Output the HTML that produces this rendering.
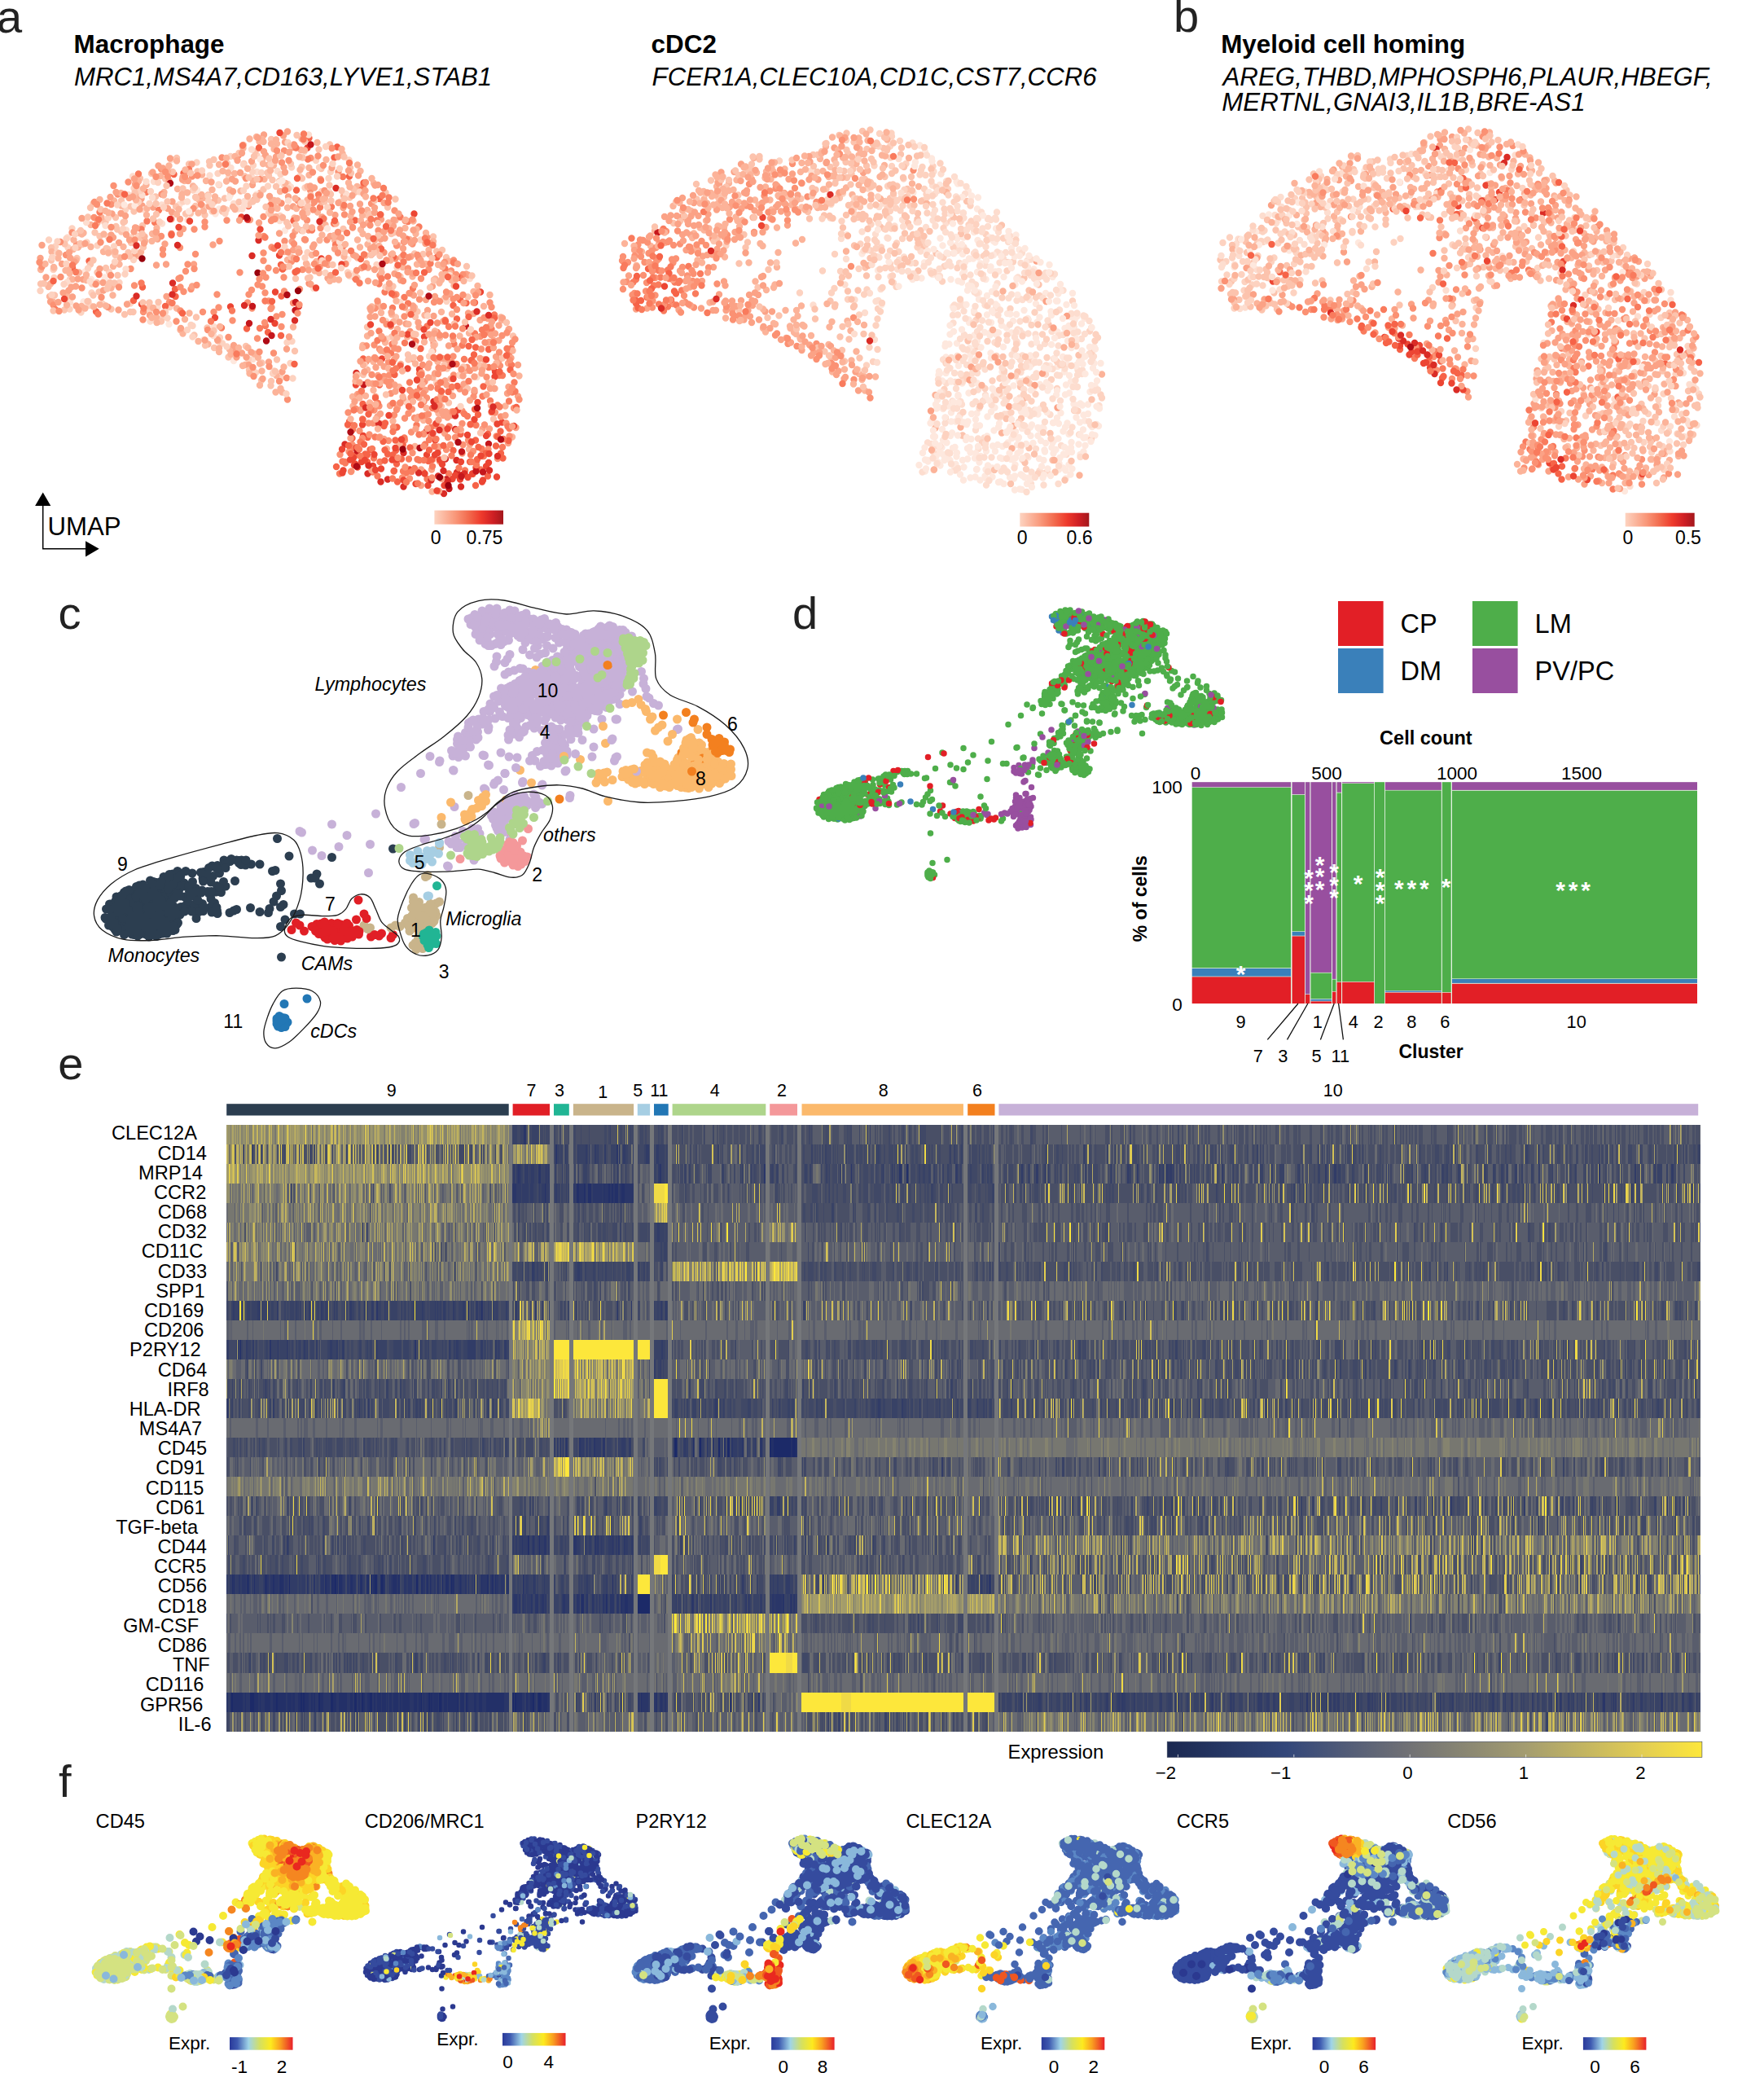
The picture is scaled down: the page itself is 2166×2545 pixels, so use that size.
<!DOCTYPE html><html><head><meta charset="utf-8"><title>Figure</title><style>html,body{margin:0;padding:0;background:#fff;width:2166px;height:2545px;overflow:hidden}svg{display:block}text{font-family:"Liberation Sans",Arial,Helvetica,sans-serif;fill:#000}.b{font-weight:bold}.i{font-style:italic}.pl{font-size:56px;fill:#222}</style></head><body><svg width="2166" height="2545" viewBox="0 0 2166 2545"><defs><linearGradient id="reds" x1="0" x2="1" y1="0" y2="0"><stop offset="0" stop-color="#fdd3c0"/><stop offset="0.3" stop-color="#f9987a"/><stop offset="0.5" stop-color="#f26a4d"/><stop offset="0.68" stop-color="#ee3a2c"/><stop offset="0.85" stop-color="#cf1f24"/><stop offset="1" stop-color="#a3171c"/></linearGradient></defs><text x="-4" y="39.7" class="pl" >a</text><text x="1441" y="38.5" class="pl" >b</text><text x="90.6" y="65.2" font-size="31.4" class="b" >Macrophage</text><text x="91" y="105.3" font-size="31.2" class="i" >MRC1,MS4A7,CD163,LYVE1,STAB1</text><text x="799.6" y="65" font-size="31.4" class="b" >cDC2</text><text x="800.6" y="105.1" font-size="31.2" class="i" >FCER1A,CLEC10A,CD1C,CST7,CCR6</text><text x="1499.2" y="65" font-size="31.4" class="b" >Myeloid cell homing</text><text x="1501.5" y="105" font-size="31.3" class="i" >AREG,THBD,MPHOSPH6,PLAUR,HBEGF,</text><text x="1500.2" y="135.8" font-size="31.3" class="i" >MERTNL,GNAI3,IL1B,BRE-AS1</text><path d="M52.7 620V673.8H106" fill="none" stroke="#000" stroke-width="1.5"/><path d="M52.7 604.5l-9.6 16.6h19.2zM121.7 673.8l-16.7 -9.6v19.2z" fill="#000"/><text x="58.5" y="657.2" font-size="31.2" >UMAP</text><rect x="533.4" y="626.6" width="84.6" height="17.1" fill="url(#reds)"/><text x="535.2" y="667.5" font-size="23" text-anchor="middle" >0</text><text x="595" y="667.5" font-size="23" text-anchor="middle" >0.75</text><rect x="1252.3" y="629.7" width="85.0" height="16.8" fill="url(#reds)"/><text x="1255.1" y="667.5" font-size="23" text-anchor="middle" >0</text><text x="1325.6" y="667.5" font-size="23" text-anchor="middle" >0.6</text><rect x="1995.7" y="629.7" width="85.0" height="16.8" fill="url(#reds)"/><text x="1998.8" y="667.5" font-size="23" text-anchor="middle" >0</text><text x="2072.9" y="667.5" font-size="23" text-anchor="middle" >0.5</text><g stroke-linecap="round" fill="none"><path d="M269 256.5h0m-4.5 6h0m85.5 20.5h0m77.5 35.5h0m-323 15h0m24 7h0m121.5 76.5h0m37 26h0" stroke="#fee8de" stroke-width="8.4" /><path d="M163 216.5h0m94.5-1h0m52 2.5h0m-120.5 5h0m94 16h0m-62.5 12h0m66.5-1h0m2 4.5h0m3.5 2h0m160 4h0m-222 9.5h0m-147.5 21.5h0m49.5-1h0m444.5 51.5h0m-383.5 35h0m-9 17.5h0m126 46.5h0m275 22h0m-31.5 15h0" stroke="#fdddcf" stroke-width="8.4" /><path d="M315.5 191h0m72.5 6h0m40.5-0.5h0m-187 3h0m69.5 3.5h0m57 13.5h0m-203.5 14.5h0m189-5h0m41.5 9h0m-241 22.5h0m71-10h0m115 3h0m-79.5 9h0m83.5 5.5h0m-255.5 15.5h0m39.5-8h0m-46.5 20.5h0m-15 48h0m19.5 2h0m-36.5 14h0m76.5 16h0m34-0.5h0m-74.5 7h0m98 3h0m14.5 9h0m36.5 7.5h0m239.5-4.5h0m-204 20h0m3 7h0m79.5-1h0m-47.5 20.5h0m9 16.5h0m29.5 8.5h0m1.5-2h0m191 6h0m-100.5 18h0m19.5 7.5h0m43.5-2h0" stroke="#fdd2c0" stroke-width="8.4" /><path d="M333 171h0m-19.5 15h0m78-2.5h0m-174.5 10.5h0m45.5 2h0m-30.5 5.5h0m67.5-0.5h0m71 4h0m24 2h0m-222.5 12h0m31 0.5h0m131.5 1.5h0m-65.5 6h0m7 16.5h0m153.5-1h0m6.5-6.5h0m37.5 0.5h0m-359 13.5h0m46 3.5h0m79.5-0.5h0m28-7h0m149.5 2h0m59 1.5h0m-334.5 17.5h0m22.5-7.5h0m63.5 3h0m6-0.5h0m39-2.5h0m178.5 5h0m-322 8h0m13 5.5h0m1.5 3.5h0m31-4.5h0m-58.5 8.5h0m6 4.5h0m361-4.5h0m48.5 5h0m-431 9.5h0m60-2h0m-66.5 19h0m414.5-5.5h0m10.5 0.5h0m23.5-5h0m5 9h0m-197.5 12h0m27-2h0m90.5 3.5h0m105-2.5h0m-428.5 11h0m236 2.5h0m111-1h0m-407 25.5h0m37-6.5h0m360 0h0m-298 17.5h0m11-5h0m374.5 1h0m-432.5 7.5h0m23.5 3.5h0m81 6.5h0m261.5-6h0m7.5 5.5h0m-271.5 22.5h0m242.5 2h0m51-4h0m62-3.5h0m-292 19h0m298.5 0h0m-337.5 2h0m17.5 11.5h0m59.5 3h0m209 11h0m-228 14.5h0m250 6.5h0m-29 25.5h0m64 15.5h0" stroke="#fcc3ad" stroke-width="8.4" /><path d="M315 168h0m24 3.5h0m31.5-1h0m-72 11.5h0m41.5-5.5h0m-17.5 18.5h0m98-6.5h0m-144 13.5h0m53 0.5h0m6.5 0.5h0m32.5 5.5h0m-120.5 6h0m40-1.5h0m36.5 7h0m118-10h0m-263 17h0m38.5 5h0m210-7.5h0m10.5 4.5h0m0.5 2.5h0m-268 8h0m30.5-3.5h0m21.5 6.5h0m22 3.5h0m5-3h0m5.5-3.5h0m64-2.5h0m24.5-2h0m78 5.5h0m-282 6h0m9 6h0m1 0h0m113-5h0m25.5 9.5h0m48-11h0m4 10h0m12.5-1h0m21 2h0m-249.5 10h0m237 0.5h0m28.5-7h0m55 4h0m6-6.5h0m-339.5 18h0m264 4h0m67.5 2h0m9-8.5h0m23 7h0m10.5-10h0m12 9.5h0m-397 7.5h0m91.5-2.5h0m253.5 2h0m-349.5 16.5h0m55.5-0.5h0m26.5-7h0m214.5-1h0m18.5 0h0m28-0.5h0m12.5 5.5h0m14 2h0m23-1h0m14.5-7h0m-431.5 23h0m97.5-3h0m4-4.5h0m176.5-0.5h0m73 6h0m26.5-1.5h0m43.5 2.5h0m34-9h0m-387.5 20h0m237-3.5h0m12.5-2.5h0m78 6h0m28 1h0m27.5-4h0m2 0.5h0m14 0.5h0m-488 6h0m30.5 1h0m16.5 2.5h0m-37.5 17.5h0m2.5-3.5h0m27-5.5h0m47.5 10.5h0m3-4.5h0m270.5-6h0m6 0.5h0m170.5 7.5h0m-525.5 13h0m21-4.5h0m56.5 3h0m443-4.5h0m20 4h0m-536.5 8.5h0m399 2h0m2 4h0m43 1h0m-317 12h0m8.5-4h0m321 1.5h0m-327.5 8h0m350-0.5h0m72-1.5h0m-394.5 12h0m3 4.5h0m226.5 3h0m37-8.5h0m88 5h0m-320.5 13.5h0m190 1.5h0m-133 10.5h0m-11.5 13.5h0m16-9h0m141.5 5h0m79 0h0m-86.5 10h0m90-1h0m32-0.5h0m13.5-2.5h0m-55 13.5h0m-73 15.5h0m-25.5 8h0m0.5 11.5h0m90 2.5h0m15 6.5h0m82-9h0m-158 17.5h0m20 1h0m37.5-1h0m21 8h0m88 12.5h0m-154 14.5h0m34.5-3h0m66.5 3.5h0m-144.5 27h0" stroke="#fcb399" stroke-width="8.4" /><path d="M324 165.5h0m26 9h0m9.5 6.5h0m-33.5 9.5h0m13 2h0m-103.5 9h0m-28 20.5h0m81.5 0.5h0m21 4.5h0m154 0h0m-290.5 17h0m73-4h0m65.5 5.5h0m42-4h0m78.5-1.5h0m-258 12.5h0m13.5 2h0m68.5-1h0m103.5 0h0m61.5 1.5h0m20.5-4.5h0m-304.5 12h0m73 6.5h0m0.5-8.5h0m10 8.5h0m174.5-2.5h0m72.5 3h0m-243 11.5h0m82-11h0m126 9.5h0m50-2h0m-289.5 16h0m177-10.5h0m97 10.5h0m22.5-7h0m-344 11.5h0m212.5-1.5h0m96.5 9h0m-405.5 11.5h0m115.5-3h0m195-7h0m74 6h0m46.5 0h0m-242.5 11.5h0m165 0.5h0m115.5 0h0m-139.5 6.5h0m105.5 4.5h0m88 0.5h0m2 1h0m-472.5 5.5h0m390 1h0m-414.5 15.5h0m427.5 1h0m29 3.5h0m-472 6.5h0m94 3h0m351 2h0m30-6.5h0m-353 18h0m270.5 2h0m70.5-8h0m50 3.5h0m6.5 0.5h0m-83 12.5h0m16 4h0m98-2h0m-390.5 3.5h0m233.5 6h0m169-4.5h0m0.5-0.5h0m-24.5 16h0m5.5-2h0m6.5 0h0m-324 11h0m198 8.5h0m45-7h0m-241 8h0m12 0h0m3 9.5h0m200.5-7.5h0m21 6h0m67.5-5h0m18 1.5h0m11.5 3h0m-277.5 10.5h0m117.5 4.5h0m-141.5 4h0m222 4.5h0m2-2h0m2 5h0m21-1h0m13-9h0m-143.5 21.5h0m22 3h0m34 2h0m43 4.5h0m18-7.5h0m-113.5 18h0m1-1.5h0m23.5 5.5h0m21-7.5h0m55 5h0m1.5 4.5h0m9.5 0h0m-33.5 23h0m22-8.5h0m50 2h0m8.5 0h0m-24 19h0m-45.5 18.5h0" stroke="#fba286" stroke-width="8.4" /><path d="M293 190.5h0m88.5 3.5h0m-183.5 13.5h0m38 9h0m-66.5 6.5h0m211.5 10.5h0m65.5-6h0m-302 11h0m254-4.5h0m-282.5 14h0m20.5 3h0m101 5h0m128-10h0m18.5 3.5h0m72 0.5h0m-132.5 16h0m120.5-7.5h0m40.5 0h0m-246 23h0m138.5-11h0m16.5 9.5h0m61-3.5h0m-366 9h0m109.5 4.5h0m126 0h0m55-7.5h0m145.5 9h0m-430.5 9h0m127 3.5h0m48.5-8h0m80 0h0m25.5-1.5h0m26.5 0h0m94.5 2.5h0m10.5 2.5h0m-425.5 13.5h0m286.5-3.5h0m104 0.5h0m14 7.5h0m28.5-1h0m-462.5 11h0m109 2.5h0m70-5.5h0m155.5-0.5h0m115 5.5h0m-279.5 11.5h0m6.5-8h0m111-1h0m32.5-1h0m64.5 10.5h0m30.5-3.5h0m50.5 4h0m9.5-11h0m27.5 1.5h0m14.5 4.5h0m-349 5h0m160 6h0m115.5-3h0m-260.5 10h0m32 6.5h0m-201 13h0m35 2h0m32 0.5h0m171.5-5.5h0m26-2h0m30 2.5h0m155-4.5h0m41.5-0.5h0m45 4.5h0m-425.5 11.5h0m73 0h0m60.5-4.5h0m37 7.5h0m114-7.5h0m-175 15h0m194.5 7h0m57-4h0m-33.5 10.5h0m4 5.5h0m82.5 0.5h0m10-5h0m-150 16.5h0m82.5-3.5h0m-196.5 12.5h0m130-5h0m-16.5 15.5h0m164.5 5h0m-136 11.5h0m79 0h0m48.5-9h0m-154 18h0m20-7.5h0m50 6.5h0m16 4h0m60-9.5h0m-156 20.5h0m38.5-0.5h0m25-2h0m4 4h0m55.5-7.5h0m18 4h0m-78 6.5h0m16 5h0m3.5-4.5h0m57.5-1.5h0m-55.5 21.5h0m9.5-6h0m19.5 3h0m12.5-1h0m40.5 2h0m23-5.5h0m-186 13.5h0m7.5 5h0m5.5 0h0m64.5-9.5h0m45 10h0m-126 9h0m63.5 1.5h0m-72.5 15.5h0m64.5-5.5h0m62-3.5h0m9.5 9h0m6.5-5.5h0m-80.5 6h0m58.5-0.5h0m14.5 10.5h0m-150 1.5h0m122.5 8.5h0m71-3.5h0m-180 16h0m66.5 2h0" stroke="#fb9173" stroke-width="8.4" /><path d="M378 195.5h0m43 21.5h0m23 16h0m-264.5 3h0m211.5 3h0m2 15.5h0m14-0.5h0m-284.5 6.5h0m369 6h0m-311 5h0m9.5 1.5h0m272.5-2.5h0m38.5 1.5h0m13.5 6.5h0m-15 15h0m-87.5 7h0m9.5 1.5h0m74 11h0m62.5 9h0m7 19h0m-99.5 7.5h0m7 10h0m79 2.5h0m-69.5 17h0m-414 2h0m258 20h0m198.5 0.5h0m22-7.5h0m4.5 8h0m-66.5 8h0m107.5-4h0m11.5-1h0m-106.5 17h0m60.5 1.5h0m10 1.5h0m-87.5 9.5h0m145 0.5h0m3-6.5h0m-76.5 21.5h0m28-7h0m48.5 6h0m-113 10.5h0m102 2.5h0m14.5 8.5h0m-115.5 6h0m76.5 11h0m9.5 5.5h0m9 5.5h0m14-5h0m-55 15.5h0m-58.5 14h0m66.5-1h0m6.5 1h0m41 4h0m-129 11.5h0m-64.5 12.5h0m185-1h0m-196.5 17.5h0m3.5 2h0m35-6h0m7.5 4.5h0m46-3h0m-55 15.5h0m37.5-1h0m76-1h0m19-1h0m-65.5 11.5h0" stroke="#f97b5d" stroke-width="8.4" /><path d="M379.5 169.5h0m34.5 11h0m-3.5 13h0m-197 20.5h0m12-1.5h0m203.5 4h0m-65 17h0m82.5-9h0m19.5 19.5h0m-161 9h0m131 17.5h0m32 35h0m15 10h0m-394 13h0m20.5-8h0m235.5 4.5h0m2 5.5h0m174 4h0m-455.5 10.5h0m109.5 7.5h0m40 2.5h0m0.5 9h0m130-0.5h0m211 11.5h0m8.5-7h0m-447 14.5h0m457.5 6.5h0m-14.5 2.5h0m-258 12h0m26 4.5h0m246.5 17h0m6.5 10.5h0m2-9h0m16 2.5h0m-154 11.5h0m132.5 2h0m48 11.5h0m-65 20h0m-116 22h0m15.5-7.5h0m122 14h0m-154 15h0m136.5 15.5h0m33.5 0h0m15.5-3.5h0m-163 7.5h0m24.5 20.5h0m18.5-11.5h0m9 3.5h0m53 3.5h0m-119.5 5.5h0m14 8.5h0m31.5-8.5h0m4.5 11h0m43-5h0m-10.5 15h0m65.5-4.5h0m-97 16.5h0m92.5-9.5h0m18.5 2.5h0" stroke="#f66348" stroke-width="8.4" /><path d="M377.5 181.5h0m131 81h0m-289 16.5h0m123.5 34.5h0m51.5 4h0m166.5 21.5h0m-223 19.5h0m252 0h0m-416 15h0m109 3h0m54.5 20.5h0m163 55.5h0m14.5 1h0m93 3h0m-171 16h0m149.5 21.5h0m-24.5 9.5h0m-117 18h0m137.5-6.5h0m28 5.5h0m6-2h0m-132 6.5h0m-38.5 10h0m88.5 5.5h0m62.5-5.5h0m-159 14.5h0m-4 12.5h0m90-3.5h0m10 0h0m6 6h0m3 5.5h0m-108 1h0m23 1h0m45 4.5h0m77 5h0m4.5-7.5h0m-29 14h0m36.5 3.5h0m-81.5 2.5h0m15 2h0" stroke="#ec4533" stroke-width="8.4" /><path d="M412.5 231h0m-203.5 38h0m108.5 26h0m44.5 98.5h0m170.5 99.5h0m-83.5 7.5h0m110 26.5h0m-135.5 18.5h0m72 10.5h0m51.5 7.5h0m13.5 1.5h0m-109 16.5h0m109.5-1.5h0m9.5 1.5h0m-94.5 7h0m91.5-5.5h0m-72 14.5h0m49.5 8.5h0m21-8.5h0" stroke="#da2c26" stroke-width="8.4" /><path d="M381.5 177.5h0m-71.5 198.5h0m52.5 5h0m209.5 19.5h0m-238.5 11.5h0m113 60.5h0m-8 81h0m128.5 1h0m17.5 12.5h0m0 11.5h0" stroke="#c5171c" stroke-width="8.4" /><path d="M515.5 550h0" stroke="#af0b15" stroke-width="8.4" /><path d="M315 238.5h0m-83 21h0m199 76.5h0m-319 7h0m17 1h0m-26.5 26.5h0m105 27.5h0" stroke="#fee8de" stroke-width="8.4" /><path d="M309 183.5h0m-99 12.5h0m163.5-9.5h0m-33 23.5h0m-25 1h0m-47 15.5h0m-111 12.5h0m247-3h0m20.5 2h0m-248 19.5h0m21.5-6h0m99 5h0m82.5-9.5h0m-274 26h0m23.5 4h0m69.5-2.5h0m144.5-3.5h0m-188.5 11.5h0m298.5 11h0m-36.5 3.5h0m-70 11h0m-192.5 22.5h0m230.5 23.5h0m-299 17.5h0" stroke="#fdddcf" stroke-width="8.4" /><path d="M283 192h0m16 10h0m33.5-0.5h0m25.5 4h0m34 0h0m-124.5 7.5h0m13.5 5h0m29-7h0m11 1h0m23.5 2h0m59 5h0m2.5-8h0m-103.5 17.5h0m47-0.5h0m25 2.5h0m67 5h0m-271.5 12.5h0m138-0.5h0m-175 20h0m197-6h0m-168.5 30h0m8.5-1.5h0m202-6.5h0m-304 19h0m15.5 1.5h0m23-6.5h0m311 7h0m99-10h0m-351.5 13.5h0m209.5 8.5h0m21 3.5h0m92 8.5h0m-422 2.5h0m88 5.5h0m273.5-2h0m9 2.5h0m-323 11.5h0m33.5-1.5h0m-34 12.5h0m-4 10.5h0m2 5h0m98 2h0m336.5-10h0m3.5 3h0m-449 13.5h0m106 7h0m24.5 14.5h0m6.5 8.5h0m238.5 2.5h0m52 21.5h0m-170.5 8.5h0m91 2h0m-111 7.5h0" stroke="#fdd2c0" stroke-width="8.4" /><path d="M374 173.5h0m31 4h0m-111.5 10.5h0m37 6.5h0m13.5-3.5h0m27.5 2.5h0m58.5 12.5h0m-218 5h0m30.5-0.5h0m58 6h0m70.5 2.5h0m60-6.5h0m-206.5 19h0m99 1h0m19.5-10h0m91 9.5h0m-283 8h0m19.5-6h0m20.5 7.5h0m49 0.5h0m75.5 3h0m66-5.5h0m41.5 4.5h0m-312 11h0m38-8.5h0m42.5 3.5h0m24.5 3.5h0m33-0.5h0m44.5-5h0m8 0h0m3.5 3.5h0m73 1.5h0m82-7h0m16 8.5h0m-224.5 9.5h0m81-0.5h0m121.5-0.5h0m-302.5 10h0m1.5-1h0m268.5 9h0m-272.5 3.5h0m24.5 8h0m307-5.5h0m-417.5 17h0m10.5-7h0m6 2.5h0m19-0.5h0m32 6h0m45.5-1.5h0m-37 5.5h0m18.5 1h0m266 0h0m43 4h0m69.5-5.5h0m-473 11h0m3.5 10h0m23.5-10.5h0m21 5.5h0m297.5 0.5h0m-45.5 17h0m15-0.5h0m-324 6.5h0m65-1h0m21.5 0.5h0m342 4h0m-415.5 11h0m47.5 0h0m-7 7.5h0m68 1.5h0m8 0h0m-118 10h0m13.5-1h0m74 5.5h0m10.5-3h0m322.5 6.5h0m26.5-7h0m-314.5 12h0m253 7h0m107-4h0m13-2h0m-316.5 7h0m-2.5 21.5h0m230 1h0m52-2h0m-172 8h0m139 4.5h0m-179.5 10h0m186.5-6.5h0m-202 15.5h0m268 22.5h0m-55 15.5h0m32 2h0m39 37h0m-44.5 30.5h0" stroke="#fcc3ad" stroke-width="8.4" /><path d="M322 171h0m-3.5 3h0m14.5 2.5h0m3.5 6.5h0m33 1h0m4.5 0.5h0m15.5-9.5h0m30 8h0m-202.5 14.5h0m150.5-5h0m-161.5 17.5h0m63-8h0m35 5h0m75.5-1h0m-126.5 16h0m126.5-7h0m77 4h0m-230 3h0m10.5 6.5h0m41-6h0m4 10.5h0m29-11h0m39.5 3h0m27 4h0m-229 8h0m75 1.5h0m24 0.5h0m16.5 2.5h0m31.5-7h0m38 11h0m29-2h0m15 2h0m-197 10.5h0m105.5-2h0m50-1h0m28 3h0m31-8h0m-151.5 13.5h0m95.5 4.5h0m60.5 10h0m43.5-5h0m34 2.5h0m34.5 8h0m-414.5 4.5h0m5.5 0h0m25 1.5h0m50 3h0m14 2h0m204-4h0m75-4h0m40 2.5h0m-420.5 19h0m0.5-11.5h0m21 8.5h0m255 2.5h0m75.5-2h0m18-8.5h0m72 1.5h0m-468.5 12.5h0m63.5 0h0m20.5 7.5h0m291.5 0h0m23-9h0m-396 20.5h0m27.5-8.5h0m53 5h0m206.5-5.5h0m97 4.5h0m62 1h0m38.5-4h0m-466.5 9.5h0m302.5 2.5h0m5.5 2.5h0m76.5-0.5h0m38 5h0m36-2.5h0m10-1.5h0m-446.5 8.5h0m427-0.5h0m1.5-1h0m-454.5 24h0m20 9.5h0m15 0.5h0m15-1h0m464 0.5h0m-406 2h0m29 0.5h0m264 7.5h0m61-3h0m13 2.5h0m60 4h0m-428.5 0.5h0m6 6h0m34.5-4h0m133 9.5h0m140 12h0m64.5-1h0m-297 6h0m205.5 2h0m14.5-6h0m45 10h0m7.5-10h0m-258 14.5h0m1.5 6h0m21-8h0m141.5 21h0m46-1h0m97 1.5h0m20.5-2.5h0m-270 15h0m233-6h0m65 6.5h0m-318.5 11.5h0m117.5-5h0m117-3h0m46 5.5h0m-261 11h0m8 0h0m143.5-6.5h0m-48.5 13.5h0m12.5 6h0m40.5-7.5h0m108.5 11h0m-172.5 16.5h0m135.5 13.5h0m-75.5 17.5h0" stroke="#fcb399" stroke-width="8.4" /><path d="M316.5 169h0m-19.5 19h0m118 4.5h0m-106 5.5h0m39.5 7.5h0m59 0.5h0m-183.5 14.5h0m61-0.5h0m10-8h0m-64 10h0m150 6.5h0m67.5 5.5h0m-313 8h0m311-4h0m-240.5 18h0m5.5-8.5h0m260 1.5h0m-371 19h0m48-6h0m114-3h0m149 5h0m48.5-3h0m23.5 9h0m6-7.5h0m-323.5 17h0m152-6h0m-0.5 15.5h0m45-5h0m43 6h0m10.5 0.5h0m79-1h0m-233.5 11h0m124 0h0m109.5 4.5h0m9.5-7h0m4.5-3h0m13.5 4h0m6-0.5h0m-1.5 13.5h0m-451 12h0m116 1.5h0m252 3.5h0m72.5-9.5h0m-114 22h0m98-7.5h0m6 1.5h0m-380 11.5h0m109.5 4.5h0m145.5-2.5h0m79.5-2h0m70 4.5h0m-404 5h0m77.5 7.5h0m303.5-1.5h0m44.5-2h0m34.5-1.5h0m-515.5 12h0m22 4.5h0m429.5-7.5h0m-377.5 12.5h0m310 0.5h0m25 2.5h0m52 4.5h0m-42 7.5h0m108.5-4.5h0m3.5 8.5h0m14.5-9h0m-14 20.5h0m-336 6h0m20 7h0m264 0.5h0m5.5-7.5h0m-259.5 16.5h0m170.5-3h0m4.5 1h0m89.5-3h0m44.5-1.5h0m3 11h0m-279 6.5h0m112.5-1h0m41.5-2h0m59.5-1.5h0m6 3h0m40-3h0m38-0.5h0m-166 11.5h0m10-1h0m62.5 8.5h0m-62 8.5h0m50.5 12h0m60 0h0m15 5.5h0m4.5-7.5h0m5 0h0m0.5 0h0m15.5 6h0m-187.5 10h0m43.5 5h0m12-3h0m23.5-7h0m62.5 3.5h0m59-5h0m-172.5 25h0m86 1h0m-3.5 19.5h0m19-5.5h0m68.5-1.5h0m-162 14h0m152.5 5h0m-167.5 33.5h0m60.5-1h0m13 0h0m9 26.5h0" stroke="#fba286" stroke-width="8.4" /><path d="M349 185h0m12-7.5h0m46.5 4.5h0m-135 11.5h0m118-2h0m-44.5 8h0m51 3.5h0m-95 16h0m17 1h0m96.5-9h0m-276 17h0m309.5-4h0m-250.5 14.5h0m193 6h0m-46 5h0m23.5 2h0m15.5 6h0m-50 12h0m3-0.5h0m85.5-5.5h0m-286.5 15.5h0m115-0.5h0m0-6h0m246-1.5h0m-138 18.5h0m105-6.5h0m-390.5 14h0m287 2.5h0m126 2h0m-287 4.5h0m40 6h0m83.5-1.5h0m189 2.5h0m-183 16h0m28.5-8h0m34.5 7h0m6.5-4.5h0m25.5 0.5h0m50-4h0m71.5 2h0m11-2.5h0m-262.5 15h0m194.5 3.5h0m71-1h0m-442.5 12h0m47.5 1.5h0m157 1h0m-96.5 6.5h0m80 3.5h0m3.5-5.5h0m177.5 5.5h0m74.5 3.5h0m-353 6h0m125.5 6.5h0m137.5-1.5h0m62-5h0m70.5 6h0m-531 5h0m190 1h0m70-4h0m7 9.5h0m26-4h0m195.5-4.5h0m-344.5 14.5h0m253.5-1.5h0m-215 12h0m282 3h0m85.5 0.5h0m-306.5 7h0m143.5 8h0m11-7.5h0m99 2.5h0m-251 13.5h0m238 5.5h0m-79.5 7h0m42 3.5h0m45.5 12.5h0m9-9.5h0m3.5 4h0m53.5 4h0m-278.5 5h0m123 4.5h0m5 0h0m32.5-2h0m-1 14.5h0m-158.5 9.5h0m138.5 4h0m48 3h0m-112 9h0m9.5-4.5h0m22.5 1.5h0m6-5h0m36 9h0m4.5-5h0m-45 16.5h0m7 1.5h0m29-7h0m12-0.5h0m17.5 4h0m68.5 4.5h0m20-10h0m6.5 8h0m-168 14h0m80.5-11h0m26.5 6h0m-115.5 9.5h0m32 3h0m52-5.5h0m80.5 0h0m16 0h0m-197 19h0m78 1.5h0m32-7.5h0m42.5 5.5h0m-87 32.5h0" stroke="#fb9173" stroke-width="8.4" /><path d="M372.5 171h0m-9 10.5h0m-131.5 26.5h0m-62 5.5h0m288.5 30h0m-327 6h0m63.5 8.5h0m137-6h0m90.5 0h0m54-3.5h0m-79 20h0m58 0.5h0m-282 12.5h0m236.5-7h0m-199.5 12.5h0m115 4.5h0m57.5-9h0m97 0.5h0m51.5 18h0m-128 16h0m125 6.5h0m18 6.5h0m10.5-7.5h0m-464 11.5h0m375.5 8h0m-295 5.5h0m333.5 6.5h0m-23 8.5h0m12.5 2.5h0m-285 7h0m114-2.5h0m175.5 3h0m-380.5 13h0m164.5-4h0m322 5h0m-10 15.5h0m-325 0.5h0m193.5 4h0m90.5 6h0m27-3h0m-119.5 8.5h0m18 4.5h0m29-3.5h0m-35.5 10.5h0m85.5 17.5h0m39.5 4h0m13 10h0m-110 8.5h0m38 0h0m34.5-1.5h0m-34 12h0m13.5-5h0m74 6.5h0m3.5-1h0m-168.5 14.5h0m18.5 0h0m54-4.5h0m-81 13h0m75.5-2.5h0m72.5 5h0m-170.5 21.5h0m96-2.5h0m22.5-1.5h0m72 0h0m-181 19h0m18-6h0m61.5 9h0m-81 6h0m150.5-0.5h0m-168 16h0m154.5-8.5h0m13.5 1.5h0m2.5 0h0m-177 21.5h0m66.5-3h0m16 1.5h0m31.5-7.5h0m20 9h0m34-10.5h0m-121.5 13.5h0m18.5 3h0" stroke="#f97b5d" stroke-width="8.4" /><path d="M318 181.5h0m47 37.5h0m-4.5 52h0m-150 17.5h0m232.5 29.5h0m13-5.5h0m80.5 3.5h0m-146 13.5h0m-28 4.5h0m-159.5 42h0m369.5-4h0m10.5-0.5h0m-36 23h0m60-4h0m-90.5 37.5h0m-155 19h0m120.5-2h0m9.5 4h0m-7 11h0m-18.5 12.5h0m84.5 8.5h0m43-6.5h0m-141 34h0m134.5 0.5h0m47-9h0m-207 21.5h0m18.5-6.5h0m26 8h0m16 1.5h0m-55 13.5h0m14.5 7.5h0m23.5-3.5h0m15-1.5h0m98.5 0h0m27-4.5h0m13.5 5h0m-196.5 6h0m20.5 10.5h0m6-5.5h0m31.5 1h0m41-0.5h0m60.5-3.5h0m27.5 7.5h0m-122 7h0m33 2.5h0m51 1h0m9-3h0m31.5-1.5h0m-204.5 10.5h0m71 5h0" stroke="#f66348" stroke-width="8.4" /><path d="M296.5 266.5h0m23 15h0m100 43h0m-31.5 29h0m-124 36.5h0m191 8.5h0m73.5-2.5h0m-28 14.5h0m20.5 3h0m-52 27h0m128 1h0m10.5 21h0m-113.5 16.5h0m110 26h0m-68.5 15h0m14 6.5h0m24.5 7.5h0m57-11h0m-138 16.5h0m-73 12h0m10 13h0m6 5h0m8-2.5h0m37.5-2.5h0m5.5-0.5h0m-66.5 16.5h0m1-3h0m39.5-0.5h0m60.5 4.5h0m-26 8h0m63.5-6h0m6 5h0" stroke="#ec4533" stroke-width="8.4" /><path d="M304 269.5h0m88.5 2.5h0m-83 42h0m57.5 62h0m70.5 82h0m96 41h0m-68.5 21h0m94-9.5h0m-35 18.5h0m15.5-1h0m-87 43.5h0m61.5 9h0m15.5 9h0m8.5-5h0" stroke="#da2c26" stroke-width="8.4" /><path d="M363 371h0m-57 26h0m294 148h0m-52 43.5h0" stroke="#c5171c" stroke-width="8.4" /><path d="M209 225h0m353.5 318h0" stroke="#af0b15" stroke-width="8.4" /><path d="M174.5 317.5h0m142 17.5h0" stroke="#99000d" stroke-width="8.4" /><path d="M319.5 195.5h0m27 26.5h0m-104.5 11.5h0m101-9.5h0m-61.5 18.5h0m-129 9h0m13 1h0m236.5 28h0" stroke="#fee8de" stroke-width="8.4" /><path d="M379 165.5h0m-95.5 40.5h0m-104 17h0m177.5 6.5h0m-182.5 10h0m12.5 3h0m43 5h0m70 4.5h0m0.5-5h0m53.5-0.5h0m17.5 2.5h0m-252 20h0m310 70h0m122.5-1h0m-469.5 8.5h0m28-1h0m381 25.5h0m-229 30h0m-0.5 11h0m268 20h0" stroke="#fdddcf" stroke-width="8.4" /><path d="M353.5 175h0m46.5 5h0m-61.5 17.5h0m-90.5 12h0m31-9h0m129.5 0.5h0m8.5 6h0m-3 9.5h0m-241.5 17.5h0m21.5-10h0m43 9.5h0m92-5h0m-144 6.5h0m70.5 5.5h0m43.5-6.5h0m-155 17.5h0m39.5-1.5h0m17.5 4.5h0m55-8h0m4.5 4.5h0m17.5 6.5h0m91.5-8h0m32.5 5h0m-125.5 7.5h0m-125.5 19h0m45-8.5h0m-104 15h0m-32 7h0m10.5 2h0m22 7.5h0m27-2.5h0m20.5 1h0m209.5 0.5h0m-285.5 13h0m6-6h0m307.5 0h0m-296 14h0m26.5 5.5h0m33-8h0m23-2.5h0m255 10h0m43.5-4h0m-328.5 9h0m265.5 1h0m-321 14h0m395 3.5h0m-410 9.5h0m139.5 21h0m322 4.5h0m-288.5 12.5h0m341.5 4.5h0m-299.5 21h0m80-6.5h0m151 5.5h0m-174.5 34h0m229.5 2h0m-205 4h0m-8 19h0m214 15.5h0" stroke="#fdd2c0" stroke-width="8.4" /><path d="M364.5 166h0m-65.5 12h0m57.5 1h0m-44.5 13h0m33.5-1h0m77 1.5h0m-165.5 6h0m0.5 4.5h0m99.5-2h0m-171 12h0m48-0.5h0m71.5 5.5h0m10 2h0m13-8h0m1.5 3.5h0m-125.5 12.5h0m34.5 2.5h0m100-1.5h0m15 2.5h0m50.5-4h0m15 6.5h0m-254 2.5h0m75.5 6.5h0m73-2.5h0m92-2h0m79.5 6h0m-362 12.5h0m82-9.5h0m105 0h0m16 6.5h0m72-6.5h0m8-1h0m-298.5 20h0m80 2h0m4-5.5h0m179.5 0.5h0m6-2.5h0m-25.5 12h0m2 4.5h0m9-1.5h0m2.5 4.5h0m10.5-2.5h0m88-4h0m-365 9h0m75.5 4h0m290 2h0m-332.5 16.5h0m28.5-10h0m-19 17.5h0m17.5 1.5h0m198.5 1h0m98-2.5h0m4-3h0m71 7h0m-416 2.5h0m15.5 9.5h0m225-2h0m-235.5 7.5h0m319 6.5h0m141-2.5h0m-529.5 10h0m83 2.5h0m2-4h0m393 6h0m5-8.5h0m-401.5 10h0m384.5 5h0m58.5 5h0m47.5 31.5h0m-359.5 10h0m245.5 4h0m2.5 0.5h0m119.5 2h0m-128.5 29h0m44 6.5h0m44 1.5h0m27.5-10h0m-279 16.5h0m100.5 4.5h0m7.5-0.5h0m123-9.5h0m-236.5 23h0m0.5-5.5h0m272 1h0m-131 15.5h0" stroke="#fcc3ad" stroke-width="8.4" /><path d="M306.5 170.5h0m17 3.5h0m-45.5 20h0m10.5-2h0m112 4h0m-193 7.5h0m20 5h0m95.5-7.5h0m9 8.5h0m107-7h0m-242 13.5h0m76.5-6h0m6.5 2h0m-110 10.5h0m6 9h0m84.5 1.5h0m169-3.5h0m29.5-4.5h0m-336.5 20h0m44.5 0.5h0m34-6h0m29-3h0m74 4.5h0m92.5 3.5h0m2.5-1.5h0m50-1.5h0m-229.5 15.5h0m55-1h0m66.5-9.5h0m-211.5 12.5h0m3.5 2h0m47 3h0m37-1h0m33-4h0m97 8h0m58-6h0m25.5 4h0m-311 8.5h0m73 6.5h0m190.5-0.5h0m29.5-5h0m85.5-4.5h0m9.5 1.5h0m-320.5 15.5h0m223.5 2h0m41.5 1h0m71-4h0m-336.5 10h0m237.5 4h0m61-3h0m-412.5 14h0m60.5-0.5h0m8.5-1.5h0m241.5 4h0m99-1.5h0m-426.5 12.5h0m424-4.5h0m63.5 8h0m-457.5 8h0m20.5 2h0m322 0h0m119-0.5h0m8.5 4h0m-150.5 4h0m72.5 8.5h0m62-6h0m2.5-4h0m12.5 0.5h0m3 6.5h0m12-5.5h0m-487.5 29.5h0m40.5-0.5h0m334 2.5h0m30-7h0m-382 9h0m128 6h0m235.5-0.5h0m-198 17h0m213-6h0m18.5 3h0m-242 12h0m274.5-3.5h0m-290.5 12.5h0m241 1.5h0m36.5-0.5h0m9.5-4h0m-261.5 16h0m0-4.5h0m24-0.5h0m152 0h0m31 10.5h0m153.5-7h0m-331.5 18.5h0m21-2.5h0m191 0h0m84.5 3h0m-288 9h0m15-3h0m27-5h0m128.5 2h0m17 3h0m-27.5 15h0m50.5-4h0m1.5 5.5h0m-174 5h0m104.5 9h0m12.5 10.5h0m45.5-3.5h0m127.5 10.5h0m-173 11h0m2.5 12h0m66.5 77h0" stroke="#fcb399" stroke-width="8.4" /><path d="M353 161.5h0m-5 5h0m-139 28h0m82.5 2.5h0m32.5-11h0m14 11h0m17-10h0m-160.5 16.5h0m5.5 3h0m228 3h0m-263 10h0m22.5-8h0m37 6h0m125.5-6h0m43.5 8.5h0m46.5-4.5h0m-274 10.5h0m93.5-2.5h0m126.5 7h0m74.5-3h0m-318 8.5h0m16 7h0m4.5-1.5h0m123-6.5h0m33.5 4.5h0m11.5 1.5h0m70-4h0m-229.5 20h0m161.5 1h0m82.5-9h0m14.5 4h0m30 2h0m-306 10h0m210.5 3h0m7-6.5h0m1.5 5h0m59.5-6.5h0m35 3.5h0m-300 16.5h0m126.5-9.5h0m136 2h0m16 3.5h0m-309.5 12.5h0m2.5 3h0m16-3.5h0m9.5-3.5h0m27 0.5h0m29.5 2h0m122-0.5h0m76 5.5h0m52.5-7.5h0m1 8h0m18.5-10h0m16.5 0h0m-456 18.5h0m53-2h0m54.5-4.5h0m18 4h0m25.5 1h0m181.5 4h0m27 2h0m48-2.5h0m38-6.5h0m-412 13.5h0m1 6.5h0m275 0.5h0m5.5-7h0m70.5 4.5h0m67.5 0.5h0m-413 6.5h0m112.5 3h0m248 4h0m92.5-4.5h0m17.5 0h0m-505.5 16.5h0m66-10.5h0m283.5 8h0m54-7h0m-372.5 21.5h0m5.5-1h0m2.5-9h0m356.5 2.5h0m26 3h0m31 2h0m51-7.5h0m-475.5 14h0m4.5 8h0m458.5 0h0m-50.5 13h0m72.5-5.5h0m-473 8.5h0m358-2h0m6 10h0m47-8.5h0m6 16h0m76-3h0m14.5 2h0m-249 18.5h0m113.5-0.5h0m25-3h0m33 0.5h0m7-1h0m74.5 0h0m-356.5 8h0m333-3.5h0m21 7.5h0m-297 11h0m43.5-4h0m100.5 12.5h0m7.5-2h0m7 6h0m169 3h0m-188.5 8.5h0m70 1h0m8-6h0m43 10h0m14.5-9.5h0m8.5 6.5h0m0.5-4h0m-155 8h0m4.5 7h0m11 1h0m5 0.5h0m27 1.5h0m41.5-9h0m-40.5 17h0m56 5.5h0m83-11h0m-82 15.5h0m5 15h0m-35.5 9h0m1.5-2.5h0m25 3.5h0m82-5.5h0m-110 16.5h0m14.5-0.5h0m104-2.5h0m-198.5 14.5h0m36-1.5h0m71.5 14h0m4.5 37.5h0m-25.5 8h0" stroke="#fba286" stroke-width="8.4" /><path d="M340 185h0m21.5-6.5h0m-7 18.5h0m-163 20h0m11.5-6h0m3 5.5h0m21 0.5h0m15.5-1.5h0m141.5-4h0m-226.5 12h0m10 4.5h0m-48.5 23h0m128 0h0m139-3h0m-270.5 19h0m391 2.5h0m-228 1h0m54.5 0.5h0m100 8h0m-18 6h0m-291.5 12.5h0m42-3h0m168 9h0m40.5-9.5h0m-221 21h0m47-2.5h0m153.5-3h0m34.5 1.5h0m27-0.5h0m86.5 5.5h0m38-3.5h0m-491 9.5h0m190 8h0m85-10h0m24 7.5h0m127-8h0m-400 20.5h0m61.5-2h0m187-2.5h0m3.5 5h0m22 0h0m89.5-8.5h0m-337.5 21.5h0m45.5-1h0m75.5 0h0m20-2.5h0m75-0.5h0m2-7h0m-194 22.5h0m201-5.5h0m23.5-2h0m19-2.5h0m134.5 5h0m45.5-1.5h0m20.5 3.5h0m15.5 0.5h0m-315.5 15h0m99-3.5h0m96-4.5h0m76.5 0.5h0m41.5 1.5h0m-389.5 11.5h0m8 1.5h0m21.5-3h0m275 7h0m-321 4h0m149.5 3.5h0m20.5 5h0m129-3h0m120-8h0m-54.5 21.5h0m7 0h0m21-8h0m48.5 8.5h0m-336 2h0m315 6.5h0m33.5 0h0m3.5-4h0m-148 11h0m4.5 1h0m102 0h0m22 4h0m-152.5 7h0m1 1h0m54.5-0.5h0m18.5 0h0m20.5 5h0m51.5 5h0m19.5-8h0m-315.5 9h0m20-1h0m126 10h0m81.5-1h0m0.5-7.5h0m6 0.5h0m22 1.5h0m-255 8.5h0m31.5 6h0m118.5 3h0m16.5 2.5h0m25 5.5h0m17 4h0m9-7.5h0m42 6h0m55-0.5h0m3-5h0m8.5 14.5h0m-183.5 9.5h0m30 9.5h0m3-6.5h0m-52 19.5h0m48 2h0m37 8h0m-54.5 4.5h0m84.5 0h0m-30 11h0m28 4h0m51.5-0.5h0m-111 10.5h0m9 11.5h0m5.5 14h0m27.5-1h0" stroke="#fb9173" stroke-width="8.4" /><path d="M373 164.5h0m-75 14h0m-21 23h0m152-1.5h0m-35 21.5h0m-44 12h0m121-2.5h0m-89.5 10.5h0m88-1.5h0m8 2.5h0m-356.5 27h0m-4 7.5h0m17.5 17h0m291.5-8h0m96 6.5h0m-185.5 12.5h0m8.5 5h0m19 8h0m67-10h0m16 4.5h0m-358 13h0m358 2h0m48.5-6h0m-374 15.5h0m354.5 2.5h0m35-4.5h0m-74 8h0m4.5 4.5h0m52.5 29h0m-317.5 2h0m82.5 16h0m300 6h0m-240 2.5h0m275.5 8h0m11.5 9.5h0m-315.5 14h0m332-6.5h0m-90 11h0m37.5 2h0m12.5 5h0m-100 9h0m3.5-2.5h0m31.5 7.5h0m-52 3h0m-21.5 17h0m93.5-3h0m-20.5 20h0m29.5-7h0m-112 13.5h0m122.5 2h0m56.5-6h0m-95.5 11h0m56 0.5h0m-139 11.5h0m47.5 7.5h0m32 3.5h0m12.5 6.5h0m8.5-1h0m82.5 0h0m-179 10.5h0m18 1.5h0m76.5-3h0m-91 12h0m59.5 3.5h0m13 1.5h0m5.5 0h0m34-5.5h0m24.5 7.5h0m-73.5 12h0m3.5-4h0m54.5-0.5h0m-64.5 17.5h0m14 1.5h0" stroke="#f97b5d" stroke-width="8.4" /><path d="M153 238.5h0m314 25h0m-56 7.5h0m63 7h0m-15.5 15h0m66 4.5h0m-36 28h0m-123.5 7h0m47 2h0m138 5.5h0m-69 20.5h0m-317 8.5h0m170 1h0m-110 14.5h0m280.5 1.5h0m-159.5 26h0m234.5 5h0m42.5 19.5h0m-82 2h0m9.5 0h0m64 18h0m-101.5 29h0m30-5h0m-40 18.5h0m-29 20.5h0m104.5 1.5h0m-147 36h0m42-4.5h0m72-5.5h0m52 9.5h0m12.5-9h0m-158 11h0m21.5 7h0m111.5 30.5h0" stroke="#f66348" stroke-width="8.4" /><path d="M343.5 163h0m-110.5 108.5h0m108 30h0m219 50h0m-481 15.5h0m400.5 31.5h0m41 6h0m-8.5 62h0m44.5-1.5h0m-79 45h0m54 22h0m47.5 10.5h0m-93.5 7.5h0m52 6h0m63 1h0m-152.5 8h0m11.5-7h0m106.5 9h0m24.5-7.5h0m9.5 8.5h0m-161 5.5h0m29 2h0m129-3h0m-22.5 13.5h0m18.5 3.5h0m17-4h0m-73.5 17h0m9-6.5h0" stroke="#ec4533" stroke-width="8.4" /><path d="M167.5 301.5h0m50.5-0.5h0m-6 46.5h0m-44.5 16h0m44-2h0m88.5 13.5h0m285.5 7.5h0m14.5 4.5h0m-267.5 5h0m273 107.5h0m5.5 60.5h0m-66.5 18h0m56.5-0.5h0m-133.5 14h0m82.5-1h0" stroke="#da2c26" stroke-width="8.4" /><path d="M593 579.5h0m-26.5 5.5h0m-15 15h0" stroke="#c5171c" stroke-width="8.4" /><path d="M303 267h0m166.5 57h0m-117 38h0m174 1.5h0m-199.5 55h0m179 4h0m49.5 24.5h0m30.5 54h0m-155.5 29.5h0m184.5 9h0m-177 33h0" stroke="#af0b15" stroke-width="8.4" /><path d="M366 357h0m128.5 194.5h0m45.5 34.5h0m10.5 10h0" stroke="#99000d" stroke-width="8.4" /></g><g stroke-linecap="round" fill="none"><path d="M1129.5 178.5h0m-5.5 20.5h0m52 26.5h0m13 9h0m11 22h0m23 24h0m-183.5 7.5h0m115 4.5h0m21 0.5h0m7.5-1.5h0m13-6.5h0m51.5 3.5h0m-27.5 7.5h0m-138 12h0m57 0h0m25.5 3.5h0m17.5 0.5h0m46-1h0m34 17h0m11.5-8h0m-128.5 17h0m6.5-2h0m30.5 1h0m2-3.5h0m16 1.5h0m32.5 6h0m38.5-1h0m-94.5 6h0m4.5 1.5h0m29.5-3.5h0m36 6.5h0m-34.5 13.5h0m105-3h0m-147 16.5h0m9.5-6h0m92.5 2.5h0m-52 11h0m17 1h0m11 1h0m42.5-3.5h0m24 6.5h0m8-0.5h0m-133 4h0m27.5 3.5h0m56.5-0.5h0m45.5 6.5h0m12.5-11h0m-145.5 23h0m23-6h0m6.5 3.5h0m7.5-1h0m0.5-2.5h0m18.5 0.5h0m-76.5 14h0m84-1.5h0m-58 14.5h0m25-2h0m88.5 4.5h0m-143.5 0.5h0m15.5 10.5h0m15.5-6.5h0m7-3h0m17.5 0h0m81.5 10.5h0m11.5-2.5h0m12 0.5h0m3-4h0m26.5 2h0m-198.5 10h0m77.5 0.5h0m82.5 4.5h0m29-9h0m-175 15.5h0m14.5 3h0m46.5-6h0m57 5h0m30-1h0m-138.5 16.5h0m42-8h0m120 4h0m6-7h0m-195.5 22.5h0m108.5 0.5h0m61-1h0m2.5 1.5h0m5.5-2h0m9.5 1h0m-186 5h0m2.5-1.5h0m5.5 2h0m11.5-4h0m105 10.5h0m28-1.5h0m28 2.5h0m5.5-1.5h0m-162.5 9.5h0m13.5 3.5h0m11-6h0m69 6.5h0m59-3h0m6-2h0m-175 10.5h0m43-4h0m3-0.5h0m33 8.5h0m3.5-4h0m7.5 3h0m29-3.5h0m4.5-2h0m49.5 3h0m11-3.5h0m-195 12h0m21-1h0m14 0h0m5 5h0m6.5-1h0m50-1h0m6.5 8h0m1-7.5h0m15.5-3.5h0m3 9h0m9.5-3h0m14.5 2.5h0m41-6.5h0m11-2.5h0m-211.5 21.5h0m19.5 0.5h0m1.5-5h0m2.5-2h0m1.5 8.5h0m33.5-2.5h0m19.5-1.5h0m8-6.5h0m12 0.5h0m18.5 8.5h0m33.5-2h0m43.5 3.5h0m6-11h0m-196.5 17.5h0m3 0.5h0m0.5 1.5h0m12 1h0m12-4.5h0m3 2h0m21.5-1.5h0m9-1h0m7-2.5h0m24 2h0m2.5 1h0m15-0.5h0m1.5-0.5h0m34.5 3h0m20-3h0m-165.5 16.5h0m17.5-8h0m1 1h0m17.5 4h0m1.5-5.5h0m25.5 6.5h0m16 1.5h0m3.5-3.5h0m16.5 3h0m61 2.5h0m4-3.5h0m0.5-3.5h0m12-2.5h0m4 5h0m-119 10h0m12-1h0m1.5 3h0m7.5-2h0m26.5 2h0m18.5-1h0m45 1h0m6-5h0" stroke="#fee8de" stroke-width="8.4" /><path d="M1120.5 175.5h0m-125 34.5h0m151 0.5h0m-1.5 17h0m40 10.5h0m-27.5 10.5h0m25 13h0m0.5 0h0m18 7h0m4-8h0m8.5 7.5h0m10.5-7.5h0m-116 9.5h0m53.5 4h0m34 7h0m-162.5 12h0m25.5-8.5h0m31 7.5h0m150.5-2.5h0m-62.5 16h0m66.5-9h0m-73 14.5h0m53.5-1.5h0m7.5 8h0m3-7.5h0m-196 8h0m126.5 3.5h0m44.5 4.5h0m17.5-3.5h0m34-2.5h0m-168 19.5h0m8.5-9h0m49.5 9h0m2.5-0.5h0m37.5-1.5h0m15.5 0h0m58.5 0.5h0m2-2h0m13 3h0m3.5-4h0m-187 12h0m96.5-1h0m4.5 3.5h0m26.5-1.5h0m-143 7h0m157 11h0m28.5-7h0m-268.5 15.5h0m51-6.5h0m26 2h0m3-1h0m131 5.5h0m13.5 3.5h0m25.5-9h0m4-2h0m3 1h0m-85.5 19h0m13.5-5h0m13 2h0m80-6h0m24.5 2.5h0m14.5 4.5h0m-145 11.5h0m33 5.5h0m49-7.5h0m10-2h0m-78.5 18.5h0m62 3h0m3.5-9.5h0m3 1.5h0m3 3.5h0m16 1h0m20-3.5h0m-217.5 10h0m147.5 3.5h0m26.5-1.5h0m51.5 5.5h0m22-6h0m-146 18.5h0m0.5 0.5h0m5.5-11h0m14 5h0m47 4h0m3-5.5h0m10 6.5h0m87.5 1h0m-185 4h0m16 0.5h0m10.5-3.5h0m2.5 9.5h0m80-1h0m9-2h0m18-4.5h0m16-1h0m2.5 0h0m-140.5 18.5h0m37.5-4.5h0m23.5 4.5h0m20.5-1h0m19 1.5h0m7.5 0h0m18 2h0m25.5-6h0m5 4.5h0m-166.5 11.5h0m11-1.5h0m9-0.5h0m11.5 3h0m68.5-6h0m-42 20.5h0m15.5-5h0m2.5-4h0m106.5 2.5h0m-175 13h0m66.5-1.5h0m16-2.5h0m65.5 1.5h0m32 8h0m-170.5 11.5h0m54.5-1h0m4.5-0.5h0m25-4.5h0m7.5 0h0m19 5.5h0m-62 3.5h0m37.5-2h0m51.5 14h0m8.5 9h0m-186 10h0m69.5-6h0m-62.5 17.5h0m1.5-7h0m7-0.5h0m47 3.5h0m52-2.5h0m18.5 2.5h0m31-4h0m6.5 11h0m-133 17h0m53 3.5h0m3-4h0m44 3.5h0m6.5 3h0m-68.5 9h0m51.5 4h0" stroke="#fdddcf" stroke-width="8.4" /><path d="M1080 164h0m15 3.5h0m10 5.5h0m-12 6.5h0m30 0.5h0m-29.5 13.5h0m1.5 10.5h0m17.5-3h0m20 4h0m4 10h0m-71 16.5h0m24.5-3h0m64.5 1h0m5 1.5h0m4.5 1h0m-134.5 6.5h0m5.5-1h0m72 5h0m7.5-1.5h0m2-6h0m21 3.5h0m-52.5 9h0m4.5 7.5h0m10-7.5h0m9 5h0m9 0h0m15.5-6.5h0m58.5 6.5h0m-98.5 6.5h0m12.5-0.5h0m33 3h0m22 1h0m-91 13h0m89 4.5h0m9-8.5h0m12 0.5h0m13-0.5h0m-84.5 21.5h0m23.5-4.5h0m67.5-5h0m11.5 4h0m-154 12h0m20-2h0m-7.5 10h0m69 5.5h0m20.5 3h0m-64 13.5h0m29.5-6.5h0m35.5 4h0m78-5h0m6.5-0.5h0m-148 17h0m50.5-4.5h0m90-1.5h0m-136 19.5h0m176 11h0m-64 12.5h0m104.5-6h0m-239 9.5h0m162.5 0h0m-163 12.5h0m189 7.5h0m-30 12.5h0m43.5-1h0m58-4h0m-138 19h0m47 3h0m93.5 3.5h0m-268.5 12h0m135 3h0m43-9h0m15 3h0m20.5-2h0m12.5 5h0m-65 11.5h0m23.5-4.5h0m-97 27h0m50-1h0m57 15.5h0m86.5-4h0m-111.5 18h0m82-2h0m16.5 34.5h0m-193.5 38h0m128 4.5h0m11.5-2h0" stroke="#fdd2c0" stroke-width="8.4" /><path d="M1086 168.5h0m-37.5 6h0m16 8.5h0m7.5-6h0m3 2h0m10 3h0m30.5-4h0m-183 17.5h0m66-5.5h0m43-1.5h0m12 6.5h0m16.5 0h0m36-5.5h0m-183 12h0m76 2.5h0m20.5 1h0m19-6h0m9 8.5h0m0.5-8h0m-44.5 11.5h0m23 9h0m13.5-2h0m18.5 4h0m3.5-2h0m57-3h0m-121.5 14h0m17 1h0m11-7h0m71 1.5h0m17.5 5.5h0m-231.5 11.5h0m83-2.5h0m127.5 2.5h0m2.5 1.5h0m-91 7.5h0m37.5-0.5h0m5.5-2h0m75 2h0m8.5-5h0m56 0h0m-175 17.5h0m27-0.5h0m14 3h0m60-0.5h0m14-4.5h0m42.5-1h0m1.5 6h0m-344 7h0m208 5.5h0m32.5-8.5h0m23.5 7h0m24-4h0m-201.5 14h0m207.5 0h0m9.5-5h0m49.5 4h0m8 3.5h0m-55 12h0m16.5 8.5h0m-242 12.5h0m155 5h0m45.5-2.5h0m19.5 6.5h0m130 9h0m-232 32.5h0m-118 7h0m380 17.5h0m-217 13h0m-28 5h0m-8.5 13.5h0m3 13.5h0m18.5-4h0m160.5 11h0m15.5 23h0m21.5 1.5h0m87.5 15.5h0m-105 23.5h0m18.5-0.5h0m-72 21h0m81.5 15.5h0m52 16h0m-94.5 11h0m20 17h0" stroke="#fcc3ad" stroke-width="8.4" /><path d="M1065.5 172.5h0m24-1h0m-34 11.5h0m-130 11h0m81.5 1h0m17.5 1h0m10.5-2.5h0m19.5-3h0m6.5-1.5h0m55 5h0m-127 14h0m3.5-8.5h0m33 9.5h0m26-8h0m34.5 2h0m-207.5 11.5h0m26 6.5h0m45-10.5h0m75.5 5.5h0m9.5 2h0m46-1h0m-200.5 12h0m104-4.5h0m70.5 2.5h0m5 6h0m20-1.5h0m48.5-2.5h0m-268 7.5h0m4.5 8h0m182-5.5h0m23 5.5h0m0-5h0m92.5-3.5h0m-327.5 13h0m52.5 6h0m20-7h0m24.5 3.5h0m46.5 5.5h0m26-2h0m4-0.5h0m130-4.5h0m-289.5 9h0m76 8h0m-81 3.5h0m16 9h0m7.5-8.5h0m3.5 9.5h0m35-9.5h0m6-0.5h0m-107.5 13h0m48 3h0m12.5-4h0m10 10h0m32.5-9.5h0m-140 16h0m32 3h0m17.5-4h0m117 1h0m3 3h0m40.5-3.5h0m8-4.5h0m-95 21.5h0m-108.5 10.5h0m75-6.5h0m5.5 3h0m65.5 23h0m13.5 10.5h0m-69.5 15.5h0m112.5 4h0m-6 5.5h0m-87 9.5h0m17 3.5h0m42 3h0m2 1h0m18 2.5h0m4.5-8h0m47 2.5h0m19-1h0m-103.5 9h0m3 4.5h0m30.5-4.5h0m7 7h0m5.5 6.5h0m34.5 6.5h0m289 3.5h0m-286 12.5h0m25 3.5h0m-23.5 14h0m33 2.5h0m5.5 3h0m-2 4h0m3.5 13.5h0m86.5 5.5h0m109.5 3.5h0m-109.5 37h0m31-1h0m50.5 7h0m-83 45h0m178.5 7h0" stroke="#fcb399" stroke-width="8.4" /><path d="M1024.5 181.5h0m-31 10.5h0m1 6.5h0m-109.5 22.5h0m16.5-10h0m21.5 9h0m19.5-5h0m15.5-1.5h0m38.5 2.5h0m8 4.5h0m55.5-8.5h0m-178.5 12h0m1.5 2h0m69.5 0.5h0m-35.5 7.5h0m-21 20h0m40-5h0m17 5h0m9.5-5h0m31 6.5h0m-177.5 10.5h0m20.5 1.5h0m16.5-7h0m16.5 2.5h0m57-4.5h0m-81.5 12h0m7 6.5h0m-53.5 12.5h0m49.5-1h0m54.5-3.5h0m-0.5 9h0m-45 13h0m11.5 6h0m12-7h0m-99.5 23h0m26-9.5h0m47.5 5.5h0m21.5 3h0m396.5-7.5h0m-437.5 12h0m27 12.5h0m27 0.5h0m1.5 5h0m-7.5 11h0m8 8h0m8 4.5h0m0-4.5h0m4.5 6.5h0m6.5-7h0m13.5 0h0m0.5 6h0m3-5h0m-146 9.5h0m80-1h0m18 2.5h0m12.5 0h0m48 1.5h0m-26 10h0m24 8.5h0m8 2h0m13.5 14h0m61 8h0m-35.5 5h0m41.5 9h0m151-0.5h0m-150 21.5h0m2.5-4.5h0m163-5h0m-133.5 13.5h0m-5 15.5h0m13 2h0m76 23h0m96-5.5h0m59.5 1.5h0" stroke="#fba286" stroke-width="8.4" /><path d="M973 201h0m-20.5 30.5h0m4 9.5h0m35 0.5h0m-75 11h0m-81.5 14.5h0m61 2.5h0m-78 14.5h0m58 9.5h0m17-5h0m33-3.5h0m-142.5 15.5h0m11.5-3h0m10.5 6.5h0m4-5.5h0m12.5-3h0m13 4h0m-38.5 11.5h0m4-3h0m5 9h0m3.5 0.5h0m-45 2.5h0m7 2h0m55.5 0.5h0m11.5 5.5h0m32 0.5h0m-18.5 7.5h0m-1 9h0m-49.5 32.5h0m25-4.5h0m26 4.5h0m40-1h0m10 11.5h0m76.5 37h0m24-3h0m0 19h0m18.5 5h0m5 3h0m-4.5 3.5h0m27 13.5h0" stroke="#fb9173" stroke-width="8.4" /><path d="M864 260h0m-49.5 21h0m31 46h0m-37 5h0m2.5 8.5h0m9-9h0m-39 11.5h0m47.5 3.5h0m4.5 0.5h0m-13 29.5h0m10.5-2h0" stroke="#f97b5d" stroke-width="8.4" /><path d="M810 315h0m-14 15h0" stroke="#f66348" stroke-width="8.4" /><path d="M936.5 267h0" stroke="#ec4533" stroke-width="8.4" /><path d="M807.5 285.5h0" stroke="#c5171c" stroke-width="8.4" /><path d="M1136 186.5h0m18 40.5h0m20.5-4h0m7 19h0m11.5-1.5h0m8 2h0m-34 20h0m3 12h0m4 16.5h0m41 0.5h0m-40.5 9.5h0m26-6h0m21.5 2.5h0m-59.5 13h0m27.5 7.5h0m0-0.5h0m5 0h0m6-2h0m28.5-1h0m16.5 0.5h0m5.5-8.5h0m-116.5 16h0m99 0.5h0m5.5-0.5h0m2.5 6.5h0m46.5-4h0m-210.5 7h0m144 1.5h0m4.5-0.5h0m22 8.5h0m21-11h0m23 9.5h0m-189 11.5h0m17-8.5h0m47 0h0m20.5 13.5h0m14 3h0m18.5-1h0m63.5 1.5h0m-201.5 14h0m140-0.5h0m2 2h0m39.5-7.5h0m33 1.5h0m1.5 0h0m20.5 5.5h0m-123 6.5h0m16 5h0m6-5h0m58.5 8h0m-46.5 10h0m14-5.5h0m68.5 6h0m7-7h0m-148.5 14h0m25.5 4.5h0m19.5-3h0m20-6h0m13 5h0m49.5 0h0m9-4.5h0m2 1h0m6 2h0m-140.5 15.5h0m25-3h0m72-3.5h0m39 3.5h0m10 1h0m17 6.5h0m-147.5 1.5h0m74.5 9h0m80-8h0m-74.5 14.5h0m18.5 6h0m32 0.5h0m7-8.5h0m15.5 5h0m-182 12h0m127-7.5h0m18.5 6h0m-150 11h0m11 1h0m69-2h0m14.5 1.5h0m5-0.5h0m20.5 4.5h0m70-4.5h0m-157.5 15h0m31-3.5h0m9.5 7h0m27.5-7.5h0m12-2.5h0m20-1h0m7.5 10h0m-146 6h0m19.5 2.5h0m6-7h0m77 5h0m75.5 6h0m-129.5 10h0m17.5-2h0m4.5-5h0m38.5 7.5h0m12.5-4.5h0m5-2h0m8 4.5h0m-135 14.5h0m17.5-3h0m9-5h0m1 1.5h0m2.5 4h0m8-0.5h0m38.5 2.5h0m66.5-1h0m4.5-6h0m12.5 6.5h0m36 1.5h0m-177.5 10.5h0m51.5-3h0m5.5-4h0m39 0h0m43 0h0m4.5 8.5h0m28.5 0.5h0m-183 7h0m4.5 3h0m49.5-8h0m25.5 8h0m22.5 1.5h0m14.5-10h0m20 5.5h0m30 5h0m2-11.5h0m4 3.5h0m9 4.5h0m-204 7.5h0m18-2h0m99.5 6.5h0m29.5-1.5h0m11 4h0m12.5 1h0m6-3h0m4 0.5h0m14.5-0.5h0m-181 5.5h0m10 5h0m82-1h0m21-2.5h0m13.5 1.5h0m31-5h0m-178.5 13h0m55 2.5h0m16 2.5h0m11 0.5h0m14-3.5h0m22-2.5h0m59 4h0m3 3h0m-129.5 5h0m12.5 4h0m12 3h0m36.5-3.5h0m6-1.5h0m7.5-2h0m4.5 3.5h0m7.5 2.5h0m15-2h0m1.5-3.5h0m-30 17.5h0m2.5 0.5h0m6.5-7h0m6 4h0" stroke="#fee8de" stroke-width="8.4" /><path d="M1155.5 213.5h0m16.5 3.5h0m-10 5.5h0m17.5 2.5h0m7 4h0m-38.5 9h0m26 3.5h0m-153.5 9.5h0m59 3h0m5-4.5h0m63.5 8.5h0m27.5 1h0m8 8.5h0m15.5 0.5h0m14 1h0m10 0.5h0m-114 8.5h0m16.5-5.5h0m81 8h0m6.5-2.5h0m-138 9.5h0m15.5 5h0m115-8h0m19 8.5h0m-41 10.5h0m20.5-4.5h0m6.5 4h0m2-8.5h0m25.5 2.5h0m-173 10h0m11.5 8h0m3 1h0m51-7.5h0m44.5-0.5h0m21 3h0m1.5-1.5h0m57.5 1h0m-151 8.5h0m14.5 4h0m49 3.5h0m10.5-3.5h0m75.5 0h0m12.5-4.5h0m-144.5 17.5h0m21-3.5h0m107.5 8h0m8-5.5h0m10-1.5h0m2 8.5h0m25-5.5h0m-257.5 13h0m170-7.5h0m-11 16.5h0m3 2h0m42.5 1h0m21 1h0m17.5 3.5h0m25-9.5h0m-133.5 18h0m4 2h0m5.5-2h0m16 1.5h0m19-5.5h0m-154.5 13.5h0m114 2.5h0m156.5 2h0m-85 19h0m15 2h0m37.5 2.5h0m5.5-1h0m13-2h0m5-1.5h0m16.5-5h0m-161 13.5h0m18 4.5h0m39.5-2.5h0m30 4.5h0m16.5-0.5h0m45-6h0m-145 12.5h0m154.5 6h0m-169.5 4.5h0m14.5 4h0m58.5 6.5h0m12-7.5h0m8 4h0m10-1h0m13.5 3.5h0m55-4.5h0m2-4h0m-148 18.5h0m6.5-0.5h0m30.5-6.5h0m53.5 8h0m8.5-6.5h0m8.5 8h0m6.5-8.5h0m15.5 8h0m6-6h0m-60 8.5h0m3 0h0m-115 18.5h0m53 3.5h0m107.5-10h0m5 0h0m19 4h0m-162 14h0m1.5 3.5h0m36.5 0.5h0m15-2h0m2-4.5h0m67.5 1.5h0m-141.5 27.5h0m16-2.5h0m160.5 0.5h0m2 4h0m-141 6.5h0m63.5 2h0m-118 15h0m57.5-6.5h0m-37 17h0m-18.5 7h0m110 2h0m5.5-4.5h0m-128.5 19.5h0m40.5-2h0m72.5-3h0m36 21h0" stroke="#fdddcf" stroke-width="8.4" /><path d="M1039 172h0m40 7.5h0m56 1.5h0m-178 16.5h0m97-2h0m19.5 8h0m57.5 5.5h0m14.5-5h0m9-3.5h0m-45 19h0m20-5h0m-19 18.5h0m24.5-1h0m8.5-9.5h0m6 7.5h0m-133.5 15h0m1 1h0m32-2.5h0m126.5 0.5h0m-127 12h0m88.5-3h0m8.5-2h0m26-3h0m-152 19.5h0m30.5 0h0m37-6h0m33.5-2.5h0m38 10h0m-72.5 12h0m8.5-0.5h0m85.5 0.5h0m9.5-5h0m-3.5 6.5h0m46 10h0m-340.5 9h0m209.5-3h0m25.5 5h0m6-8.5h0m4.5 5h0m33.5 3.5h0m41-8.5h0m36-0.5h0m-222.5 17.5h0m68-4h0m10.5 1h0m95 4.5h0m9.5 0.5h0m-121 15h0m6-5h0m8.5-2h0m74 7h0m-143.5 4h0m48.5-2.5h0m63 5h0m40.5 4.5h0m78.5-5h0m27.5 0.5h0m-206.5 17.5h0m73.5-7.5h0m-175 14h0m42.5-5.5h0m40 1.5h0m166 10h0m30-0.5h0m11.5 0h0m-231 2.5h0m42 4.5h0m-28 14.5h0m26-4h0m-5.5 17h0m123-6.5h0m119.5 4.5h0m-62.5 15h0m90-2h0m-133 8.5h0m12.5 3.5h0m23 0h0m37-6h0m36.5 8.5h0m-98 12h0m-62 9h0m36-3h0m56.5 6.5h0m48-1.5h0m3-0.5h0m10.5 1.5h0m-262 5h0m127.5 7h0m6-1h0m0.5 5h0m40-0.5h0m25.5 6h0m11 0h0m27-4.5h0m-126.5 18h0m63-0.5h0m44 0.5h0m26.5-7h0m53.5 7.5h0m-102.5 12.5h0m6-1.5h0m64 8.5h0m-158 9h0m63.5-2h0m26.5 7h0m-89.5 15h0m-1 3h0m45.5 7.5h0m4 1h0m44 2h0" stroke="#fdd2c0" stroke-width="8.4" /><path d="M1059 161h0m29 8h0m1.5 13.5h0m7.5-7h0m10 6h0m-174.5 10.5h0m71.5-2h0m126.5 0.5h0m-212 18.5h0m3-1h0m105-7h0m57.5 5.5h0m15.5 3h0m10.5-4.5h0m33.5 2.5h0m-236.5 7.5h0m129.5-5h0m9 3.5h0m41 3.5h0m-231.5 9h0m146.5 7h0m67.5-9h0m0.5 5.5h0m3-2h0m-217 17h0m31-7h0m2.5 4.5h0m82.5 2.5h0m12-0.5h0m13.5-3.5h0m34 2.5h0m21 1h0m60-1.5h0m-96.5 7.5h0m40.5 4h0m31-7h0m6.5 4h0m17-5h0m-270.5 19h0m154 3.5h0m24.5-3.5h0m36-1h0m4.5 5h0m17 0h0m1-3.5h0m10-6h0m1.5 5h0m38 4.5h0m-322.5 9.5h0m31-7h0m246 7h0m149-2h0m-349 16h0m236 0h0m9.5 0.5h0m8-3h0m-219 14h0m149.5-3h0m3.5 16h0m50.5-2h0m-56 10.5h0m43 2h0m-162.5 3.5h0m98.5 7.5h0m76 1h0m-187.5 13.5h0m164.5-7h0m180.5 3.5h0m-234.5 8h0m12.5-1h0m210 0h0m-238.5 20h0m23 0.5h0m1-1.5h0m-92.5 12h0m44-8h0m201 8h0m-160 10.5h0m233 0.5h0m-214 11.5h0m128 8.5h0m-170.5 18h0m306.5-0.5h0m-65.5 2h0m-9.5 18.5h0m-189.5 18.5h0m229.5 57h0m-19.5 25.5h0m-11.5 10.5h0m34-3h0m3 14.5h0m12 10h0" stroke="#fcc3ad" stroke-width="8.4" /><path d="M1014 180h0m15 4h0m26.5-9.5h0m-67.5 17h0m58 1h0m41-1h0m-139.5 14.5h0m16 1.5h0m28.5-7.5h0m18.5 10h0m55-0.5h0m-153 4.5h0m16.5-2h0m10.5 6.5h0m7 1.5h0m54-2h0m17-1h0m3.5-1h0m-126 9h0m45 4.5h0m99 1h0m26-4.5h0m55-0.5h0m-247 11.5h0m17 0.5h0m37 8h0m18.5 0h0m10-5.5h0m72 3.5h0m53.5 0.5h0m-254.5 9h0m33-3.5h0m8.5 0h0m1.5 6h0m11.5-5h0m66.5 7h0m24.5-6h0m41 3h0m-117.5 7.5h0m8 4.5h0m-13 8.5h0m63.5 4.5h0m-138 6h0m34 6.5h0m-71.5 10h0m9.5 7h0m66.5-2h0m101 3h0m-36 12.5h0m34.5 5.5h0m106.5-5h0m5.5 3h0m-114.5 23.5h0m80.5-2h0m199.5 10h0m53.5 12.5h0m-348 9.5h0m27.5 1.5h0m23 19.5h0m31 1h0m42.5-2.5h0m-86 9h0m21 4h0m48.5-6h0m-62 9h0m2 10.5h0m50 19h0m2.5 9h0m161-0.5h0m155 6.5h0m-305 12h0m159 21h0m37.5 30.5h0m-100.5 29.5h0m98.5-2h0" stroke="#fcb399" stroke-width="8.4" /><path d="M910 201.5h0m17.5 7.5h0m-42 2.5h0m83 8.5h0m-130.5 23h0m13-3h0m34.5 6h0m28.5-9.5h0m49 0.5h0m8 0.5h0m8.5 2h0m19-2.5h0m32-0.5h0m-178.5 12.5h0m28 8.5h0m19-9.5h0m11.5 8h0m3.5-6.5h0m50.5 1.5h0m-141 13.5h0m25 1h0m9-0.5h0m75-4h0m13.5 7h0m13-8.5h0m8 2.5h0m-145.5 9h0m61.5 7h0m57.5 1h0m26.5-2.5h0m-60 14h0m19-4h0m10.5-1.5h0m-147.5 10h0m-10 12h0m95.5 5.5h0m14-5h0m-106.5 20h0m-10 11h0m97-4h0m66 5.5h0m2-1h0m-111 4.5h0m16 1.5h0m13 2h0m102 1h0m-37 14h0m7-2.5h0m4 2.5h0m-83 13h0m27.5-4.5h0m409-0.5h0m-490 8.5h0m39 2h0m65.5 0h0m14.5 9h0m2.5-6h0m2.5-2.5h0m2.5 7.5h0m27-6h0m362 5.5h0m-387 8h0m9-3.5h0m53.5 20h0m-20 2.5h0m23 4.5h0m57.5 28.5h0m179.5-3.5h0m-175 12h0m229.5 2h0m-89.5 8h0m80 6.5h0" stroke="#fba286" stroke-width="8.4" /><path d="M1031 189h0m90.5 20h0m-170 5.5h0m23.5 7h0m75-2.5h0m-130 7h0m56 5h0m8.5-6h0m-46 15.5h0m7-6h0m25.5 4h0m-67.5 14h0m18 1.5h0m13.5 1h0m30.5 2h0m10.5 0.5h0m26.5-9.5h0m-59 12.5h0m5 9h0m-34 3h0m-67 31h0m8-3h0m6-4.5h0m5.5 5h0m-87.5 13h0m7.5 1h0m61.5-6.5h0m32 3.5h0m-89 10h0m33.5-3.5h0m-24 15h0m11.5-1h0m31.5 6h0m5.5-6.5h0m-80 14h0m24.5 1h0m62-1.5h0m-79.5 16.5h0m28 0.5h0m37 8.5h0m77 3h0m-11 13.5h0m140.5 2.5h0m-80.5 32h0m65 15h0" stroke="#fb9173" stroke-width="8.4" /><path d="M939 236.5h0m-163.5 56h0m-8.5 33h0m60.5 15.5h0m32.5-5h0m-82.5 10.5h0m25.5 4h0m5.5-1h0m13-7.5h0m13 3h0m2.5 11.5h0" stroke="#f97b5d" stroke-width="8.4" /><path d="M782 339h0m39.5-3.5h0m-27 29.5h0m5.5-10.5h0m-19.5 14h0m0.5 4h0m35 2h0m8-6.5h0m-40.5 10h0" stroke="#f66348" stroke-width="8.4" /><path d="M935 277h0m-119 74.5h0" stroke="#ec4533" stroke-width="8.4" /><path d="M1019.5 239h0" stroke="#da2c26" stroke-width="8.4" /><path d="M1144 194.5h0m0.5 3.5h0m-21.5 6h0m-1.5 32.5h0m19-0.5h0m51.5 10.5h0m15 18h0m-129 17.5h0m159.5 8.5h0m1-6.5h0m-81 17.5h0m9.5-3.5h0m14 2h0m59-4.5h0m2 9.5h0m16.5 0h0m-200 6.5h0m88-5.5h0m6 6.5h0m19-2h0m48.5 2.5h0m32 1h0m11.5 0h0m9 3.5h0m-181 4h0m90.5 3.5h0m3-3h0m19 1.5h0m7-4h0m5.5 8h0m43.5-5.5h0m17.5 0h0m-146 19.5h0m21-0.5h0m63.5-9h0m72 2.5h0m-99 16h0m4 1h0m29.5 0.5h0m26-9.5h0m6.5 3h0m18 3h0m29 0.5h0m-105 7.5h0m21 1.5h0m31.5 4h0m50-1.5h0m3-3.5h0m-116 17h0m15.5-6.5h0m86 2.5h0m21.5 4h0m-138.5 5h0m69.5 6.5h0m17-4.5h0m33.5 6h0m-124.5 12.5h0m23.5-3.5h0m72-5h0m43 0h0m23 6.5h0m-161.5 13h0m14.5-6h0m45 4h0m114.5-6.5h0m-180 23h0m0.5-3h0m71 4h0m41-5.5h0m18 2.5h0m4-8h0m26.5 1h0m22 9.5h0m-139 1h0m43.5 10.5h0m67.5-10h0m13 3.5h0m4 7h0m-37.5 2.5h0m34.5 7h0m-177 13.5h0m1.5-2h0m110.5-8h0m17.5 1h0m6 1.5h0m44.5 6h0m13.5-2h0m-146 13.5h0m34-0.5h0m10.5 3.5h0m42-2h0m22.5 1h0m31 0.5h0m-185.5 9h0m70 1h0m41.5-4h0m20.5 0.5h0m11.5 0h0m10 5h0m5-2h0m-136 12h0m33.5-7.5h0m3.5 4.5h0m34-0.5h0m-83.5 7.5h0m3.5 8h0m25 1.5h0m61-2.5h0m4.5-2h0m43-4.5h0m45 0h0m3.5 2.5h0m-207.5 18h0m2-4h0m16-3h0m23 6h0m29-7h0m29.5 3.5h0m7.5 5.5h0m43.5-1.5h0m7 1h0m21.5-7.5h0m-175.5 16h0m52.5-6h0m37 8h0m5-6.5h0m14.5 2h0m19.5-1h0m7 1h0m24 3.5h0m43.5-6.5h0m-201 13h0m0 8h0m28-9.5h0m11 2.5h0m64 0h0m33 7h0m15.5-5.5h0m16 4.5h0m-145.5 7h0m2.5-1h0m2.5 7h0m13-5.5h0m2.5-1.5h0m7.5 7.5h0m3-8.5h0m21 6h0m3-8h0m14.5 10.5h0m52-7h0m5 2.5h0m10.5-3h0m8 0.5h0m-140.5 11h0m7.5 4.5h0m20.5 2.5h0m53-5h0m44.5 2.5h0m0.5 4h0m-163.5 6.5h0m30 4h0m46-8h0m66 1h0m7.5 3h0m-103.5 14h0m43 2.5h0m2.5-0.5h0m27-7.5h0m34.5 0h0m-57.5 10h0m13.5 7.5h0" stroke="#fee8de" stroke-width="8.4" /><path d="M1103.5 195h0m34.5-4.5h0m-31.5 46.5h0m45-3h0m24 19h0m16.5-5.5h0m-99.5 21h0m53.5-5.5h0m76 4.5h0m-143.5 6.5h0m20 3.5h0m29.5-5h0m9 6.5h0m8.5-8.5h0m3 7h0m0-0.5h0m42 1.5h0m26-8.5h0m-55.5 15h0m6.5 3h0m1.5 3.5h0m18-9h0m31.5 9.5h0m7.5-7h0m-86.5 13h0m63 1.5h0m44.5-0.5h0m-186.5 9h0m29.5 6.5h0m20 1h0m33 1h0m11.5-2h0m62.5-0.5h0m25.5-4h0m-172 15h0m64 2h0m5.5-5h0m13.5 8h0m9-4.5h0m40.5 1h0m-95.5 6.5h0m7.5 0h0m10.5 8h0m150-0.5h0m1-3.5h0m8.5 6h0m-217 17h0m222 2.5h0m7-6.5h0m-90 13h0m18.5 18h0m2.5-6.5h0m94.5 4h0m8 3h0m-145 3.5h0m9.5 5.5h0m11-3h0m8 2h0m15-1.5h0m11 4.5h0m43.5 3h0m3-8h0m51 0.5h0m-288.5 16h0m151-3h0m132 3h0m-141.5 4h0m7 9h0m-10 6.5h0m84.5 6h0m5-9h0m20.5 7h0m-220.5 11.5h0m86 1h0m79.5-1.5h0m17.5 5.5h0m44.5-3.5h0m-141.5 8h0m3.5-2.5h0m13 7h0m-27.5 7h0m43.5 0.5h0m37-2h0m88 2.5h0m-169.5 19h0m23-9h0m27 1.5h0m56-0.5h0m23-2.5h0m43-0.5h0m25 3.5h0m-187 15.5h0m33.5 2h0m3.5-3h0m8.5 0h0m86-3.5h0m-133.5 11h0m12 1h0m4 0h0m27.5-0.5h0m44-2h0m4.5 1.5h0m18.5 7.5h0m50-5h0m-169 17.5h0m106 1.5h0m26.5-4h0m-38.5 15.5h0m13.5-11h0m56.5 8.5h0m-104.5 13h0m25.5 2h0m-69 10.5h0m43.5-7h0m-59.5 19.5h0m17.5 0.5h0m34.5-7.5h0m6-0.5h0m9 0h0m18.5 1.5h0m90.5-2h0m-113.5 18h0m24 0.5h0m29.5 0h0m33.5-7.5h0m-29 14h0m28.5 8h0m-88.5 1.5h0m49.5 8.5h0" stroke="#fdddcf" stroke-width="8.4" /><path d="M1094.5 163.5h0m-63.5 45.5h0m13 1h0m63.5-6.5h0m50.5 4.5h0m-13.5 6.5h0m-258.5 17.5h0m192 9.5h0m19-2h0m4.5 6.5h0m37-4h0m6.5-1.5h0m19.5-1h0m-109 9h0m13 4.5h0m31.5 2.5h0m59.5 1h0m7-0.5h0m-157 12.5h0m38.5-7h0m103.5 7h0m16.5-10h0m-134.5 13h0m54 10h0m4-5.5h0m26 2.5h0m81-3h0m28.5 4h0m-194 7.5h0m32 7h0m61-7h0m-52 7.5h0m1.5 10.5h0m6.5-1.5h0m-9 10h0m114-5.5h0m24 3h0m-156.5 19h0m129-2.5h0m75-2h0m-248.5 7h0m68.5 7.5h0m126-4h0m17.5 1.5h0m-201 22h0m40 2h0m162.5-1h0m-44.5 7h0m91.5 16h0m26.5-0.5h0m-37.5 9.5h0m-56.5 20h0m23 4.5h0m118.5 1.5h0m3.5-4h0m-280.5 12h0m10 2.5h0m-13.5 19.5h0m143.5-3.5h0m-6 5.5h0m45.5 11h0m-94.5 9h0m66-3h0m-23 13.5h0m61.5 3h0m-100 2.5h0m65.5 4.5h0m39.5-3h0m19 9h0m-98.5 9h0m100.5-3.5h0m-54 7.5h0m52 21h0m9.5 7.5h0m-30.5 37.5h0" stroke="#fdd2c0" stroke-width="8.4" /><path d="M1068.5 159.5h0m-38 6.5h0m9-2.5h0m-30.5 22.5h0m4.5-9.5h0m1-0.5h0m25 8h0m37-8.5h0m0.5 1h0m12 8h0m-164.5 8h0m48 4h0m153.5-5h0m-223 18h0m142-9h0m11 7.5h0m8-4.5h0m8.5-4.5h0m-199.5 22.5h0m12.5-1h0m9.5 0.5h0m136-3h0m27.5 2.5h0m36.5-7.5h0m14 5h0m55.5 4h0m-273 7.5h0m153-3h0m48.5 0.5h0m8.5 1.5h0m55.5 5h0m5-8h0m-295.5 12.5h0m40 1.5h0m117 6h0m2.5 0h0m71-8h0m23-3.5h0m-290 14h0m154.5 6.5h0m17-2.5h0m19-2.5h0m55 2h0m-149.5 15.5h0m66-7h0m30.5 8h0m26 1h0m11-6h0m3 2h0m17.5 1h0m31-1.5h0m67 4h0m-112.5 12.5h0m33-0.5h0m12.5 6h0m30.5-2.5h0m-265 12h0m41.5 1.5h0m131 4h0m50.5 0h0m28-3h0m-65 7.5h0m20.5 1.5h0m15.5 3.5h0m12.5 7h0m-157.5 4.5h0m120-3.5h0m41 2.5h0m-80.5 19h0m4.5-7h0m25.5 5h0m-131.5 38h0m87-7h0m26-2h0m-103 22.5h0m58.5 1.5h0m33.5 9.5h0m161-2.5h0m-217.5 5.5h0m53.5 9.5h0m284.5 4.5h0m-312 9h0m8.5 4.5h0m219 6.5h0m3 8h0m-172.5 8.5h0m115 14.5h0m50 10h0m12.5 7.5h0m-36 12h0m141 23h0m-132 17h0m120.5 22h0" stroke="#fcc3ad" stroke-width="8.4" /><path d="M1022 168.5h0m10-1.5h0m22.5 2.5h0m9-5h0m25-2h0m-18 22.5h0m-62 3.5h0m19 1.5h0m10.5 3h0m21.5-4h0m2 8.5h0m21.5-7h0m-169.5 15h0m2-1h0m35.5-5h0m33.5 0.5h0m-104 17.5h0m7-0.5h0m34-2.5h0m19.5-4h0m42 0.5h0m100.5 3.5h0m-225.5 19.5h0m30-2h0m12.5 1h0m110.5-0.5h0m7-6h0m48-3.5h0m30.5 8.5h0m-232.5 3.5h0m10 6h0m4.5-1.5h0m16.5-5.5h0m67 4h0m16.5 7.5h0m56.5-10.5h0m21.5 9.5h0m-211.5 12.5h0m2-9.5h0m17.5 3h0m11.5 1h0m14-1h0m2.5 5h0m96 2h0m63-6.5h0m9.5-3.5h0m-223 11h0m43.5 19h0m7.5 2h0m19-1.5h0m-31 11.5h0m164 0h0m-233 12.5h0m244 1h0m-13 5.5h0m-93 14h0m4 30.5h0m293.5-2h0m24.5 7.5h0m-359 16.5h0m106.5-2h0m-36 15h0m-70 5h0m68.5 6h0m7.5 0h0m67.5-4h0m166 10h0m91 4h0m6 14h0m-292 7.5h0m27.5 1h0m-38 15.5h0m3-1h0m148.5-4h0m-113 11.5h0m23 9h0m130.5 10.5h0m54.5-5.5h0m-114 45h0m148.5 52.5h0" stroke="#fcb399" stroke-width="8.4" /><path d="M1037.5 169h0m11 0h0m-36 17h0m21-6.5h0m18.5 1.5h0m-74 13h0m-35 12.5h0m4.5-7h0m67 0.5h0m0.5-1h0m-96.5 18.5h0m21.5-2h0m2 4.5h0m31-6.5h0m20.5 7h0m-84 1.5h0m15 1h0m9 7h0m21-1.5h0m-86 8h0m12.5-2h0m35.5 3h0m4.5 8h0m19.5 0h0m15 5.5h0m20.5-2h0m14 5h0m-159 11h0m118.5-5h0m96-0.5h0m-213 15.5h0m12.5 0h0m13 1h0m8.5 3h0m2-9h0m-71.5 21h0m41-3h0m5-2.5h0m11.5 4h0m16-3.5h0m9.5-3.5h0m5.5 5.5h0m3.5 2.5h0m1-5.5h0m19 6.5h0m-70 4h0m44 4h0m9.5-3h0m-114 21h0m64-10.5h0m20.5 7.5h0m21.5-2.5h0m31-1.5h0m-118.5 11.5h0m20.5 19h0m19.5-6h0m438.5 0h0m-510 11.5h0m9.5 3.5h0m69.5-8h0m2.5 10.5h0m1.5-3.5h0m88.5 1.5h0m-94.5 4h0m-4.5 17.5h0m51.5-0.5h0m-14 9.5h0m418 21.5h0m-322.5 18h0m23 3h0m14.5 1.5h0m-12.5 11.5h0m3-3.5h0m7-0.5h0m196 3h0m19.5 3h0m-154 23.5h0m174-0.5h0m-205 3.5h0m1.5-2h0" stroke="#fba286" stroke-width="8.4" /><path d="M1034 172h0m-76 36.5h0m5.5 4h0m52.5 2h0m-58.5 17h0m-55 9h0m58 3.5h0m161.5 0.5h0m-290.5 1.5h0m7.5 9h0m26.5-4.5h0m42 10.5h0m72.5-0.5h0m-13 10h0m-161 22h0m6.5-8.5h0m19.5-0.5h0m75.5-0.5h0m-121.5 11.5h0m3.5 0.5h0m24.5 2h0m6 0h0m7 4h0m19 2h0m47.5-9h0m-128.5 21h0m20.5-7h0m44.5 9.5h0m27-6.5h0m22.5 6h0m-80 11h0m5-4.5h0m240.5 3.5h0m-255 11h0m14.5 3h0m47.5 10.5h0m28.5-3h0m-115.5 6.5h0m14 5h0m14-2.5h0m2.5 7h0m44.5-1.5h0m-38.5 6.5h0m14 4.5h0m7.5-6h0m22.5 5.5h0m-9.5 10h0m63.5 1.5h0m0.5 7.5h0m52 19h0m2-2h0m13 6h0m30.5 11.5h0m8.5 9.5h0m22-4h0m40.5 56h0" stroke="#fb9173" stroke-width="8.4" /><path d="M1069 173h0m28 19h0m-88 54h0m105-0.5h0m-312.5 69h0m-36 14.5h0m39-2.5h0m19 1h0m-22 13.5h0m60 9.5h0m-79 10h0m15-3h0m2.5 5.5h0m54-2.5h0m-76.5 8h0m20 4h0m11.5 1h0m9-5h0m-30 11.5h0m27 1.5h0m53.5 2.5h0m47-1.5h0m119 88.5h0" stroke="#f97b5d" stroke-width="8.4" /><path d="M811.5 301.5h0m-13.5 43h0m30 13h0m2 3h0m-43 8.5h0" stroke="#f66348" stroke-width="8.4" /><path d="M873 308h0m6.5 59h0m-67.5 11.5h0m256 40h0" stroke="#da2c26" stroke-width="8.4" /></g><g stroke-linecap="round" fill="none"><path d="M1569.5 270.5h0m-54 57.5h0m479.5 275h0" stroke="#fee8de" stroke-width="8.4" /><path d="M1860.5 190.5h0m-82 18.5h0m-175.5 26.5h0m-3 14h0m138.5 4.5h0m-188 11h0m15-1h0m236.5 6h0m-281.5 23.5h0m91-5h0m-93.5 11h0m78-4.5h0m5.5 5h0m-80 14h0m18.5 2h0m75-5h0m-72 20h0m468 57.5h0m-61 22h0m-54.5 10.5h0m87 69h0m89 26.5h0m-20.5 7h0m-49.5 73.5h0" stroke="#fdddcf" stroke-width="8.4" /><path d="M1749 175h0m41 7h0m21-7.5h0m-104 21h0m21-4.5h0m15-3.5h0m-45 19h0m-78 13h0m2-3.5h0m34-2.5h0m36.5-1h0m73 4.5h0m-139.5 11.5h0m3.5 4.5h0m89.5-9h0m85 4.5h0m65.5 2.5h0m-279.5 12.5h0m71.5 1h0m18.5 0h0m51.5-5h0m81 1h0m-179 6.5h0m54 6h0m-104.5 5h0m84 2h0m106.5 3h0m160 4h0m-328.5 12.5h0m37 2.5h0m184-7h0m-279 8h0m3.5 1.5h0m2-1.5h0m25 1.5h0m83 1h0m-116.5 12h0m7-0.5h0m232.5 3.5h0m209.5 3.5h0m-480 12.5h0m31.5-2.5h0m20 2.5h0m238.5-0.5h0m129-7.5h0m32 5h0m22.5-0.5h0m-460.5 8h0m35 0.5h0m28 2.5h0m385-2.5h0m-124.5 10.5h0m-321 14h0m9 3.5h0m52-3.5h0m7-2h0m413.5 4.5h0m-481 15.5h0m417.5-2h0m26.5 3h0m29.5-7.5h0m16 1.5h0m-206 19h0m-297 0.5h0m507.5 71h0m34.5 10h0m-91.5 13h0m25.5 4.5h0m94.5 6.5h0m-50 14.5h0m0.5-7h0m15.5-2h0m-159.5 12h0m24.5 4h0m46.5 4h0m17.5-11h0m12 4.5h0m31 5.5h0m41 0.5h0m-118 2h0m54.5 10h0m9 5h0m38.5 4.5h0m10.5 2.5h0m-164.5 2.5h0m123.5 8h0m48.5 3h0m-25.5 2h0" stroke="#fdd2c0" stroke-width="8.4" /><path d="M1756.5 167.5h0m83 4.5h0m-127 21h0m10-2.5h0m19 3.5h0m39-2.5h0m-95 7h0m44.5 10.5h0m3.5-6h0m-59.5 14.5h0m33.5-5h0m77 5.5h0m8.5 3h0m25-7.5h0m-58 10.5h0m67.5 2h0m27 7h0m69 0.5h0m-324.5 10h0m9.5-3.5h0m8.5 2.5h0m58 2h0m21.5-7.5h0m55 8h0m29.5-7h0m146.5 1.5h0m-237.5 10.5h0m34.5 3h0m3.5 1.5h0m124-3h0m-281 15h0m33-4.5h0m89.5-3.5h0m53 5h0m38 3h0m9 1.5h0m29.5-4.5h0m128 5.5h0m-402 11h0m30.5-6h0m14.5 4.5h0m46-8.5h0m61.5 5.5h0m163.5 6.5h0m82.5-5h0m-381 5.5h0m16 5h0m6.5 1h0m21.5 4h0m-97.5 8.5h0m10.5-7h0m68 12h0m26-7.5h0m243.5 4h0m6.5-1h0m13.5 3.5h0m100.5-7h0m-450.5 12h0m420.5 3h0m-453 6h0m35.5 8h0m5-4.5h0m41 3.5h0m24.5 1.5h0m6-0.5h0m194.5-3h0m16.5 4h0m88.5 0h0m58.5-6h0m-416.5 18h0m4-5.5h0m286-2.5h0m160.5 0.5h0m7.5 1.5h0m-498 11.5h0m22.5 8h0m26-11h0m21 9h0m33.5-4h0m8.5-3h0m384 3h0m-490.5 12h0m17.5 2.5h0m120-1h0m7-2.5h0m-107 17h0m79-7h0m85 6h0m-150.5 5h0m394.5 0h0m87.5 4.5h0m-262.5 10h0m220.5 0.5h0m-27.5 18.5h0m-21 8.5h0m96-3h0m-153 19.5h0m156.5-3h0m18.5 1.5h0m-178 4.5h0m105.5 1h0m5.5 2h0m22-1h0m31 10.5h0m17 2.5h0m-136 28h0m70-9.5h0m-115.5 23h0m6-5h0m110.5 3.5h0m65.5 2h0m-153.5 9h0m40.5 0.5h0m29.5-5h0m60.5 1h0m-179 11h0m16-3h0m81.5 2.5h0m9 3h0m7 4.5h0m35.5-3.5h0m-136.5 8h0m25 7.5h0m99-3.5h0m63.5 3.5h0m-90.5 12h0m24-5.5h0m62-2h0m-149.5 10h0m40.5-1h0m18.5 8.5h0m4-8h0m18.5 2.5h0m19.5-1.5h0m18 8.5h0m-63 12.5h0m54 2.5h0m-1 21h0" stroke="#fcc3ad" stroke-width="8.4" /><path d="M1803.5 172h0m19-4h0m6.5-5.5h0m-85.5 22.5h0m5-6h0m65-0.5h0m14 0h0m-68.5 16.5h0m29.5-0.5h0m70 3.5h0m-174.5 11.5h0m42.5-10.5h0m18.5 10h0m55.5 13h0m43.5-3.5h0m20-5h0m35 7.5h0m-309.5 4h0m28 0h0m50.5 4h0m64 1h0m4 2h0m112.5-1h0m14-3h0m21.5 1h0m2 4h0m-278.5 3h0m5.5 2.5h0m8-2h0m16 3h0m69 4h0m121.5-1h0m2.5 1.5h0m42-6.5h0m-223.5 11h0m154.5 3.5h0m21 2h0m16 3.5h0m-270.5 8.5h0m68.5-0.5h0m116 1h0m67.5-6h0m84 5.5h0m36-2.5h0m15 3h0m-342 15h0m198-0.5h0m109 0.5h0m2.5-6.5h0m-296.5 12.5h0m14-5.5h0m2 8.5h0m27.5-6.5h0m103 3h0m171-0.5h0m14 5.5h0m-445.5 14h0m113.5-10.5h0m170 9.5h0m13-1h0m57-10h0m25 6.5h0m9.5-3.5h0m10.5 7.5h0m3.5-5.5h0m57-3h0m-199 21h0m54-10h0m5.5 3h0m5.5 8h0m35-11h0m25.5 3.5h0m46.5-0.5h0m-257.5 11.5h0m148-0.5h0m13-0.5h0m9.5 1.5h0m79 3.5h0m66.5 4h0m-227.5 8h0m109.5-3.5h0m70.5 2.5h0m70.5 2.5h0m-442 5h0m99.5 8h0m150.5-1h0m93-6h0m-262.5 16h0m150.5-7h0m106.5 1.5h0m111.5 4h0m-274 13.5h0m23.5 1.5h0m130.5-5h0m105-0.5h0m-368.5 13.5h0m21-4h0m144 3h0m120.5 5h0m18.5-3.5h0m17 1h0m-262.5 7.5h0m86.5 6.5h0m14.5 0.5h0m114.5-3.5h0m5.5 2.5h0m112 4.5h0m30-9h0m-166.5 13h0m19.5 7h0m109.5-2h0m-232 6.5h0m6-1.5h0m152 0h0m80.5 9.5h0m21.5-10.5h0m16.5 2.5h0m-160 20h0m63.5-1.5h0m-184 11.5h0m113 0.5h0m15.5 1.5h0m72 0h0m15.5 8h0m4 1h0m-102.5 11h0m70-2.5h0m10.5-2.5h0m2 5h0m27-4.5h0m18 6.5h0m-79 13.5h0m8-9h0m1.5 9.5h0m-70 11.5h0m10-5h0m43-2h0m13.5 0h0m26-3h0m-24 20h0m3.5-1.5h0m31-3h0m10.5-1h0m-140.5 17h0m18.5-6.5h0m12.5 4.5h0m62.5 13.5h0m38.5-6h0m0 10h0m6-10.5h0m9 7.5h0m51.5 1.5h0m0-9.5h0m-193 12h0m38 4h0m39 6h0m26-9h0m-63 13.5h0m51.5 6h0m43.5-2h0m-47 8.5h0m79.5 3h0m-70 8.5h0m-13 19.5h0m23-10h0m5.5 10h0" stroke="#fcb399" stroke-width="8.4" /><path d="M1783 168h0m-35 7.5h0m20 3h0m-130.5 30h0m116.5-4.5h0m88-1.5h0m25 1.5h0m11 2.5h0m-234 14.5h0m15 1h0m156-6h0m28.5 1h0m10-1h0m43 5.5h0m-102.5 10.5h0m9.5-9h0m32.5 4.5h0m62.5 3.5h0m12-6.5h0m-152.5 20h0m63.5 1.5h0m-260.5 6h0m54.5-2.5h0m22.5 2h0m85 5h0m14-9.5h0m73 3.5h0m47 0.5h0m23-1h0m-86 12h0m33 5.5h0m0.5-9.5h0m33.5 10h0m43-8h0m8.5 7.5h0m-112.5 12.5h0m13-7h0m128 6.5h0m-316.5 4.5h0m185 2.5h0m56.5 1h0m10-4.5h0m34 9h0m36 2h0m3.5-3.5h0m-115.5 10h0m28-3h0m73-3.5h0m10 8h0m-401.5 14.5h0m106.5-7h0m188-1.5h0m15.5 6h0m11.5-6.5h0m7.5 4.5h0m52 4.5h0m18-3.5h0m58 4.5h0m-470 11.5h0m123.5-7.5h0m161 8h0m14-1h0m89-2h0m20.5-4h0m-354.5 8.5h0m182.5 1h0m2 7.5h0m170.5-4.5h0m2.5 1.5h0m0.5 4.5h0m41 0.5h0m-72 2.5h0m16.5 6.5h0m-388.5 11h0m35.5 0.5h0m43-1.5h0m335-3.5h0m13.5-0.5h0m-360 14h0m18 0h0m109 3h0m21-5h0m182.5-2h0m10.5 8h0m12 0h0m47.5-2.5h0m-332.5 9.5h0m38.5-1.5h0m84 3h0m123.5 7h0m40-4h0m71.5-4h0m17.5 6h0m8-4.5h0m10 4h0m-432.5 4h0m50 4.5h0m51-5.5h0m39.5 2.5h0m156 17.5h0m113-7.5h0m22.5 6h0m-314.5 13h0m157.5-1.5h0m84 16.5h0m-187 6h0m135.5 1h0m27 1h0m8-1.5h0m62 2h0m23.5-5.5h0m-175 15h0m34 4h0m105.5-7h0m-140.5 13h0m15 1.5h0m15 1h0m141 6.5h0m-127.5 6h0m5.5-2.5h0m8.5-1.5h0m56.5 2h0m31 6h0m25.5-10h0m-254 13.5h0m80.5 8h0m68.5 0.5h0m17-6.5h0m23.5-2h0m68.5 7h0m-87.5 3.5h0m-93 13.5h0m30.5 4.5h0m0.5-4.5h0m-15.5 20.5h0m19.5 2h0m39.5-6.5h0m-12 9h0m1.5 7h0m84.5-4h0m-128 16h0m8.5-0.5h0m-15.5 9h0m86-2.5h0m10 2h0m3 3.5h0m2.5-8h0m39.5 9h0m-146 2.5h0m12.5 8h0m109.5-1.5h0m23.5-6h0m-108.5 14.5h0m12 3h0m15-4h0m47 3h0m15-2h0m9.5-2.5h0m18.5 3.5h0m17-4h0m-71 17.5h0" stroke="#fba286" stroke-width="8.4" /><path d="M1820.5 167.5h0m21 13h0m16-1.5h0m-102 36h0m33.5 11h0m-24 9.5h0m161.5 10h0m-190.5 5.5h0m3 0.5h0m75 1.5h0m-155 13h0m214-5.5h0m13 7h0m-36.5 5.5h0m-82 19h0m50 14.5h0m66.5 3.5h0m25.5-3h0m16.5 29.5h0m78.5 4.5h0m20-6.5h0m-222 24.5h0m131.5 0.5h0m2.5-1h0m-354 15.5h0m4 2.5h0m75-7.5h0m88.5 3h0m294 1h0m-473.5 9.5h0m39.5-2.5h0m15.5 9.5h0m88.5-2.5h0m204-6h0m57 3.5h0m-317.5 10.5h0m95.5 5.5h0m162.5 3h0m19 2.5h0m49.5-2.5h0m42 2.5h0m56.5 7.5h0m-148 11h0m-23 13h0m54.5-0.5h0m18.5 0h0m87.5-3.5h0m-155 8.5h0m-153 12.5h0m294-1h0m-264.5 9.5h0m134.5 7.5h0m127-4.5h0m-253.5 14.5h0m153 4.5h0m15.5-5h0m-60.5 20.5h0m3 12.5h0m-14 41.5h0m47-1.5h0m-8.5 8h0m6-0.5h0m19.5 0.5h0m53.5 3h0m-144.5 10.5h0m144.5 20h0" stroke="#fb9173" stroke-width="8.4" /><path d="M1851 234h0m16.5 11h0m-15.5 32.5h0m109.5 1h0m-202 32.5h0m96.5 24h0m141-1h0m-20.5 26.5h0m-362.5 5.5h0m12.5 9.5h0m7 4h0m65.5 0.5h0m366 6.5h0m-398.5 5h0m238.5 4h0m-230.5 11h0m398-1h0m-116.5 14h0m51.5 0h0m-245 12h0m155-4h0m-180.5 12.5h0m18.5 5h0m195 4.5h0m-154 4h0m136-1.5h0m49 77h0m-108 13.5h0m62-5h0m-57 14h0m28.5-3.5h0m-21 18.5h0m2 3h0m18.5 5h0m41 3.5h0m8-2h0m25 7.5h0" stroke="#f97b5d" stroke-width="8.4" /><path d="M1796.5 219h0m-86 37.5h0m100 11.5h0m-239 66h0m100 68h0m0.5-2h0m14.5-3h0m15.5 24h0m17 8h0m21.5 6.5h0m28.5 8h0m275.5 3h0m41.5-1.5h0m-313.5 17h0m22.5-1h0m191.5 26.5h0m-69 101h0" stroke="#f66348" stroke-width="8.4" /><path d="M1824.5 227.5h0m16.5 8.5h0m-50.5 17h0m129 68h0m4.5 70.5h0m-224 22.5h0m43 10h0m-9.5 8h0m14.5 14h0m3-1h0m45.5 33.5h0m106 90h0m5 8h0" stroke="#ec4533" stroke-width="8.4" /><path d="M1763.5 183h0m131.5 78.5h0m-261 122.5h0m127.5 75h0" stroke="#da2c26" stroke-width="8.4" /><path d="M1675.5 209.5h0m154 2.5h0m-111 11.5h0m-124.5 25h0m67 9h0m-103 6h0m25 1h0m9.5 10.5h0m-50.5 9.5h0m126 13.5h0m-133 9h0m48 0.5h0m409.5 26.5h0m57.5 208h0" stroke="#fee8de" stroke-width="8.4" /><path d="M1864 177.5h0m-204 15.5h0m73-4h0m-86 24h0m-74.5 29h0m191.5-4.5h0m-190.5 16.5h0m96 0h0m85.5-5.5h0m-125 12.5h0m-63 13h0m-28.5 8.5h0m48 3h0m50.5-1.5h0m-82.5 12h0m116.5 5h0m-171.5 13h0m345 0.5h0m-344.5 13.5h0m103.5 5.5h0m-32 22h0m-42.5 22h0m29.5-10.5h0m493 1.5h0m15.5 89.5h0m7.5 14h0m4.5 1h0m-3 5h0m6.5-0.5h0m-90.5 18.5h0m63.5 0.5h0m-21 22.5h0m21.5-7.5h0m17.5 9h0m-33.5 8h0m43.5-6.5h0" stroke="#fdddcf" stroke-width="8.4" /><path d="M1789 168.5h0m-23.5 19.5h0m4 4.5h0m18.5 1.5h0m-106 4.5h0m10.5 9h0m15-7.5h0m92.5 8.5h0m56-0.5h0m-214.5 6h0m109-0.5h0m-128 17.5h0m-21.5 6h0m19 8h0m28.5-9.5h0m138 7.5h0m29 0h0m57.5-2h0m-304 7h0m41.5 2.5h0m102 5.5h0m77.5-8.5h0m-215.5 16.5h0m56 4.5h0m47.5-9h0m269.5 8.5h0m-409 9.5h0m150 1h0m-178.5 13h0m62.5-4.5h0m43 4.5h0m4.5-4.5h0m-71.5 9h0m251 4h0m-285.5 13h0m77.5-3h0m406.5 3h0m-492.5 8h0m26 0h0m149 0.5h0m8 5.5h0m100.5 2h0m99 0h0m135-5h0m-516.5 13.5h0m9 4.5h0m70.5-7h0m227 4h0m103.5-4h0m-157.5 18h0m70.5-8h0m-302 11.5h0m61 3h0m406.5 4.5h0m-415 8.5h0m395 5.5h0m47.5-9h0m3 17h0m2.5 15.5h0m24.5-5h0m-240.5 31.5h0m75 31.5h0m120-2h0m42.5 10h0m-25.5 6.5h0m18.5 9.5h0m-33.5 24h0m33.5 16h0m-14.5 32h0m-31 5h0m50 9h0m-17 9h0m13-2h0" stroke="#fdd2c0" stroke-width="8.4" /><path d="M1772 168h0m11 5.5h0m41-3h0m-17.5 5.5h0m-139.5 15h0m-5 17h0m61.5-1h0m42 1h0m42.5-5.5h0m49.5 0.5h0m35 4h0m-279.5 6.5h0m6.5 6.5h0m66.5-6.5h0m49 3.5h0m4 2.5h0m13-3.5h0m7.5-1h0m9.5 2h0m52-1h0m57 5.5h0m-257.5 9.5h0m14.5 1h0m19.5-7h0m152.5 1.5h0m7 4h0m65.5-4h0m-161.5 16.5h0m32.5 1h0m53.5-5.5h0m-239.5 8.5h0m17-0.5h0m5 1.5h0m16 0.5h0m1.5 6h0m23 0h0m39-4h0m33-0.5h0m96.5-3.5h0m76 5.5h0m-229.5 8h0m29 6h0m12 2.5h0m18.5 1h0m55.5-2.5h0m123.5-5h0m12.5 6h0m24.5-7.5h0m30.5 6.5h0m-392 3h0m43 11.5h0m26-7.5h0m44.5 2h0m226.5-3h0m-363 15.5h0m90.5 1h0m219 2.5h0m59.5-5h0m20.5 2.5h0m11-7h0m-404 14h0m13 4.5h0m34.5 5h0m5-3.5h0m7 3.5h0m197.5-4h0m4.5-3.5h0m-182 13h0m81-2.5h0m199 4.5h0m16.5-3.5h0m57 0h0m-371.5 8.5h0m5.5 3h0m204 3.5h0m178-4.5h0m28.5-1h0m-452.5 11h0m1.5 10.5h0m23 0h0m382-9h0m68.5 3.5h0m-497 8h0m44 0.5h0m109.5 4.5h0m205.5-4h0m67.5 2.5h0m-448 14h0m53.5-1.5h0m231 1h0m202 1h0m-476 6.5h0m14 8.5h0m25-4.5h0m249.5-3h0m173-1h0m-433.5 12.5h0m497.5 18.5h0m-146 10.5h0m110.5 16h0m8-10h0m-93.5 19h0m113.5 2.5h0m27.5-0.5h0m8-5.5h0m-263.5 13h0m81-3.5h0m49 5.5h0m122.5 0h0m-166.5 7.5h0m3.5-2.5h0m64-0.5h0m19 5h0m92.5-4.5h0m-189.5 18.5h0m53 2.5h0m51.5 11h0m41-4.5h0m40.5 1.5h0m-9.5 16.5h0m20.5 0.5h0m3.5-9.5h0m-182 13h0m50.5-1h0m64 5.5h0m34-3h0m-131 14.5h0m65.5-4h0m58.5 19.5h0m14 1h0m-183 11h0m62.5-1.5h0m44-5h0m15.5-3.5h0m3 9h0m24-0.5h0m32 2h0m-61 4.5h0m39.5-3h0m-99 13h0m82 19.5h0m10 0.5h0m4-3.5h0" stroke="#fcc3ad" stroke-width="8.4" /><path d="M1765 165h0m-6 15.5h0m15 2.5h0m76-6h0m-191 14.5h0m148 6.5h0m21-5.5h0m10 1.5h0m34.5-4.5h0m6 4h0m-230.5 11h0m5 3.5h0m108-8h0m120 9.5h0m8-10h0m-259.5 20.5h0m23.5-3.5h0m92.5 15h0m3.5-0.5h0m82-0.5h0m63-0.5h0m2.5-5.5h0m12.5-2.5h0m-310.5 12h0m52.5 2.5h0m46.5-0.5h0m28.5 4.5h0m39.5 1.5h0m81-0.5h0m9.5-6h0m23.5 4h0m29 1h0m-287 13.5h0m155-3h0m5.5-2h0m110-1.5h0m42.5 8h0m-356.5 14h0m14-5.5h0m109.5-3h0m81-0.5h0m157-1h0m-297 17.5h0m190.5 2.5h0m29.5-8h0m-322 20h0m64.5-6.5h0m23 8h0m20-6h0m212.5-1h0m8.5 3h0m26.5-5h0m8 6.5h0m49.5 0.5h0m7.5-7h0m-427 17h0m277.5-4.5h0m5.5 6h0m19-5h0m-238 16h0m27 1h0m297-7.5h0m8 9.5h0m-121.5 1.5h0m28.5 11.5h0m57.5-3.5h0m-324.5 5.5h0m175 0h0m68-0.5h0m144 1.5h0m62 1.5h0m4-0.5h0m-432 11h0m264.5-2.5h0m103 17.5h0m43.5-1.5h0m5 6h0m8.5 1h0m-348 10.5h0m92.5 0h0m53.5-7.5h0m91.5 7.5h0m6 0h0m40.5-6h0m39-2.5h0m-348 13h0m363 2.5h0m-283 17h0m90-9h0m139.5 4.5h0m27-2h0m-25 11h0m17.5 6.5h0m16-5.5h0m69 12.5h0m-297.5 12h0m27.5 1h0m191 4h0m-205.5 8h0m126 2.5h0m29.5-3.5h0m93-3.5h0m30 10h0m6.5-1h0m21.5-2h0m-162.5 15h0m52-3h0m20.5-1h0m44.5 3.5h0m55-1h0m-180 9.5h0m14.5-4h0m40.5-0.5h0m16.5 9h0m27.5-10.5h0m-47.5 20h0m-22 18h0m14.5 4.5h0m37 0h0m6 2.5h0m38.5-7.5h0m4 6.5h0m33.5 1h0m-91.5 15h0m66-3.5h0m21.5-3h0m12.5 5h0m2-0.5h0m-116.5 10.5h0m10.5-7.5h0m89.5 3.5h0m-137.5 11.5h0m147 3h0m-138 9h0m20.5 3h0m60.5-1.5h0m29.5 2h0m-183.5 16.5h0m10.5-6h0m108-3h0m79.5-1h0m-194 18.5h0m3.5-1h0m74.5-2h0m2.5-5h0m19.5 3h0m34 5h0m20-4h0m-23 11h0" stroke="#fcb399" stroke-width="8.4" /><path d="M1768.5 171h0m30.5 11h0m-132 12.5h0m137.5-0.5h0m13-4.5h0m47.5 0h0m14 7.5h0m-221.5 3.5h0m125-2h0m-105.5 15.5h0m-53.5 27h0m17.5-2.5h0m32 1h0m0.5-4h0m21.5 7.5h0m19-4.5h0m19-2.5h0m29 6.5h0m83 2.5h0m3.5-0.5h0m34-7.5h0m16.5 1.5h0m-64.5 16h0m68 3h0m-55 8h0m14-4.5h0m55.5-0.5h0m-301 16h0m199.5 1h0m67.5-1h0m47 3.5h0m-105 11.5h0m122 2h0m26-10.5h0m-392.5 19h0m293.5-5h0m35 3h0m47.5-3.5h0m-111 20.5h0m41.5-5.5h0m19-2h0m10.5 1.5h0m8 6h0m11-2.5h0m-363 12.5h0m224.5 0.5h0m103-7h0m12.5 1.5h0m59.5-1h0m-377.5 14h0m271.5 5.5h0m15-7.5h0m53.5 0h0m16-2h0m20.5 0.5h0m39 8h0m9.5 2.5h0m-348 7.5h0m261-1h0m-433 5.5h0m176 1h0m311.5 11h0m37.5-4.5h0m-509.5 6h0m37.5 0h0m81 5.5h0m10 1h0m1-6h0m14 6h0m125.5-7h0m122.5 6.5h0m9.5 0h0m115.5-5h0m1.5 0h0m-383 13h0m41 5h0m98.5-1h0m246-6h0m-393 13.5h0m5.5-1.5h0m57 10.5h0m224.5-6.5h0m35 3h0m10-1h0m-262 5.5h0m66.5 2h0m139.5 5h0m19 1.5h0m44.5-5h0m-82 15h0m13.5-6.5h0m21 2.5h0m36.5-0.5h0m11.5 4.5h0m51.5 2h0m-112 5h0m8 2h0m21 2h0m55.5 2h0m-110.5 10.5h0m25.5 2h0m14.5 2.5h0m58.5-0.5h0m24.5-1.5h0m4.5 0.5h0m5-8.5h0m8 7.5h0m-248.5 6h0m14 8h0m165.5-6.5h0m14 6h0m33-3h0m48.5 0.5h0m-94.5 11h0m19 0.5h0m3.5-3h0m28.5 2h0m62-2h0m-196 18.5h0m23-9h0m44.5 0h0m39 1.5h0m-59.5 14.5h0m9-0.5h0m46.5-1h0m87-1h0m-190.5 11h0m2.5-1.5h0m26.5 9.5h0m86 1h0m12.5-9h0m41.5 2.5h0m-135.5 14.5h0m14.5-3.5h0m5 7.5h0m21.5-11.5h0m-48.5 23.5h0m-30 1.5h0m66-0.5h0m0.5 3h0m30-0.5h0m-84.5 20h0m52-8.5h0m86.5 2.5h0m30 6h0m-181 4.5h0m4-2.5h0m53 7.5h0m37.5 18.5h0m-29 9.5h0" stroke="#fba286" stroke-width="8.4" /><path d="M1870.5 185.5h0m-76.5 2.5h0m-3.5 19h0m-59.5 8h0m157.5 11h0m-264 10.5h0m166.5 7h0m58-3.5h0m7.5 3.5h0m9 2.5h0m35.5 9h0m-259.5 34.5h0m267 0.5h0m30 8h0m-45.5 17h0m23.5 9h0m60 4h0m18-7h0m-108.5 17.5h0m59 3.5h0m55-5h0m-308.5 10h0m273.5 17.5h0m66.5-9.5h0m-389.5 31.5h0m93-8h0m169.5 7.5h0m26.5-3h0m61-3h0m4.5 10h0m-2.5 1.5h0m-305.5 17h0m116.5 2h0m145.5-3h0m102.5 0.5h0m-359.5 8h0m108.5 9.5h0m145-7.5h0m37 2h0m17 1.5h0m-262.5 4.5h0m22 12h0m176-3.5h0m95.5-2h0m-252 9h0m219.5-1.5h0m45-1.5h0m2.5 0h0m-260.5 14h0m-3.5 12.5h0m10 0h0m132 0.5h0m76 26h0m52 3.5h0m-119 11.5h0m-49 13h0m10-1h0m7.5-2h0m67.5-3.5h0m-87 11.5h0m77.5-1h0m-68 16h0m52 3.5h0m-74.5 5.5h0m10.5 5.5h0m55-7h0m106 10h0m-156.5 11h0m16-4h0m8-4.5h0m24.5 16h0m54.5 6h0m61 0h0" stroke="#fb9173" stroke-width="8.4" /><path d="M1875 235h0m-47 15h0m73.5 11.5h0m34 6h0m-167.5 3h0m94 61h0m15 0h0m54.5 24h0m-374 11.5h0m38 10.5h0m184.5-11h0m231 10.5h0m-397.5 3h0m12.5 0h0m27 0h0m67 18h0m-8 11h0m18.5 2h0m227-1.5h0m-256 5h0m237.5 11h0m78.5-4.5h0m-36 6.5h0m-49.5 14.5h0m144-3h0m-304.5 13.5h0m163 4.5h0m0 12.5h0m-23.5 14.5h0m-8.5 21.5h0m59 13.5h0m-58 11.5h0m-6.5 12h0m-8.5 8h0m34 12h0m11.5 12.5h0m46.5 25.5h0" stroke="#f97b5d" stroke-width="8.4" /><path d="M1786 200h0m79.5 8h0m-96 26h0m30.5-3.5h0m114-6.5h0m-125 39h0m128.5 27.5h0m0.5 12h0m80.5 64.5h0m-294 32.5h0m8-1.5h0m-26 12.5h0m19 9h0m71.5-4h0m210.5 25.5h0m-198 17h0m124 123.5h0m4.5-9h0" stroke="#f66348" stroke-width="8.4" /><path d="M1836 245h0m-16.5 1.5h0m-93 12.5h0m94 21h0m119.5 3.5h0m-377 62h0m378.5 22.5h0m-232 39h0m251 0.5h0m-241.5 17h0m9.5-2h0m2 13h0m36.5 0.5h0m-11 15.5h0m193 137.5h0m67.5-7h0" stroke="#ec4533" stroke-width="8.4" /><path d="M1850.5 193h0m-3.5 7h0m71.5 131.5h0m13.5 43.5h0m-214.5 40.5h0m5.5 3h0m340 11h0m-146.5 134.5h0" stroke="#da2c26" stroke-width="8.4" /><path d="M1805 184h0m-174.5 69h0m-106.5 41h0m22 6.5h0m80 0h0m-87 25h0m23.5 31h0m454 94h0" stroke="#fee8de" stroke-width="8.4" /><path d="M1749 199h0m-129 11.5h0m19 9.5h0m35.5 8.5h0m-76 30.5h0m213 5.5h0m-188 14h0m-14.5 13h0m184-8h0m-182 11.5h0m-91 12h0m460.5 7h0m-479 10.5h0m14.5 0.5h0m25.5-6.5h0m-5.5 21.5h0m26 0h0m116-10h0m97.5 26.5h0m276 2.5h0m-529 20h0m464.5 14.5h0m-32 84.5h0m-69.5 12h0m182.5 46h0m-17.5 18h0" stroke="#fdddcf" stroke-width="8.4" /><path d="M1800 171.5h0m-13.5 8.5h0m23-2h0m2-2.5h0m58 4.5h0m-97 12h0m-122.5 11.5h0m67.5 6.5h0m42.5-2h0m120-5h0m-216.5 8h0m34.5 0.5h0m5 7.5h0m90 0.5h0m86-6h0m-286.5 19.5h0m23.5-10h0m71 2.5h0m234 2.5h0m-355 17h0m28.5-9.5h0m95.5 3.5h0m53.5 6h0m17-0.5h0m-161.5 5h0m25.5 0h0m118 4h0m7.5-4.5h0m-162.5 10.5h0m58.5 10h0m14.5-3.5h0m92.5-2h0m68.5-5.5h0m-204 18.5h0m57.5 1h0m196.5 0h0m42.5-7h0m-329.5 20h0m76-7h0m59 9h0m104.5-2h0m65 0.5h0m25.5-5.5h0m57.5 3.5h0m-470.5 8.5h0m55-3.5h0m13 4h0m20.5 1h0m60 3.5h0m61.5-5.5h0m-189 10.5h0m285 4.5h0m147-0.5h0m38.5 12.5h0m-468.5 12.5h0m11-4.5h0m3.5 7.5h0m8-8.5h0m226 1h0m242 5.5h0m-515 7.5h0m9.5 3.5h0m33.5-0.5h0m7.5 2h0m281-4.5h0m99.5 11.5h0m-399 14h0m4-3h0m14 4.5h0m489.5 17h0m33 35h0m-17 23.5h0m-23 27.5h0m19.5-2h0m-68.5 22h0m20.5 11h0m1-4.5h0m-83.5 17.5h0m62.5-0.5h0m33.5-2.5h0m-103.5 6.5h0m56 6h0m29.5-6h0" stroke="#fdd2c0" stroke-width="8.4" /><path d="M1803 158.5h0m-13 15h0m24.5-10.5h0m15 3.5h0m2 8h0m-140 22h0m47-7.5h0m11 9h0m26.5-10.5h0m13 2h0m7 7h0m-118.5 9h0m49.5-7h0m44 10.5h0m49.5-7h0m13.5 6.5h0m10.5-4.5h0m-237 16.5h0m67-6h0m2 4.5h0m51.5 0.5h0m33-0.5h0m13.5-2h0m115.5-4.5h0m16.5 3.5h0m-291 17.5h0m71.5-3h0m92-5h0m-193.5 13.5h0m70 5.5h0m44.5-4.5h0m5.5-2.5h0m0-1h0m48.5 1.5h0m156 5h0m-337.5 14.5h0m7-1.5h0m35 0.5h0m27-9.5h0m14.5 6h0m14.5-5h0m29.5 8h0m10.5-8h0m144.5 10h0m27.5-1h0m-303 12.5h0m22 0.5h0m79-3h0m34-7.5h0m14 8h0m54.5 0.5h0m4.5-2h0m9.5-2h0m17.5 1h0m103.5 1.5h0m-331.5 9.5h0m62.5-4.5h0m120.5 7h0m90.5-7h0m23 4.5h0m44-5.5h0m30.5 9h0m-426 10.5h0m268 3h0m131-9h0m44 4.5h0m-401 6h0m41.5 10.5h0m37.5-8.5h0m322-2h0m4 1h0m-419 22h0m43.5-5.5h0m11 4h0m5-5h0m4-4.5h0m150.5 1h0m19.5 3h0m2-3.5h0m4.5-1h0m170 3h0m-453 17.5h0m125.5-4h0m185.5 0.5h0m25.5-1h0m21.5-1h0m22.5 3.5h0m5 1h0m43.5-7h0m5.5 8h0m-405.5 13h0m343-1.5h0m122.5-2h0m-442 8h0m14 4h0m3.5 2.5h0m315.5-8.5h0m13.5 3.5h0m8 4h0m54.5 0.5h0m58.5-2h0m-523 11h0m16.5 4.5h0m2-7h0m223.5 2h0m199.5-1h0m29 3.5h0m56-5.5h0m-524.5 16h0m49.5 2h0m93-5.5h0m124.5 8h0m161.5-2.5h0m13-1h0m-51.5 5.5h0m47 2.5h0m92 6.5h0m12.5 0.5h0m-156 11h0m32-6.5h0m64-0.5h0m25 6h0m40.5-1h0m12 5h0m-68.5 8h0m34 0.5h0m-124 15.5h0m66.5-7.5h0m68-1h0m0 5h0m5.5 2h0m-6 2h0m-141.5 15h0m151 2h0m-171 14.5h0m76.5-2h0m76.5 0h0m-70 10h0m40 5.5h0m9.5-0.5h0m-138 13.5h0m8.5-3.5h0m114.5 2.5h0m-57.5 7.5h0m136 10h0m-52 11.5h0m-36.5 17h0m20-4h0m49 11.5h0m-176 10h0m115.5 10h0m45-8h0m-73.5 14.5h0m14-1.5h0m39 2.5h0m7-3h0m-27 19.5h0m31-7h0m11 1h0m-9 14h0m-55.5 11h0" stroke="#fcc3ad" stroke-width="8.4" /><path d="M1766.5 166h0m7.5-3.5h0m24 1h0m-51 21.5h0m76.5-1.5h0m31.5-9h0m-126 23h0m66.5-9.5h0m26 2.5h0m-177 10h0m11.5 6.5h0m26-2h0m37-6h0m54-1h0m9 8.5h0m47.5-3.5h0m-193.5 7h0m45 9h0m57-9h0m42 2.5h0m14.5-1.5h0m-180 17h0m37 5h0m37.5-5.5h0m3 3h0m60.5-5h0m21 4h0m118 3h0m-178.5 12h0m70.5-2h0m20.5 1h0m37.5-2h0m74.5-0.5h0m5.5 5h0m14-4.5h0m-290.5 13.5h0m37 1.5h0m15-8.5h0m9.5 2.5h0m76.5 4.5h0m60-3.5h0m29.5-2.5h0m37.5 9h0m16-6.5h0m-323 17.5h0m81-10h0m96-0.5h0m62.5 10.5h0m3-5.5h0m113-4h0m-397 13.5h0m282 4h0m49.5 2h0m11.5-5.5h0m20.5 4h0m-288.5 15.5h0m131-7h0m78-0.5h0m10 1.5h0m5.5 5h0m105.5-0.5h0m-426.5 11.5h0m331.5-4h0m83-4h0m-347 12h0m206.5 8h0m2.5-8h0m8 6.5h0m53 2h0m112-6h0m-431.5 17h0m404-5h0m26 0.5h0m8-3h0m-479.5 19h0m153 1h0m158.5-0.5h0m50-4h0m9 5.5h0m80-1h0m-390 14.5h0m85-9h0m156 7.5h0m-101.5 6.5h0m82.5-4h0m-281 22.5h0m25.5-4.5h0m29-1.5h0m3.5-1h0m77 3h0m164.5-2h0m-162 16.5h0m398.5 4.5h0m21 9h0m-280 8h0m125.5 4h0m37.5-6h0m18.5 0.5h0m7-1h0m13.5 2h0m9.5 5.5h0m8-4.5h0m43.5-3h0m22 3h0m-170 26.5h0m46 1.5h0m34-2h0m89.5-8h0m-91 21h0m13-2.5h0m72.5-3h0m-178 14h0m10.5 0h0m21.5 0.5h0m16-5h0m91.5 7.5h0m6.5-8.5h0m5.5 8.5h0m-145 7.5h0m176.5 11h0m-52 10h0m-65 23h0m29 9.5h0m36.5-3h0m33-0.5h0m-180 10h0m93.5-1.5h0m15.5-1h0m-19.5 20h0m2-2.5h0m22.5 1.5h0m30.5-6.5h0m9 0h0m-57 12h0m63.5 7h0m-170 7h0m140-1.5h0m16.5 2h0" stroke="#fcb399" stroke-width="8.4" /><path d="M1793.5 160h0m-20 11h0m50.5 10.5h0m-62 7.5h0m56.5 16.5h0m-161 13.5h0m52 1.5h0m161.5-6.5h0m-241.5 10h0m50.5 9.5h0m30.5-3.5h0m89-5h0m31.5 0.5h0m14 6.5h0m44-3.5h0m-57.5 10h0m0-2h0m65-1.5h0m-245.5 16.5h0m68 2h0m28.5 0h0m7.5-3.5h0m79-3.5h0m76 5.5h0m16.5-5.5h0m-325.5 31.5h0m228 1.5h0m4-3h0m81.5 3.5h0m-139 8.5h0m33 5h0m43-2h0m130.5-4h0m0 6h0m-77 9h0m71.5 1.5h0m9.5 1.5h0m-182.5 1h0m127 3.5h0m2.5 2.5h0m26-4h0m18 0.5h0m30 7.5h0m-209.5 8h0m199 2.5h0m15.5-6h0m-159.5 17.5h0m7.5 1.5h0m123 0.5h0m-415.5 5.5h0m28.5 3.5h0m69 2.5h0m101.5-5.5h0m71.5 4h0m119 0.5h0m32.5-6.5h0m-477.5 23h0m34.5 10h0m4-4h0m59.5-4h0m15.5-1h0m150-2h0m41.5 6.5h0m96.5-6.5h0m152.5 23.5h0m-310 4h0m182 7h0m2.5-8.5h0m8 2h0m22 7h0m38.5-4h0m44.5 3.5h0m-110 6h0m46.5 1.5h0m54.5-0.5h0m-121.5 9.5h0m43.5 7.5h0m59-3h0m30.5-7h0m22 9.5h0m-309.5 4.5h0m142 7.5h0m69.5-7.5h0m19.5 6.5h0m-209.5 3h0m161.5 0h0m8.5 5h0m15.5 5h0m20-3.5h0m34-6h0m3.5 10h0m6.5-2.5h0m-48.5 3.5h0m31.5 2h0m-131 14.5h0m38.5-1h0m23 1h0m9-3h0m43 8.5h0m-210.5 2h0m94.5 7h0m2.5 4.5h0m2.5-8.5h0m17 8.5h0m34 0.5h0m16.5-8h0m0.5 4.5h0m42-7.5h0m17 3.5h0m26.5 3h0m-152 11.5h0m8.5-1.5h0m34 6h0m132.5-2h0m-177 4h0m92 0h0m-70.5 17.5h0m-32.5 26h0m101 2h0m-116 10h0m14.5-8h0m50.5 8.5h0m21-9h0m111.5 7h0m-191 12h0m78-5h0m13 1.5h0m69.5 2h0m33-4.5h0m-114.5 14h0m6-1.5h0m5 5.5h0m7.5 1h0m23-3.5h0m19-3.5h0m-68 15h0m30 6.5h0m4-6.5h0m13-1.5h0m13 0h0" stroke="#fba286" stroke-width="8.4" /><path d="M1823 161.5h0m-3.5 19.5h0m12 10h0m-33 11.5h0m56 22h0m-163.5 15.5h0m78.5-3.5h0m150 0.5h0m-100.5 11.5h0m75 7h0m12-8.5h0m51.5 21.5h0m-153.5 6h0m18 6h0m80-10h0m31 4h0m31.5 1h0m-27.5 23h0m-40 11h0m69.5 7h0m-187 9.5h0m61 0.5h0m2-1.5h0m26.5 1h0m0.5-4.5h0m75 3.5h0m63.5-6h0m-336.5 19h0m127-0.5h0m32 0h0m49-1.5h0m112.5 4.5h0m10-5.5h0m-498 10h0m121 4.5h0m356-1h0m-193 7h0m210 0h0m13 6.5h0m-373 13h0m283-2h0m98.5-4h0m-416.5 14h0m45 5.5h0m29 0.5h0m105.5 0h0m164-3.5h0m36-0.5h0m-302.5 17h0m89-2h0m7-3h0m242 3.5h0m3-8h0m-237.5 16.5h0m249.5-2.5h0m-316 7.5h0m178 10h0m37-2h0m-36 15.5h0m29-11h0m-144.5 20.5h0m153.5-8.5h0m-124.5 23h0m104.5-3.5h0m62 2.5h0m27.5 1.5h0m-107 7.5h0m15-1.5h0m55.5-4.5h0m27.5 3h0m-95.5 16.5h0m16.5 12.5h0m13.5-0.5h0m12-3h0m48.5 2.5h0m-56.5 27h0m-0.5 5.5h0m2-5h0m44.5 10.5h0m-91 14h0m16.5 2.5h0m21.5 5.5h0m-28 7.5h0m-17 14h0m0.5-0.5h0m68 1.5h0m68 3h0m-73.5 3.5h0m19 7h0m37.5 2.5h0" stroke="#fb9173" stroke-width="8.4" /><path d="M1840.5 188.5h0m-225.5 28h0m171 33.5h0m94 19.5h0m-54.5 7.5h0m-14.5 37h0m-16 8h0m123.5 17h0m87-1h0m-48 39h0m-321 10h0m46-5.5h0m228 4h0m20-5h0m94.5 1h0m-381 10.5h0m319.5 1h0m37.5 5h0m-235 14.5h0m224-1h0m39.5 2.5h0m20.5-9h0m-295.5 19h0m291-6.5h0m-87.5 18.5h0m-201.5 19.5h0m231 18.5h0m-20.5 20h0m-89.5 9.5h0m44 32.5h0m-34.5 19.5h0m4-7h0m96.5 4.5h0m-56 8.5h0m29 29.5h0" stroke="#f97b5d" stroke-width="8.4" /><path d="M1779.5 199.5h0m-35.5 68h0m176.5 14h0m-359 18.5h0m-25.5 13.5h0m42.5 24h0m406 2h0m-212.5 9h0m265 7.5h0m16.5 18h0m-340.5 50h0m218.5-4.5h0m-176.5 18.5h0m250.5 6h0m-220.5 11.5h0m-14 8.5h0m153 17.5h0m-12.5 12h0m-10 40.5h0m6.5 35h0m61.5 7.5h0" stroke="#f66348" stroke-width="8.4" /><path d="M1826 320.5h0m-85.5 111h0m28.5 38.5h0m13.5 0.5h0m102.5 49h0m26 54.5h0m21 10.5h0" stroke="#ec4533" stroke-width="8.4" /><path d="M1720 411.5h0m17 9.5h0m10 9.5h0m5.5 5h0m8 12.5h0m28 30.5h0" stroke="#da2c26" stroke-width="8.4" /><path d="M1732 426h0" stroke="#af0b15" stroke-width="8.4" /></g><text x="71.5" y="772" class="pl" >c</text><g stroke-linecap="round" fill="none"><path d="M340.5 1029.5h0m142 12.5h0m-207.5 14h0m15.5 0h0m6 0h0m-78.5 13.5h0m28.5 1.5h0m14-8h0m6.5-0.5h0m15.5-5h0m11 2h0m15 1.5h0m29.5 7.5h0m-153.5 12.5h0m8 2.5h0m19.5-10.5h0m1 7h0m6.5 3.5h0m2-4h0m4.5 4.5h0m10-12h0m25.5 3.5h0m27 6h0m56 3.5h0m37.5-7h0m7-5h0m3.5 12h0m-231 8.5h0m0.5 0.5h0m0.5 3h0m0.5 2h0m5-8h0m3-4h0m4 6.5h0m2 0h0m1.5 1.5h0m4.5 0h0m7.5-7.5h0m4.5 6.5h0m0-5.5h0m2 8h0m4-2.5h0m3-5h0m2 4.5h0m1.5 5.5h0m12-5.5h0m28.5-0.5h0m8.5 4h0m8.5-2h0m1.5-7.5h0m-132 22.5h0m7.5-3h0m1-6h0m6-1.5h0m0.5 11h0m5.5-4.5h0m1.5 5.5h0m16.5-6.5h0m1 6.5h0m3-4h0m7-3.5h0m5-3h0m4.5 9h0m4-1.5h0m2.5-6.5h0m4 4h0m4.5-1.5h0m0.5-5.5h0m17.5 2h0m9 10h0m23.5-7.5h0m4.5 5h0m84.5 2h0m-212 6.5h0m3-4h0m9 10.5h0m2-10h0m4.5 6.5h0m7-7h0m1 7h0m3.5-1h0m0.5-4h0m3.5 11.5h0m10-6.5h0m4 4h0m4 2h0m2.5-12h0m1.5 8.5h0m6-4h0m5 7h0m3.5 1h0m1.5-12h0m2.5 2h0m3 8.5h0m8.5-11.5h0m11.5 1.5h0m9-1h0m6-0.5h0m1 5h0m9-5h0m71 7h0m1.5-5h0m30.5 6.5h0m7 0h0m-231 9.5h0m1 6.5h0m2.5 3h0m4-12h0m5 3.5h0m1 4h0m0-1h0m3.5 1.5h0m2 3.5h0m2.5-4.5h0m15.5-7.5h0m1 3.5h0m8 2h0m0 6h0m1-3h0m7 1h0m5.5-4h0m12 1.5h0m5-8h0m2.5 2.5h0m0.5 5h0m127.5 2.5h0m5.5-8.5h0m-209 12h0m14.5 0h0m6.5 1.5h0m9 2.5h0m7-1h0m2 3h0m1.5-3h0m9 0.5h0m4.5 0.5h0m13-2.5h0m137.5 32.5h0" stroke="#2c3e50" stroke-width="11" /><path d="M626 749h0m-47 9.5h0m13-8.5h0m1.5 9h0m3.5-5h0m15 8h0m5.5 0.5h0m2-10h0m2 8.5h0m10.5-11h0m10.5 9.5h0m3.5-6.5h0m9 7h0m-77 6.5h0m7.5 9h0m1-5.5h0m4-4.5h0m10 1h0m2 4h0m5.5-4.5h0m23.5 10.5h0m4.5-13.5h0m3.5 10.5h0m4.5-1.5h0m12.5-5.5h0m1 5h0m4 4h0m6.5-10.5h0m2 6h0m1.5-3h0m1.5 6h0m9.5-9.5h0m2 11.5h0m0.5-6.5h0m5.5 3h0m40.5 2.5h0m7.5-0.5h0m8 1h0m4.5 0h0m9.5-2h0m7.5 3h0m-180 0.5h0m6 3.5h0m2 10h0m6-12h0m6 12h0m11-3h0m5.5-1.5h0m1-7h0m22.5 1.5h0m18.5 4h0m19-3h0m1 7.5h0m25-1.5h0m11-8h0m2 10h0m5-8.5h0m6.5 0h0m2.5 4h0m7 1h0m5.5-5.5h0m5 4h0m1.5-2.5h0m0.5 4.5h0m3-7.5h0m4 12h0m10.5-10h0m-133.5 16.5h0m21.5 5.5h0m6-1.5h0m27-6h0m7.5 6h0m0-8h0m5 8h0m1.5-8.5h0m4 3.5h0m0.5 4.5h0m8-5.5h0m4.5-1.5h0m2.5 3h0m4-5.5h0m13 5.5h0m3-5.5h0m5.5 10.5h0m4.5-3.5h0m5 6h0m0.5-4.5h0m-99.5 18h0m12.5-7.5h0m6-0.5h0m5.5 0h0m4 5.5h0m2.5-4h0m8.5 0h0m3 0.5h0m0.5-3.5h0m3 10h0m3.5-5.5h0m1.5-4h0m5-0.5h0m5-0.5h0m5-2.5h0m7.5 2h0m5 2h0m6.5 4.5h0m3-5.5h0m1.5 9.5h0m3 0h0m0.5-12.5h0m1.5 5h0m2-2.5h0m4 6.5h0m-115.5 15.5h0m4 1.5h0m5-4h0m0.5-3.5h0m3.5 3.5h0m3 3.5h0m8.5 2h0m2.5-7.5h0m5.5-5h0m2 7h0m4.5-2.5h0m3-2h0m4-3.5h0m3 10.5h0m17-4h0m2.5-2.5h0m0.5 8.5h0m4.5-1.5h0m3-6.5h0m1 1.5h0m0-5.5h0m8 4.5h0m6.5 5.5h0m15-2.5h0m5.5 3.5h0m3 0h0m1.5 1.5h0m0.5-10.5h0m-144 24h0m2-3h0m2-1h0m4.5-2.5h0m3.5-1h0m8-3.5h0m6.5 2.5h0m1 3h0m1 1h0m1.5-5h0m6.5 4h0m5-7.5h0m3.5 4h0m1 6h0m5 0h0m3-9.5h0m4.5 11h0m1-7.5h0m4 1h0m4 3h0m0.5-7.5h0m6.5 5h0m2 6h0m1-8h0m1 4h0m6.5 4.5h0m6-5.5h0m8-4.5h0m2.5 5h0m2.5 7h0m1-11h0m1-2h0m1.5 6.5h0m6.5 0.5h0m3.5 3.5h0m0 0h0m0-6.5h0m3.5-4.5h0m2.5 1h0m0.5 7h0m1.5 3h0m2-6.5h0m5-4.5h0m33.5 6h0m-178 21.5h0m3.5-7.5h0m11.5-5.5h0m1.5 11.5h0m2-9.5h0m1.5 10.5h0m1.5-6h0m2.5-7.5h0m1 7.5h0m5.5 4.5h0m3-8h0m0.5 3h0m4.5 3.5h0m11.5-9.5h0m3 2h0m7-2.5h0m0.5 0.5h0m2 9h0m3 2.5h0m8 1h0m5-11h0m3 0h0m0.5-2.5h0m1 8.5h0m0.5 4.5h0m15-8.5h0m2.5 0h0m0 3h0m0.5 4h0m3 2h0m10.5-12h0m5.5-0.5h0m5.5 12h0m0-10h0m0.5-2.5h0m1 3h0m6.5 0.5h0m11 5.5h0m19.5-7.5h0m-174.5 15h0m18.5 2.5h0m2.5-3.5h0m8 12h0m0.5-10.5h0m7.5 10h0m0.5-4h0m0.5-8.5h0m10 10.5h0m6.5 2h0m3.5-8.5h0m2-3h0m5 3.5h0m6-5h0m15.5 1h0m4.5 6h0m3.5 6h0m12-1.5h0m5-6h0m5.5 3.5h0m9-4h0m3 6h0m1.5-5h0m9-2h0m19.5-1h0m-185.5 23h0m2.5-1.5h0m9.5-3h0m4.5 6h0m16-7h0m9-2.5h0m13 0h0m6 3.5h0m3.5-1.5h0m11.5-4.5h0m1.5 3.5h0m16 4.5h0m2-8.5h0m17.5-1h0m7.5 4.5h0m0.5-0.5h0m7 0.5h0m2 7h0m3.5-1h0m2.5-4h0m45 1h0m-184.5 16.5h0m4-1h0m11 0h0m41 3.5h0m5-1h0m2-8h0m11.5-1h0m5.5-2h0m4 0h0m0.5 4h0m9.5 2.5h0m11.5-4.5h0m24.5 1.5h0m4.5 2h0m2-4.5h0m-146.5 22h0m21-9h0m2 4h0m87.5-2h0m9 6h0m5-3.5h0m3-5.5h0m26 5.5h0m-159 19.5h0m7.5-8.5h0m7-1.5h0m83 9.5h0m16.5-5h0m1.5 3h0m10.5 1.5h0m2 3h0m2.5-10h0m9.5 7h0m31 2h0m2-12h0m27 13h0m1.5-1h0m-94 11.5h0m6.5-2h0m2-3h0m5 4.5h0m-160.5 9.5h0m40.5-3.5h0m63 3.5h0m74-2.5h0m-99.5 21h0m12-5h0m1-2h0m34.5-1.5h0m-22 26.5h0m12.5-9.5h0m3 2.5h0m4.5 0.5h0m3.5-2h0m14.5 1.5h0m-196.5 20h0m145-2h0m18.5-4h0m0 4h0m8 2h0m3-10h0m21.5 2.5h0m2-3h0m-56 13h0m7.5 3.5h0m2.5 8.5h0m3-6.5h0m-57 19.5h0m20.5-9.5h0m0.5 7h0m5 3.5h0m1-10h0m2.5 6h0m36.5-7h0m-74.5 16.5h0m27.5-3h0m-195 14h0m198.5 10h0m-31.5 10h0m-98 7.5h0" stroke="#c7b1d8" stroke-width="11" /><path d="M784 858.5h0m-15 5.5h0m18 1h0m44.5 18h0m-27 14h0m52.5-1.5h0m-8.5 10h0m2 4.5h0m8 2h0m-64 12h0m5.5 1.5h0m33 4.5h0m21.5-8.5h0m2.5 6.5h0m0.5-5h0m6.5 4.5h0m2-4h0m6-1h0m2.5 8.5h0m-162 1.5h0m87.5 10.5h0m0.5-4.5h0m4 3h0m5-1h0m6.5-2.5h0m23-3.5h0m8 2.5h0m14-4.5h0m2 9.5h0m3-4.5h0m3.5 2h0m8 1.5h0m1.5-8h0m2.5 2h0m3 9h0m7.5-3h0m-253.5 4.5h0m102 7h0m0 4h0m5-8.5h0m18.5 5.5h0m3.5 0h0m9.5-0.5h0m3.5 5h0m0.5-11h0m2.5 7.5h0m11 1h0m1-10.5h0m1.5 8.5h0m9.5 5.5h0m14.5-12.5h0m1 10h0m4.5-9h0m12.5 0h0m1.5 5.5h0m3.5-7.5h0m0.5 4h0m6-4.5h0m1.5 9.5h0m1 3h0m5-10.5h0m0.5 10.5h0m8.5-6.5h0m2-5h0m12.5 2h0m5-1h0m4-1h0m2 2.5h0m3.5 1h0m-116 12.5h0m11.5 0.5h0m7.5-2h0m32.5 4h0m5 2h0m2.5-2h0m3 2.5h0m3.5 0.5h0m1.5-3.5h0m5-1.5h0m22-0.5h0m9.5-0.5h0m-305 35h0m-36.5 7h0m29 2h0m4.5-2.5h0m3.5-0.5h0" stroke="#fbb96c" stroke-width="11" /><path d="M842.5 874.5h0m10 8.5h0m25 26.5h0m5 5h0m0.5-8h0m0 3.5h0m6.5 1h0m-52.5 13h0m39-5h0m7.5 0.5h0m3 2h0m-199.5 59.5h0" stroke="#f3801f" stroke-width="11" /><path d="M618.5 1020.5h0m30-3h0m-29.5 25.5h0m15.5-4.5h0m-20.5 12h0m12.5-1h0m4-2h0m1.5 3h0m3 3h0m3-1.5h0m9.5 0h0m-28 7h0m8-1h0m6.5 1.5h0m2 4h0m4-2.5h0m4.5-3.5h0" stroke="#f4989a" stroke-width="11" /><path d="M539.5 1040.5h0m-14.5 34h0m-16.5 36h0m19 2h0m-23.5 15h0m2.5 12h0m10.5-7.5h0m7-0.5h0m-8 14.5h0m-9 14.5h0" stroke="#c9b48b" stroke-width="11" /><path d="M440 1105h0m7 17h0m-79 14h0m15 1.5h0m6-3h0m6.5 5h0m2.5-3h0m17 1.5h0m13.5-1.5h0m-28 10h0m4.5-2h0m6 10h0m27-13h0m0.5 0h0m30 4.5h0m14 1.5h0" stroke="#e11f26" stroke-width="11" /><path d="M503.5 1056.5h0m9.5-11.5h0m11.5-0.5h0m7 0h0m7 3.5h0m-12 52h0" stroke="#a6cee3" stroke-width="11" /><path d="M349 1232.5h0m-2 17h0m-7 4h0m3 1.5h0m2.5 6.5h0m2-3h0m5.5-3.5h0" stroke="#2277b5" stroke-width="11" /><path d="M588 761h0m13.5-10.5h0m0 9h0m3.5-4h0m0.5-5.5h0m3 13h0m8-9h0m7.5-2.5h0m7.5 8h0m3-1.5h0m6-2.5h0m10.5 4.5h0m-68.5 3.5h0m0.5 5.5h0m16.5 7h0m4.5-11.5h0m5.5 6.5h0m9 4h0m7-3.5h0m0.5-6.5h0m3.5 0h0m3.5 2h0m9.5-3.5h0m8 2h0m3.5 8h0m41.5-0.5h0m2.5 2.5h0m39.5-6.5h0m7.5 1.5h0m2.5 1.5h0m-163.5 6.5h0m4.5 3h0m0.5 4.5h0m4-8.5h0m5.5 10h0m44-8h0m5 4.5h0m6.5 2h0m0.5-9h0m8 4.5h0m1 3.5h0m4-3h0m25.5 6h0m3-3.5h0m2-3h0m4 9h0m4-4h0m9 1h0m1.5-7.5h0m2.5-2h0m0 10h0m10-1h0m3.5-4.5h0m2 5.5h0m9.5-2.5h0m5-3h0m12.5-2.5h0m1 3.5h0m2-1h0m2-1h0m-167 11h0m4 0h0m47 11.5h0m10-11.5h0m34.5 11.5h0m6-10.5h0m9.5 8.5h0m4-0.5h0m4-2.5h0m6 3h0m8-2.5h0m4 3h0m3 0.5h0m2.5-2.5h0m3.5-8h0m4 8.5h0m1 1h0m1.5-5.5h0m8.5-2h0m-153.5 23.5h0m2.5-5.5h0m10.5 1h0m52-0.5h0m6 3h0m1-1h0m3-5h0m2.5-4h0m3.5 11.5h0m3-8h0m0.5 7.5h0m0.5 1h0m5.5-3h0m3.5-1h0m8.5-6h0m2.5 6h0m5-8h0m2.5 11.5h0m4-11.5h0m2 5h0m7.5-2h0m5.5 5h0m5 0h0m5-4.5h0m1.5 7.5h0m3.5-3.5h0m5-8.5h0m6 13.5h0m-133 4.5h0m10.5-2h0m7 4h0m3 1h0m5 3.5h0m12.5-3.5h0m2-1.5h0m2.5 0h0m0.5 5h0m1-10h0m2 0.5h0m2.5 11h0m8.5-9.5h0m6-1h0m1 6h0m2 5h0m1-4.5h0m1.5-6.5h0m1.5 3.5h0m3 6.5h0m3.5-0.5h0m0-0.5h0m3.5 2h0m3.5-11h0m8.5 1h0m1.5 7.5h0m4 3.5h0m5.5-10h0m9.5-1.5h0m1.5 10.5h0m7-6.5h0m1 3.5h0m0.5-7h0m3 5h0m4-6.5h0m2.5 2h0m24 2.5h0m-165 20.5h0m10-1h0m7.5 1h0m1-11h0m8.5 2.5h0m0-2.5h0m3 11.5h0m0.5 1h0m2.5-6h0m2 3h0m11.5-3.5h0m1-6.5h0m5 4.5h0m3.5 0h0m2-3h0m2.5 11h0m0.5-5h0m1.5-7.5h0m12 4h0m9 7.5h0m9-5.5h0m2.5-4h0m1 11h0m3-8h0m2 6h0m6.5-5.5h0m11-5h0m1 7.5h0m13 3.5h0m2.5-8.5h0m3 0.5h0m0.5 5.5h0m3 2h0m26.5-11.5h0m-170 17.5h0m3.5 3h0m0.5-2h0m3 1h0m8 2h0m2-6.5h0m2.5 12h0m11.5-8h0m3.5-0.5h0m6.5 8h0m8-4.5h0m11 4.5h0m2.5-6.5h0m0.5-1h0m6 7h0m2-3h0m0.5-3.5h0m1 5h0m7 0.5h0m0.5-10.5h0m2 13h0m1.5-4.5h0m2 0.5h0m3-5.5h0m3 8.5h0m4.5-1.5h0m8.5-4h0m1.5 3.5h0m3-6.5h0m1.5 4.5h0m8.5 0h0m2.5 4h0m3-2.5h0m1 1h0m0.5-9.5h0m3.5 8.5h0m2.5 1.5h0m1.5-7.5h0m3.5 2h0m3.5-0.5h0m36 4.5h0m-203 16.5h0m7.5 0h0m24.5-8h0m9.5 0h0m10.5 1h0m3-1.5h0m0.5 0h0m10 2.5h0m3.5 6.5h0m1.5-8.5h0m5-2.5h0m1.5 12h0m4.5-6h0m0 6h0m4-4.5h0m0 0.5h0m1-4h0m1-4.5h0m10 10.5h0m2.5 0.5h0m0.5-7h0m1.5-2h0m2.5 8.5h0m3-8.5h0m2 3.5h0m1.5 5h0m1.5-12h0m1 5h0m2.5-4.5h0m0.5 11.5h0m1.5-5h0m4.5-6h0m8.5 7.5h0m2.5-1.5h0m7 5h0m0.5-0.5h0m1-3.5h0m4-3h0m5 2.5h0m63.5-2.5h0m-227.5 18h0m12-2.5h0m31 0h0m3-4.5h0m3.5 11.5h0m3-1.5h0m1.5-8.5h0m12.5-1h0m23 4h0m12-3.5h0m9 3.5h0m5 2h0m5-3.5h0m3.5 5.5h0m7 2h0m6-2.5h0m2.5-7.5h0m-134.5 14.5h0m14 0.5h0m29.5 4.5h0m9-0.5h0m5 1.5h0m30-4.5h0m6 6.5h0m2.5-5h0m11.5 6.5h0m4.5-7.5h0m1.5 5h0m3.5-2.5h0m1 3.5h0m6 0h0m19-5h0m103.5 0h0m-271 13h0m1-4h0m3.5 12.5h0m4-2h0m3.5-9.5h0m3.5-1.5h0m10 2h0m87 9.5h0m6.5-9.5h0m8.5 9h0m4.5 0.5h0m7.5-7.5h0m51-0.5h0m-224 21.5h0m30.5-3.5h0m4.5 4.5h0m3-8.5h0m27 6h0m42 3h0m31.5-9h0m10.5-2.5h0m2.5 12h0m1-11.5h0m8 4.5h0m4-2.5h0m-153 14.5h0m0.5-1.5h0m59.5 5h0m34 3.5h0m23.5-8.5h0m24.5 0.5h0m3.5 2.5h0m-128.5 8.5h0m55 12.5h0m8.5-8.5h0m163-2.5h0m-290.5 19.5h0m103.5 3h0m22.5 0h0m47-5.5h0m-10 11h0m10 12h0m34-7.5h0m0.5-3h0m-142 14h0m59.5 7.5h0m5.5 2.5h0m6.5-3h0m10-6.5h0m-130 19.5h0m96-5h0m15.5-2.5h0m8.5 4.5h0m-259 14.5h0m239.5-5.5h0m5.5 4.5h0m-161 15.5h0m106.5 4h0m4 0h0m7-3h0m6-4h0" stroke="#c7b1d8" stroke-width="11" /><path d="M627 1024.5h0m-3.5 12h0m-1 17.5h0m0.5-4h0m8 4h0m5-6.5h0m3-1.5h0m3.5 4.5h0m-12.5 11.5h0" stroke="#f4989a" stroke-width="11" /><path d="M657.5 822.5h0m136 51h0m5 9.5h0m2.5-3h0m-57.5 32.5h0m99.5-4h0m3-1.5h0m15.5 7.5h0m-22 4h0m0.5 5.5h0m4.5-6h0m2.5 4h0m4 1h0m21.5 3h0m-97.5 19h0m17-6h0m3-3h0m30 8h0m3-5.5h0m3.5-5.5h0m0 5h0m1 6h0m4.5-4.5h0m3 4.5h0m8.5-2.5h0m4-6.5h0m1.5-3.5h0m0.5 11.5h0m5.5-6h0m10.5-0.5h0m11 6.5h0m7.5-5.5h0m8.5 7h0m-163 11.5h0m0.5-6.5h0m6.5-0.5h0m23.5-2h0m3.5-1.5h0m3 11.5h0m7 0h0m7.5-8h0m2-3h0m3 2h0m11 7h0m0-9h0m5-1h0m3 8.5h0m6.5 2h0m0.5-9.5h0m4.5 7.5h0m45.5 2.5h0m8 1.5h0m0.5-11h0m0.5 7h0m11 3.5h0m3.5-1h0m7.5-3.5h0m-245.5 8.5h0m150 1.5h0m11.5 2h0m8 2h0m3-7h0m11.5 0h0m11 0h0m7.5 0.5h0m6 3.5h0m6-4h0m3 7h0m-277 12h0m3.5-3h0m25 6.5h0m125 1.5h0m-166.5 10h0m5.5-1.5h0m6-2.5h0" stroke="#fbb96c" stroke-width="11" /><path d="M284 1054.5h0m-34 16h0m4-1h0m16-2.5h0m6.5-6h0m19.5 0.5h0m5.5 0.5h0m17.5-1h0m-130.5 21.5h0m11.5-1h0m1-5h0m2 5.5h0m5-8.5h0m1.5 5h0m8.5-5.5h0m31 5.5h0m3.5-4.5h0m5.5 5h0m1 4h0m10.5-11h0m5 10.5h0m-100.5 12h0m5 4.5h0m3.5-9.5h0m0.5 7.5h0m4-8h0m1 1h0m4 5h0m0.5 2h0m8-8.5h0m2-3.5h0m5.5 0h0m1.5 3.5h0m3 3h0m5-5h0m8.5 1.5h0m14.5 2.5h0m14.5 4h0m4.5 0h0m12 1h0m5.5-7.5h0m68.5 5.5h0m-207.5 16h0m4-3.5h0m5.5 4.5h0m4.5-6h0m1-1h0m2.5-2h0m7.5 6h0m1.5-5h0m1.5 5h0m18.5 1h0m2 1h0m1-3.5h0m1-4.5h0m3.5 4h0m2.5-3h0m2.5-2h0m2.5 0h0m2 7.5h0m0 0.5h0m1-3.5h0m10 7.5h0m0.5 0h0m14.5-0.5h0m13.5-9.5h0m7.5 7h0m91-9.5h0m-210.5 26.5h0m8.5-2.5h0m2.5-2.5h0m2.5-5h0m4 4h0m2-1h0m1-3.5h0m3.5 0.5h0m0.5 7h0m0.5-1.5h0m6.5-4.5h0m1.5-1h0m4.5 1h0m8.5 3h0m0 0h0m6.5-4.5h0m3.5 5h0m6-3.5h0m0 8h0m3-6h0m3.5-1.5h0m5.5-0.5h0m6 4.5h0m12 1h0m8.5-6h0m14.5 2.5h0m7.5-5h0m30.5 6h0m8.5-4h0m17-2h0m-164 19.5h0m3-1.5h0m4-3.5h0m5.5 3h0m2.5-3h0m1.5 10.5h0m4-1.5h0m5.5 1h0m1 1.5h0m1.5-3h0m4 2h0m0.5-9.5h0m3.5 1h0m4.5-3.5h0m7 2h0m2 0.5h0m2 2.5h0m4-2.5h0m2 9.5h0m0.5-5.5h0m10-3.5h0m6.5 2.5h0m-67.5 8.5h0m4.5 3.5h0m6.5 2h0m2.5 0.5h0m14.5-0.5h0m6-2h0m27.5-2.5h0m2.5-1h0" stroke="#2c3e50" stroke-width="11" /><path d="M539.5 1034.5h0m-36 15h0m10.5 4.5h0m-1.5 3.5h0m2 3.5h0m3.5 0h0" stroke="#a6cee3" stroke-width="11" /><path d="M377 1226h0m-37 24.5h0m1.5 9.5h0m3-2h0m5-3.5h0m0.5 6h0" stroke="#2277b5" stroke-width="11" /><path d="M363.5 1133h0m43.5 5h0m0-4.5h0m11.5 1.5h0m7.5 5h0m11.5-11h0m-79.5 12.5h0m29.5 1.5h0m4-1.5h0m6 7h0m1.5 2.5h0m3 2h0m3.5-2.5h0m10.5-7.5h0m4.5 4.5h0m3.5 1.5h0m2.5-3.5h0m6 4.5h0m23 0h0m24.5 1.5h0" stroke="#e11f26" stroke-width="11" /><path d="M542 1012h0m-27.5 95.5h0m18.5 4h0m2.5-2.5h0m-25.5 16h0m4.5-6.5h0m4 0h0m4 4.5h0m2-4h0m10 0.5h0m1.5 4.5h0m-89 12h0m7.5 3h0m25.5 0h0m11-1.5h0m6.5-4.5h0m3-5.5h0m3.5 3.5h0m4-0.5h0m0.5 5.5h0m7 4h0m7-1.5h0m2-10.5h0m2 10h0m4-4.5h0m3.5-6.5h0m-20.5 25.5h0m2.5 6.5h0" stroke="#c9b48b" stroke-width="11" /><path d="M746.5 816.5h0m121.5 85h0m6 6h0m12 7.5h0m6 6.5h0m3.5 2h0m-41.5 12h0m8.5-4.5h0" stroke="#f3801f" stroke-width="11" /><path d="M575 976.5h0m-52.5 100h0m1.5-1h0m-16.5 26.5h0m0 5h0m4.5 4h0m16.5-1.5h0m11-2.5h0m-34 7.5h0m0.5 9.5h0m3-5.5h0m6.5-5h0m0 10h0m2 3h0m4-0.5h0m1.5-12h0m4.5 2.5h0m3.5 4.5h0m-79.5 19.5h0m34-4.5h0m16 0.5h0m31.5-5.5h0m-30 12h0m13 7h0m-6 7.5h0m1 8h0m8-1h0" stroke="#c9b48b" stroke-width="11" /><path d="M302 1056h0m53-5h0m52.5 1.5h0m-179.5 17h0m28.5-4h0m9.5 0.5h0m11-0.5h0m57.5 4h0m-148 15h0m11.5-2.5h0m19.5-4h0m4.5-3.5h0m14.5 8h0m13-0.5h0m137.5-4h0m-234.5 17.5h0m2-1.5h0m4-1.5h0m9-4h0m3 8h0m0.5 1h0m4.5 0.5h0m0-12h0m3 5h0m9 5h0m1-2h0m7.5-7h0m10.5 4.5h0m6-6h0m5 11h0m14-9h0m1 7h0m8 0h0m6.5 1.5h0m22.5-6.5h0m-123.5 18h0m4-7.5h0m4 9h0m13-8h0m2.5 11h0m6.5-12h0m2.5 4.5h0m5.5-4h0m6 12h0m3-7h0m0.5-6h0m4 9.5h0m0.5-4h0m1 7.5h0m3-1h0m6-0.5h0m1.5-3h0m5-5.5h0m7-2.5h0m9 6h0m4-6h0m8.5 5.5h0m93 1.5h0m-205.5 9h0m4.5 0.5h0m1.5 9h0m6-12.5h0m2.5 7h0m6.5-3.5h0m6 0.5h0m3.5 9.5h0m3.5-3h0m5.5-7h0m0 5h0m8.5 4.5h0m2.5-11.5h0m1.5 3h0m2-4h0m1.5 8.5h0m9 4.5h0m1-1.5h0m0-3.5h0m0-7.5h0m10.5 1.5h0m0 4.5h0m3-6h0m1 11.5h0m1.5-4h0m1.5-4.5h0m1.5 1h0m2 4h0m9.5-3h0m9 0h0m24.5 1h0m6-6h0m0.5 4h0m0.5 3.5h0m20-3.5h0m32 1.5h0m25.5-6h0m-214.5 14.5h0m3.5 4h0m0 4h0m2.5-1h0m4.5-2h0m4 7h0m6-12.5h0m8 9.5h0m1.5-4h0m1-2.5h0m0 9h0m2.5-2.5h0m3.5-7h0m0.5 6.5h0m5.5-5h0m0.5 4h0m4 2.5h0m0.5-9h0m7 5.5h0m2.5 4.5h0m0.5-8h0m5 4h0m4 2.5h0m0.5-8.5h0m1 8h0m2.5 2.5h0m2-7.5h0m1.5 3h0m8 4h0m0.5-2h0m28-9.5h0m-98 16.5h0m9.5 3.5h0m7-3.5h0m9.5 1h0m0 4h0m3-2h0m11 3h0m1-5h0m4 0h0m4 4.5h0m3.5-2.5h0m3-3.5h0m0.5 2.5h0m6 0h0" stroke="#2c3e50" stroke-width="11" /><path d="M601 747h0m9 0h0m-35 13h0m8-5.5h0m3.5 2.5h0m11 2h0m11-5h0m19.5 4.5h0m17.5 4h0m19-1.5h0m4-1.5h0m-76 12h0m3-7.5h0m17 2.5h0m4 1.5h0m4-1h0m8 3h0m8 5.5h0m1.5-6.5h0m6 7.5h0m1.5-10.5h0m13.5-1.5h0m4 2h0m12-0.5h0m5.5 3h0m0 4h0m21 3.5h0m27-0.5h0m6.5-4h0m2.5 0h0m11-4h0m3.5 9h0m0.5-7.5h0m0.5 1.5h0m9.5 3.5h0m2.5-1h0m-166.5 8.5h0m13-3h0m0 9.5h0m5-4h0m19.5-4h0m2.5 2h0m6.5 6.5h0m13-1.5h0m14.5-6h0m9.5 1.5h0m8.5-5h0m4.5 2h0m9.5 10.5h0m1.5-12h0m5 7h0m2.5-1h0m0 6h0m9.5-12.5h0m6 5h0m0.5 4h0m6.5-7h0m8 0h0m11.5-2.5h0m5.5 11h0m-146 3h0m11 12h0m30.5-7.5h0m15-3.5h0m7.5 3.5h0m14 4.5h0m18-2.5h0m0.5-5.5h0m9 3.5h0m6.5 6.5h0m1-1h0m5.5-9h0m2 6h0m2 1.5h0m2.5-8.5h0m1 11.5h0m14-9.5h0m1 5.5h0m5-6.5h0m1 7h0m4-4.5h0m-156 11h0m13 3h0m36-2h0m14.5 6h0m2 3.5h0m7.5 0h0m4-4h0m8.5-2h0m3 6h0m1.5-7.5h0m4 3h0m7.5 3.5h0m4.5-3h0m9.5-1h0m2 3.5h0m1 3.5h0m2-1.5h0m0.5-5h0m3 0h0m0.5-6h0m1.5 3h0m1 1h0m4 7.5h0m6-3h0m10.5-1.5h0m5.5 3h0m3-6h0m2 7.5h0m0.5-8h0m-148.5 18.5h0m4.5-3h0m14-4.5h0m6.5 10h0m10-4h0m7.5 4.5h0m1.5-6.5h0m4.5-4.5h0m3 12.5h0m9-13h0m15 12.5h0m1.5-5.5h0m5.5-0.5h0m13-6.5h0m1 6h0m2.5 5h0m12.5-0.5h0m2.5 1h0m0 1h0m2.5-7h0m7 1.5h0m2-1h0m3 7h0m1.5-1h0m2-4h0m6-5h0m0.5 10.5h0m4-3.5h0m-147 15.5h0m22.5-9.5h0m7 3.5h0m0.5-6h0m1.5 5.5h0m1 6.5h0m1.5 1h0m6.5-11h0m0.5 5.5h0m1-6h0m3.5 2h0m4 8.5h0m0-0.5h0m0.5-8.5h0m6 7.5h0m6.5-0.5h0m11 2.5h0m4-1h0m0-10h0m9.5 10h0m3.5-11.5h0m5 11.5h0m8.5-3h0m1 0.5h0m3-8h0m1.5 9.5h0m4 1.5h0m11-6.5h0m3.5-1h0m13 3.5h0m6.5-6.5h0m3 3h0m3-2h0m24 10h0m-186.5 9.5h0m3.5-1.5h0m9.5-5.5h0m1 9h0m0.5 2.5h0m15.5 1h0m4.5-5.5h0m0.5-7.5h0m3.5 7h0m4.5-4.5h0m6-2.5h0m8 9.5h0m4.5 3h0m4.5-0.5h0m1.5-2h0m4.5-4.5h0m2 3h0m2-0.5h0m6.5-6h0m7 5.5h0m9.5-3.5h0m3 3.5h0m6-7.5h0m5.5 5h0m0.5 2h0m0.5-5.5h0m2 1h0m5 8.5h0m5-10.5h0m2.5 5.5h0m2 4h0m7.5-5.5h0m2 8.5h0m1-6.5h0m2-3h0m4.5-1h0m39.5 5h0m-194 15.5h0m6.5-2h0m7 5.5h0m10.5-5.5h0m4-7h0m3.5 9h0m12.5-0.5h0m3.5-7.5h0m4-0.5h0m4 8.5h0m5-0.5h0m0.5-6h0m1 6.5h0m3 2.5h0m6.5-2h0m13-7h0m1.5 4h0m1.5 1.5h0m2.5-2.5h0m15.5-2.5h0m0.5 6h0m7.5 2.5h0m0-2h0m5.5-7.5h0m7.5 8h0m5-3h0m3.5-3h0m11.5-0.5h0m56-1.5h0m-208 21.5h0m5.5-1.5h0m59 5h0m0.5-8h0m19-3.5h0m3.5 4h0m6.5 3h0m12.5 2h0m10.5-5.5h0m0-5h0m3.5 5.5h0m6-2.5h0m18 4.5h0m0 0h0m18.5 0h0m-182.5 10h0m7 5.5h0m17.5-2.5h0m24.5 6.5h0m2-6.5h0m15 3.5h0m46-4.5h0m22.5-0.5h0m122 1h0m-263 13.5h0m8 0.5h0m1 7.5h0m47-9h0m13-3h0m32 7h0m21-1h0m60.5-2.5h0m-196.5 13h0m8 3.5h0m9 3h0m23-0.5h0m20.5-3.5h0m10 5h0m34.5-6.5h0m19 2.5h0m13.5 0h0m4-3h0m10.5 3.5h0m-106 14h0m50-5.5h0m17.5 0.5h0m8-3h0m78.5 2.5h0m-59.5 12h0m86.5 1h0m-140 14h0m24.5 2h0m-43 22.5h0m2-5h0m4.5 6h0m3.5-3.5h0m4 0.5h0m5.5-1h0m4 0h0m7 2h0m8.5 0.5h0m-49 14h0m2-4.5h0m0-4.5h0m7 4.5h0m6.5-2.5h0m5-1h0m9-4h0m5 1.5h0m-240 23.5h0m100.5-0.5h0m100.5 1.5h0m3.5-4h0m6.5 5.5h0m1.5-7.5h0m7-3.5h0m-259 17h0m58 5h0m142.5-5h0m0.5 4h0m5-1h0m10 1h0m27.5-4.5h0m7.5 1.5h0m-203 18h0m105-9h0m1.5-0.5h0m31.5 6h0m5-3.5h0m3 1.5h0m9.5-4h0m54.5 0.5h0m-231 20h0m187 5.5h0m-32.5 7h0" stroke="#c7b1d8" stroke-width="11" /><path d="M394 1134h0m4.5-2h0m2.5 7.5h0m13.5-6h0m7 6h0m4.5-6h0m24-6h0m-76.5 15.5h0m18 3.5h0m5-2h0m5.5-1.5h0m7 9h0m0.5-9.5h0m7 7h0m2 5.5h0m4.5-12.5h0m3.5 9.5h0m4.5-8.5h0m3.5 2.5h0m6 1h0m0.5-3.5h0m19 4h0m5.5 1.5h0" stroke="#e11f26" stroke-width="11" /><path d="M536.5 1087.5h0m-17 62h0m1-3h0m0.5 8h0m2.5-9.5h0m2 6.5h0m1-4.5h0m0.5-5h0m2 10h0m6-7.5h0m1 4.5h0m-11 11h0m1.5-3h0m0 6.5h0m2.5-4h0m5-4h0m1.5 3h0" stroke="#21b594" stroke-width="11" /><path d="M776 862.5h0m16.5 8h0m-52 21h0m68 1.5h0m4.5-3h0m12.5 11.5h0m-5.5 8.5h0m22 2h0m9.5 1h0m-159 15.5h0m109.5 1h0m36.5-2h0m5.5-2h0m5 3.5h0m2-10.5h0m10 1h0m8 8h0m9 0h0m-99.5 16.5h0m17.5-2.5h0m8-6.5h0m6.5 0h0m6.5 6h0m23-2.5h0m12 1.5h0m5.5-7.5h0m0.5 8.5h0m10-9h0m9.5 6h0m20 0h0m-145.5 19.5h0m16-7h0m3.5-2h0m27 1h0m7 5h0m4-5h0m3.5-1h0m16 2.5h0m5 6.5h0m1-10.5h0m3.5 4h0m6 7h0m8.5-7.5h0m3 3.5h0m5.5-6.5h0m0 3.5h0m4.5-3h0m4 11h0m3-7h0m4.5-2h0m2.5 3.5h0m-148 7.5h0m10.5-1h0m34 0.5h0m7 0h0m6-0.5h0m21 6.5h0m2-5h0m5 3.5h0m6-1.5h0m5-2.5h0m14.5 2h0m6 3.5h0m7.5-2.5h0m2 4h0m-305 17h0m34-2.5h0m9 1h0m-26 16.5h0m1.5 7.5h0" stroke="#fbb96c" stroke-width="11" /><path d="M626 1040h0m0-6.5h0m4 1h0m11.5-2.5h0m-76.5 22.5h0m49.5-9.5h0m0.5 9h0m16.5-10h0" stroke="#f4989a" stroke-width="11" /><path d="M343 1247.5h0m0 4h0m3 1h0m4-2.5h0m-10 7h0" stroke="#2277b5" stroke-width="11" /><path d="M539.5 1035.5h0m-23 16h0m6.5 3h0m6.5-6.5h0m-22.5 11.5h0m23.5-1.5h0m-5.5 42h0" stroke="#a6cee3" stroke-width="11" /><path d="M746 816.5h0m68.5 61.5h0m36.5 9h0m17 6h0m7 21.5h0m4.5-2.5h0m10 3.5h0m-11 7h0m2.5 2h0m15.5-4.5h0m-47 27h0" stroke="#f3801f" stroke-width="11" /><path d="M765 788h0m0.5-4h0m6.5-1h0m1 3.5h0m3 1.5h0m3.5-1.5h0m3.5 1h0m3-1h0m4.5 2h0m-60 11h0m15.5 2h0m22-6h0m2.5 7h0m1.5-4.5h0m0-5.5h0m1.5 12h0m2-6.5h0m2-5h0m4 1.5h0m2.5 9h0m0-11.5h0m2 3.5h0m3.5 6h0m3.5-9h0m-122 21h0m12-1h0m29-3.5h0m60-1.5h0m1.5 5.5h0m2.5 5h0m2.5-4h0m1.5-7h0m4.5 7h0m4.5-3.5h0m-55 21.5h0m5-3.5h0m35.5-7h0m0 5.5h0m3.5 5.5h0m1-6h0m-9 14.5h0m0.5-3.5h0m2-4.5h0m1 7h0m2-5.5h0m-26.5 35h0m-28.5 22h0m-27.5 41.5h0m17 8h0m16 8.5h0m-53.5 34h0m-38 11h0m3 2h0m6-1.5h0m0 5h0m-13.5 10.5h0m4-9h0m0 10.5h0m2-8h0m1 3.5h0m3.5-4.5h0m2 8h0m13-7.5h0m-85 23.5h0m4.5-2.5h0m7.5 0h0m20.5 4h0m11 0h0m11.5-12.5h0m2 4.5h0m2.5 3.5h0m8-7.5h0m-148 25h0m83.5-11.5h0m2 12h0m2.5-9.5h0m3 5.5h0m5.5-5.5h0m0.5 6h0m1-3h0m3-5h0m1 3.5h0m1.5 5h0m0.5 3.5h0m3-2h0m5-1.5h0m2.5-6.5h0m3.5 9.5h0m1-5.5h0m2 3.5h0m1.5-3h0m1.5-4h0m-60.5 17h0m20.5-2.5h0m2 2.5h0m0.5-5h0m3.5 1h0m0.5 4.5h0m3-3.5h0m2-3h0m0 7.5h0m7-3h0m8-3.5h0m4.5-2h0" stroke="#aed58b" stroke-width="11" /></g><path d="M556.4 776.7C555.4 769.1 556.8 757.7 562.0 751.2C567.2 744.7 578.1 739.9 587.6 737.6C597.0 735.2 606.9 735.4 618.7 737.0C630.5 738.6 645.7 744.1 658.4 746.9C671.2 749.8 683.5 753.5 695.3 754.0C707.1 754.5 717.5 749.3 729.3 749.8C741.1 750.2 755.3 752.8 766.1 756.8C777.0 760.9 788.1 766.3 794.5 773.9C800.8 781.4 802.5 792.3 804.4 802.2C806.3 812.1 802.7 824.9 805.8 833.4C808.9 841.9 814.3 847.6 822.8 853.2C831.3 858.9 845.5 861.3 856.8 867.4C868.2 873.5 881.4 881.6 890.8 890.1C900.3 898.6 909.0 909.4 913.5 918.4C918.0 927.4 919.7 935.9 917.8 943.9C915.9 952.0 910.0 960.9 902.2 966.6C894.4 972.3 883.3 975.1 871.0 977.9C858.7 980.8 842.7 982.4 828.5 983.6C814.3 984.8 800.1 986.0 786.0 985.0C771.8 984.1 755.3 980.8 743.4 977.9C731.6 975.1 724.6 970.4 715.1 968.0C705.7 965.7 696.2 964.1 686.8 963.8C677.3 963.4 667.9 964.6 658.4 966.0C649.0 967.4 637.6 969.3 630.1 972.3C622.5 975.2 618.3 979.6 613.1 983.6C607.9 987.6 603.6 992.6 598.9 996.4C594.2 1000.1 591.3 1002.7 584.7 1006.3C578.1 1009.8 568.2 1014.5 559.2 1017.6C550.2 1020.7 540.3 1023.3 530.9 1024.7C521.4 1026.1 510.5 1027.8 502.5 1026.1C494.5 1024.5 487.6 1020.5 482.7 1014.8C477.7 1009.1 474.2 999.7 472.8 992.1C471.3 984.6 471.6 977.0 474.2 969.4C476.8 961.9 481.3 954.3 488.3 946.8C495.4 939.2 507.2 931.2 516.7 924.1C526.1 917.0 535.6 911.8 545.0 904.2C554.5 896.7 566.3 886.8 573.4 878.7C580.5 870.7 584.5 863.6 587.6 856.1C590.6 848.5 592.3 840.5 591.8 833.4C591.3 826.3 588.7 819.7 584.7 813.5C580.7 807.4 572.4 802.7 567.7 796.5C563.0 790.4 557.3 784.2 556.4 776.7z" fill="none" stroke="#1a1a1a" stroke-width="1.3"/><path d="M489.8 1057.3C489.8 1053.8 492.4 1049.3 496.8 1046.0C501.3 1042.7 508.7 1040.3 516.7 1037.5C524.7 1034.6 535.6 1032.3 545.0 1029.0C554.5 1025.7 565.3 1021.9 573.4 1017.6C581.4 1013.4 587.6 1008.2 593.2 1003.4C598.9 998.7 602.2 993.5 607.4 989.3C612.6 985.0 617.8 980.8 624.4 977.9C631.0 975.1 639.5 972.5 647.1 972.3C654.6 972.0 664.6 973.7 669.8 976.5C674.9 979.4 677.3 984.3 678.3 989.3C679.2 994.2 677.8 1000.6 675.4 1006.3C673.1 1012.0 667.4 1017.6 664.1 1023.3C660.8 1029.0 657.9 1034.2 655.6 1040.3C653.2 1046.4 652.3 1054.5 649.9 1060.1C647.5 1065.8 645.2 1071.5 641.4 1074.3C637.6 1077.1 632.9 1077.6 627.2 1077.1C621.6 1076.7 614.0 1073.1 607.4 1071.5C600.8 1069.8 594.2 1067.7 587.6 1067.2C580.9 1066.7 574.8 1068.2 567.7 1068.6C560.6 1069.1 553.5 1069.8 545.0 1070.1C536.5 1070.3 524.7 1070.5 516.7 1070.1C508.7 1069.6 501.3 1069.3 496.8 1067.2C492.4 1065.1 489.8 1060.8 489.8 1057.3z" fill="none" stroke="#1a1a1a" stroke-width="1.3"/><path d="M115.6 1124.7C114.6 1118.6 116.3 1111.5 119.8 1104.9C123.4 1098.3 129.3 1091.2 136.8 1085.0C144.4 1078.9 152.4 1073.5 165.2 1068.0C177.9 1062.6 195.9 1057.6 213.4 1052.4C230.9 1047.2 253.1 1041.3 270.1 1036.8C287.1 1032.4 303.6 1027.9 315.4 1025.5C327.2 1023.1 333.4 1021.7 340.9 1022.7C348.5 1023.6 356.0 1026.9 360.8 1031.2C365.5 1035.4 367.4 1041.1 369.3 1048.2C371.2 1055.3 372.3 1064.2 372.1 1073.7C371.9 1083.1 370.7 1095.0 367.9 1104.9C365.0 1114.8 360.1 1125.9 355.1 1133.2C350.1 1140.5 345.2 1145.7 338.1 1148.8C331.0 1151.9 323.9 1151.6 312.6 1151.6C301.2 1151.6 284.2 1149.0 270.1 1148.8C255.9 1148.6 241.7 1149.3 227.6 1150.2C213.4 1151.2 197.8 1154.0 185.0 1154.5C172.3 1155.0 160.9 1155.2 151.0 1153.1C141.1 1150.9 131.4 1146.4 125.5 1141.7C119.6 1137.0 116.5 1130.9 115.6 1124.7z" fill="none" stroke="#1a1a1a" stroke-width="1.3"/><path d="M349.4 1141.7C349.9 1137.9 352.7 1130.6 356.5 1127.6C360.3 1124.5 365.3 1123.8 372.1 1123.3C379.0 1122.8 390.5 1124.7 397.6 1124.7C404.7 1124.7 410.1 1124.7 414.6 1123.3C419.1 1121.9 421.7 1119.5 424.5 1116.2C427.4 1112.9 428.6 1106.5 431.6 1103.5C434.7 1100.4 439.2 1098.0 443.0 1097.8C446.7 1097.6 451.2 1099.0 454.3 1102.0C457.4 1105.1 459.0 1111.3 461.4 1116.2C463.8 1121.2 465.4 1127.6 468.5 1131.8C471.6 1136.1 476.3 1138.7 479.8 1141.7C483.4 1144.8 488.3 1147.4 489.7 1150.2C491.2 1153.1 490.4 1156.6 488.3 1158.7C486.2 1160.9 482.7 1162.0 477.0 1163.0C471.3 1163.9 462.8 1164.3 454.3 1164.4C445.8 1164.5 435.4 1164.3 426.0 1163.8C416.5 1163.4 407.1 1162.9 397.6 1161.6C388.2 1160.2 376.6 1157.8 369.3 1155.9C362.0 1154.0 357.0 1152.6 353.7 1150.2C350.4 1147.9 349.0 1145.5 349.4 1141.7z" fill="none" stroke="#1a1a1a" stroke-width="1.3"/><path d="M515.2 1073.7C519.0 1071.7 523.5 1071.9 528.0 1073.1C532.5 1074.3 538.9 1077.4 542.2 1080.8C545.5 1084.2 547.4 1088.1 547.8 1093.5C548.3 1099.0 546.2 1107.2 545.0 1113.4C543.8 1119.5 541.2 1124.2 540.8 1130.4C540.3 1136.5 542.6 1144.3 542.2 1150.2C541.7 1156.1 540.8 1162.0 537.9 1165.8C535.1 1169.6 529.7 1172.0 525.2 1172.9C520.7 1173.8 515.5 1173.4 511.0 1171.5C506.5 1169.6 501.5 1166.1 498.2 1161.6C494.9 1157.1 492.8 1150.2 491.2 1144.6C489.5 1138.9 487.6 1134.2 488.3 1127.6C489.0 1120.9 492.6 1112.0 495.4 1104.9C498.2 1097.8 502.0 1090.2 505.3 1085.0C508.6 1079.8 511.5 1075.7 515.2 1073.7z" fill="none" stroke="#1a1a1a" stroke-width="1.3"/><path d="M346.6 1216.8C351.3 1213.6 357.5 1213.2 363.6 1213.2C369.7 1213.2 378.5 1214.1 383.4 1216.8C388.4 1219.6 392.4 1225.1 393.4 1229.6C394.3 1234.1 392.7 1238.1 389.1 1243.8C385.6 1249.4 377.8 1257.7 372.1 1263.6C366.4 1269.5 360.8 1275.3 355.1 1279.2C349.4 1283.1 342.8 1286.6 338.1 1286.8C333.4 1287.1 329.1 1284.0 326.8 1280.6C324.4 1277.2 323.7 1271.6 323.9 1266.4C324.2 1261.2 326.3 1255.1 328.2 1249.4C330.1 1243.8 332.2 1237.9 335.3 1232.4C338.3 1227.0 341.9 1220.0 346.6 1216.8z" fill="none" stroke="#1a1a1a" stroke-width="1.3"/><text x="659.8" y="855.5" font-size="23" >10</text><text x="662.7" y="907" font-size="23" >4</text><text x="893" y="897" font-size="23" >6</text><text x="854" y="964.3" font-size="23" >8</text><text x="653.3" y="1082.2" font-size="23" >2</text><text x="508.8" y="1067.2" font-size="23" >5</text><text x="143.9" y="1069.4" font-size="23" >9</text><text x="399" y="1117.6" font-size="23" >7</text><text x="503.9" y="1150.2" font-size="23" >1</text><text x="538.8" y="1200.7" font-size="23" >3</text><text x="274.3" y="1262.2" font-size="23" >11</text><text x="386.5" y="848" font-size="23.3" class="i" >Lymphocytes</text><text x="667" y="1033.2" font-size="23.3" class="i" >others</text><text x="132.6" y="1181.4" font-size="23.3" class="i" >Monocytes</text><text x="369.8" y="1190.5" font-size="23.3" class="i" >CAMs</text><text x="547.2" y="1136.2" font-size="23.3" class="i" >Microglia</text><text x="381.2" y="1274.4" font-size="23.3" class="i" >cDCs</text><text x="972.9" y="771.8" class="pl" >d</text><g stroke-linecap="round" fill="none"><path d="M1300 758h0m13 3h0m0-2h0m8.5-1h0m7-7h0m8.5 10h0m11 0h0m55.5 1.5h0m-91 14.5h0m19.5-14h0m0.5 8.5h0m6-1.5h0m6-5.5h0m6.5 7h0m2-7h0m1.5 2h0m11.5-1.5h0m13.5 8.5h0m7.5-4h0m4 2.5h0m0 2.5h0m1.5-7.5h0m8.5 3h0m1 4h0m1-9h0m2.5 2h0m0.5 1h0m2.5 0.5h0m1 3h0m5-5.5h0m0 11h0m0-2h0m1.5-7h0m3.5 6h0m2 1h0m4.5 0h0m-116.5 3h0m8-1h0m35 6.5h0m17.5 6.5h0m5.5 0h0m2 0.5h0m1-2.5h0m0.5-4h0m3 7h0m5.5-11h0m2 8h0m4.5-10h0m2 6.5h0m7.5 4.5h0m1.5-5h0m3.5-2h0m1.5 4h0m1-4h0m0.5-2.5h0m1 3h0m0 5.5h0m2-2.5h0m2 3.5h0m2.5-11h0m1 7.5h0m2.5-7h0m4-1h0m1.5 2.5h0m2 9.5h0m-91 9.5h0m4.5 0.5h0m4.5 3h0m6 1h0m0-5h0m1.5 3h0m1-6h0m9 3.5h0m1.5-5.5h0m0 10.5h0m3-9h0m0.5 5h0m2-4h0m7.5 7h0m0-11h0m3 7h0m1.5-1h0m3-1.5h0m0 8h0m0-2.5h0m3-3h0m0-4.5h0m4 2.5h0m1.5 1.5h0m1.5 2.5h0m1.5 3.5h0m2.5-1.5h0m0-4h0m1.5-7h0m1.5 1.5h0m2 5h0m6.5 3h0m0 1h0m0.5-5.5h0m1.5 5.5h0m5-11.5h0m3 12.5h0m0-11.5h0m8 12h0m-117 13h0m9-5h0m0.5 3.5h0m2 1h0m3-8.5h0m2 9.5h0m1 0h0m0.5-12h0m1.5 6h0m1 2h0m2.5-5.5h0m0 7.5h0m0.5 2h0m0.5-10h0m0.5 4h0m1 3.5h0m1.5 1h0m0.5-4h0m1-6h0m1 3h0m0 4h0m0.5-7.5h0m3.5 8h0m4.5-7h0m4 4h0m2 0h0m1.5 8h0m8.5-4h0m2.5-8h0m2 7h0m1-7.5h0m0.5 5h0m5 4.5h0m2 2h0m3.5-5h0m1-3h0m0 8h0m0.5-10h0m3 1h0m2.5-1h0m5.5 1.5h0m1 6h0m0.5-7.5h0m3.5 8h0m1.5 2h0m1-2h0m1-8.5h0m2.5 4.5h0m1.5 5h0m5.5-9.5h0m-111.5 23h0m17.5-4.5h0m0-4.5h0m7 7h0m5 0h0m5-5.5h0m1 2h0m0.5 0h0m0.5 5h0m0.5-10h0m0 12.5h0m8-2h0m1-0.5h0m2-8.5h0m1.5 10.5h0m1-3.5h0m1.5-8.5h0m3.5 8.5h0m0.5-2h0m1.5 7h0m5.5-3.5h0m3.5 1h0m4.5-4h0m5.5-5.5h0m0 5.5h0m3-6.5h0m6.5-0.5h0m1 0.5h0m2 9.5h0m0.5-3.5h0m1.5 3.5h0m0.5-0.5h0m0-4.5h0m0.5 2.5h0m1-7.5h0m1.5 5.5h0m6.5-5.5h0m2 0.5h0m5.5 4h0m21 6h0m5.5-6.5h0m-147 18.5h0m4.5 4h0m11.5-4h0m17 2.5h0m2.5-11h0m3 8.5h0m10.5-1.5h0m3 0h0m6.5 4h0m19.5-11h0m4.5 0.5h0m1 13h0m0.5-9.5h0m2.5 0h0m6-0.5h0m13.5-1h0m11 0h0m29-2h0m-145 15h0m3.5 0.5h0m67.5 3h0m42 0h0m48-5h0m15 3h0m6.5 4h0m2 1.5h0m4.5-8.5h0m3.5 4h0m6 2h0m2 3h0m0 4h0m-225 9h0m0.5-1h0m20.5-4h0m28-2.5h0m6.5 3.5h0m18.5-1h0m11 7h0m0-10.5h0m3.5 6h0m4.5-3h0m72.5-2h0m4 9.5h0m20-3.5h0m1-2h0m2.5 6h0m2-10h0m0 13h0m7.5-13.5h0m1.5 5.5h0m2.5-5.5h0m1.5 9h0m1.5-3.5h0m1-2.5h0m1.5 6h0m4-7h0m3.5 9.5h0m12.5-2h0m-220.5 5h0m0 0h0m41 2.5h0m48-1.5h0m0.5-1h0m24 10h0m23-5h0m0.5-5h0m5 9.5h0m2.5 1h0m4-8.5h0m3-0.5h0m0.5 9.5h0m2.5-11.5h0m1 5.5h0m3.5-5h0m5 5h0m2-3h0m6 5h0m8.5-6h0m2 2.5h0m10.5 6h0m2-8.5h0m0.5 6.5h0m5.5 1.5h0m0-5.5h0m1.5-3.5h0m4.5 5h0m1-2h0m2.5-1.5h0m3-0.5h0m0.5 6.5h0m2-0.5h0m1.5-5h0m-259 11.5h0m39.5 11.5h0m42-10h0m3 10.5h0m49.5-4h0m72-8.5h0m-155.5 25.5h0m5.5-2h0m0.5-6h0m3.5-1h0m13 9h0m4 2h0m4-7h0m5-3h0m2-0.5h0m3-1h0m5 7.5h0m-78 18h0m25-2.5h0m16-1.5h0m1 2h0m18.5-9h0m3.5 5h0m5-0.5h0m2-6.5h0m12 4.5h0m-190.5 21.5h0m87.5-6h0m47-5h0m6.5 2h0m5 5.5h0m0.5-5h0m8 7h0m10-7.5h0m3.5-2.5h0m0 11h0m8-10.5h0m-271 25.5h0m2.5-0.5h0m4 0h0m2.5 1h0m21-3h0m1.5-2.5h0m13-3h0m4-2.5h0m5-1h0m4 0h0m3.5 0h0m21 9h0m2-0.5h0m74.5 1.5h0m73-11h0m11 0h0m33.5 3.5h0m-311 22h0m10.5 1.5h0m0.5-6h0m4 4h0m1-1.5h0m0 2.5h0m4-9h0m2 6h0m0.5 2.5h0m1-4.5h0m6.5-3.5h0m0.5 8h0m10.5 1.5h0m9.5-5.5h0m0.5 4.5h0m5 0h0m5-1.5h0m4.5 1h0m2.5-7h0m4 7.5h0m52-1h0m-134.5 10.5h0m2.5-1.5h0m5.5 4h0m3.5-7.5h0m5-2h0m1 2.5h0m1 8h0m2.5 1h0m2.5-3.5h0m3-4.5h0m0.5-3.5h0m1 10h0m0 1h0m7.5-12h0m3 2h0m0 5.5h0m2-4.5h0m1.5 10h0m3-12h0m0.5 10h0m1-10h0m0 10h0m2-1h0m6 0.5h0m5 2h0m3.5-3.5h0m9.5 4.5h0m9-6.5h0m55 1.5h0m-141.5 11.5h0m2 2h0m5 6h0m3-7.5h0m8.5 5h0m0-1h0m1.5 2.5h0m1.5-1.5h0m4.5 2.5h0m4.5-2h0m0.5-6h0m3.5 7.5h0m0.5-10h0m1-1.5h0m5.5-2h0m1.5 12h0m0.5-5.5h0m3.5 1.5h0m2.5-7.5h0m4 12.5h0m5.5-10.5h0m3.5-2.5h0m26 1.5h0m95.5 7.5h0m66.5-0.5h0m-243.5 5.5h0m1.5 2h0m13.5 2h0m3-1.5h0m0.5 2.5h0m9.5-2.5h0m7.5 1.5h0m2.5-0.5h0m5.5-2.5h0m119-0.5h0m7 0.5h0m24.5 3h0m0.5-2h0m-63.5 66h0m0 5h0" stroke="#4eae4a" stroke-width="7.5" /><path d="M1303.5 770.5h0m5.5-6.5h0m27 4h0m22 36.5h0m-2.5 52h0m-250 106.5h0m-75.5 42h0" stroke="#3a80ba" stroke-width="7.5" /><path d="M1297 769h0m57 9h0m-14.5 26.5h0m18.5-5.5h0m12.5 4h0m14.5-9h0m-43.5 15.5h0m14.5-2.5h0m5.5 10h0m5.5 1.5h0m-75.5 20.5h0m2 69.5h0m-154 21h0m149.5 0.5h0m-186.5 15.5h0m-79 40h0m17.5-10h0m24.5 0h0m89 20.5h0m3-7h0m19.5 6.5h0m-4.5 9h0" stroke="#e21f26" stroke-width="7.5" /><path d="M1301.5 760.5h0m4-7h0m-9 9.5h0m57 28.5h0m3 1.5h0m49.5 58.5h0m65.5 27.5h0m-180.5 17h0m175.5-6h0m-196.5 28.5h0m-25 28.5h0m9.5 3h0m4.5 8.5h0m-89.5 2h0m87.5-0.5h0m1-1h0m-171.5 18h0m162 4.5h0m6 5.5h0m3-3h0m2.5-9.5h0m4 7.5h0m1.5-1.5h0m-206.5 13.5h0m117.5 4h0m35 2.5h0m1.5-1h0m20.5-1.5h0m3.5 1h0m6-6.5h0m1 5.5h0m4.5-0.5h0m4 3h0m0.5-11h0m4.5 0h0m1 3h0m4 4h0m2.5-9h0m1 2.5h0m-18.5 23.5h0m4-5h0m1.5-4h0m7 0.5h0m5.5 7.5h0m-10.5 3.5h0" stroke="#984f9f" stroke-width="7.5" /><path d="M1315 758.5h0m3-5h0m62 21.5h0m3-5h0m13.5-5h0m-52 32.5h0m8 2h0m42 4h0m-74 11.5h0m20.5-6.5h0m35 3h0m2 0h0m21 0h0m0.5-2h0m3 4.5h0m-29.5 10h0m-66 20h0m58-7.5h0m90.5 49.5h0m21.5-6.5h0m-380 67h0m-42.5 21h0m26-4.5h0m11 3.5h0m-85.5 15h0m36.5 2h0m-4 15h0m11.5-7.5h0m128.5 9h0m23.5-6.5h0m-1.5 11h0m-57.5 68h0" stroke="#e21f26" stroke-width="7.5" /><path d="M1296 759.5h0m0.5-6h0m9.5 3h0m2 5h0m0.5-10.5h0m16 9.5h0m4.5 1.5h0m11.5-4.5h0m11 3h0m9.5-0.5h0m-58 8.5h0m3.5 2.5h0m8.5-1.5h0m8.5 4.5h0m2.5-10.5h0m9 6h0m3.5 3h0m4.5-4.5h0m19.5-4.5h0m3.5 5h0m3 1.5h0m26.5 0.5h0m5.5 3h0m1.5-6.5h0m7.5 7h0m1.5-8h0m0.5 3.5h0m0.5 2.5h0m3-1h0m15.5 4.5h0m-106.5 9.5h0m10-3.5h0m9.5-1h0m1.5 6.5h0m13 2.5h0m2.5 1.5h0m1.5-1.5h0m1.5 1.5h0m4-8h0m4 5.5h0m3 2h0m3-2.5h0m1.5-6.5h0m0-3.5h0m2.5 6h0m2-2h0m2 6h0m6.5-1.5h0m1.5 2h0m0.5-11h0m0 9h0m1-4.5h0m3.5 3h0m1.5 4h0m1.5-11h0m0.5 3h0m2 2.5h0m7.5-5.5h0m2.5 5h0m0.5 6.5h0m4-2h0m-98.5 13h0m28 0h0m2 2h0m1.5-7h0m1 9h0m2.5-6h0m0.5 5.5h0m2.5-11.5h0m8.5 2h0m1 10.5h0m1-9h0m5 3.5h0m2 4.5h0m1.5-2h0m4.5-6h0m3 7h0m6 0.5h0m0.5 1h0m1-2.5h0m2 1.5h0m3-11.5h0m3 0h0m0.5 4.5h0m1.5-3h0m1.5 10h0m4-9h0m8.5-0.5h0m4 6h0m0.5 5h0m0.5-10.5h0m-104 22.5h0m11-6h0m2.5-3.5h0m0 5.5h0m5-7.5h0m1 12h0m2.5-11.5h0m2.5 6.5h0m1 3.5h0m1-7.5h0m5.5 2.5h0m0.5 4h0m3-4.5h0m5.5-3.5h0m2.5 11.5h0m0.5-9.5h0m3.5 5.5h0m0-2.5h0m2-3h0m0 7.5h0m7-7.5h0m4.5 6.5h0m1-4h0m2.5-3.5h0m5.5-3h0m1 12.5h0m2-4.5h0m0.5-1.5h0m0-5.5h0m0.5 9.5h0m2-2h0m0.5 0h0m9.5-4h0m1 2h0m5 7.5h0m2-12.5h0m2.5 5h0m3-6h0m1 1.5h0m14.5 5h0m-110 11h0m24.5 0.5h0m0.5-2.5h0m5 2h0m2-2h0m1.5-2h0m0.5 8h0m1.5 5h0m5-10.5h0m1.5 6h0m0 3.5h0m3.5-4.5h0m0.5-1.5h0m7 4.5h0m0.5-5.5h0m0.5-2h0m1.5 7.5h0m3-1h0m3.5-5h0m1 9h0m7-6h0m4.5-5.5h0m5-1h0m0.5 4.5h0m0.5-3h0m29.5 6.5h0m32.5 2.5h0m-173.5 15.5h0m3.5-9.5h0m4 9.5h0m3.5-6.5h0m1.5-2.5h0m14.5-3.5h0m14 11h0m0.5-9.5h0m1 11.5h0m7.5-12h0m4.5 0h0m11.5 7h0m12-7.5h0m1.5 9h0m1 3.5h0m1-12.5h0m2.5 4.5h0m1 5.5h0m1-3h0m8 0.5h0m5.5 2h0m66.5 0.5h0m0.5-0.5h0m12.5-5h0m-192.5 22h0m7.5-3h0m0 3h0m1.5-8h0m6 5h0m30-9h0m8.5 1.5h0m22.5 0.5h0m5.5 8.5h0m0.5-4.5h0m5-5.5h0m1 5h0m2 2.5h0m14-4h0m18.5 2.5h0m49.5-2h0m12.5 5.5h0m3.5-0.5h0m1-7h0m19.5 8h0m2-4.5h0m8 6h0m3-1h0m-219 3.5h0m27 9h0m23-6h0m10 2.5h0m11 0.5h0m2.5 0.5h0m8-3.5h0m5-3.5h0m0.5 2.5h0m9-2h0m2.5 10h0m28.5-4.5h0m32 1h0m0.5 3.5h0m4-4h0m4 4h0m7-1.5h0m7-2.5h0m5.5 1.5h0m1.5-5h0m3 4h0m0.5 5h0m1.5-9.5h0m1 8h0m7.5-3h0m4.5 1h0m1-10h0m2 13.5h0m5-3.5h0m1.5 2h0m-98 7.5h0m38 5h0m2-3.5h0m0.5 5h0m2.5-2.5h0m1.5-6h0m2.5 7.5h0m2-3.5h0m6 2.5h0m1-8h0m3 11h0m3.5-3h0m1.5-8h0m3-1h0m8.5 12h0m2.5-0.5h0m6-3h0m2.5 2h0m0.5-3h0m3.5-2.5h0m2 5.5h0m8-8h0m-199.5 21h0m4.5-9h0m1 0.5h0m21.5 11h0m2.5-2h0m4.5-2.5h0m4 2h0m34.5-3.5h0m92.5-6.5h0m4.5 0h0m6 1h0m-185.5 25h0m26.5-5.5h0m5 3h0m9-5.5h0m1 6h0m1-5h0m1-3.5h0m3 2.5h0m2.5-4h0m-143.5 23.5h0m53-9h0m39.5 8.5h0m3.5 0h0m3.5-5h0m1.5 5h0m13.5 2.5h0m5.5-5.5h0m1.5 5.5h0m3-5h0m4.5-3h0m0 9.5h0m5.5-12h0m-146.5 26h0m5.5-8.5h0m43 1.5h0m44.5-5.5h0m9 4.5h0m6.5 1h0m1 2h0m2.5 3.5h0m3 0.5h0m1-12h0m1 2h0m3.5 4.5h0m13.5 1.5h0m10-6.5h0m0 8.5h0m5 2.5h0m6 0h0m-259.5 12h0m4 2.5h0m11-1.5h0m0-3.5h0m17-3h0m152-2.5h0m33.5-1.5h0m21-1h0m5-0.5h0m5 5.5h0m0.5-5h0m6 4h0m3-2h0m-313 23h0m0.5 0.5h0m0 2h0m8.5-7h0m4.5 5.5h0m2.5-6.5h0m3.5 6.5h0m2-0.5h0m1-4.5h0m0.5 6h0m2.5-12.5h0m1.5 3h0m0.5 5h0m8.5-1.5h0m15 2.5h0m11.5-7.5h0m7.5 6.5h0m1 4h0m2-8.5h0m1.5 3.5h0m68.5-6.5h0m-160 25h0m0.5 0h0m4.5-10h0m3 6h0m1 3.5h0m2.5 0.5h0m0.5-5h0m1-2h0m0.5 3.5h0m0.5 3.5h0m5.5-6h0m0 7.5h0m0.5-1h0m4.5-8h0m1.5-4.5h0m0 1.5h0m1 4.5h0m5 0.5h0m4 6h0m0.5-7.5h0m2-2h0m1.5 10h0m0.5 0h0m4-7.5h0m1.5 5.5h0m1-2.5h0m3 0.5h0m1.5 4h0m4-12h0m4 8h0m2-4h0m8 5h0m0-5.5h0m4 3h0m1.5 3h0m5-0.5h0m4.5 0.5h0m48-9h0m-131 20h0m4.5-7.5h0m1 0.5h0m0.5 7.5h0m2 0h0m2.5-6.5h0m1 6.5h0m0.5 5h0m11-3h0m7-5h0m2.5-1h0m3.5 2.5h0m1-2h0m2.5 6.5h0m1.5 1.5h0m0.5 0h0m4.5-2.5h0m2-3h0m1 4h0m0.5-6h0m2-3.5h0m42-1h0m55.5 10h0m25.5-2h0m5 3h0m2.5-2h0m1.5 3h0m3.5-3.5h0m1 1.5h0m-178.5 7.5h0m2-4.5h0m4 4h0m0-3h0m10.5 1h0m1.5 2h0m1-2h0m1 4h0m5-3.5h0m2.5 0h0m2-0.5h0m103.5-1.5h0m29 7h0m4.5-6.5h0m1 7.5h0m8.5-3.5h0m9-4.5h0m29 3.5h0m-86.5 54.5h0m-5 17.5h0m1-5h0m6.5 2h0" stroke="#4eae4a" stroke-width="7.5" /><path d="M1356 761h0m-51 16h0m42.5-10h0m41.5 23h0m-40 8.5h0m19.5 31.5h0m-45 68h0m-6.5 9h0m-30 17h0m-36 15.5h0m-80.5 18h0m81.5-8h0m-172.5 34h0m169 3.5h0m3.5-7.5h0m0.5 4h0m8-0.5h0m-185.5 9.5h0m133.5 5.5h0m32.5-2h0m4.5-1h0m0-2.5h0m1-2.5h0m1.5 4.5h0m6-2.5h0m3 7.5h0m1.5-12.5h0m6 5h0m-11.5 20.5h0m2.5-6h0m0.5-2h0m2-1h0m2 7.5h0m0-9.5h0m1.5 6.5h0m0 5h0m-1.5 2.5h0" stroke="#984f9f" stroke-width="7.5" /><path d="M1299 755.5h0m0 8h0m1 10.5h0m68.5 18.5h0m33 12h0m-41 39h0" stroke="#3a80ba" stroke-width="7.5" /><path d="M1314 749h0m-9.5 11h0m3.5-11h0m2 11h0m0.5-5.5h0m2.5-1h0m17 2.5h0m5 1h0m5 3.5h0m4 1h0m5-3.5h0m3-1h0m7.5 6h0m-61.5 4h0m2 1h0m2.5-3.5h0m4 10h0m8.5 1h0m13-7.5h0m14.5-2h0m2.5 9h0m3-4h0m1 2.5h0m1.5-0.5h0m4-2h0m6 1h0m3 3.5h0m6-10h0m0.5 7.5h0m5 3.5h0m1-7.5h0m5 7.5h0m1-2h0m5-6h0m4-1h0m0.5 3h0m0 4h0m2-3h0m4 1.5h0m9.5-8.5h0m5 5.5h0m2 1.5h0m0.5 1h0m4.5-0.5h0m9 2h0m-114 17h0m33-13h0m2 7h0m24-6.5h0m7 10h0m1.5-8h0m1.5 8h0m4.5-2h0m0.5-2.5h0m1 6h0m0.5-5.5h0m0.5-5.5h0m2 3.5h0m0.5 8h0m2 0h0m1-2h0m2-1h0m0.5-10h0m1.5 5.5h0m5.5-5.5h0m3 1h0m0.5 5.5h0m1 7h0m0.5-4.5h0m8-2h0m1-3h0m2 0h0m3 6h0m8.5-9.5h0m-112 13.5h0m13.5 13h0m3-0.5h0m7.5-2.5h0m1.5-1h0m4 3.5h0m8-11h0m4.5 7.5h0m0 4h0m5-7h0m2 6h0m1-11h0m1.5 9.5h0m1-3.5h0m2 4h0m2.5-1h0m5.5-2h0m1.5 2.5h0m6-6.5h0m5.5 3h0m3-4.5h0m1.5 5.5h0m6.5-3h0m2 7.5h0m0-4.5h0m1-2h0m0 6.5h0m3 1h0m1-10h0m1-3h0m1 11.5h0m0.5-6.5h0m3 7h0m4-4h0m5.5-1.5h0m-111.5 13h0m4.5 0h0m2.5-1h0m4.5 7h0m3-4h0m14.5-5h0m7.5 4.5h0m7-1.5h0m0 0.5h0m0.5-5.5h0m3 0.5h0m1.5 7.5h0m1.5-3.5h0m4-3.5h0m4.5 8.5h0m4.5 0h0m1-2.5h0m3.5-4h0m3.5 1h0m1.5 3h0m2.5 5h0m4.5-3.5h0m1 3.5h0m1.5-11.5h0m8 8.5h0m2-9h0m2 10h0m0.5-6.5h0m5.5-1h0m4.5 5h0m9-6h0m-123.5 20h0m1 2h0m7-8.5h0m9 3h0m1-2h0m2 8h0m3-5.5h0m0.5-3.5h0m1.5 9h0m1-9.5h0m0 1.5h0m1.5-2h0m3.5 12h0m5-4.5h0m2.5-2h0m1 1.5h0m1 0.5h0m3-2.5h0m4-3h0m4 5.5h0m3-4h0m1 2.5h0m5-7h0m1.5 4.5h0m2 5.5h0m1-9.5h0m6.5 2.5h0m1 8.5h0m1-10.5h0m2 1h0m0 1h0m3 10.5h0m35.5-10h0m7 1.5h0m18 8.5h0m-157.5 13.5h0m18.5-10h0m19.5 3h0m2.5-1h0m14 4.5h0m11.5-0.5h0m4 4.5h0m1.5-12h0m3.5 8.5h0m14.5-0.5h0m1.5-4h0m17.5-3h0m12 0h0m27 0h0m3.5 9h0m5.5-4.5h0m25.5-4.5h0m-188.5 19h0m8-5h0m2 3h0m5-1h0m1.5-1.5h0m24.5 1.5h0m2-4h0m3-0.5h0m22 12.5h0m2-5.5h0m5 4h0m2-8h0m4 9h0m4.5-12h0m5 4h0m91 3h0m5.5-1h0m1 5h0m6.5 0.5h0m14-8h0m0 8h0m4-2.5h0m-216 8h0m25 0h0m3 7.5h0m22 2h0m15.5-5.5h0m1.5-7.5h0m14.5 8h0m4.5-7h0m3 6h0m1.5-4h0m67.5 10.5h0m6.5-2h0m4-1.5h0m6 4h0m4.5 0h0m13-6h0m11 3h0m2-11h0m1.5 5.5h0m2-2h0m2-2h0m-157 13.5h0m2 10h0m7 0h0m8.5 1h0m44.5-4.5h0m0.5-4h0m4.5 0h0m0.5 6.5h0m2-7.5h0m12 3.5h0m0.5-4h0m1.5 2h0m3 4.5h0m2-8h0m2 7.5h0m0.5-8h0m1 9h0m2-2.5h0m14 0.5h0m1.5-6.5h0m6 0.5h0m0.5 12.5h0m2-12h0m0.5 4.5h0m1.5 6.5h0m3.5-8h0m9 7.5h0m1-3h0m4-8.5h0m10 2h0m15.5-1.5h0m5 4.5h0m-195 20h0m23-5h0m13.5 5.5h0m1.5-6.5h0m1.5 3h0m2.5 3.5h0m2.5 1.5h0m4.5-2h0m9.5-2h0m96.5-9h0m-243 21h0m71 0.5h0m33.5-3.5h0m0.5 3.5h0m2.5 2h0m1.5 2.5h0m0-6h0m2.5 0.5h0m0.5 2h0m15.5-6.5h0m-188 18.5h0m26-5.5h0m74 11.5h0m33.5 0h0m0.5-4h0m2.5 4h0m5-8h0m3 8.5h0m22.5-9.5h0m1 5.5h0m2 0h0m-73.5 17h0m24-0.5h0m0.5-9h0m3-2.5h0m12.5 0h0m9.5 4h0m5 4h0m0.5-4h0m7-1h0m7 8.5h0m0-9h0m2 2.5h0m0 6h0m5.5-7h0m1 5.5h0m2-1h0m1.5-9h0m-263 26h0m9-1h0m38-6h0m7 0h0m205.5 1.5h0m-313.5 20.5h0m10-3h0m4 2.5h0m0.5-0.5h0m8-3h0m0.5 4h0m3-8h0m5 3.5h0m4 2h0m1-4h0m1-4.5h0m2 8h0m0-7h0m3-1.5h0m12.5 3h0m15 8h0m-76 14h0m0-2.5h0m4.5-8.5h0m0 7h0m0.5-6.5h0m1 10.5h0m0-7.5h0m0.5-1h0m5.5 9h0m1.5-6.5h0m2.5-4h0m1.5 7h0m9.5-5.5h0m0-2h0m1.5 6h0m0.5-2.5h0m1-2.5h0m1 6.5h0m2-4h0m0 3h0m0-7h0m2 9.5h0m1.5-1.5h0m2 0h0m0.5-4.5h0m4-0.5h0m3.5-1h0m13.5-1.5h0m36 10h0m26.5-0.5h0m8.5-1h0m-137 14.5h0m2.5-7h0m0-1h0m7 0h0m2 3.5h0m2 5h0m3-5h0m1.5 1h0m0-2.5h0m2 7h0m7-11h0m0 0h0m1 6h0m2.5-6.5h0m2 9h0m1 0.5h0m4.5 2h0m1-2h0m1.5-1.5h0m0-7h0m6 8.5h0m1-5h0m2-3h0m0.5 2h0m2 0h0m3 5h0m27-8.5h0m38.5 0h0m6.5 0.5h0m43 12h0m7.5-1h0m26-10h0m2 3.5h0m-194 9h0m3 2h0m15 1.5h0m4-1.5h0m122-1h0m15 0.5h0m0.5 3h0m1.5 1.5h0m11-5h0m2.5 2.5h0m12-3.5h0m26.5 6.5h0m-87 15h0m20.5 32.5h0m-17.5 15.5h0m-6.5 2h0m5 3h0" stroke="#4eae4a" stroke-width="7.5" /><path d="M1318 762.5h0m17-3h0m-11 5h0m7 5.5h0m37 5h0m16.5-6.5h0m12.5-2h0m9-3.5h0m2.5 10h0m-26.5 10.5h0m25 4.5h0m-65.5 11.5h0m31.5-8h0m14 23.5h0m0.5-3.5h0m-59 10h0m29-0.5h0m23.5 4.5h0m-82.5 16h0m4.5-6.5h0m70 3h0m0 4.5h0m49.5 38h0m7.5 4.5h0m-95 17.5h0m-21 18.5h0m-15 14.5h0m16 1h0m-248.5 18.5h0m21.5 4h0m-26 2.5h0m80 3.5h0m-95 13h0m24 9h0m20.5-0.5h0m-59 8.5h0m23.5-6.5h0m122 16h0m3-1.5h0m7.5 3.5h0m6.5-2.5h0m3-1.5h0m16 4.5h0m-68.5 70.5h0" stroke="#e21f26" stroke-width="7.5" /><path d="M1381 773h0m15-3h0m0.5 13h0m20-3h0m-14.5 13.5h0m31.5 76h0m41-2h0m15.5 1.5h0m-158.5 46.5h0m4.5-4.5h0m-91 31.5h0m13.5-3.5h0m3.5 2.5h0m6-5h0m-20.5 12.5h0m3-1.5h0m1.5-2h0m5.5 0h0m9 21h0m-20 17.5h0m1-4.5h0m11.5-5h0m1.5 11h0m-251 3h0m220 11h0m27-8h0m7.5 3h0m-207.5 7.5h0m196.5 4.5h0m3.5 3h0m9-6.5h0m0.5 3h0m-16 11h0" stroke="#984f9f" stroke-width="7.5" /><path d="M1291.5 757h0m24 4h0m12.5-4h0m-8.5 9.5h0m46.5 22.5h0m20 25.5h0m4 51h0m35 11.5h0m-365 78h0m58 29h0m27.5 9.5h0" stroke="#3a80ba" stroke-width="7.5" /><path d="M1319 759h0m85 12.5h0m8.5-5h0m-105.5 11.5h0m72 0.5h0m36 1h0m-57.5 16h0m1.5 7h0m29.5-1h0m1-3.5h0m-66.5 19h0m4.5-2.5h0m107.5 5h0m-122.5 15.5h0m178 21h0m-82 10h0m90.5-4.5h0m-63 17h0m26 9.5h0m4-9.5h0m2 6.5h0m18-8.5h0m-165.5 25.5h0m-2.5 13h0m25.5-2h0m-184.5 12h0m176-7.5h0m-53 19h0m28.5-5h0m-232 41h0m-8.5 12h0m97 14.5h0m7-2.5h0m21 11.5h0m22-3h0m3.5 1h0m2-2h0m42.5 6.5h0" stroke="#e21f26" stroke-width="7.5" /><path d="M1294 756h0m8-5.5h0m1.5 6h0m5 0.5h0m2.5-6h0m9 1.5h0m3-0.5h0m3 4h0m0.5 4.5h0m4.5-1.5h0m3-4.5h0m3.5-1.5h0m5.5 4h0m3 3h0m8 2h0m-54 9h0m7-3.5h0m11 5.5h0m2 1.5h0m4-5h0m9-3.5h0m3-1h0m0.5 11h0m6-2.5h0m17-8h0m2.5 2h0m1 3.5h0m8-4h0m0 4h0m2.5-3h0m0 9h0m2.5-3h0m8.5 1h0m3.5 1h0m7-1h0m0-10h0m1.5-2h0m5 1h0m4 6.5h0m6.5 5h0m9-5h0m3 4h0m-110 12h0m8.5 2h0m18-3h0m18.5-5.5h0m1.5 9.5h0m2-3h0m4 2.5h0m2.5-3.5h0m0.5 4h0m0.5-9.5h0m5 3.5h0m0-5h0m3 5.5h0m4.5 6.5h0m1-4h0m2-6.5h0m5 4h0m1-3h0m2 1.5h0m3 7h0m1.5-4.5h0m4-1.5h0m4-3h0m5.5 9h0m13.5-10h0m1.5 5.5h0m4-1h0m-118.5 10.5h0m11.5 4.5h0m4.5-1.5h0m4.5-1.5h0m2 0h0m2.5 6.5h0m3.5-0.5h0m2.5 1h0m1.5 2h0m2-7h0m4-3.5h0m3.5-3.5h0m1 0h0m4.5 4h0m2-1.5h0m0 2.5h0m3-2h0m0.5 2.5h0m4.5 3.5h0m2-6.5h0m0 6.5h0m8-7.5h0m0.5 2h0m2.5 1h0m7.5-3h0m2 1h0m2.5 9h0m5.5-0.5h0m3 3h0m1.5-2h0m0.5-11.5h0m1 9h0m1-9h0m0 9.5h0m2.5-0.5h0m2-5h0m1.5-2.5h0m14-1h0m-115.5 26h0m8.5-4.5h0m5 0h0m0.5-3.5h0m8.5 8h0m5.5-5.5h0m5.5-2h0m2-4h0m3-0.5h0m2 2.5h0m0.5 9.5h0m1.5-7.5h0m0.5 3h0m3.5 3h0m2-11h0m1.5 10.5h0m7-3h0m0.5 5.5h0m1-0.5h0m3-6.5h0m2 7.5h0m1 0h0m6-11h0m1.5-2.5h0m2 11h0m7-8h0m3 8.5h0m2-4h0m1.5-1.5h0m1.5-4.5h0m1 9h0m6-1.5h0m1.5-5.5h0m11-0.5h0m13.5 9.5h0m-124.5 5.5h0m2.5 3h0m4.5 3.5h0m4.5-10.5h0m2.5 7h0m2 5.5h0m1-11h0m2 3h0m9 1.5h0m3.5-3h0m3.5 8h0m2.5-5.5h0m1.5-2h0m0.5-3.5h0m0.5 5.5h0m4.5 5.5h0m3 0h0m3.5-9.5h0m0.5 2h0m4.5 0h0m0.5-2.5h0m0.5 5h0m3.5-4h0m4.5 0h0m2 6.5h0m1-3h0m2 4.5h0m2 0h0m3.5-1.5h0m4-0.5h0m1 1h0m1-2h0m0-1h0m9-1h0m0-3.5h0m2 5.5h0m0-7.5h0m2.5 8.5h0m13-3.5h0m9.5-4h0m16 5h0m-149 12.5h0m6-1.5h0m23.5-1h0m3.5 10h0m3.5-12h0m1 3h0m5 9.5h0m1.5-3.5h0m8.5-2.5h0m6-2.5h0m1-2h0m13.5 0h0m3.5 1h0m4 8.5h0m5 2.5h0m0.5-11.5h0m0.5-1h0m2 0h0m16.5 7h0m44 1h0m15-6.5h0m16.5 8h0m7.5-1.5h0m-199 9.5h0m0.5-2.5h0m0.5 9.5h0m4.5-3h0m0.5 2.5h0m77-2.5h0m2 4h0m2.5 1h0m21-3.5h0m74-5.5h0m2.5 9h0m3-6h0m2 5.5h0m13.5-4.5h0m9-2h0m-234 11h0m22-2.5h0m0.5 3h0m19.5-1.5h0m45.5 8.5h0m5.5-9.5h0m3.5 9.5h0m1-10h0m0.5 3.5h0m3.5 4.5h0m18-3h0m29-2h0m22.5 6.5h0m2.5 1.5h0m2.5-10.5h0m1.5 2.5h0m19 5.5h0m3.5-9h0m1 2.5h0m1 7h0m2.5-8.5h0m3 10h0m2.5-0.5h0m5.5-5h0m1.5 6h0m1.5-11.5h0m2 5h0m0-2.5h0m6.5 3.5h0m4 7h0m-238.5 3.5h0m58 8.5h0m3.5-3h0m5.5-5.5h0m14 6.5h0m15.5 2.5h0m39.5-9h0m9 4.5h0m7.5 0.5h0m12.5-5.5h0m6-1h0m1.5 0h0m0.5 8.5h0m3-9h0m4 6h0m12.5 5.5h0m13-4.5h0m4.5-2.5h0m4 6.5h0m2-10.5h0m1 9.5h0m0-5h0m1 2h0m2-2h0m3.5-4.5h0m3.5 5.5h0m4-2.5h0m16-5h0m-197.5 22h0m2-2h0m16.5 4.5h0m9-2h0m1 3h0m3.5-1h0m1-3h0m66.5 4h0m49-11h0m31 0h0m-212.5 23.5h0m21.5-0.5h0m10.5-8.5h0m7.5 8h0m2.5-3h0m2.5 5h0m3-9.5h0m3 11h0m3.5-6.5h0m22-5.5h0m-97 14h0m39.5 10.5h0m6-2h0m6 0h0m12.5-7h0m4.5 5h0m2-4h0m12.5 1.5h0m-165 17.5h0m7.5 4h0m38.5-9h0m54.5 7.5h0m23-0.5h0m1.5 2h0m1-11h0m3.5 9h0m6-8.5h0m3 4h0m5 2h0m2.5-1h0m7 1h0m8 0.5h0m0 4h0m7 0h0m-247.5 8h0m3.5 2h0m1-2h0m6 1.5h0m11-3.5h0m5 1.5h0m160.5 0.5h0m1 0.5h0m44.5-3h0m5.5-0.5h0m4.5-3h0m-308.5 25h0m5.5-2.5h0m10 0.5h0m4-4.5h0m4 4h0m2-4h0m3 1.5h0m2.5 5.5h0m4-5h0m4.5-1h0m0 6h0m4-6h0m0.5 2.5h0m14.5-6h0m93 4h0m-169.5 20h0m5.5-2h0m1.5-4.5h0m3 1h0m10 3.5h0m6-9.5h0m7.5 12.5h0m0.5-13h0m1 10.5h0m8-3.5h0m1.5-5h0m1 5h0m0 0h0m5.5 0h0m0.5 5.5h0m2 0h0m18-9h0m10-3.5h0m51.5 6h0m67.5-1h0m-201.5 14h0m4.5 5.5h0m1.5 1.5h0m1-3h0m2 0.5h0m1 4h0m2.5-13h0m1.5 5h0m0 5.5h0m0-0.5h0m2.5-10h0m3.5 8.5h0m0 4h0m1.5-12.5h0m1.5 2.5h0m1.5 4h0m0.5 4.5h0m1 1.5h0m0.5-8.5h0m0-3h0m1 10.5h0m1-4h0m1-2h0m1 7h0m1.5-8.5h0m1 3h0m3-6h0m1.5 11h0m0.5-5h0m2-3.5h0m0.5 2.5h0m0-4.5h0m2.5 1.5h0m1 6h0m1.5-2.5h0m1.5 2.5h0m9.5 1h0m18-10.5h0m65 12h0m11-10h0m-131 14h0m7.5 0.5h0m11 0h0m2.5 3h0m8.5-2.5h0m6.5-2.5h0m112 1h0m11.5 4.5h0m2 1h0m6.5 2h0m3-8h0m6 5h0m-55.5 63.5h0m-4.5 4.5h0m0-4h0m3 5h0m0.5 2.5h0m2.5-5h0" stroke="#4eae4a" stroke-width="7.5" /><path d="M1324.5 750h0m12.5 9h0m-28 10h0m22-2h0m89.5 29.5h0m-80.5 10h0m9.5 5h0m28.5 6.5h0m-42 9.5h0m151 25.5h0m-207 52h0m51-1.5h0m-68 35.5h0m5-5.5h0m0-0.5h0m30 6h0m-193.5 47.5h0m143-10.5h0m3 6h0m1.5 4.5h0m9.5-5.5h0m7-1.5h0m-250.5 10.5h0m177 10.5h0m52-0.5h0m2-9h0m9.5 4h0m1.5 4h0m3-11h0m-18.5 14.5h0m5 9h0m9.5 1.5h0m0.5-5h0" stroke="#984f9f" stroke-width="7.5" /><path d="M1293.5 761.5h0m27 0h0m-7 2.5h0m96.5 30h0m-97.5 92h0m-141.5 111h0" stroke="#3a80ba" stroke-width="7.5" /></g><text x="72" y="2206" class="pl" >f</text><defs><linearGradient id="jet" x1="0" x2="1" y1="0" y2="0"><stop offset="0" stop-color="#2a3a9a"/><stop offset="0.12" stop-color="#3d59b0"/><stop offset="0.3" stop-color="#9fd4e8"/><stop offset="0.48" stop-color="#d5e060"/><stop offset="0.65" stop-color="#fdea1e"/><stop offset="0.8" stop-color="#f9a020"/><stop offset="1" stop-color="#e8202a"/></linearGradient></defs><g stroke-linecap="round" fill="none"><path d="M335 2262h0m1 10h0m2-11h0m0.5 3.5h0m0.5 7h0m0.5-1.5h0m0-1.5h0m4.5 2h0m1-2.5h0m16.5 0.5h0m14.5 6.5h0m10.5-7h0m1 2.5h0m4.5 2h0m0.5-2h0m-48 8h0m3.5 3h0m4 4.5h0m5-1.5h0m3 3h0m2.5-0.5h0m0.5 0.5h0m5.5-10.5h0m9 3h0m0.5 4h0m1.5-3.5h0m1 3h0m0.5 4.5h0m2.5-1.5h0m1.5-9.5h0m0 4h0m1.5 5h0m1-8.5h0m0 2.5h0m2.5 0h0m0.5 4h0m2.5 4h0m-54.5 1.5h0m3 1.5h0m1.5 7h0m3.5-2h0m1-4h0m0.5-1h0m0.5 11h0m1.5-4.5h0m0.5 1.5h0m0.5-4.5h0m3 0.5h0m3-3h0m0 3h0m3-4.5h0m0.5 9h0m3.5-8.5h0m2 8.5h0m1.5 3h0m2.5-5h0m2.5 4h0m1-6.5h0m0-1.5h0m2.5 6h0m2 1.5h0m0-7h0m2.5 8h0m0-5h0m0.5-2h0m0.5 4.5h0m0-3h0m0.5-5h0m1 2.5h0m0-2.5h0m-33.5 14.5h0m1.5 5h0m4-2h0m6.5-1h0m0.5-4h0m5 0h0m12-0.5h0m-67.5 64h0m-23 42h0m-70 14h0" stroke="#fab224" stroke-width="10" /><path d="M317 2259h0m-7.5 4h0m4 8h0m1-9h0m1 12.5h0m4.5-4.5h0m74.5 3h0m-76 3.5h0m58 3.5h0m18.5 2h0m1-2.5h0m1.5 7h0m1.5-11.5h0m1 11.5h0m0.5-8h0m1.5 6.5h0m-57 5h0m33 4h0m16 2.5h0m0.5-2h0m1-5h0m0 2.5h0m0.5 3h0m6.5 2.5h0m-90.5 19h0m11-7h0m7.5 0h0m2.5 5h0m2.5-10.5h0m1.5 8.5h0m39.5-1h0m27-1h0m25.5 5.5h0m-125.5 13h0m6-8.5h0m5 2.5h0m2.5-4.5h0m16.5 0h0m5.5 4h0m3.5-3.5h0m3.5-0.5h0m6 2h0m3 5h0m2.5 1.5h0m1.5 2.5h0m0.5-1.5h0m5.5-6h0m0.5-5h0m1.5 2.5h0m0-2.5h0m1 6.5h0m4-4h0m4 11h0m9.5-3.5h0m35-6h0m4 7.5h0m0.5-1.5h0m4 2h0m7-5h0m2.5 2.5h0m0.5 3h0m3.5-3.5h0m0 1.5h0m1 2h0m-154 6h0m12 0h0m2.5-1.5h0m0.5 2h0m1.5-3.5h0m1.5-1.5h0m19 2.5h0m2.5 11h0m16-6.5h0m5.5 2h0m0-7h0m3-1.5h0m1 2.5h0m0.5-2.5h0m0.5 7h0m1-2.5h0m1-4h0m2.5 2h0m1.5 1h0m7.5 2.5h0m22.5 6h0m1.5-0.5h0m4.5-0.5h0m5.5-2.5h0m4 0h0m1.5 1h0m2 3.5h0m0-3.5h0m0.5-2.5h0m3 4.5h0m0-2h0m1.5 2.5h0m2-1h0m2.5-5h0m3.5 1h0m3-5.5h0m0 6.5h0m1 1.5h0m2.5-4h0m0 1.5h0m1-3h0m0.5 5.5h0m1-1.5h0m2.5 4.5h0m1-9h0m1.5-2h0m2.5 6.5h0m0 5.5h0m1.5-6.5h0m2.5 5h0m1-4h0m0.5 3.5h0m1 1h0m1-10.5h0m-124.5 17h0m20-1h0m5.5 1.5h0m0.5-0.5h0m9 7.5h0m24-9h0m9-2.5h0m3.5 1.5h0m3.5 0.5h0m5 2h0m2-4h0m2.5 4h0m3.5 1.5h0m1-2.5h0m0.5 1.5h0m1.5 0.5h0m6-0.5h0m2.5-2h0m4 3.5h0m0-1.5h0m4-4.5h0m1.5 6h0m5-4h0m1-3h0m0.5 4.5h0m2.5-3.5h0m8-0.5h0m-188.5 20h0m56-4h0m-96 13h0m52.5 9.5h0m-119.5 16.5h0m19-6.5h0m59.5-6.5h0m-109 24.5h0m4.5-5h0m4.5 5h0m1.5-3h0m4-6h0m1 2h0m6.5 2.5h0m1.5-4h0m3.5 0.5h0m5.5-1h0m3.5-1h0m-39.5 22.5h0m9-7h0m1.5 6.5h0m1-1h0m4 2.5h0m1-0.5h0m15-7.5h0m0 3h0m1-5.5h0m13.5 5.5h0m3.5-4h0m5 1h0m38.5 4h0m-68 8.5h0m3-1.5h0m62 47h0" stroke="#f6e934" stroke-width="10" /><path d="M221.5 2376h0m-61.5 20h0m9.5 0.5h0m17.5-6h0m5 0h0m15.5 5.5h0m-86.5 17.5h0m5-4.5h0m2.5-2h0m0 5h0m1.5-6h0m1.5 9h0m0-8h0m0.5 1h0m5-1.5h0m3.5 0.5h0m0 1h0m0.5 1.5h0m2-7.5h0m0.5 12.5h0m2.5-10h0m3 10h0m0-3h0m0-8.5h0m1 9h0m1.5 2h0m2 0.5h0m0.5-4h0m2.5-8h0m3 7h0m1.5 2.5h0m0.5-8h0m0.5 3h0m1.5-5h0m2 5h0m0 3.5h0m8-8.5h0m2 11h0m0.5-6h0m0.5-3h0m2.5 3.5h0m27.5 5h0m5.5 1.5h0m-92 2.5h0m1 3h0m1.5 7.5h0m0 0h0m5.5-8.5h0m1 8.5h0m0.5-0.5h0m1 1.5h0m4.5-9.5h0m1.5 4.5h0m0.5-5h0m2.5-2.5h0m2 10h0m0-7h0m0.5 0.5h0m5.5 6h0m0.5-3h0m1-1.5h0m5-4h0m0.5 10.5h0m0.5-2.5h0m2.5-9.5h0m75 11.5h0m8.5 1.5h0m13.5-9h0m-122 10.5h0m3.5 0h0m4.5 1.5h0m90-1.5h0m2.5 0.5h0m1.5-0.5h0m29-0.5h0m-39 34.5h0m-16 13.5h0m3-3.5h0m1 5h0m0-4.5h0" stroke="#d4e281" stroke-width="10" /><path d="M322.5 2259h0m5 1.5h0m3-1h0m3.5-0.5h0m6 1h0m-22.5 10.5h0m2-7.5h0m4.5 3h0m1.5-2h0m0.5 2h0m3 0h0m2.5 2h0m1-5.5h0m0.5 3h0m1 5h0m3 2.5h0m1.5-10h0m4 0h0m1.5 0h0m36 6.5h0m3-2h0m3-0.5h0m2.5 7.5h0m2-5h0m1-0.5h0m-68 19h0m0.5-11.5h0m1 6.5h0m4 3h0m51.5-4.5h0m2.5-0.5h0m1.5 0h0m4 2h0m1 2h0m0 4h0m2.5-4.5h0m4.5-9h0m-67.5 17h0m2-1.5h0m5 9.5h0m1-11.5h0m2.5 6.5h0m0.5-1h0m2 2h0m1-5h0m0 8.5h0m1.5 0.5h0m3-7h0m3.5 5.5h0m5 0.5h0m11-6.5h0m1 9.5h0m0-3h0m1 3h0m7-6.5h0m5.5 2h0m1.5 4.5h0m0.5-1.5h0m1.5-7h0m1-3h0m2.5-1h0m2 3.5h0m2 1h0m-68.5 21h0m5-10.5h0m5 5.5h0m2.5-6.5h0m1 2h0m0 1h0m0.5-3h0m2 0h0m0.5-0.5h0m1 4.5h0m0.5-3h0m2.5 7.5h0m1.5 2.5h0m1-9h0m0 1.5h0m0.5 4.5h0m0.5-3.5h0m2.5-4.5h0m0 11.5h0m0.5-3h0m0.5-6.5h0m1.5 4h0m2.5-2.5h0m1 0.5h0m1-1.5h0m0 3h0m3 0.5h0m1-4h0m2-0.5h0m2-1h0m2.5 11h0m0.5-3h0m1-7h0m0 6h0m0.5 3.5h0m0.5-10h0m0 2h0m2 7h0m2.5-3h0m0-6h0m0.5 0.5h0m1.5-1.5h0m0.5 5.5h0m2-4.5h0m1 11h0m0-11.5h0m3.5-1h0m2 2h0m34 10.5h0m-112 7h0m23.5-1.5h0m29 2.5h0m3.5-3.5h0m1 3h0m0.5-5.5h0m-18 22.5h0m9.5-1.5h0m52.5 3.5h0m19.5-4h0m4-1.5h0m7.5-4h0m1 11h0m-122.5 12h0m25.5-0.5h0m33-6h0m38.5-3h0m16 1.5h0m-131.5 12h0m9.5 7.5h0m1-2.5h0m-157.5 61h0m87-0.5h0" stroke="#fcd426" stroke-width="10" /><path d="M339 2356.5h0m-69 28h0m-106.5 12.5h0m5.5 3h0m22.5-7h0m14.5 3h0m-78 17h0m14.5-8.5h0m0.5 0.5h0m2 7h0m2-10.5h0m0.5 8h0m0.5-5h0m5.5 10h0m9.5-0.5h0m47.5-11h0m-87.5 13.5h0m4 8h0m4.5-8h0m1 3h0m1-3.5h0m0 6.5h0m1 6h0m5.5 0h0m5.5-11h0m1.5 4.5h0m0 6h0m4.5-12.5h0m0.5 9h0m1-2h0m13-7h0m17 2.5h0m50.5 5h0m4.5 4.5h0m18-6.5h0m-14 12h0" stroke="#b4d8ca" stroke-width="10" /><path d="M355.5 2273h0m20.5-1h0m0 3h0m-24.5 11h0m6-10.5h0m1.5 9h0m12.5-4.5h0m5 5.5h0m2-2.5h0m0-7.5h0m2.5 6h0m-26 14h0m7-4h0m-71 94h0m3-4h0m-7 8.5h0m1 19.5h0" stroke="#ef5720" stroke-width="10" /><path d="M313 2267h0m18.5 4.5h0m28-0.5h0m4.5-0.5h0m15 1.5h0m0 0h0m1 2h0m5.5-2h0m5.5 1h0m-41 16h0m8.5-1h0m1.5 0h0m4-1.5h0m1.5-1h0m5-1h0m0-1.5h0m1-8h0m0.5 13h0m0.5-4h0m1-5.5h0m0 4.5h0m1.5-1.5h0m0.5 7h0m1.5-6h0m2.5 2h0m5 0h0m0.5 3h0m-49 9.5h0m4 5.5h0m4-11h0m8.5 7.5h0m1.5 0h0m6-4.5h0m3.5-5.5h0m1 9h0m0 1.5h0m1.5 3h0m0-8h0m1-1.5h0m3 4.5h0m1.5-4h0m1 3.5h0m4.5 0.5h0m0-4h0m0.5 7.5h0m0.5-7.5h0m1-2.5h0m3.5 5.5h0m2.5 5.5h0m-64 10h0m31.5-7h0m2.5-0.5h0m5-1.5h0m-65.5 35h0m6.5-5.5h0m52.5 8h0m-66.5 38.5h0m-6.5 13h0m4-3.5h0" stroke="#f58620" stroke-width="10" /><path d="M328 2365.5h0m4 2.5h0m9-6.5h0m-30 18h0m3.5 1h0m7-2h0m15.5-5h0m-1 20h0m2.5-5.5h0m-54.5 31.5h0m0 9.5h0" stroke="#354b9e" stroke-width="10" /><path d="M337.5 2362.5h0m0.5 5h0m9-7.5h0m-35.5 13.5h0m2.5 12h0m1.5-4h0m0-5h0m1 3h0m4.5 3.5h0m5.5-4.5h0m0.5-3h0m6 5.5h0m-46 18h0m30-12h0m12 4.5h0m6.5-2h0m2 3h0m-86.5 35h0m5.5-1h0m17-1h0m-37 5.5h0m44 4.5h0m1-1.5h0m7 0h0m4.5-3.5h0" stroke="#5b87c5" stroke-width="10" /><path d="M345.5 2357.5h0m18-1h0m-68 15h0m27-3h0m5 1h0m3-9.5h0m0.5 5h0m5 3h0m-25 13h0m0-0.5h0m1 2h0m1 4h0m1.5-12.5h0m8 6.5h0m0 4.5h0m4-4.5h0m5-7.5h0m0 6.5h0m0.5-2.5h0m1.5 10h0m-46 12h0m25-9.5h0m14-1.5h0m8.5 4h0m5.5-3h0m-60 23.5h0m2 1.5h0m-39 12.5h0m34-5h0m6.5 5h0m3-11h0m5 2h0m-6 12h0m2.5 7h0m3.5-3.5h0" stroke="#4566b0" stroke-width="10" /><path d="M370 2275h0m-15.5 3.5h0m2.5 4.5h0m7-5.5h0m4 2h0m6 1.5h0" stroke="#e9281f" stroke-width="10" /><path d="M317 2381h0m14.5-7.5h0m-84 54.5h0m2.5-6h0m-8.5 8.5h0m18.5-1h0" stroke="#8ab8db" stroke-width="10" /><path d="M331 2358h0m-93.5 13.5h0m8 6h0m38.5 37.5h0" stroke="#2b3990" stroke-width="10" /><path d="M313 2261h0m8-2h0m-9.5 3.5h0m1 2h0m2.5 6h0m2-2.5h0m0.5-5.5h0m2 10h0m1-6.5h0m2-5h0m11.5 2h0m61 11.5h0m3 0h0m2.5 0h0m-49.5 11.5h0m5-0.5h0m12.5-1h0m14.5 3h0m8.5-12.5h0m1.5 3.5h0m1.5-1.5h0m5 5h0m2.5-1h0m-72 18.5h0m61 0h0m6-5h0m4-3.5h0m-83 26h0m2.5-0.5h0m1-8.5h0m4.5 4h0m1.5 2.5h0m3-11h0m1 5h0m1-2.5h0m1 6.5h0m2 1.5h0m0.5 2h0m6-4.5h0m0.5 2h0m13 2h0m13-0.5h0m2.5 2h0m13.5-7h0m16.5-1.5h0m9.5 0.5h0m14.5 3.5h0m-121.5 14.5h0m3 0h0m2.5-1.5h0m0.5-7.5h0m0.5 5h0m0.5 2h0m0.5-8h0m2.5 10h0m1-1.5h0m6-5.5h0m10.5 4.5h0m0 2.5h0m1-2.5h0m2.5-1h0m0.5-3h0m2 1.5h0m7.5-1.5h0m6 8h0m2 1.5h0m3-8.5h0m2.5 0h0m8 0h0m1.5-0.5h0m1-3h0m1.5 9h0m12 2h0m26.5-7h0m2-1.5h0m7 3.5h0m9 2.5h0m1-0.5h0m0.5 1.5h0m0.5-9.5h0m4.5 11.5h0m7-2h0m1 1h0m4-0.5h0m-142.5 6h0m2-2.5h0m3.5 4h0m12.5 5h0m10.5-4.5h0m20-1.5h0m2 2.5h0m1.5-0.5h0m1.5-1.5h0m4-2.5h0m0 3h0m27 2.5h0m1.5-2h0m4 9h0m2-1h0m4-0.5h0m2 1h0m1-1.5h0m3-0.5h0m0.5-1.5h0m2.5-5h0m0 7h0m6-3.5h0m5 0.5h0m1.5-0.5h0m0.5 2.5h0m2-2h0m0-6.5h0m1 10h0m0.5-10h0m0 8.5h0m0-2h0m1.5 3h0m0-8.5h0m0.5 10h0m2-1h0m1-3h0m1 1.5h0m1.5-4.5h0m0 6h0m1.5-12h0m0 12h0m0.5-6.5h0m0.5-2h0m1-1.5h0m0 6h0m1.5 1h0m2.5 3h0m1-8.5h0m1.5-1h0m1-2.5h0m1.5 1h0m2 0h0m0 8.5h0m2 3.5h0m-130 8h0m0.5 0.5h0m11 5.5h0m49-11h0m2.5-1.5h0m16.5 2h0m0.5 2h0m1.5-3h0m0 2.5h0m4.5-2.5h0m2 2.5h0m1.5-2.5h0m3.5-0.5h0m2.5 1h0m2.5 0h0m7.5 3.5h0m1.5-0.5h0m2-1.5h0m4 2h0m4.5-3.5h0m1 4.5h0m3-5.5h0m3 3.5h0m1.5-2h0m-217 37h0m-56.5 13.5h0m3.5-5h0m2.5 1h0m18-2h0m35 5h0m-106 12.5h0m2 4h0m10-5.5h0m1 3h0m9.5-4.5h0m4.5-0.5h0m57.5 3h0m-87 13.5h0m1-4.5h0m1.5 5.5h0m1.5-0.5h0m1.5-7.5h0m0 6h0m1.5-2.5h0m1.5-3h0m2.5 1.5h0m8.5-1h0m1-2h0m2.5 0.5h0m1 9h0m1.5-9h0m0.5 1.5h0m23-1.5h0m15.5 1.5h0m8.5-1.5h0m40.5 10.5h0m9.5 1.5h0m0.5 3h0m-35 42h0m2 5h0m1-1.5h0" stroke="#f6e934" stroke-width="10" /><path d="M324.5 2257.5h0m-13.5 8.5h0m3.5 1.5h0m2-2h0m12 4h0m0 5.5h0m2.5-0.5h0m1.5-7h0m2-1.5h0m2 1h0m1 2h0m4.5-3.5h0m41.5 4.5h0m6-1h0m-65 16.5h0m6-1h0m8-5h0m14.5 8h0m6.5-3h0m18.5 1h0m5-8.5h0m3 2h0m2.5 7h0m0-3.5h0m3-0.5h0m-62.5 20h0m3.5-3.5h0m2 1h0m2 1.5h0m6 1.5h0m2.5-7.5h0m2 6h0m1.5-1h0m14-3.5h0m0.5 0.5h0m9 1.5h0m1.5 1h0m0.5-6.5h0m2 9.5h0m0.5-5.5h0m3.5 5h0m0-1.5h0m4-2h0m1 1h0m2 2.5h0m0-2h0m1-2h0m1.5-2h0m1.5-6h0m1 6.5h0m1.5-1h0m-70.5 8.5h0m4-0.5h0m2 5.5h0m0.5-3h0m1 1.5h0m2-4.5h0m1.5 5h0m0-1.5h0m1-3h0m5 5.5h0m1 4.5h0m1.5-6.5h0m0.5 8h0m3-6.5h0m0.5 2h0m3.5 6.5h0m0.5-4h0m1.5-6h0m0-2h0m1 7.5h0m0.5-6.5h0m0.5 7.5h0m0.5-2.5h0m1.5-8h0m3 6h0m0.5 3h0m1.5 0h0m3 3h0m0.5-8.5h0m0 8h0m1-2.5h0m1.5-0.5h0m1-4.5h0m0 5h0m0.5-2.5h0m0.5-0.5h0m2.5-1.5h0m0 3.5h0m1 2.5h0m1.5-3h0m1.5-1h0m0-0.5h0m1.5 0.5h0m1.5 2h0m0.5-1.5h0m1.5-1.5h0m1-2.5h0m1.5 4h0m1-3.5h0m1-1.5h0m3-2h0m0.5 13h0m15.5-12h0m-69 14h0m9.5 1h0m10 4.5h0m8-3h0m0.5 2.5h0m13-2h0m-58 14h0m11 9.5h0m6.5-8.5h0m67 8h0m27.5-11.5h0m-112.5 24.5h0m91.5-10h0m13 5h0m1-7h0m-132.5 46.5h0m-44 33.5h0m-12.5 6.5h0" stroke="#fcd426" stroke-width="10" /><path d="M301.5 2343h0m66.5-2h0m-195 59.5h0m8-8h0m0 2h0m2.5-3.5h0m4.5 1h0m1.5-1.5h0m10 2h0m15-4.5h0m-92.5 27h0m4-1h0m1-2.5h0m0.5-0.5h0m4-4.5h0m1.5 6h0m2 2h0m3-8h0m3.5-5.5h0m1 11h0m0-4.5h0m1.5-3.5h0m1-2h0m0 11.5h0m2-0.5h0m0.5 1.5h0m1-1.5h0m2.5-7.5h0m0.5-2.5h0m0.5 1.5h0m4.5 2h0m9-1h0m3.5-4h0m3.5 6.5h0m1-1h0m6.5-5h0m-62.5 19h0m3-4.5h0m0 4h0m3.5 6h0m0.5-4.5h0m0.5-4h0m0.5 1.5h0m0-2h0m1-2.5h0m0.5 12.5h0m4-10.5h0m0 4h0m0 5.5h0m1.5-1h0m3 3h0m1.5-7h0m0-3.5h0m1 7.5h0m3-1.5h0m0.5 0h0m1 4.5h0m0.5-6h0m1-2h0m2 3h0m0.5 0.5h0m2 2h0m1.5-1.5h0m1.5 3h0m1.5-9h0m0.5 9h0m1-10.5h0m1.5 6.5h0m3.5-6h0m3-1.5h0m14 1h0m0.5 1.5h0m26.5-0.5h0m7 7.5h0m19-1h0m12.5 0h0m3.5 2h0m-114 3h0m79 12h0m24.5-9.5h0m10.5 0h0m6-2.5h0m11 1h0m-54.5 45h0m0.5-1.5h0m1 0.5h0" stroke="#d4e281" stroke-width="10" /><path d="M336 2270h0m4-4h0m0-1.5h0m15 4h0m7 5.5h0m0.5-4.5h0m8 2.5h0m7 1h0m5 1h0m0.5 0.5h0m1.5-8h0m0 6.5h0m1.5-2.5h0m1.5 3.5h0m1-1.5h0m1.5-1h0m-50.5 4h0m12 1.5h0m2 12h0m13.5-5h0m0.5-3h0m2.5 0h0m5.5 8h0m7-4.5h0m6 3.5h0m0.5-8.5h0m-49 14h0m1.5 2.5h0m0.5-1h0m0-1.5h0m0.5 4.5h0m2-2.5h0m0 2.5h0m4.5-4.5h0m1 2.5h0m1.5 4.5h0m0 0.5h0m5-3h0m3 3.5h0m4-0.5h0m0.5-1.5h0m6-10.5h0m1 6.5h0m2.5 0h0m1.5-5h0m0.5 10h0m0-9h0m2.5-1.5h0m6 5h0m0.5-0.5h0m2-2h0m0-3h0m1 5.5h0m0.5-3h0m2.5 1h0m0 2h0m2-5.5h0m-38.5 13.5h0m2 1.5h0m2.5 8.5h0m0.5-7.5h0m5 2.5h0m6.5-1.5h0m2-2.5h0m11 1h0" stroke="#fab224" stroke-width="10" /><path d="M322 2367h0m3.5 3h0m1 2h0m2 0.5h0m5-1.5h0m1-5h0m0.5 1h0m1-5.5h0m-42 22h0m10-2.5h0m6.5 5h0m8.5-2.5h0m14.5-6.5h0m-6.5 12.5h0m9.5-0.5h0m-56 21.5h0m-43.5 13.5h0m43.5-1.5h0m-37.5 7h0m41 5.5h0" stroke="#5b87c5" stroke-width="10" /><path d="M343.5 2269h0m1-3h0m1.5-1h0m1.5 7.5h0m0.5 1.5h0m0-10.5h0m9 4h0m14.5 3.5h0m12.5-2.5h0m-35 19.5h0m5-3h0m4 1h0m5.5-2h0m1-7.5h0m3.5 5h0m2-0.5h0m6.5-2h0m1.5-2h0m3.5 3.5h0m0.5 6h0m8-11h0m3 9h0m-62.5 15.5h0m1.5 1h0m11-0.5h0m3-8.5h0m0-1.5h0m5.5 0.5h0m3 5.5h0m3.5 0h0m2 1.5h0m1.5-4h0m4-0.5h0m16 6h0m0.5-6.5h0m0.5-3.5h0m21 10.5h0m-66 15.5h0m24-11.5h0m26 12h0m-49.5 7h0m-36 20h0m40-5h0" stroke="#f58620" stroke-width="10" /><path d="M335 2371.5h0m-186.5 28h0m7-3.5h0m34-3h0m37 7h0m-103.5 12h0m2 0.5h0m1.5-3h0m7.5-4h0m4.5 2h0m0 3.5h0m3.5 2.5h0m5 0h0m1-12h0m1.5 0h0m2 9.5h0m26.5-6h0m-60 11.5h0m4.5 7h0m6.5-0.5h0m2.5 4.5h0m0.5-2h0m1.5-8.5h0m4 9.5h0m3.5-6.5h0m3 8.5h0m3-11.5h0m6.5 8h0m3.5-5.5h0m47.5-3.5h0m32.5 9.5h0m8.5-1.5h0m6.5 4h0m-124.5 2h0m11.5-0.5h0m100 3.5h0m10-4h0m-37 37.5h0" stroke="#b4d8ca" stroke-width="10" /><path d="M325 2368.5h0m3.5 7h0m6.5 7.5h0m2.5 3h0m-6 1.5h0m2 5.5h0m-57.5 30.5h0m4 2.5h0m1-8.5h0m4.5 19.5h0" stroke="#354b9e" stroke-width="10" /><path d="M355 2267h0m11 4h0m0 3.5h0m2-0.5h0m5-2.5h0m-27.5 12h0m8.5 4h0m6.5-12.5h0m4.5 6h0m3.5 7.5h0m0-2h0m1-10h0m0.5 9.5h0m4.5-1h0m4.5-5h0m1.5-3.5h0m-26.5 15h0m2-2.5h0m5 0h0m0.5 3h0m1.5 1.5h0m10.5-4h0m-90.5 96.5h0m11-5h0m-9 11.5h0m9-5.5h0" stroke="#ef5720" stroke-width="10" /><path d="M335.5 2357.5h0m-11.5 14.5h0m7-8.5h0m-22.5 19h0m9 2h0m-7.5 3.5h0m-173 26.5h0m157.5-2h0m-155.5 8h0m129.5 5.5h0" stroke="#8ab8db" stroke-width="10" /><path d="M309.5 2356h0m28 1.5h0m1 1.5h0m2-0.5h0m-11.5 2h0m0.5 7h0m0.5-3.5h0m0 2.5h0m3-6h0m0 9h0m2.5-5.5h0m1-4.5h0m2.5 7h0m-39.5 14h0m5.5 3.5h0m1.5-9h0m1.5 4h0m1 0h0m4-2h0m2 6h0m5.5 2.5h0m3.5-3.5h0m1.5-7h0m5 7h0m1.5-7h0m-51 39h0m2.5-1.5h0m6 1h0m3-0.5h0m-38 12h0m3 1h0m13.5-1h0m10-0.5h0m3.5-1.5h0m3 5.5h0m1-3h0m2-1.5h0m1-1.5h0m0.5-1.5h0m-6.5 9.5h0m4.5 1.5h0" stroke="#4566b0" stroke-width="10" /><path d="M350.5 2268h0m10 12.5h0m0.5 1.5h0m1-3.5h0m3.5 7h0m1.5 0h0m2.5-6.5h0" stroke="#e9281f" stroke-width="10" /><path d="M241 2383.5h0m16.5-1.5h0m29-2.5h0m47.5 8.5h0m-47.5 45h0" stroke="#2b3990" stroke-width="10" /><path d="M319 2260.5h0m12.5-2h0m-13.5 13.5h0m3.5-1h0m2.5-6.5h0m0.5 3.5h0m0.5 3.5h0m2.5-5h0m0 7h0m0.5-9.5h0m1.5-0.5h0m6.5 1h0m11.5 1.5h0m2.5-3h0m29.5 4h0m16.5 5h0m-76 5h0m2 0h0m3.5-1.5h0m52.5 1.5h0m2 9.5h0m7 1.5h0m0.5-6.5h0m2.5-4.5h0m0.5 10h0m0.5 1.5h0m0.5-8h0m-60.5 22h0m0.5-3.5h0m2 3h0m0.5-12h0m2.5 5.5h0m1.5-0.5h0m0 6h0m2-4h0m0.5 0h0m0.5 2.5h0m0.5 0.5h0m0 2h0m2-6h0m0.5-2h0m0 8.5h0m1-9.5h0m0 6h0m1.5-1.5h0m4-6h0m0 3.5h0m2.5 2h0m5.5 4.5h0m0.5-1.5h0m8.5-0.5h0m4 1h0m8.5-2.5h0m3 5h0m3-11h0m0.5 10h0m1.5-6h0m0.5-1.5h0m3.5-1h0m10.5 1h0m-85 21h0m3-5h0m10 5h0m2-8.5h0m3 1.5h0m2 2h0m1-5h0m1 5h0m1.5-3.5h0m0.5 1.5h0m2.5 2h0m2-1h0m1 1h0m1-5.5h0m0.5 7h0m1-3h0m0.5-1.5h0m4.5 3h0m0.5-4.5h0m1 8h0m2-3.5h0m0.5 6h0m2-11.5h0m0.5 4h0m0.5 5.5h0m0.5-2h0m1-0.5h0m2-2.5h0m1-1.5h0m0 2.5h0m0.5-2h0m2-2.5h0m5.5-2.5h0m4.5 8h0m1.5-5.5h0m0.5 10h0m1-7.5h0m1.5-3.5h0m0.5 3.5h0m4.5-4h0m1.5-1.5h0m0.5 5h0m6-0.5h0m9-2.5h0m-51.5 15h0m27.5-0.5h0m39 2h0m-102.5 13.5h0m43.5 8.5h0m14-7.5h0m48-1h0m25.5 4.5h0m-133.5 19.5h0m109-13h0m-115.5 23.5h0m10.5-10h0m-103 68h0m34.5 0h0" stroke="#fcd426" stroke-width="10" /><path d="M323 2365h0m3 1h0m6.5-3h0m2-4h0m0 3.5h0m2 7h0m2.5-5.5h0m5.5 4h0m0.5-5.5h0m1-1h0m2.5-0.5h0m-46 19.5h0m0.5-2.5h0m4-1h0m2-0.5h0m5 1.5h0m10.5-4.5h0m2 12h0m2-10.5h0m0 10h0m3-1.5h0m10-9.5h0m-53.5 24.5h0m10.5-5h0m13.5-5.5h0m-23 26.5h0m-10 8.5h0m0-2h0m1-1.5h0m5-2h0m2 8.5h0m0.5-3h0m1.5 4.5h0m0-11h0m1.5 2h0m2.5 1h0m-10 12.5h0m1-1h0m4 4h0m1-5.5h0m3.5 5h0" stroke="#4566b0" stroke-width="10" /><path d="M320.5 2257.5h0m3.5 3h0m5-0.5h0m-15 10h0m1-6.5h0m0.5 9h0m3-7.5h0m1.5 10h0m1-12h0m0.5 4.5h0m0.5-2.5h0m69.5 8.5h0m-64.5 3h0m56.5 11h0m10.5-6h0m0.5-2h0m0 4h0m0.5 2.5h0m1.5 2h0m0.5-10.5h0m1 6h0m0.5-5.5h0m1-1h0m3-1.5h0m1 1.5h0m-76.5 22.5h0m1.5 1.5h0m6-3.5h0m46-5h0m13 5.5h0m1.5-0.5h0m1.5 4h0m1-9.5h0m-82.5 24h0m3-4h0m6.5-8.5h0m1 3h0m6.5 7h0m4-7h0m25.5 8.5h0m17-6.5h0m14.5-0.5h0m6.5-2.5h0m4.5 6.5h0m2 4h0m1-1h0m0.5-7.5h0m5 6.5h0m-108.5 11h0m2 5.5h0m1.5-1h0m2.5-2h0m0.5 3h0m2-7.5h0m0.5 2h0m1.5-5h0m5.5 1.5h0m13 0.5h0m3.5 3.5h0m3.5-5.5h0m8.5 2h0m3 4h0m3.5 2.5h0m3.5-4h0m2 5.5h0m3.5-3.5h0m0-9h0m22 9h0m26-7.5h0m3 8.5h0m16-6h0m1 7h0m4-8h0m6 9h0m3 0.5h0m-151 8.5h0m26 1.5h0m15 1.5h0m2 1.5h0m6.5-7.5h0m2.5-2.5h0m3-0.5h0m0.5 5.5h0m2 0.5h0m7-5h0m2 4h0m0.5 5.5h0m1-10h0m4.5 1.5h0m8.5 10h0m3.5 0h0m3 0h0m1.5-0.5h0m4.5-8h0m8.5 6.5h0m2.5 1h0m1 0h0m4.5-10h0m0.5 5h0m1.5 6h0m0.5-2.5h0m0-7.5h0m2 4h0m4 6h0m5.5-1h0m3-7.5h0m0.5 7.5h0m2-12.5h0m2 0h0m2 5h0m1 6.5h0m0-11h0m0 1.5h0m3 0h0m2 8.5h0m2.5-4.5h0m0.5 6h0m0.5-4h0m1-4.5h0m1 2h0m0.5-5h0m0.5 9.5h0m0.5-3.5h0m1 4.5h0m1.5 0.5h0m5-10.5h0m0.5 10.5h0m-174.5 9.5h0m49.5-2.5h0m2-1.5h0m3 5h0m9.5-3.5h0m0.5-0.5h0m42.5-1.5h0m5 0.5h0m6.5-1.5h0m4 3h0m0-3.5h0m5.5 3h0m7.5-0.5h0m6.5 3.5h0m0.5-1.5h0m1-1.5h0m1.5 0.5h0m0-4h0m2 2.5h0m4 4h0m0.5-4h0m2 4h0m1.5-2h0m0-3.5h0m0.5 1.5h0m0-3h0m0.5 4h0m3 1.5h0m0-5.5h0m2.5 4h0m0-3.5h0m3.5 2.5h0m6.5-0.5h0m-164 23.5h0m30-7.5h0m72-4h0m-232 38.5h0m28.5-7.5h0m4-1h0m44.5 10.5h0m-87.5 11h0m2-1h0m1.5 1.5h0m1-1h0m1-2.5h0m0.5 3.5h0m1-1.5h0m4-1h0m7.5-5h0m3.5 5.5h0m5.5-3h0m-50.5 15h0m2.5 3h0m6-1h0m0-2.5h0m8.5-4.5h0m3 5.5h0m0.5-0.5h0m2.5 7h0m0.5 0h0m3-6.5h0m1-1h0m0.5-2.5h0m4.5-2.5h0m1.5 3h0m24.5-3.5h0m44 9.5h0m0-6h0m37.5 12h0" stroke="#f6e934" stroke-width="10" /><path d="M331.5 2265.5h0m9.5 8h0m8.5-1h0m0-7h0m1.5 1h0m1 3h0m4.5 0.5h0m20.5-0.5h0m1.5-1h0m4 3h0m3-1.5h0m5 3h0m-59 9h0m18.5-1h0m18-3.5h0m0.5 9.5h0m15-8h0m2 7.5h0m1-2.5h0m3-6h0m2-1.5h0m0.5 1.5h0m0 8.5h0m-54.5 13h0m7-1.5h0m4 1.5h0m0-5h0m3.5-3.5h0m3 2.5h0m1 6.5h0m4.5-5h0m0 6.5h0m0.5-1h0m1.5-6.5h0m0.5-2h0m7.5-0.5h0m1-1h0m3.5 10.5h0m4-10h0m4 4h0m2.5 1.5h0m2.5-5h0m1.5 7h0m-43 9.5h0m12-0.5h0m1 8h0m7-9h0m3 4.5h0m-62 55.5h0m-19.5 19h0" stroke="#fab224" stroke-width="10" /><path d="M308 2369h0m-99.5 10h0m-51.5 21.5h0m0.5-2h0m14-2h0m3 2h0m3.5-3.5h0m152-5.5h0m-197.5 21h0m3-6.5h0m6.5-1.5h0m3 6.5h0m3.5 4h0m8.5-3.5h0m9.5 2h0m5-4.5h0m59.5-4h0m20.5 8.5h0m-123 17.5h0m8-4.5h0m2 4h0m1.5-12h0m2.5 9.5h0m2-0.5h0m0-6.5h0m0.5 3h0m1-2h0m3.5 3h0m6-4.5h0m18-3.5h0m44 4h0m13 8h0m1-3h0m9 0h0m5 5h0m-99.5 0.5h0m124 0h0m-60 47.5h0" stroke="#b4d8ca" stroke-width="10" /><path d="M295.5 2368h0m18.5-5h0m-161 34.5h0m2.5 2.5h0m0-2.5h0m12.5-0.5h0m9-4h0m1 4.5h0m59.5-8.5h0m-117.5 24.5h0m9-3.5h0m0 4.5h0m3-5.5h0m2-4.5h0m1 3.5h0m1.5-1h0m1 1.5h0m0 1h0m0.5 3h0m1-3.5h0m1.5-4h0m1 8h0m1.5-6.5h0m0 3.5h0m1.5-3h0m2.5 2.5h0m1.5-3h0m2.5 2.5h0m1 4h0m1.5-10h0m0 2.5h0m2 2.5h0m4.5 6.5h0m8-7h0m1 6h0m4.5-2.5h0m7.5-7h0m5-2.5h0m24.5 5h0m-91 16.5h0m2 2.5h0m2-10.5h0m0 13.5h0m1-10.5h0m2.5 7h0m0-8.5h0m0.5 0h0m1 9h0m1.5-3.5h0m1 4h0m0-3.5h0m2-5h0m1 7.5h0m1-4.5h0m0 6.5h0m2.5-4h0m2-5h0m0 4.5h0m1.5 4h0m0-5.5h0m1.5-0.5h0m1.5-3.5h0m2 11.5h0m0.5-3h0m2 1h0m0.5-2.5h0m0.5-7h0m3 3.5h0m0-4h0m1.5 3.5h0m0 1h0m1 1h0m5.5-5.5h0m2.5 1h0m4 0h0m20-1h0m12.5 1.5h0m11-3h0m18.5 13h0m3.5 0.5h0m2.5-0.5h0m1.5 0.5h0m-102 2h0m15.5-1.5h0m118.5 2.5h0m-59.5 46.5h0m1.5 1h0m0.5-4h0m3 1h0" stroke="#d4e281" stroke-width="10" /><path d="M351.5 2272.5h0m6 0h0m12 1h0m-24 1.5h0m7.5 14h0m3-1.5h0m5.5-2.5h0m4-7.5h0m0-1h0m4.5 12h0m2.5-10h0m2 6.5h0m0.5-1h0m0.5 3h0m0-6h0m1 6.5h0m2.5-3h0m-20 6.5h0m-76.5 100h0" stroke="#ef5720" stroke-width="10" /><path d="M334.5 2356h0m28.5 1.5h0m-36 6.5h0m6 1.5h0m3.5-0.5h0m2-4h0m5-1.5h0m-34.5 27h0m0.5-9.5h0m0 7.5h0m2 1.5h0m0.5-9.5h0m12 8h0m1-1h0m6.5-2.5h0m-26.5 9h0m7.5 0.5h0m1.5-2h0m16-0.5h0m2.5 3.5h0m-41 23h0m1.5-10.5h0m-66 21.5h0m6-0.5h0m45.5 3h0m1-12.5h0m5.5 5.5h0m1.5-0.5h0m1.5-3h0m4.5 11h0m-10.5 9h0m6.5-6h0m1.5 3.5h0" stroke="#5b87c5" stroke-width="10" /><path d="M302 2362.5h0m25-0.5h0m2 7.5h0m22.5-10h0m-51 22.5h0m25.5 0h0m10 4.5h0m-184 13.5h0m148.5-12h0m33 1.5h0m6 1.5h0m-209.5 34.5h0m39-10.5h0m53.5 13h0m-83 1.5h0m98.5 2h0m10-0.5h0" stroke="#8ab8db" stroke-width="10" /><path d="M341 2272h0m2.5 2h0m3.5-4h0m2 3.5h0m3.5-7.5h0m3.5-1h0m3.5 3.5h0m3 4h0m11-1.5h0m2.5-1h0m3.5-1.5h0m10 3h0m-47.5 10.5h0m4.5-5h0m8 10h0m0.5 1.5h0m6-1.5h0m1 1.5h0m0-3h0m5.5-2h0m6.5-7.5h0m5 5.5h0m-30.5 14.5h0m4-3h0m0.5 1.5h0m3.5 2h0m0 6h0m2-13h0m5.5 6.5h0m4.5-2h0m1 7h0m1-9.5h0m1.5 7h0m0-4.5h0m0 9h0m1.5-1h0m1-3h0m0-1.5h0m1.5-3h0m0.5 0.5h0m-16.5 9.5h0m2 11.5h0m4-11.5h0m3-1h0m-84.5 41h0m-3.5 26.5h0m9 16h0m-33.5 10h0m22.5-6.5h0m0-3h0m4.5 5h0" stroke="#f58620" stroke-width="10" /><path d="M361.5 2272h0m14.5 1h0m-20.5 11.5h0m13-9.5h0m2 10.5h0m5-8h0m-11 14h0m-81 98h0" stroke="#e9281f" stroke-width="10" /><path d="M307.5 2378h0m6-1h0m20.5 8.5h0m4-5.5h0m-60 45h0m3.5-5h0m2-3h0" stroke="#354b9e" stroke-width="10" /><path d="M338.5 2371h0m-35 12.5h0m14-0.5h0m-18.5 11h0m-12 25h0m1 2.5h0" stroke="#2b3990" stroke-width="10" /></g><text x="117.6" y="2244" font-size="23.6" >CD45</text><text x="207.1" y="2515.9" font-size="22.5" >Expr.</text><rect x="282.0" y="2501.1" width="77.5" height="15.6" fill="url(#jet)"/><text x="294.0" y="2544.6" font-size="22.5" text-anchor="middle" >-1</text><text x="346.0" y="2544.6" font-size="22.5" text-anchor="middle" >2</text><g stroke-linecap="round" fill="none"><path d="M655.5 2260.5h0m0.5-3h0m4.5 2.5h0m-18 6h0m3 4h0m0.5-2.5h0m3.5 4.5h0m3.5-1h0m17.5-6.5h0m22.5 7.5h0m1 0.5h0m5.5 1.5h0m14.5-2.5h0m1.5-3h0m1.5 1.5h0m0.5 0.5h0m10 1.5h0m-70.5 3.5h0m36 6.5h0m2.5 4.5h0m6.5-1h0m9.5 1h0m3-9.5h0m2.5 9.5h0m3-0.5h0m2-6h0m0 4h0m0 3h0m1 1.5h0m0-13.5h0m1.5 13h0m1.5-8.5h0m5.5-2.5h0m-71 25h0m9-7h0m4.5-1.5h0m1 7h0m2.5-8.5h0m2.5 7.5h0m0-3.5h0m6 0.5h0m0.5-3h0m1 6h0m6-8h0m17-0.5h0m2.5 5.5h0m0 1.5h0m1-8.5h0m0.5 5.5h0m1 3.5h0m1-4.5h0m7 2.5h0m5.5-2h0m6 5.5h0m-78 6.5h0m1.5-3h0m10.5 7h0m0 5h0m8.5-0.5h0m1-7h0m7 5.5h0m1-4.5h0m3.5 4h0m0-5.5h0m0.5-2h0m0.5 3.5h0m2.5-1h0m6-1h0m2 8h0m10.5 1h0m4-12.5h0m12 4h0m9-2.5h0m1.5 10h0m3.5-6h0m19 7h0m-120 4.5h0m11 1h0m10.5 3h0m4-6.5h0m2 4h0m28.5 1.5h0m2.5 0h0m2 3.5h0m12.5 2h0m50.5 0.5h0m11 0h0m-141.5 4.5h0m43.5-1h0m4.5 7h0m4-3.5h0m7.5-1.5h0m4.5-0.5h0m41 1.5h0m1 5h0m13 2.5h0m8.5-6.5h0m3 0h0m4 2h0m0.5-6h0m1.5 3.5h0m1 4.5h0m1.5 1h0m0.5-3.5h0m-168 13.5h0m45 1h0m4-2.5h0m8 7.5h0m32.5-0.5h0m0-1h0m33.5-10.5h0m1 2.5h0m25-3.5h0m6 1.5h0m3 6h0m9-6h0m-159.5 24.5h0m14-3h0m7-5.5h0m6 7h0m2.5-4.5h0m12 3.5h0m10.5 2.5h0m4-8.5h0m3.5-1h0m3.5 6.5h0m1.5-6.5h0m-73 23h0m26.5-4h0m3.5-2.5h0m1 3h0m3-4h0m1 1h0m3 1.5h0m1 6.5h0m0-12.5h0m1.5 3.5h0m0.5 8.5h0m3.5-2.5h0m1.5 0.5h0m2 2h0m0.5-2.5h0m1-2.5h0m1.5 4h0m1.5-9.5h0m0.5 7h0m2.5 3h0m3-11.5h0m-176 22.5h0m44-3.5h0m38-3.5h0m41.5-1.5h0m4.5 5h0m1.5 0h0m25-4.5h0m4 0.5h0m16 1h0m4-1.5h0m1 4h0m3.5-4h0m-208.5 18h0m2 2h0m3 6.5h0m1.5-3h0m0.5-5h0m2 4.5h0m2 0h0m3-7h0m1 9.5h0m0.5-4.5h0m0.5-2h0m1.5 7.5h0m0.5-13h0m3.5 1.5h0m0.5 10h0m21.5-11h0m-56 19h0m10.5-1.5h0m0.5-1.5h0m0.5 11h0m2.5-1.5h0m0.5-9.5h0m2 7h0m9-2.5h0m3-1.5h0m0 7.5h0m2.5-2.5h0m4-9.5h0m1 2h0m0 7.5h0m20-11h0m13.5 1.5h0m-46 14.5h0m9-2h0m58.5 48h0m0.5 1h0m1.5-1h0m1 0.5h0" stroke="#354b9e" stroke-width="6.5" /><path d="M657.5 2266h0m65.5 3h0m-12 12.5h0m1 11h0m-43.5 20h0m4 1h0m31-2.5h0m-64.5 20h0m94.5 18h0m-67.5 10h0m-31.5 21.5h0m7.5 5.5h0m21-2.5h0m6 9h0m2-1.5h0m-192.5 31h0m69 5.5h0m26-3h0m-31 50.5h0" stroke="#f6e934" stroke-width="6.5" /><path d="M659 2260.5h0m3.5-1h0m-18 5h0m0.5 6.5h0m3.5-3h0m0.5-5.5h0m4 5h0m1-6.5h0m2 7h0m1 3.5h0m2-5h0m0 7h0m1 1.5h0m5.5-4.5h0m3.5-1.5h0m1.5-6h0m0.5 7h0m0-1.5h0m2.5-3h0m2-2.5h0m4 11h0m1.5-8.5h0m5.5 1.5h0m0 1.5h0m1-3.5h0m1.5 7.5h0m2-4h0m3 1h0m3.5 1.5h0m6 0h0m5-1.5h0m3 0h0m3.5 0.5h0m1-3.5h0m3.5 7.5h0m1.5-5h0m0.5 2.5h0m1.5 2h0m3-0.5h0m0.5 1.5h0m3 0h0m-74 2h0m0.5 9h0m6-1h0m15-9.5h0m5.5 11h0m2 1.5h0m1.5-0.5h0m0.5 1.5h0m2-5.5h0m4.5 2h0m0.5 3.5h0m0-10h0m3.5 7h0m0-9h0m2.5 5h0m0.5-2h0m0 9h0m0-13.5h0m1 1.5h0m0.5 12h0m4-7.5h0m1.5 8h0m0.5-0.5h0m1-1h0m0-2h0m0-3h0m0.5-2.5h0m0.5-3h0m0.5 6h0m0-7.5h0m2 6h0m1-1h0m2 0.5h0m1 3.5h0m1.5-5.5h0m3 3.5h0m0.5-3h0m2-3h0m0.5 8h0m2.5-1h0m1.5-4h0m6 5.5h0m0-4h0m1.5-4h0m-74.5 24h0m0-8.5h0m1 7h0m1 0.5h0m1-1h0m0.5-0.5h0m4 2.5h0m3-5.5h0m0.5 7h0m0.5-5.5h0m0.5 2.5h0m0.5 0.5h0m0.5-3.5h0m2.5-5h0m0 9h0m0-5h0m0.5-2.5h0m0 2h0m0.5 4h0m1.5 2h0m3.5-6h0m1 5.5h0m1.5-1.5h0m0-2h0m2-1.5h0m1.5 7h0m4-7.5h0m0.5 6.5h0m0.5-7.5h0m1.5 3h0m1.5 1h0m1-4.5h0m3.5 9h0m2-7h0m0.5 5h0m0-7h0m0.5 5h0m0-4.5h0m2-0.5h0m1.5 7h0m1-5.5h0m2-5h0m1.5 10.5h0m3-9h0m3.5-0.5h0m1 9h0m0.5-8.5h0m0.5 3h0m1 1.5h0m1.5-6h0m0 9.5h0m4-2h0m-71.5 6.5h0m1.5-0.5h0m1 8.5h0m3.5-6h0m1.5 9.5h0m1-2h0m1.5 1h0m0.5-2h0m4-5.5h0m0-3h0m0.5 1.5h0m1 5h0m2-2.5h0m1.5 7h0m3.5-4.5h0m0.5-4.5h0m3 11h0m1-4h0m1.5-8h0m1.5 1h0m0.5 4.5h0m1.5 5h0m0-12.5h0m1 5h0m3-3.5h0m2 10h0m0-2h0m1.5-7h0m1.5 9h0m1-10h0m0.5 2h0m2.5-3h0m0.5 5.5h0m0 2.5h0m0-6h0m1 1h0m1 1h0m1-3.5h0m0 10h0m2-3.5h0m0-7h0m0.5 7.5h0m0-6h0m2-1h0m0.5 5.5h0m1 2h0m0.5-8h0m1 1.5h0m0 1h0m0.5 10h0m0-11.5h0m1 4h0m1.5-3.5h0m0.5 3.5h0m1.5-3.5h0m3.5 11h0m-82.5 14.5h0m11-12h0m21 4.5h0m1.5-0.5h0m3-3.5h0m3.5-0.5h0m4.5 10h0m1.5-8h0m9 3.5h0m0 6h0m1.5-9.5h0m1.5 0h0m22 6h0m24.5-6h0m18 7h0m7.5-7h0m4 7h0m-150.5 8h0m5 2.5h0m7 5h0m16-8h0m2.5 5h0m15 1.5h0m0.5-5.5h0m8-0.5h0m1.5 2.5h0m3 2.5h0m1-8h0m4.5 8h0m1.5-9h0m1 3.5h0m2-3h0m0.5 1.5h0m1.5-1h0m0.5 5h0m8.5 0h0m14.5 6.5h0m11 0h0m1.5-1.5h0m2.5 1h0m2 1h0m1-1.5h0m3-0.5h0m0.5-1.5h0m1.5 1h0m2-3.5h0m2.5 2.5h0m1.5 3.5h0m1-5h0m7.5-3.5h0m3 6h0m2-11h0m1 8.5h0m0.5 1.5h0m1-9.5h0m0.5 9h0m2.5 0.5h0m1-1.5h0m1.5 2h0m1-2h0m1-2.5h0m0.5-2h0m0 8h0m3-11.5h0m0.5 13.5h0m2.5-13.5h0m4 9.5h0m0 3h0m2.5-1.5h0m-68 5h0m13.5 0.5h0m14.5-1h0m3.5 4h0m1-3.5h0m2.5-1h0m5 1.5h0m1.5 4h0m4.5-3h0m1 3h0m1.5-4h0m0-3h0m1 4h0m2.5-4h0m2.5 4h0m0-1.5h0m-175 18.5h0m-33.5 19h0m-75.5 13h0m4 2h0m0.5-2.5h0m21-4.5h0m11.5-1h0m19 4h0m7.5-8h0m13.5 12h0m3.5-12h0m-109 24h0m0.5-2h0m4 1h0m1-4h0m0.5 3h0m2.5 5h0m0-8.5h0m0.5 0.5h0m1 3.5h0m4-3.5h0m0.5 2.5h0m1.5-2h0m1.5-0.5h0m2 5h0m0-4.5h0m1.5 7h0m0.5-7.5h0m0 4.5h0m2-7.5h0m0.5 5.5h0m0.5-8h0m3 5h0m1 2.5h0m0 5h0m0-3h0m0.5-6.5h0m4.5-2h0m1 7h0m6.5-7.5h0m4 5.5h0m4-0.5h0m0.5 1h0m3 5h0m1.5-9h0m2 3.5h0m1-5.5h0m28 7.5h0m-88.5 13.5h0m0 2h0m1-8.5h0m0.5 3h0m1-1h0m0.5 8.5h0m1.5-0.5h0m1-8.5h0m0 5.5h0m1.5-7.5h0m0-1h0m0.5 6h0m0 3.5h0m1.5 1h0m1 1h0m1-2h0m4 4h0m0.5-12h0m1 9h0m0.5-1h0m0.5-6.5h0m1.5 3.5h0m1.5-6h0m1 11h0m5-3h0m0.5-8h0m0.5 8.5h0m0.5 4h0m2-7.5h0m0 2.5h0m2-7.5h0m0.5 9h0m0-5.5h0m0-3.5h0m1.5 12h0m2.5-4h0m1-4h0m0.5-4.5h0m9.5 2.5h0m16.5 0.5h0m11-2.5h0m9.5 2.5h0m0.5-2h0m6-1h0m-83 15h0m12-0.5h0m72.5 37h0m12.5-3h0m-16 12h0m4 0.5h0" stroke="#2b3990" stroke-width="6.5" /><path d="M716.5 2287.5h0m5.5 6h0m5.5-1.5h0m-78.5 23.5h0m85.5 24.5h0m35-5.5h0m2 0.5h0m-185.5 90h0m3 1h0m20.5-1h0m6.5-2h0m7.5-2h0m-159.5 8.5h0m151.5-0.5h0m0.5 6h0" stroke="#8ab8db" stroke-width="6.5" /><path d="M721.5 2271.5h0m-16.5 24h0m-82.5 90h0m3.5-4h0m-14 10.5h0m7.5 6.5h0m1 16h0m0.5-1h0m-11 14.5h0m0.5-5h0m1-7.5h0m0 10.5h0m3.5-9h0m3 3.5h0m0.5-1.5h0m1 4h0m1 4.5h0m3.5-10h0m-10.5 20h0m6-2.5h0m0.5-1h0m0.5-4.5h0" stroke="#5b87c5" stroke-width="6.5" /><path d="M558.5 2425.5h0" stroke="#ef5720" stroke-width="6.5" /><path d="M632 2360h0m7.5 9h0m2-1.5h0m-91.5 56h0m19.5 8h0" stroke="#f58620" stroke-width="6.5" /><path d="M583 2411.5h0m-21 15.5h0m6 1.5h0m0.5-3h0m13.5 2h0m4-8.5h0m1.5 2h0m8 8h0" stroke="#fcd426" stroke-width="6.5" /><path d="M651.5 2277h0m120.5 60.5h0m-115 32.5h0m-17 12.5h0m20-7h0m3-2.5h0m-153 22h0m150.5-3.5h0m3-4h0m2 2h0m-93.5 34.5h0m11.5 4h0m32-1.5h0" stroke="#b4d8ca" stroke-width="6.5" /><path d="M672.5 2307h0m-210 116.5h0m107.5 4h0m9 0.5h0m-13 1.5h0" stroke="#d4e281" stroke-width="6.5" /><path d="M570.5 2433h0m3.5 0h0" stroke="#fab224" stroke-width="6.5" /><path d="M726.5 2282h0m-110.5 106.5h0m4.5 21h0m5.5 3h0m-26 13.5h0m5-0.5h0m12.5 4h0m0.5 3.5h0" stroke="#4566b0" stroke-width="6.5" /><path d="M575 2426.5h0" stroke="#e9281f" stroke-width="6.5" /><path d="M644.5 2261h0m6-0.5h0m4-1.5h0m8.5-0.5h0m-16 14h0m4.5-2.5h0m0.5-4h0m1.5-1h0m6-1h0m3.5 4h0m0-2.5h0m4.5 6.5h0m0-2h0m1 3h0m2-1.5h0m2 2h0m1.5-10.5h0m1.5 11h0m2-9h0m2-1.5h0m2.5 4.5h0m6.5 2h0m2.5 1h0m5-0.5h0m5 3h0m6.5-3.5h0m0 3h0m0.5 2h0m1-2h0m1.5-1h0m4.5 2.5h0m2-2.5h0m2-1.5h0m3-1h0m-72 7h0m13 5.5h0m11 0h0m5.5-0.5h0m2 7.5h0m0.5-8h0m1-4h0m0 9h0m0.5 0h0m1 3h0m1 0h0m0-1.5h0m1.5-3h0m4 0h0m0.5 3h0m0.5-12.5h0m0.5 12h0m2 0.5h0m0.5-3.5h0m2 1.5h0m2-4.5h0m2.5 5h0m1.5-6h0m0.5-5h0m0 13h0m0.5-9.5h0m0 5.5h0m1.5-8h0m1 8h0m0-2.5h0m1.5-1.5h0m1.5 4h0m0 1.5h0m1-5.5h0m1.5 3.5h0m2 1h0m1 3h0m0-8.5h0m1.5-2h0m0.5 4h0m1.5 7h0m0.5-6.5h0m2-3.5h0m0.5 11h0m4.5-12h0m1 9h0m1.5-8.5h0m0.5 9h0m0.5-3h0m1.5-8.5h0m0.5 11.5h0m-69 16h0m2.5-0.5h0m1-2.5h0m1.5 1h0m1-5h0m0-6.5h0m0.5 10.5h0m1 1.5h0m1.5-4h0m1.5-6h0m0.5 5h0m1-4.5h0m0 6.5h0m2 0h0m1.5-2h0m1-2.5h0m1 6.5h0m0 2h0m0.5-8.5h0m1 2.5h0m1.5-1.5h0m1.5 0h0m1 4.5h0m2 1h0m1-5h0m1 1.5h0m3 4h0m1.5-4h0m3.5 6h0m1-9.5h0m1 9.5h0m0.5-3h0m3.5-9h0m0.5 6.5h0m1 5h0m0-12.5h0m0 10h0m0.5-4.5h0m0.5-2h0m0 6h0m0-1.5h0m0.5-7h0m1 5.5h0m1-2.5h0m1 0.5h0m1.5-3h0m0.5 7h0m0.5 4h0m2.5-8h0m2 8h0m1-10h0m1-2.5h0m0 12.5h0m1-7h0m0.5 1h0m0-6h0m3.5 3.5h0m0.5 1h0m1 3.5h0m0.5-1.5h0m2-1.5h0m0.5 6.5h0m4.5-10.5h0m-88.5 25.5h0m10.5-7h0m9-1h0m0.5-1.5h0m0.5-1h0m1 2h0m1.5 0.5h0m0.5 7.5h0m2-10h0m2 3h0m1.5-0.5h0m4.5 0h0m1.5 3.5h0m0.5-7h0m0 3.5h0m1.5-2.5h0m1 1.5h0m1.5-0.5h0m1 5.5h0m2-6.5h0m5 9.5h0m0.5-10.5h0m1 1h0m2.5 2h0m2 4h0m0-1.5h0m1.5 1h0m0-7.5h0m1 2h0m0 3.5h0m1 1.5h0m1-6h0m5 4.5h0m0-4h0m0 3.5h0m1.5 0.5h0m6 0.5h0m0.5-5h0m0.5 1.5h0m6-3.5h0m14 9h0m0-8h0m21 8.5h0m-111 14.5h0m0.5-7h0m16.5 7h0m2-5h0m11.5-1.5h0m7 5.5h0m3-2.5h0m4.5 1h0m0.5 3.5h0m8-11h0m0 4h0m1-3h0m7.5 12.5h0m36-11.5h0m3.5 8.5h0m5-6.5h0m4.5 6h0m1.5-0.5h0m5.5 2h0m4-4.5h0m3 5.5h0m-154.5 15h0m17-9h0m0.5 7.5h0m2.5-7h0m1.5-3.5h0m14.5 8h0m22-2.5h0m8-5h0m2.5 4h0m0.5-5.5h0m1 2.5h0m13.5 7h0m7 3.5h0m0-8.5h0m6.5 8.5h0m16-2h0m7-9h0m1.5 11h0m1-4.5h0m3 2.5h0m0.5 2h0m3.5-3.5h0m1.5 2.5h0m2-1h0m1-2.5h0m1.5-2.5h0m2.5 2.5h0m0-6.5h0m1.5 0h0m3.5 2.5h0m2 2.5h0m0.5-6h0m0 9.5h0m1-6.5h0m0.5 8h0m1.5-12h0m0 12h0m0.5-6.5h0m1.5-3.5h0m4 10h0m1.5-10.5h0m2.5 9.5h0m1-10h0m2.5 0h0m1.5 12h0m-124.5 5h0m5 3.5h0m10-3.5h0m6 6h0m4.5-5h0m28.5-1h0m13.5-3h0m1.5 0h0m11.5 0.5h0m1.5-0.5h0m1 3h0m1.5 1h0m9 0h0m3 0.5h0m3.5 0h0m1.5-0.5h0m2 0.5h0m2-1h0m4 0.5h0m2.5-5h0m1.5 6.5h0m0-3.5h0m2-0.5h0m-201.5 23.5h0m3.5 12h0m45.5-4h0m-138 20h0m11.5-3.5h0m12.5-1.5h0m1.5-1h0m2.5 1h0m5 0h0m2-3.5h0m8 2h0m38 4.5h0m64.5-10.5h0m-172.5 26.5h0m0.5 1.5h0m1-2.5h0m3.5-3h0m1.5 3.5h0m1.5 1.5h0m4.5-10h0m4 8h0m1-7h0m1.5-0.5h0m2 8.5h0m0.5-7h0m0 3.5h0m2-8h0m0 10h0m0.5-1.5h0m1-2.5h0m0.5 5.5h0m0-0.5h0m0.5-1.5h0m1-7h0m0 2h0m0 6.5h0m0.5 1.5h0m0-3h0m0-8.5h0m16.5 2.5h0m0.5 5h0m0.5 1h0m2-5h0m9.5-1.5h0m3-1h0m29.5-1h0m-92.5 18.5h0m0-5h0m3 6.5h0m1.5 4h0m1 1.5h0m0-4.5h0m1-2h0m1-2.5h0m1.5 2.5h0m2 5h0m0-4h0m1 2.5h0m1 0.5h0m0-9h0m0.5 9.5h0m0-10h0m1.5 3h0m0.5-3.5h0m0 1h0m0.5 5.5h0m1 3.5h0m2.5-8h0m0.5 4h0m0.5 6.5h0m2-11.5h0m2.5 11.5h0m1 0h0m0.5-3h0m0-6.5h0m1-1.5h0m1 2.5h0m0 5.5h0m0.5-8.5h0m0 0h0m0.5 8h0m0.5-3h0m1 4.5h0m0.5-9.5h0m1.5 1h0m0.5 9.5h0m2-5h0m0.5-6h0m12 4.5h0m8-3h0m2.5-2.5h0m23 2.5h0m-60.5 11.5h0m5.5 1h0m3-1.5h0m62 45.5h0m3 4h0m1.5-2.5h0" stroke="#2b3990" stroke-width="6.5" /><path d="M662.5 2303.5h0m-21.5 52.5h0m-19.5 31h0m4.5-6h0m-11 8.5h0m4 0.5h0m5.5 14h0m-164.5 14.5h0m162.5 0h0m0.5 4h0m-5.5 8h0m6 2.5h0" stroke="#4566b0" stroke-width="6.5" /><path d="M652.5 2257.5h0m-11 5.5h0m6.5 2.5h0m3.5 7h0m0 2.5h0m4-10.5h0m8.5 3h0m1.5-4.5h0m13.5 3h0m1.5 7.5h0m0.5-1h0m0.5-9.5h0m3 3h0m4 1.5h0m13 7.5h0m0.5-3h0m2.5-0.5h0m19 1h0m-53.5 7h0m8-2.5h0m16 10h0m6-0.5h0m2-2h0m3-6h0m3 0.5h0m3 1.5h0m1.5-4h0m0.5 5h0m0.5 5h0m3-5.5h0m2.5-1h0m4.5 6.5h0m7.5-4.5h0m3-6.5h0m-66.5 21.5h0m7 3h0m1-6h0m0.5 4h0m3.5-6h0m0-1h0m4.5 0h0m1.5 0.5h0m12 3h0m1-1.5h0m0.5 6.5h0m3-8h0m2 10h0m4 1h0m0.5-5h0m4-0.5h0m1.5-5.5h0m1 9.5h0m6.5-2.5h0m3-9h0m0.5 6h0m9-1h0m-81 13.5h0m12.5 2.5h0m6.5-7h0m4.5 9h0m6 0h0m1.5-7.5h0m3.5-0.5h0m1.5 2h0m1 4h0m2.5 1.5h0m1-8h0m6.5 11h0m0-2.5h0m32.5-4h0m12 5.5h0m-109 13h0m6-4h0m1 7.5h0m3.5-7.5h0m19-4.5h0m25.5 11h0m6-7.5h0m2-2.5h0m5.5 0h0m36 2.5h0m9 2h0m10 2h0m1-8h0m14 9.5h0m-113.5 17h0m2-8.5h0m25.5 0h0m5.5-3h0m16.5 11.5h0m10-8.5h0m11 7.5h0m11.5-5h0m12.5 5h0m0.5-3.5h0m2 4.5h0m9-0.5h0m6.5 0h0m7-12h0m-131 25h0m8-9h0m13 11h0m10-8h0m33.5-2h0m21 1.5h0m21-4.5h0m2.5 6.5h0m4.5-6h0m13 1.5h0m-163 23h0m30.5-3.5h0m5.5-5.5h0m2-2.5h0m4.5 5.5h0m0.5 7h0m1-3.5h0m2-4.5h0m1 1.5h0m4 2.5h0m0.5-5h0m0.5-2.5h0m1.5 5.5h0m0.5-3.5h0m1-1h0m2 6h0m1 3.5h0m0.5-7h0m0 2.5h0m7.5-6.5h0m-126.5 15h0m80 7h0m8.5-3h0m0.5-2h0m0.5 7.5h0m1-4h0m1 2h0m1-5.5h0m0.5 9.5h0m1.5-3.5h0m0.5-1.5h0m0.5-5h0m2 8h0m3.5-6h0m5 2h0m0.5 5h0m4.5-6h0m0 1.5h0m2-4h0m0.5 8.5h0m2 1h0m1.5-0.5h0m1-6h0m-185.5 17.5h0m0.5 3.5h0m137-9.5h0m8 2h0m32-5.5h0m2 3.5h0m3-2h0m0.5 4h0m5-4.5h0m-214.5 25h0m11.5-7.5h0m10 3.5h0m2-5.5h0m1 1h0m8.5-1.5h0m0.5 10.5h0m1.5-10.5h0m1.5 5.5h0m6.5-8h0m37.5 11h0m-86.5 12h0m4-6.5h0m11 9h0m4-9h0m1.5 10.5h0m0.5 0h0m11-8h0m10-4.5h0m23 1h0m32.5 2h0m63 5.5h0m-69.5 49h0" stroke="#354b9e" stroke-width="6.5" /><path d="M639 2366.5h0m6.5-3.5h0m-67.5 62h0m-2 5.5h0m1 1.5h0m13-1h0" stroke="#f58620" stroke-width="6.5" /><path d="M651 2263h0m50.5 34.5h0m-8 18.5h0m79 12.5h0m-106.5 27.5h0m1 1.5h0m5 1h0m-14.5 7.5h0m3 3.5h0m7.5 0h0m7-10h0m8.5 0h0m-48.5 24h0m2 0.5h0m6.5-7.5h0m15-1h0m-28 18.5h0m-176.5 29.5h0m15-0.5h0m96 0h0m18 6.5h0" stroke="#f6e934" stroke-width="6.5" /><path d="M723 2273h0m-45 17.5h0m4.5 25h0m-22 29h0m-145 45h0m3 1h0m-46 17.5h0m22.5 6h0m117-3.5h0m2 3.5h0m10-1h0m-141.5 3h0m125.5 7.5h0m3.5-4h0m1 3h0m0.5-2.5h0m7.5 5.5h0m4-6h0m-7.5 17.5h0m3.5-0.5h0m4-6h0" stroke="#5b87c5" stroke-width="6.5" /><path d="M686 2285h0m17.5 18h0m-220 97h0m-27 12.5h0m1.5 11h0m44-8h0m75 8.5h0" stroke="#d4e281" stroke-width="6.5" /><path d="M715.5 2286.5h0m14.5-8.5h0m-58.5 15.5h0m-19.5 17h0m-12 25h0m48.5 3.5h0m68.5-4.5h0m-16 14h0m-83 23.5h0m1-2.5h0m2.5-5.5h0m5 7.5h0m-28 3.5h0m2.5 1.5h0m-178.5 44.5h0m148 0h0m-37.5 9.5h0" stroke="#b4d8ca" stroke-width="6.5" /><path d="M713 2288h0m-49.5 13h0m48 1h0m-84.5 69.5h0m-87 7.5h0m37-1.5h0m37.5 8.5h0m-147.5 22h0m145.5 6h0m-140 10h0m92.5 1h0m11 2.5h0m12-1h0m28.5-5.5h0m-139 8.5h0" stroke="#8ab8db" stroke-width="6.5" /><path d="M582 2422h0m-14 9h0" stroke="#e9281f" stroke-width="6.5" /><path d="M552 2425h0m11-1h0m3 2h0m-1.5 4h0m2 2h0m33.5-0.5h0" stroke="#fab224" stroke-width="6.5" /><path d="M582.5 2427.5h0m-20.5 2h0m18.5-0.5h0" stroke="#fcd426" stroke-width="6.5" /><path d="M565.5 2431.5h0" stroke="#ef5720" stroke-width="6.5" /><path d="M648.5 2259h0m17.5 0h0m-23 3.5h0m4 1h0m0 11h0m2-4h0m1-5.5h0m2.5-2h0m3 3h0m5.5 0h0m0.5-2.5h0m1.5 8h0m1-9h0m0.5 3h0m1.5 0.5h0m1.5-1.5h0m1 2.5h0m1-6h0m2 5h0m0-1.5h0m1 7.5h0m3-1.5h0m1-4.5h0m2 4h0m0.5 2.5h0m8.5 0.5h0m5.5-4.5h0m0.5 5.5h0m4 0.5h0m7.5-3.5h0m2.5 4h0m2.5-6.5h0m1.5 0h0m0 5.5h0m2.5 0h0m6-1.5h0m0 2h0m2-1.5h0m2.5-2.5h0m7.5 4h0m-78.5 2.5h0m5-0.5h0m2 9.5h0m11-10.5h0m4.5 3h0m1.5 5h0m3 4.5h0m7-2.5h0m0.5 2h0m0.5-3h0m0.5-9h0m0.5 10.5h0m0.5 2h0m1-3.5h0m2.5 1h0m2-8h0m0.5-1h0m1 4.5h0m0-3.5h0m2 6h0m0.5-6h0m0.5 9.5h0m1.5-6h0m4.5 4h0m1 2h0m0-9.5h0m0 3.5h0m3.5 3.5h0m0.5 0h0m4 3h0m3-1.5h0m0-2h0m3 1h0m0.5-8h0m0-1.5h0m1.5 6.5h0m0.5-1.5h0m1-2h0m0 6h0m1-3h0m2.5 6.5h0m4-9.5h0m-73.5 21h0m4-8.5h0m3-1h0m4.5-0.5h0m3.5 5.5h0m0.5 7.5h0m0-4.5h0m1.5-2h0m0 6.5h0m1-12.5h0m1.5 7.5h0m2-3h0m1.5 3h0m0.5-6h0m0 7.5h0m1 0h0m0-8h0m1 2h0m4 3.5h0m0 1.5h0m0.5-6h0m1.5-2.5h0m0.5 12h0m0-10.5h0m0.5 10.5h0m0.5-3.5h0m0-3.5h0m0.5 5h0m1-10.5h0m2.5 10.5h0m0-8.5h0m0.5 5h0m0 3.5h0m0-8h0m1.5 8h0m1.5 3h0m1-8.5h0m1.5-5h0m0.5 2.5h0m4.5 9.5h0m0.5-9.5h0m0.5 3h0m0 5h0m0.5-2.5h0m1 4h0m0.5 0h0m0-7.5h0m0.5 0.5h0m3 1h0m0 4.5h0m0.5-6.5h0m0.5 3.5h0m1 6h0m0.5-7.5h0m0.5-0.5h0m0.5 5h0m0.5-3h0m1-4h0m1.5 5.5h0m0.5-6h0m2 1h0m0 2h0m4.5-0.5h0m0.5-5h0m2 2.5h0m-82.5 24h0m3-4h0m6 3.5h0m4-1h0m1.5-5.5h0m1 0.5h0m4.5-6h0m0.5 10.5h0m0-10h0m1 0h0m3.5 0h0m2 7.5h0m0.5-6.5h0m0 2h0m2 3.5h0m1.5-1h0m1.5-2h0m0 3h0m2-1.5h0m1-5h0m1 7h0m0-5h0m1.5 4h0m2 1h0m0-6.5h0m0.5 3h0m0.5 6.5h0m1.5-4.5h0m1 7h0m1.5-4.5h0m0.5-2h0m1-6h0m1.5 8h0m1 3h0m0.5-8.5h0m0.5 3h0m0.5-5h0m0.5 3.5h0m11 3.5h0m1.5 0h0m0-3h0m2.5 0h0m1-2.5h0m3 4h0m1-4.5h0m2-1h0m0.5-1.5h0m1.5 5h0m3.5 0h0m6.5-2.5h0m3.5 5h0m2.5 5.5h0m1.5-8.5h0m12.5 8.5h0m-116 13h0m0-4h0m3 2h0m0.5 2.5h0m0.5-6.5h0m2-5h0m0.5 7h0m0.5-8h0m2 6h0m0 2h0m2 0.5h0m5.5-5.5h0m11 1.5h0m1 3h0m2-1h0m1-3h0m1 5h0m4-5.5h0m8 2h0m4 8h0m1-10h0m2 8.5h0m2-1.5h0m0.5-5.5h0m6-4h0m1.5-0.5h0m0.5 1h0m0 3.5h0m10-0.5h0m5-1.5h0m4.5 7.5h0m39 1.5h0m4.5 0.5h0m2-7.5h0m-136.5 17h0m6.5-6h0m3.5-1h0m13.5 3.5h0m31.5 3h0m1.5-3.5h0m4.5 4h0m5-3h0m0.5 8h0m26-5.5h0m6 7h0m6-1.5h0m3.5 0.5h0m2-5.5h0m9.5 4.5h0m4 0.5h0m2.5-4h0m0 2.5h0m3-11h0m2 12h0m1.5-10h0m1 10.5h0m0.5-1h0m0-9.5h0m1.5 5.5h0m1.5-1h0m2.5-2.5h0m7.5-1h0m2.5 9.5h0m3.5-10h0m-129.5 19h0m12 6h0m8.5-9.5h0m4.5 0.5h0m15 8.5h0m20.5-10.5h0m2.5-1.5h0m5 2h0m10.5 1.5h0m1-1.5h0m0.5 2h0m1.5-0.5h0m0-2.5h0m11.5-0.5h0m5 1h0m1.5 1.5h0m1.5 0.5h0m0-4h0m6 6.5h0m6-1h0m1-3h0m6-2.5h0m0.5 4.5h0m1-3.5h0m3 3.5h0m3-2.5h0m3.5-1.5h0m-65.5 13.5h0m-113.5 25h0m17-5.5h0m-130 21.5h0m11-3.5h0m1 3h0m0.5-3.5h0m1 2h0m2.5 2h0m5-3h0m2.5-7h0m0.5 2h0m8.5 0.5h0m0-2.5h0m2.5 0h0m34.5 9.5h0m-101 14h0m2-2.5h0m4.5-2.5h0m0 3.5h0m1.5 0h0m2-4h0m1.5 6h0m0.5-11h0m1.5 5.5h0m2.5 0.5h0m3.5-1.5h0m1-3.5h0m2 5h0m0.5 3.5h0m1-11.5h0m0.5 10.5h0m2-3h0m1.5-6h0m0 2.5h0m0 9h0m2-11h0m0 4.5h0m1-1.5h0m3-4h0m2.5 4.5h0m3.5 0h0m10.5 0h0m10-5.5h0m25 5h0m1 7.5h0m-92 2.5h0m1 4h0m0.5 5h0m1.5-9h0m3 1h0m1 7.5h0m0 2.5h0m0-11h0m1 0h0m1.5 0h0m1 11.5h0m0.5-5.5h0m1.5 3h0m1-8h0m1.5 3h0m0-2h0m0.5 10h0m1-5.5h0m0.5-1.5h0m1.5 4h0m0.5-5h0m0.5 2h0m0.5-6h0m0 12h0m1.5-13.5h0m0 10.5h0m0-1.5h0m0-5.5h0m0.5 0.5h0m0.5 7h0m1.5-10.5h0m0 5h0m0.5 1.5h0m0.5 2.5h0m4-0.5h0m2-3h0m3 4h0m0-5h0m0.5 7h0m0-10h0m0.5 5h0m0.5 2.5h0m4-7h0m1.5-1h0m2.5 1h0m5.5-2.5h0m0.5 2h0m7 0h0m34 8.5h0m2-3.5h0m-81 7.5h0m4.5 0h0m75 12h0m-2.5 32.5h0m2.5 5h0m1.5-5h0" stroke="#2b3990" stroke-width="6.5" /><path d="M652.5 2259h0m19.5 1h0m-27.5 7h0m1.5-5h0m1 8.5h0m10-6.5h0m3 5.5h0m2.5 5h0m4.5-12.5h0m8 7h0m1.5-1h0m6.5-1.5h0m0 6h0m0.5-3h0m24 2.5h0m3 0h0m0.5-5h0m3.5 0.5h0m2 5.5h0m1-6h0m-62.5 21h0m1.5-5h0m35 5h0m0.5-7.5h0m6.5 5h0m1.5-8.5h0m0 7.5h0m1.5-5.5h0m1 4h0m2.5 0h0m1 2h0m4-8h0m9 0.5h0m1 10.5h0m0.5-5h0m7.5-7.5h0m-62 22h0m5.5-3h0m2 7.5h0m12-7h0m2.5-6h0m2.5 11h0m1.5-9.5h0m1 1.5h0m1 2h0m0.5-2h0m0.5 9h0m6.5 0h0m0-3.5h0m2.5 1h0m9 1h0m1.5 3.5h0m4-1h0m15.5-4.5h0m-84.5 19.5h0m2.5-0.5h0m0.5-4.5h0m8-7h0m1.5 2.5h0m2-4.5h0m2 3.5h0m1.5 0h0m6.5 7h0m6-1.5h0m11.5-9h0m11 4h0m0 10h0m1.5-3.5h0m6.5-3.5h0m-70 15.5h0m46 0h0m1-4h0m7.5 1.5h0m0.5 3.5h0m56-5h0m18.5 5h0m6.5 1.5h0m0.5 2h0m-141.5 4h0m23-0.5h0m10 9.5h0m14.5-4.5h0m8.5-4.5h0m1.5 9h0m26.5-7h0m3.5 7.5h0m1.5-0.5h0m13.5-8.5h0m1 8.5h0m16-8h0m0 3.5h0m8-5.5h0m5 7.5h0m3.5-1h0m5.5 3.5h0m3-3.5h0m-133.5 19.5h0m4-3h0m18.5 1.5h0m2-1h0m68-9.5h0m3.5 5h0m1-2.5h0m4 2.5h0m6.5-3h0m-95.5 13h0m1.5 10.5h0m1-5h0m2-2.5h0m0-1.5h0m1.5 6h0m0-4h0m2 1.5h0m0.5-3h0m0.5 4h0m0.5-8.5h0m0 5.5h0m2-4h0m10 0h0m-91 21h0m50.5-3h0m6.5-1h0m0-4h0m0 6.5h0m2-1h0m0.5 1.5h0m5.5 4h0m2-3h0m1 1.5h0m1-5h0m2-3.5h0m2 7h0m3-1h0m0 6h0m8-13h0m-184 24.5h0m14-2h0m3 2h0m20.5-6h0m11 3.5h0m51 1h0m48.5-7h0m6.5-2h0m0.5 2.5h0m0-1h0m5-2.5h0m9 1h0m0.5 1.5h0m6.5 3.5h0m3.5-4h0m-217 24.5h0m6-4.5h0m1.5-1.5h0m1.5 4.5h0m5-2.5h0m0-4h0m1.5-1.5h0m2 4.5h0m4-7.5h0m0 12h0m1.5-11h0m0 8h0m10.5 4.5h0m6-5h0m1.5 2.5h0m8 1.5h0m4.5-2.5h0m0-4h0m57.5-4h0m-107.5 12h0m6.5 7h0m2.5 3.5h0m8.5-5.5h0m0.5 1h0m2.5-4h0m1.5 5h0m1-3.5h0m3.5 6h0m4-3.5h0m12.5-5.5h0m10.5 3h0m43.5 0.5h0m-86 11.5h0m155.5 1.5h0m-80.5 40.5h0m0 3.5h0" stroke="#354b9e" stroke-width="6.5" /><path d="M643.5 2363.5h0m-42 66h0" stroke="#f58620" stroke-width="6.5" /><path d="M683.5 2301h0m11.5-7.5h0m0-4.5h0m-2.5 20h0m7 3h0m0.5 3.5h0m19.5 0.5h0m26 35.5h0m-126 34h0m6.5-2h0m-131 13.5h0m115.5-6.5h0m3.5 0.5h0m5 8h0m-133 11.5h0m126 2h0m6.5 13.5h0m0.5 2.5h0m3-4.5h0m2 4.5h0m-10.5 5.5h0m2.5-3h0" stroke="#5b87c5" stroke-width="6.5" /><path d="M699 2284h0m-6 31h0m5.5-6.5h0m-56.5 19h0m132 2h0m-155.5 69.5h0m-145 3.5h0m1 2.5h0m140.5 7.5h0m4.5-3h0m3.5 5h0m-154 12h0m108 2.5h0m25.5-4h0m6.5-3.5h0m6.5-2h0m1.5-2h0m2.5 4h0m0-4h0m1.5-1h0m-6.5 15.5h0m9.5 2.5h0" stroke="#8ab8db" stroke-width="6.5" /><path d="M718 2268h0m-32 10.5h0m37.5-0.5h0m-70 89h0m-12.5 19.5h0m1.5-5.5h0m14-7.5h0m7 1.5h0m5-1.5h0m-36.5 14.5h0m-157.5 32.5h0m86 7.5h0m55-13h0m-24 14.5h0" stroke="#f6e934" stroke-width="6.5" /><path d="M701.5 2281h0m-25.5 38h0m98 7h0m-97 31.5h0m80.5-9.5h0m-97 12.5h0m1.5 6h0m0-6.5h0m15 2.5h0m-13.5 14.5h0m3.5 6h0m-193 21.5h0m92.5 23.5h0m6 0h0m21.5 2.5h0" stroke="#b4d8ca" stroke-width="6.5" /><path d="M612.5 2417.5h0m6.5-2h0m-7 20h0m8-4h0m1.5 3.5h0" stroke="#4566b0" stroke-width="6.5" /><path d="M554.5 2428h0m14.5-4h0m3.5 1.5h0" stroke="#fab224" stroke-width="6.5" /><path d="M580 2431h0" stroke="#ef5720" stroke-width="6.5" /><path d="M685.5 2303h0m91 36.5h0m-223.5 36.5h0" stroke="#d4e281" stroke-width="6.5" /><path d="M487 2418.5h0m74 6h0m3.5 4h0m12.5-2h0" stroke="#fcd426" stroke-width="6.5" /><path d="M564 2426.5h0m10.5 3h0" stroke="#e9281f" stroke-width="6.5" /></g><text x="447.8" y="2244" font-size="23.6" >CD206/MRC1</text><text x="536.3" y="2510.7" font-size="22.5" >Expr.</text><rect x="617.0" y="2495.9" width="77.5" height="15.6" fill="url(#jet)"/><text x="623.6" y="2539.4" font-size="22.5" text-anchor="middle" >0</text><text x="673.8" y="2539.4" font-size="22.5" text-anchor="middle" >4</text><g stroke-linecap="round" fill="none"><path d="M994 2259.5h0m8.5 10.5h0m22.5 4h0m8.5-2h0m-25.5 6.5h0m26.5 1.5h0m-25 10.5h0m27 11.5h0m11-7.5h0m-4 21.5h0m4.5-6h0m-19 8h0m78 25.5h0m-214.5 81h0m-93.5 5h0" stroke="#b4d8ca" stroke-width="10" /><path d="M992 2260h0m11.5 0h0m-23 8h0m8.5-2h0m4-2.5h0m7 9.5h0m12.5-0.5h0m6-4h0m7.5 4h0m1.5-2h0m5.5 4.5h0m6-5h0m12.5 4.5h0m4.5-4h0m7.5 4h0m-62 5h0m4 2.5h0m12 5.5h0m2 0h0m0.5-3h0m5-6h0m2-1h0m9 6.5h0m1-8h0m4 1h0m1 7.5h0m9.5 1.5h0m3-11h0m4 11h0m2.5-2.5h0m1-5.5h0m-69.5 24h0m6.5-1.5h0m6-0.5h0m0-5h0m0.5-1.5h0m2-2h0m1-1.5h0m4 3.5h0m3.5 3.5h0m1-5.5h0m2 8.5h0m2.5-10.5h0m4 4.5h0m4.5-1h0m3-4h0m1 6.5h0m1.5 3h0m9-3.5h0m0 4.5h0m0 0h0m1-3h0m1 4.5h0m5-9h0m1 4h0m5.5-1.5h0m7.5 3h0m0-3h0m-81 17.5h0m9.5-8.5h0m4.5 10.5h0m1-10h0m23.5 11.5h0m1.5-11.5h0m0.5 0h0m2 11h0m8-7.5h0m3-2.5h0m9.5-1.5h0m23.5 4h0m21.5 8.5h0m-119 11.5h0m10-6h0m0-1.5h0m10.5 4.5h0m11.5-5.5h0m9 7h0m6 1h0m1.5-2.5h0m49.5-2.5h0m-124 22.5h0m36-4.5h0m25.5-7h0m5 0h0m53.5 9.5h0m9.5-1.5h0m26 0h0m0.5-3.5h0m1.5-3.5h0m0 8h0m0-3.5h0m1 4h0m2.5 0.5h0m-23 6h0m3.5-1h0m0.5 4.5h0m4.5-6h0m10 0h0m4.5 1h0m-184.5 18.5h0m-112.5 33.5h0m5.5 1.5h0m2-5h0m7.5 1h0m8-0.5h0m6.5 1h0m5.5-6.5h0m54-2h0m19.5 8h0m-135.5 16.5h0m4.5-4.5h0m0.5 0.5h0m1 2h0m0.5-4h0m4.5 5h0m2-7h0m0.5 9h0m1.5-3h0m1-5h0m1 6h0m2-5.5h0m1 2.5h0m0-8.5h0m1.5 6.5h0m0-2.5h0m1.5 2h0m2-3h0m0.5 4h0m4.5-5h0m2 11.5h0m0-9h0m2 2.5h0m4-5.5h0m0 1.5h0m2.5 0h0m1.5 10h0m2-7h0m1 4.5h0m2.5-5h0m3 0.5h0m5-3h0m2 3.5h0m33 6.5h0m-92.5 11h0m1.5-5.5h0m0 3.5h0m0.5 2.5h0m3 1h0m6-2h0m1-8h0m3.5 12h0m0-12h0m0.5 2h0m4 4h0m1.5 1.5h0m0 2.5h0m0.5-11.5h0m0 9h0m1.5 2h0m0 2.5h0m0-6h0m1-2h0m2.5-0.5h0m1 8h0m2-11h0m0 6h0m2 4.5h0m14.5-6.5h0m3-6h0m18 1.5h0m-54 13h0m2 1h0m4.5-1h0m10.5-0.5h0" stroke="#4566b0" stroke-width="10" /><path d="M984 2259h0m3.5 1.5h0m27 6h0m25 5.5h0m0 3h0m2.5-3h0m1-2.5h0m2.5 4.5h0m1.5-5.5h0m3.5 2h0m1 2h0m2-3h0m1.5 4h0m3 1h0m-71.5 13.5h0m1-2.5h0m4.5 0.5h0m20 2h0m1 1h0m3-1.5h0m0 1.5h0m1.5-2h0m2.5-4h0m3.5 5h0m1-3h0m1 2h0m4.5-1.5h0m1-4h0m0.5 5.5h0m2 1.5h0m3-10h0m1 6.5h0m1-7.5h0m0.5 11.5h0m2.5-3.5h0m0-2.5h0m1 1.5h0m2-3h0m1 5h0m1.5 0h0m1 1h0m2.5 0.5h0m2-8.5h0m0-1.5h0m0.5-2.5h0m1.5 13h0m0.5-4h0m2-3h0m2.5 6.5h0m5.5-7h0m-73 20h0m2-10h0m1.5 10h0m1.5-11h0m2 7h0m2 2.5h0m2-2.5h0m0 5.5h0m0-8h0m1 5h0m1-3.5h0m2 0h0m0.5 4.5h0m1-5.5h0m3 5h0m0.5-5.5h0m1 3h0m0.5-2.5h0m1 4h0m0 1.5h0m0.5 0.5h0m0.5-10h0m3.5 8.5h0m0.5-1.5h0m2.5 3.5h0m0.5 0h0m1.5 0h0m0.5-9.5h0m2-3h0m0.5 10.5h0m2-5h0m1-1.5h0m1.5 1h0m1.5 3.5h0m5-7h0m0.5 10h0m0-9h0m1 5.5h0m0.5 0.5h0m0-4h0m1 7.5h0m1.5-10h0m1 11h0m2-10.5h0m0.5 11.5h0m1.5-4.5h0m2.5 3.5h0m1.5-6h0m4-1.5h0m0.5-5h0m0.5 6h0m10.5 4.5h0m-85.5 17h0m2-6.5h0m0 6h0m6-4.5h0m3-6h0m1 1.5h0m0.5 2h0m1.5-2.5h0m1.5 3.5h0m0.5-4h0m1.5 2h0m4.5 0.5h0m0.5 4.5h0m1-5h0m5-0.5h0m0.5 4h0m0.5-7h0m2.5 2.5h0m0.5 5.5h0m0.5-2h0m1.5 1.5h0m1.5-2h0m0.5 0.5h0m1 4.5h0m0-11h0m1 3.5h0m1.5 8.5h0m0.5-11h0m1 6.5h0m0-7.5h0m1.5 1.5h0m3 2h0m0.5-1.5h0m0.5-2h0m2 7h0m0.5-4.5h0m0.5 8h0m0-9h0m1-2.5h0m0 2h0m1.5 1h0m1 4.5h0m0.5-7h0m2.5 7h0m0.5-5.5h0m1.5-1.5h0m0.5 5.5h0m1 2h0m4.5-1.5h0m0-5h0m3 0.5h0m2.5-2.5h0m1.5 5h0m3.5 0h0m10 2.5h0m0.5-6.5h0m2 12h0m-98.5 13.5h0m0.5-6.5h0m6.5-3h0m22 5.5h0m0.5-3.5h0m7.5-3h0m8 1.5h0m1.5-0.5h0m0.5 3.5h0m1 5h0m2.5-7h0m1.5 6.5h0m1.5 2h0m3-9.5h0m1.5 3h0m0.5-6.5h0m1 2.5h0m0.5 1.5h0m8.5 0h0m9.5 6h0m35.5-6h0m11 7.5h0m8-1h0m2.5 2h0m3-1.5h0m-143.5 15h0m6.5-7.5h0m20.5 9h0m6-3h0m0.5-5.5h0m1.5 7h0m8-5h0m6.5-3.5h0m0 4h0m2 2h0m2-2h0m2.5-6.5h0m1 1.5h0m1.5-1h0m7.5 8.5h0m1-3.5h0m9.5 7h0m8.5-6.5h0m4.5 5.5h0m7 0h0m0.5 0h0m4 0.5h0m0.5-4h0m1-1.5h0m0.5 2.5h0m2-1h0m1.5-1.5h0m5 1h0m4 3h0m3-5h0m1.5 6h0m2-3.5h0m3-7h0m1 8h0m1.5-0.5h0m0.5-8h0m3 4.5h0m5-2.5h0m1 2h0m0.5-5h0m0.5 8h0m0.5-4.5h0m1.5 9h0m1-12.5h0m1 1h0m4.5-0.5h0m-129.5 21h0m9.5 0h0m7.5 4.5h0m2.5-8.5h0m5 0.5h0m5.5 1h0m14.5 7h0m14-8h0m1-2h0m3.5 1.5h0m16 1h0m14-0.5h0m1 1.5h0m1-3.5h0m3 3h0m2-5h0m3.5 6.5h0m2.5 0h0m2.5-3h0m9.5 3h0m0-3.5h0m-134.5 14h0m23 6h0m0 1.5h0m4-2.5h0m2-2.5h0m0.5 3h0m1-5h0m0.5-2.5h0m0 5h0m1.5-3h0m0 4.5h0m0.5-3h0m0.5-2.5h0m0.5-2h0m0 10h0m1-7h0m0.5 5h0m1-6.5h0m0 10h0m0.5-7h0m0 2.5h0m5 1.5h0m7.5-8.5h0m-131.5 15.5h0m1 1h0m51.5 8.5h0m26.5-4h0m1.5 1.5h0m7.5-3h0m0.5 0h0m0.5-2h0m3.5 0h0m0.5 9.5h0m1-1h0m0-7.5h0m6.5 7.5h0m3-1h0m1.5-1h0m1.5 2h0m2-10h0m2.5-2.5h0m0 6.5h0m1-2.5h0m1 4h0m0.5 4.5h0m3-12h0m-185 26.5h0m29-7.5h0m11-2h0m23-2.5h0m90.5 2h0m9-1.5h0m3-1.5h0m11.5 4.5h0m1.5-3.5h0m3 5h0m2.5 0.5h0m-193.5 20h0m1-3.5h0m3.5-0.5h0m1-8h0m1 11.5h0m0-1.5h0m0-8.5h0m19.5 4.5h0m4 0.5h0m1-6h0m-29 17h0m2.5 5h0m6.5-5.5h0m0 7.5h0m1 1h0m1-2.5h0m0-6h0m7-2.5h0m4-0.5h0m10.5 1.5h0m22.5 1h0m11-3h0m2 7h0m-66.5 7.5h0m66.5 37h0m-2.5 9.5h0m1.5 1.5h0m1.5 1h0" stroke="#354b9e" stroke-width="10" /><path d="M988 2257.5h0m-11 12.5h0m2.5-4.5h0m3-2.5h0m4.5 3h0m7.5 5.5h0m1-9h0m3.5 2h0m9.5 3.5h0m2 4.5h0m21 1.5h0m-49.5 2.5h0m8 0h0m-207 137h0m8.5-0.5h0m5.5-3.5h0m3 5h0m-18.5 2h0m1 6.5h0m1-6.5h0m0.5 4h0m4 3h0m1.5-7.5h0m0.5 5h0m0 3.5h0m1.5 1h0m0.5 3.5h0m1-3.5h0m0.5-3.5h0m3-5h0m0.5 8h0m135 6.5h0" stroke="#5b87c5" stroke-width="10" /><path d="M987.5 2264.5h0m0 3.5h0m26.5 18h0m39.5-2h0m9.5-2h0m0 4.5h0m-60.5 9h0m17-6.5h0m2.5 2h0m4.5 2.5h0m4.5 9h0m16-7.5h0m6.5-2h0m-69 15h0m10.5 5.5h0m18-7.5h0m9.5 3h0m4-3.5h0m2.5-1h0m9.5 5h0m-31 11h0m91.5 0h0m-28.5 22.5h0m16-4.5h0m-84 18h0m69.5-9.5h0m7-0.5h0m-84.5 17h0m-90 20h0m68.5 1h0m2-11h0m16.5 1.5h0m3 6h0m-171 15h0m-12 10.5h0m27 6.5h0m-47.5 6.5h0m0.5-1.5h0m11.5 10.5h0m3-8h0m3 8h0m1-11.5h0m90.5 7h0m1 3.5h0m5-1h0m15 4.5h0m5.5-2h0" stroke="#8ab8db" stroke-width="10" /><path d="M972.5 2356h0m-21 42.5h0m4.5 5.5h0m-15 17.5h0m3 1h0m0.5-2.5h0m2.5-0.5h0m2.5 1h0m5.5 0.5h0m-3.5 10.5h0" stroke="#ef5720" stroke-width="10" /><path d="M980 2362h0m-22.5 21.5h0m-7 15.5h0m2.5 14.5h0m1.5 1h0m-2 2h0m-7.5 17.5h0m6 1h0m1 1.5h0" stroke="#f58620" stroke-width="10" /><path d="M976 2264.5h0m0.5 6.5h0m1.5-9h0m0.5 8.5h0m2.5 1.5h0m3-9h0m0.5 8h0m6.5-7h0m13 9.5h0m3-4.5h0m6-6h0m2 9.5h0m-26.5 3h0m43 1.5h0m-57 90.5h0m-26 25h0m-161 29.5h0m104.5 6h0m7.5 0.5h0m1.5 3h0m1 1.5h0" stroke="#d4e281" stroke-width="10" /><path d="M947 2392.5h0m5 17h0m-1 13.5h0m-3.5 12h0m4.5-1h0" stroke="#fab224" stroke-width="10" /><path d="M994.5 2258.5h0m-13 6.5h0m25.5 5.5h0m4.5-7h0m8.5 6.5h0m2.5-1.5h0m9 6.5h0m-58.5 92.5h0m-27 18.5h0m-60 42h0m22.5-4h0m0 2.5h0m9-7.5h0" stroke="#f6e934" stroke-width="10" /><path d="M939.5 2423.5h0m7.5 3h0m3.5 2h0m0.5-11h0m4.5 0h0m-12 18h0" stroke="#e9281f" stroke-width="10" /><path d="M980.5 2357h0m-26.5 28.5h0m-12 5h0m4 0.5h0m-31.5 20.5h0" stroke="#fcd426" stroke-width="10" /><path d="M978.5 2274.5h0m30.5-9.5h0m6 4.5h0m27.5 2.5h0m3-0.5h0m2.5 1.5h0m3 1h0m-64 2.5h0m1 6.5h0m21 0.5h0m8.5 1.5h0m3.5 1h0m1.5-1.5h0m0.5 3h0m0.5-7h0m1 1.5h0m0.5 6.5h0m2.5-12h0m1 9h0m0.5 0h0m2.5 1h0m1.5-5.5h0m1 2h0m3.5 2h0m0.5-1h0m3.5-7h0m0.5 3h0m0.5 1.5h0m1 5h0m0-5h0m1 6.5h0m2-0.5h0m2-1h0m0.5-7.5h0m1 5h0m0.5-2.5h0m0.5-1.5h0m0.5 8h0m0.5-5h0m1 6h0m0.5-9h0m1 2h0m0-5.5h0m1.5 11.5h0m0-3.5h0m1.5-5h0m0-2.5h0m0.5 6.5h0m5.5-5h0m1.5 6.5h0m0.5-9.5h0m-73 17h0m1.5 7.5h0m0 2.5h0m1.5-4h0m1 3.5h0m1-2.5h0m2.5-4h0m3-2h0m2 8.5h0m1-2h0m1-6h0m1 4h0m0.5 1h0m1-1.5h0m2.5-1.5h0m1.5 0h0m0 3h0m2-6h0m0.5 6h0m6 1h0m2.5-11h0m2.5 12h0m0.5-3h0m0.5-6.5h0m0.5 2h0m0.5 9h0m2.5-3h0m0.5 3h0m3-8.5h0m1.5 1.5h0m0 4h0m1-2h0m1.5-3h0m0.5 0.5h0m1 6h0m2.5-3h0m0 4h0m0.5-9.5h0m1 5.5h0m1.5-4h0m3 2.5h0m1 5.5h0m4-8.5h0m0 1.5h0m0-5h0m5 5h0m0.5 6.5h0m1.5-9.5h0m-82.5 24h0m2-0.5h0m6-11.5h0m1.5-0.5h0m0.5 3h0m4 2.5h0m1.5 6.5h0m1-7h0m4-4.5h0m0 12h0m2.5-12h0m0.5 1.5h0m3.5 1.5h0m2.5 5.5h0m1.5-2h0m1 0h0m1 1.5h0m2-8h0m1 8.5h0m1-7.5h0m0 0h0m1.5 1h0m2.5-3h0m2.5 4.5h0m2 1.5h0m1-1h0m0 8h0m3-6.5h0m1-1.5h0m1 0.5h0m0.5-4.5h0m1.5 5.5h0m0.5 2h0m0-0.5h0m1-6h0m1 12h0m1-3.5h0m3.5-4.5h0m3-0.5h0m0-5h0m0 6.5h0m1-4h0m3.5-1h0m1.5 0h0m3.5-0.5h0m0 11.5h0m12.5-7.5h0m4.5-3.5h0m15 11h0m-116.5 13h0m6-6h0m0.5 2h0m0.5-8h0m4 6h0m0 2.5h0m17.5-1h0m0.5-2.5h0m1.5 1.5h0m0.5-5.5h0m13.5 4h0m12.5 2h0m2-3.5h0m0.5 2.5h0m0.5 3.5h0m4-3h0m4.5-4h0m8.5 0h0m5 7h0m29.5 1h0m12-1.5h0m15 0h0m3 4h0m-144 5.5h0m1.5-1.5h0m5-3h0m21 13.5h0m20-12h0m1 5.5h0m4.5-4h0m1.5 1h0m4.5 2.5h0m35.5 5h0m1.5 0h0m2 1h0m1 1h0m10.5 0h0m9.5-2.5h0m2-8.5h0m1.5 8.5h0m1.5 1h0m0-8.5h0m2.5 1.5h0m0.5 6.5h0m0.5-11h0m3 9.5h0m1 2.5h0m0.5-6.5h0m1.5 2.5h0m1.5-4.5h0m1.5-2h0m1.5 10.5h0m1-10.5h0m6 11h0m-115 14h0m3-2h0m3.5 1.5h0m0.5-8h0m0.5 9.5h0m5.5-3.5h0m1 2h0m3.5-6.5h0m32-5h0m11.5 0.5h0m5 1.5h0m2 1.5h0m3.5 1h0m2.5-4h0m1 3h0m4.5-3h0m8 3h0m1.5 1.5h0m3 0h0m1-5h0m2.5 5h0m2-1h0m0.5-2h0m0-3h0m1 4h0m3-4h0m2 4h0m0-3.5h0m2.5 0h0m5 4.5h0m1-2h0m5-2h0m-168 25h0m41-4h0m1 1.5h0m3-2.5h0m0.5 6h0m1.5-6.5h0m0.5 7h0m1.5-8.5h0m3.5 5.5h0m0 1.5h0m1.5 0.5h0m6-10h0m4.5 1h0m-42 21h0m2 0.5h0m1.5-7h0m1 1h0m1.5-1.5h0m1.5 4.5h0m0-0.5h0m3.5-6.5h0m0.5 9h0m1.5-3.5h0m0.5 1.5h0m5.5-0.5h0m0 4.5h0m2-3h0m1-7h0m0.5 7h0m0.5-1.5h0m0-2h0m2 6.5h0m4-10h0m1 2h0m2 6h0m0.5 3.5h0m2.5-6.5h0m-183 20h0m0.5-2.5h0m12-0.5h0m6.5 1.5h0m2-4h0m0.5-1.5h0m22.5-0.5h0m30 5h0m71-9.5h0m12.5 1.5h0m14 0h0m5.5 2h0m3-2h0m5.5-0.5h0m-203 17.5h0m9 6.5h0m0.5-1.5h0m1-7h0m2.5 1h0m0.5 3.5h0m10 3h0m0.5-5h0m1 2.5h0m18.5-5.5h0m27 5.5h0m2-6.5h0m-64 12.5h0m1 1.5h0m3.5-1h0m3 5h0m3.5-1.5h0m3.5-3h0m2.5 1h0m7-2h0m3.5 2.5h0m30.5-2h0m6 9.5h0m7.5-6.5h0m-7 22.5h0m-2.5 34h0m0 1.5h0m1-4.5h0m0.5 2h0m0.5 2.5h0m0.5-2h0m2-1h0m1 2h0" stroke="#354b9e" stroke-width="10" /><path d="M976.5 2261h0m4.5 1.5h0m2.5 3.5h0m1 1.5h0m4 4h0m0-7.5h0m5.5 10.5h0m9.5-10h0m2-1.5h0m5 3h0m14 6h0m12-1h0m12.5-4h0m-35.5 14h0m1.5 5h0m2.5-7.5h0m1 10h0m8-4.5h0m4.5-0.5h0m0-6h0m2 1.5h0m7 1h0m6.5 7.5h0m1-3h0m0.5-3.5h0m0.5-4h0m6.5 3.5h0m-65 19h0m5-0.5h0m6-4h0m3.5-4h0m1.5 0.5h0m3.5 0.5h0m2 7.5h0m5.5-0.5h0m1.5-3.5h0m1 1h0m0.5-4.5h0m3 6h0m0.5-3h0m12 8h0m0.5-1.5h0m1.5-2.5h0m4-5h0m3 2.5h0m5-5.5h0m9 6.5h0m0.5-5.5h0m5.5-1h0m-68 23.5h0m0.5-2h0m0-4.5h0m2.5-1.5h0m1 6h0m0-2h0m2 0h0m3 3h0m0.5 1.5h0m3 0h0m1-9h0m1.5 2.5h0m9 1h0m8.5 1h0m2.5 5h0m1-6.5h0m5-5.5h0m6 12.5h0m0.5-7.5h0m2.5 0h0m20.5 3.5h0m-93 18.5h0m3-3.5h0m38.5 3h0m58-9.5h0m10 1h0m20.5 7h0m1.5-1h0m-124.5 7.5h0m39 4h0m24.5 5.5h0m7-8.5h0m4.5 9h0m1.5-1h0m15.5-1.5h0m6 1h0m6.5-3.5h0m9-4.5h0m1.5-4h0m2 2h0m13 0h0m0 11h0m-130 8h0m73.5-6h0m5.5-0.5h0m2.5 1h0m11.5 5h0m5-4.5h0m5.5 0.5h0m2-3h0m-196.5 40h0m31-3h0m12 2.5h0m-118.5 13.5h0m6 2.5h0m0-2h0m12 1.5h0m3.5 0.5h0m5.5-5.5h0m8.5-4.5h0m3 0h0m5 2h0m12.5 3.5h0m19 4h0m-97.5 10h0m2.5-3.5h0m0 8.5h0m1.5-4.5h0m0.5 2h0m0.5-8h0m5 1h0m0 3.5h0m4-2.5h0m2 1.5h0m0.5 5.5h0m0.5-6.5h0m0-2.5h0m1.5-3h0m0.5 8h0m0 0.5h0m2 2h0m6.5-5.5h0m3 3h0m0.5 5h0m4-12.5h0m5 11.5h0m4.5-2.5h0m0.5-4h0m4-2h0m33 1.5h0m-93 15h0m5.5-6.5h0m3 0h0m2.5 12h0m4-7.5h0m2.5 1h0m3 1h0m0.5-1h0m1-5h0m0 1h0m1.5 4.5h0m0.5-2h0m2-3.5h0m0 1.5h0m0.5 5h0m1 0h0m0-4.5h0m2.5 4.5h0m1 4.5h0m3-7.5h0m2-2.5h0m1.5 5.5h0m0.5 1.5h0m3.5-6h0m17-2h0m9 1.5h0m9-1.5h0m9.5 2.5h0m-65 11.5h0" stroke="#4566b0" stroke-width="10" /><path d="M991.5 2269.5h0m1-3.5h0m3.5 1.5h0m2-1.5h0m1.5 4h0m2.5 1.5h0m0.5-3h0m5.5-2.5h0m10 1h0m1 6h0m10 1.5h0m63 72h0m-306 66h0m2 0h0m0.5 1.5h0m2.5-3h0m1.5 3.5h0m2.5-6.5h0m19.5 6h0m-34 7h0m3 3.5h0m2-6h0m0 5h0m0 3.5h0m1-10.5h0m0.5 7.5h0m1-6h0m1 1.5h0m0.5 4h0m0.5-1.5h0m0 5.5h0m1.5-9h0m0.5 4.5h0m1-6.5h0m0.5 11.5h0m0.5-2h0m0.5-3.5h0m0 4h0m1-1h0m3.5 0h0m0.5-2.5h0m1-5h0m118.5 3h0m-10.5 11h0" stroke="#5b87c5" stroke-width="10" /><path d="M978.5 2263.5h0m16.5 2h0m3.5-3.5h0m11.5 8h0m4.5 7h0m9-2h0m-41.5 84.5h0m-31 26h0m2 1.5h0m-63 38.5h0m3.5 1.5h0m3-2h0m7.5 0.5h0m1.5-1h0m3 4.5h0m17 1.5h0m7.5-1h0" stroke="#d4e281" stroke-width="10" /><path d="M974 2266h0m25 6h0m15-4h0m45 4h0m-44.5 14h0m2.5 3h0m17-4.5h0m11-4h0m8-3.5h0m5.5 5h0m1.5-4.5h0m6.5-0.5h0m-60.5 25.5h0m0-4.5h0m4-2h0m6-1.5h0m1 0.5h0m3.5 0h0m14.5-1.5h0m1 3.5h0m14-7.5h0m5 4h0m-59.5 9.5h0m9 5h0m17 5h0m8-6.5h0m8 4h0m-41 8h0m2 2h0m10.5-2h0m9 7h0m11.5-4h0m2.5-3.5h0m49 6h0m21 5.5h0m-46 13.5h0m30.5 0.5h0m21.5-4h0m1.5 1.5h0m-122.5 8.5h0m114.5 0.5h0m-109.5 10.5h0m-120.5 18.5h0m116.5-5.5h0m6.5 0h0m6 12.5h0m-165 8.5h0m166.5-6.5h0m-203.5 20.5h0m8.5 6h0m5 0h0m5 0h0m-4.5 6h0m17.5-3h0" stroke="#8ab8db" stroke-width="10" /><path d="M944 2414h0m-26.5 11h0m16.5 0h0m9-5.5h0m7.5-4h0m1.5 12h0m2-9h0m-9 19h0m8-2.5h0m3-4.5h0" stroke="#ef5720" stroke-width="10" /><path d="M945.5 2414h0m-9 11.5h0m12-8h0m1.5 8.5h0m1-4.5h0m1 4h0m3-3h0m-7.5 8.5h0m2 2h0" stroke="#f58620" stroke-width="10" /><path d="M1021 2275.5h0m-44 87.5h0m-33.5 29h0m4-3.5h0m-43 39.5h0" stroke="#fcd426" stroke-width="10" /><path d="M976 2267h0m2.5 5.5h0m4.5 2.5h0m0.5 2h0m1.5 0h0m-7 82h0m-19.5 9h0m12.5-1.5h0m-13.5 15h0m-74 43.5h0m12.5 3.5h0m13.5-3.5h0m5.5 3h0m-21.5 1.5h0m12.5 0h0" stroke="#f6e934" stroke-width="10" /><path d="M958.5 2371.5h0m-6 43h0m3.5-1.5h0m1.5-0.5h0m-38 14h0m22.5-3.5h0m1-7.5h0m12.5 13h0m-0.5 4.5h0m1 1.5h0" stroke="#e9281f" stroke-width="10" /><path d="M997 2263h0m5 1.5h0m0-1.5h0m44.5 7h0m-18 7.5h0m6.5-2.5h0m2 6h0m7 16h0m0.5 11.5h0m-64.5 10h0m39 3h0m73 7.5h0m-22.5 13h0m-48.5 16h0m-220.5 51.5h0m6.5 19h0m74.5-5h0m15.5-0.5h0m16.5-1h0m-16 7.5h0m8 3.5h0" stroke="#b4d8ca" stroke-width="10" /><path d="M898.5 2428h0m49 1h0" stroke="#fab224" stroke-width="10" /><path d="M977.5 2267.5h0m8-6.5h0m9 7h0m28 3h0m10 2.5h0m-247.5 141.5h0m1.5 13.5h0m1-10.5h0m1.5-0.5h0m1.5-1h0m2 10h0m1.5-9.5h0m1 1h0m1.5-2h0m0.5 6.5h0m3.5 0.5h0m1 2.5h0m8.5-3.5h0m-19.5 8h0m108 2h0" stroke="#5b87c5" stroke-width="10" /><path d="M990.5 2260.5h0m-10 10h0m39.5-3h0m6 2h0m-31 12.5h0m36.5-2.5h0m15 1.5h0m-12 19.5h0m8.5 4.5h0m-79 27.5h0m103.5 1h0m16.5 2.5h0m-112.5 33.5h0m-179.5 42.5h0m11.5-7h0m-12.5 11.5h0m104.5 10h0m8-2.5h0m10 3.5h0m-9 3h0m3 0h0m7-1h0" stroke="#b4d8ca" stroke-width="10" /><path d="M973 2263h0m10 9.5h0m0.5-2.5h0m8 5h0m11.5-9h0m8 8h0m5-8h0m3-1h0m16 6h0m1.5 0.5h0m2.5 1.5h0m10-2.5h0m4.5 2.5h0m7.5 1.5h0m-58 1h0m25.5 5.5h0m2 0h0m4.5 7h0m0.5-9.5h0m7.5 2h0m4-1.5h0m5 3.5h0m0.5 2.5h0m2.5 1.5h0m1-8h0m-58.5 19h0m2 3.5h0m2-11.5h0m2.5 7.5h0m3.5 1h0m3.5-7h0m0.5 11h0m6.5-8.5h0m3.5 3h0m4.5-4.5h0m1.5 7.5h0m7.5-1h0m2-3.5h0m8.5-5.5h0m0.5 5.5h0m4.5 5h0m2.5-1.5h0m-77.5 18h0m27.5-12.5h0m14.5 9.5h0m3-7h0m4.5 8.5h0m0-2.5h0m4-0.5h0m2.5 0.5h0m8.5-3h0m48 3h0m-121 14.5h0m6-6.5h0m3 4.5h0m18 2h0m0.5-5.5h0m6.5 1.5h0m1.5-0.5h0m11 6h0m13.5-11h0m1 4.5h0m11 8.5h0m50.5-4h0m4.5-5h0m2.5 8h0m5-3h0m-149 9h0m15-1.5h0m0-2.5h0m16 9h0m6.5-7h0m21 7h0m13 3h0m14.5-7.5h0m8 8h0m24-8h0m1 5h0m5.5 2h0m9.5-12h0m6.5 6h0m2 6.5h0m2-2h0m15 1h0m-174.5 9.5h0m106.5-4.5h0m17.5 1h0m15.5 3h0m2 0.5h0m15-1h0m4.5-3.5h0m-198 24h0m146-12h0m-138 18h0m41 2h0m-133 18h0m21-4h0m7 1h0m7-2.5h0m1 1h0m2.5 0h0m40-5h0m-109 24h0m0.5-2h0m3 4h0m2-7h0m1.5-1h0m2 1h0m0 2h0m3.5-1h0m0-4h0m1.5 3h0m0.5 1.5h0m0-5h0m1.5 4h0m0 3.5h0m2-3h0m0.5 5h0m1-8.5h0m1 5.5h0m1.5 2h0m0.5-3h0m0.5 1.5h0m2.5 2.5h0m1-11.5h0m0.5 3h0m1 2h0m1 2.5h0m2.5 1.5h0m2-8h0m13-1h0m6.5 5.5h0m10.5-5.5h0m20.5 11h0m24-9.5h0m-111 13.5h0m3 10.5h0m8-3.5h0m1 4h0m0.5-2h0m1-8h0m1.5 8.5h0m0.5 1h0m0 1.5h0m1-4h0m1-3h0m0-3.5h0m0.5 8.5h0m0-4.5h0m0.5 6.5h0m1-10.5h0m1-1h0m1 11.5h0m0-3h0m0 3h0m0.5-10h0m3 6h0m1-3.5h0m0.5-2.5h0m0.5 7h0m0.5-0.5h0m2.5-0.5h0m1-6.5h0m0 3h0m1.5-5.5h0m0 5h0m0.5-4h0m0.5 6h0m0.5 2.5h0m0-5h0m3.5-5h0m16 0h0m47.5 4h0m-89.5 10.5h0m9.5 1.5h0m3.5-0.5h0m3.5-1.5h0" stroke="#4566b0" stroke-width="10" /><path d="M986 2259h0m10 6.5h0m8 6.5h0m35 3h0m1-5.5h0m0.5 3.5h0m1-4.5h0m1-1.5h0m0.5 1.5h0m3-1h0m0.5 7h0m1-8h0m1 3.5h0m1-2h0m3.5 1h0m0 2.5h0m0 0h0m1.5 1.5h0m0-4h0m0.5 3.5h0m-61.5 12h0m17.5-3h0m8 3h0m0.5 1h0m2 2.5h0m1.5-3.5h0m1 2.5h0m1-1.5h0m2 1h0m3.5-2.5h0m1 4.5h0m1-12h0m0.5 4.5h0m0 5h0m0.5-0.5h0m4.5-4h0m0.5 5.5h0m0-6h0m1-2h0m0.5 8.5h0m0-2h0m0-3h0m0.5-2.5h0m0.5 4h0m0.5-8.5h0m2.5 1h0m1.5 8h0m3-3.5h0m1 5h0m1-8.5h0m3.5 9.5h0m1-9h0m4 1.5h0m0.5-4h0m1 11h0m2-11.5h0m0.5 2h0m-70 22.5h0m7-10.5h0m1.5 12h0m4-4.5h0m0.5 1.5h0m0.5 2.5h0m1 2h0m0-7h0m0.5-2.5h0m2.5 8h0m0.5-9h0m2.5-0.5h0m1-0.5h0m3 5.5h0m2 6h0m4-8h0m0-4h0m0 9h0m0.5 1h0m1-6.5h0m0.5-2.5h0m0 5h0m0.5 0.5h0m1-6h0m2 8.5h0m1.5 0h0m0 3h0m2.5-1.5h0m0-3.5h0m0.5-6h0m0.5 0h0m1-1h0m1.5-1h0m1 3.5h0m1 8h0m0.5-1.5h0m0-3.5h0m0.5 6.5h0m2-8.5h0m0-0.5h0m0-3.5h0m1 1h0m1 9.5h0m1.5-7.5h0m1-1.5h0m0.5 11h0m1.5-3h0m0-5.5h0m0 8h0m1-10h0m0.5 0.5h0m1.5 5.5h0m0-6.5h0m0.5-1.5h0m0.5 4.5h0m2.5 5h0m0.5-3h0m2 0h0m1.5-7h0m2 5h0m-79.5 17.5h0m5.5-2.5h0m0.5 6h0m3.5-12h0m2 1.5h0m3.5 1h0m2-2.5h0m2.5 12h0m0.5-9.5h0m0 1h0m2.5-3.5h0m0.5 3.5h0m1 4.5h0m0.5-6.5h0m2 5.5h0m1.5-1h0m0.5-1h0m1-1h0m2 1.5h0m1.5 6.5h0m1-9.5h0m0 1h0m2.5-4h0m0.5 6h0m0.5-4.5h0m0 1.5h0m0 1.5h0m0.5 6.5h0m2.5-3.5h0m2-7.5h0m0 2h0m0.5 7h0m1 2.5h0m3 0h0m3-2.5h0m2 3h0m1-8h0m1.5 7h0m4.5-2.5h0m1.5 0h0m2-7h0m1.5 1.5h0m2 0.5h0m4 9.5h0m8.5-8.5h0m3.5-2h0m7 9.5h0m3.5-6h0m2.5 5h0m-107 16.5h0m1-3.5h0m2-1.5h0m4-2.5h0m27.5-3h0m18.5 9.5h0m8.5-12.5h0m2.5 10h0m42.5-8h0m12.5 9.5h0m0.5-1.5h0m3 0.5h0m0.5-9.5h0m7 6h0m8 5.5h0m-149.5 9h0m0-0.5h0m7.5 5h0m2.5-7h0m1.5-3.5h0m11.5 2.5h0m14 1h0m11 2h0m1-2.5h0m7 4.5h0m3-3h0m0.5-5.5h0m0.5 5h0m1-5h0m5 2.5h0m0 1.5h0m1 7.5h0m0.5-8h0m0-2h0m13 11.5h0m13-8.5h0m13.5 7h0m9.5-2h0m0-2.5h0m1.5 6h0m6-1h0m0.5-3.5h0m1.5-0.5h0m3-4.5h0m0.5-1.5h0m2-2.5h0m0 13.5h0m1-5h0m1 4h0m1-10.5h0m1 5.5h0m0.5 3.5h0m1-4.5h0m0-4.5h0m1 6.5h0m2-4.5h0m0.5 9h0m1-7h0m0.5 6h0m0.5-2.5h0m0-1.5h0m9.5-6.5h0m2 7h0m-125 11h0m2-2.5h0m4.5 10.5h0m33.5-2h0m22.5-8.5h0m8.5 0h0m2 1.5h0m5.5-0.5h0m2.5-2h0m3 0h0m0.5 3.5h0m1.5-2h0m8 0.5h0m8 1.5h0m2.5 1.5h0m4-4h0m0 4.5h0m1-2h0m6-2.5h0m0.5-1.5h0m-158 24.5h0m42-6h0m3.5-1h0m0-2h0m0.5 7.5h0m3-3h0m0-6.5h0m4 6h0m0-7h0m1.5 9h0m0.5-3h0m7-5.5h0m2.5 2h0m1.5-1.5h0m1 1h0m-61.5 18h0m16 1.5h0m0-2.5h0m1 3h0m3-6h0m1.5 7.5h0m1 4h0m1-0.5h0m1-6.5h0m0.5 6.5h0m0-9.5h0m0.5 6h0m1-5.5h0m1.5 3.5h0m0.5 1h0m0.5-5h0m1.5 6.5h0m1.5 0.5h0m2.5-0.5h0m5.5-7.5h0m3.5 6.5h0m1 1.5h0m2 3.5h0m8-13h0m-172 22.5h0m1 2h0m10-8h0m4-1h0m44.5 10.5h0m69.5-6.5h0m1 0.5h0m10.5-6h0m2 0h0m1 2.5h0m13.5-2.5h0m4 1.5h0m1.5-2h0m2 2h0m0.5-1.5h0m1 4h0m1.5-3h0m0.5 3.5h0m2-1.5h0m-198.5 20h0m1.5-8.5h0m1-0.5h0m0.5 2h0m0.5 7.5h0m0.5-9.5h0m2 11.5h0m0.5 1h0m4.5-3.5h0m0-6.5h0m0.5 8.5h0m1-10h0m2 0.5h0m10.5 7h0m14.5-8.5h0m-36 23.5h0m4.5-1.5h0m2.5-8.5h0m0.5 9h0m1.5 3h0m16-10.5h0m7.5 1.5h0m6.5-0.5h0m41 45.5h0m-16 10.5h0m0.5 4h0m2 1h0m0.5-5.5h0m1 2.5h0" stroke="#354b9e" stroke-width="10" /><path d="M982.5 2260.5h0m8 13h0m22 0h0m16.5-2.5h0m-20.5 4h0m-26.5 81h0m-24.5 25h0m-15.5 6.5h0m4.5 2h0m10.5-2.5h0m-5.5 22.5h0m-72.5 18h0" stroke="#f6e934" stroke-width="10" /><path d="M1043.5 2274h0m5-2h0m9 1h0m-31.5 14.5h0m5.5-3h0m5-1.5h0m2.5 5.5h0m4.5-5h0m3-6.5h0m-36 16.5h0m4 1h0m13 1.5h0m9.5-2.5h0m14 1.5h0m5.5 3h0m-65.5 16.5h0m22 2.5h0m3-7h0m7.5 0h0m2.5 2h0m27-9h0m-85.5 22h0m5.5-7h0m72.5 11h0m-25.5 7h0m9.5-1.5h0m39.5 10h0m1-10h0m22.5 4h0m10.5 6.5h0m-99.5 13.5h0m-16 13.5h0m4.5-2.5h0m-11 15h0m4-6h0m-116 17.5h0m-63.5 16h0m15-2.5h0m8-4h0m-34 15.5h0m10-1h0m4.5 3.5h0m2.5 2.5h0m6-9h0m96.5 10.5h0m-14 3.5h0m12.5-2h0" stroke="#8ab8db" stroke-width="10" /><path d="M980 2259h0m4-1.5h0m13.5 1.5h0m-23 3.5h0m10.5 2.5h0m5.5 1.5h0m6.5 4h0m3-3.5h0m0.5 2h0m0.5-8h0m4 4.5h0m2 8.5h0m0.5-11h0m5.5 2.5h0m7.5 7h0m4-4h0m-15 8.5h0m19-0.5h0m-65 83.5h0m11.5 3.5h0m-185 61.5h0m105-1h0m5.5 1.5h0m7 2h0m3 0.5h0m-14.5 2h0m27-0.5h0" stroke="#d4e281" stroke-width="10" /><path d="M971 2369h0m3.5-4h0m-24 25h0m3 1.5h0m-56 34.5h0m-0.5 5.5h0m14.5-0.5h0" stroke="#fcd426" stroke-width="10" /><path d="M946.5 2412.5h0m-25.5 13.5h0m11 0h0m9.5 2h0m0.5-7h0m8-2h0m-1.5 18h0m4.5-5h0" stroke="#f58620" stroke-width="10" /><path d="M950 2399h0m-6.5 13.5h0m-2.5 12.5h0m3-0.5h0m4-3.5h0m5.5 3h0m2.5-4.5h0m-7 11h0" stroke="#ef5720" stroke-width="10" /><path d="M943.5 2410.5h0m-0.5 15.5h0m3.5-9h0m0.5-2h0m0.5 8h0m-1 9h0m3-2.5h0m2.5 0h0" stroke="#e9281f" stroke-width="10" /><path d="M944.5 2417.5h0" stroke="#fab224" stroke-width="10" /></g><text x="780.4" y="2244" font-size="23.6" >P2RY12</text><text x="870.8" y="2515.9" font-size="22.5" >Expr.</text><rect x="947.1" y="2501.1" width="77.5" height="15.6" fill="url(#jet)"/><text x="961.8" y="2544.6" font-size="22.5" text-anchor="middle" >0</text><text x="1010.1" y="2544.6" font-size="22.5" text-anchor="middle" >8</text><g stroke-linecap="round" fill="none"><path d="M1314 2260.5h0m1.5-1.5h0m4-1.5h0m-12 7h0m1 6.5h0m1-3.5h0m0-5.5h0m0.5 8.5h0m0 2h0m0.5 2h0m5.5-3.5h0m3.5-3h0m2.5-1.5h0m5.5-4h0m1.5 0.5h0m1.5 1.5h0m3-1.5h0m0.5 5.5h0m7.5 1.5h0m1.5-6.5h0m1 9h0m0.5-7h0m2 7h0m0-3h0m3.5-2.5h0m1.5 3h0m0-2.5h0m0.5 5h0m2-4h0m2 3.5h0m0.5-3.5h0m11.5 2.5h0m2.5 2h0m0.5 2h0m3-3h0m0 0h0m3.5 2h0m0.5 0.5h0m2.5-4h0m1.5 0h0m2.5 1h0m0 0h0m1.5 1.5h0m-71 4h0m5-1.5h0m24.5 13.5h0m1.5-12h0m1 9h0m2-1h0m1 3.5h0m0.5-4h0m2-9h0m0.5 12.5h0m3.5-2.5h0m0 3h0m1.5-4.5h0m2-3h0m2 3h0m0.5-2.5h0m0.5-2h0m0-2.5h0m0.5 11.5h0m1-7.5h0m1.5-1h0m1.5 4h0m2 1h0m0-1h0m0.5-2.5h0m2.5 2.5h0m1.5 0.5h0m0-3h0m0.5 3h0m0-4h0m1.5 1h0m1 3h0m1-3.5h0m2-4h0m0 9.5h0m1.5-0.5h0m0.5-8.5h0m1 8.5h0m0.5-3.5h0m0.5 2.5h0m0.5-9.5h0m1.5 13h0m0.5-8h0m0-2.5h0m1 10h0m1-6.5h0m1-4.5h0m5.5 9.5h0m2-5.5h0m0.5-5.5h0m1 1.5h0m-75 24h0m1.5-1.5h0m2-1h0m2-1h0m1.5-0.5h0m1 4h0m1.5-6h0m1.5 2h0m0-2.5h0m1 2.5h0m1 5h0m2.5-4h0m0.5 0h0m0.5-5h0m0-3h0m1 2h0m0-1.5h0m1 10.5h0m0-7.5h0m1.5 2.5h0m0-1.5h0m1.5 3h0m0.5-2.5h0m0.5 5.5h0m1.5-1.5h0m0-4.5h0m3 5h0m0.5-3h0m0 6h0m1-7.5h0m1.5 6.5h0m2.5-12.5h0m1 5h0m0.5-2h0m1 7.5h0m3.5 0h0m1 3h0m2.5-11h0m1 9h0m0-7h0m0 5h0m1.5 3.5h0m0.5-6.5h0m0 4h0m1-2h0m1-6h0m2 9.5h0m0 0h0m0.5-7h0m1-3h0m0.5 7h0m0.5 4h0m1.5-9h0m1.5-1.5h0m0 2.5h0m0.5 7h0m1-1.5h0m1.5-8.5h0m0.5 1.5h0m0-3h0m0 12.5h0m1-10.5h0m0.5 0.5h0m0.5 2.5h0m2 0.5h0m1 1.5h0m1-2h0m3-5h0m2 2.5h0m-85.5 24.5h0m6 0.5h0m5-13h0m1.5-0.5h0m2.5 0h0m0.5 11h0m1.5-9.5h0m2.5 3.5h0m0.5-5.5h0m3.5 1h0m2 2h0m0 1h0m1-1.5h0m0.5 5h0m1.5 3h0m1-2h0m0.5 2h0m0.5-6.5h0m4.5 0.5h0m0 3h0m3-3h0m1.5-0.5h0m0.5-2h0m0.5 5h0m1.5 3.5h0m0.5-2.5h0m0.5-2h0m0-4.5h0m1 0h0m2 8.5h0m0.5-7.5h0m1.5-2.5h0m1.5 11.5h0m2-9h0m3 3h0m0.5-4.5h0m0.5 8h0m1.5-6.5h0m1.5 1h0m1 1h0m0.5-3.5h0m9 4.5h0m0.5-2.5h0m1 4h0m0-5h0m1.5-1.5h0m22 12.5h0m1.5-8.5h0m2.5 1.5h0m10 7h0m5-3.5h0m-116.5 13h0m1-5h0m0-2.5h0m0.5 9.5h0m3.5-0.5h0m1-4h0m16 1.5h0m0 2.5h0m4.5-6.5h0m3 2.5h0m2-3h0m5.5-1.5h0m6.5 11.5h0m3-4.5h0m2.5-4h0m3 2.5h0m2.5-1h0m0.5-5.5h0m6.5 9.5h0m15 0h0m27-8h0m3 8.5h0m2.5-3.5h0m10.5 3.5h0m3.5 1h0m1.5 1h0m6.5-2h0m4 2h0m1.5-1.5h0m0 2h0m-156 5.5h0m5.5 2.5h0m6.5-2.5h0m0.5 7.5h0m3-11.5h0m16 9h0m15-4.5h0m14 2h0m1-5h0m4 3.5h0m0.5-5h0m0.5 3.5h0m4.5 0.5h0m1 7.5h0m0.5-10h0m7 4.5h0m18 0.5h0m1.5-2h0m9 6.5h0m5.5 1.5h0m3.5 0.5h0m0.5-2.5h0m0.5-6h0m1 2.5h0m2.5 6h0m0-3.5h0m2.5-1.5h0m0.5 3.5h0m2 0.5h0m7.5-5h0m0.5-7.5h0m2 3.5h0m1-1.5h0m0 6.5h0m3-2.5h0m1.5 0.5h0m0-4.5h0m0.5 10.5h0m1-6.5h0m0-5.5h0m1 5.5h0m1.5 2.5h0m1-2.5h0m0 6h0m0.5-4h0m1-6h0m0 1.5h0m1.5 9h0m1-8.5h0m5 4.5h0m2.5-6h0m1 6h0m-139 16.5h0m5 3h0m3-6.5h0m5.5-2h0m14.5 7h0m6.5-2h0m52-6h0m9-3h0m2.5 4h0m6-3h0m6.5 3.5h0m7-2h0m2-1h0m0.5-3h0m1.5 6h0m4-2h0m1.5 3h0m7.5-4h0m-148.5 20h0m6.5-5.5h0m5.5 4h0m0 2.5h0m0.5 0.5h0m17.5-3.5h0m1-4h0m1.5 10.5h0m0.5-12h0m1 3.5h0m5-5h0m0 3.5h0m0 4.5h0m1-5.5h0m3.5 2.5h0m9.5-3h0m-103.5 16.5h0m49 4h0m5-1h0m1.5 1.5h0m8-3h0m1-2h0m0.5 9h0m0.5-5.5h0m1-7h0m5 6h0m1 5h0m4.5 0.5h0m6.5 0h0m3.5-8h0m1 10h0m-43 4.5h0m22.5-1h0m0-1h0m16 2h0m6.5 0.5h0m0-2.5h0m3.5-1.5h0m-87.5 23.5h0m29.5 1h0m2.5 0h0m10-8.5h0m1 8.5h0m-62.5 11.5h0m0.5 2.5h0m5-2.5h0m5 0.5h0m1 2h0m2 0h0m23.5-0.5h0m11-6.5h0m2 0.5h0m2.5-0.5h0m3-4h0m4.5 7h0m-61 7h0m4.5 2.5h0m1.5-1h0m5.5 2h0m0.5-3.5h0m3 2.5h0m14.5-2.5h0m2 1h0m1.5-1.5h0m16.5 6.5h0m3-3.5h0m1 3h0m1.5-4.5h0m0.5 2.5h0" stroke="#4566b0" stroke-width="9.5" /><path d="M1386.5 2293.5h0m-238.5 104h0m0.5 3.5h0m4-2.5h0m13 0h0m36.5-2.5h0m-87.5 17.5h0m8-6h0m1 4.5h0m2.5-5.5h0m0.5 1.5h0m3.5 0h0m0.5-4h0m0.5 7.5h0m1.5-8h0m4.5 10h0m0.5-8.5h0m0.5 1.5h0m0-4.5h0m2.5 5h0m0-2.5h0m1 9h0m0.5-12h0m2.5 10.5h0m3.5-9h0m4 6.5h0m2-7h0m2 9.5h0m4-6.5h0m8 5.5h0m2 2h0m11-11.5h0m44.5 1.5h0m-102 24h0m4-1.5h0m4.5-7.5h0m0.5 8.5h0m1-5h0m0.5-3.5h0m1.5 8.5h0m0.5-11.5h0m0 9h0m1.5 2h0m0-5.5h0m0 8h0m2.5-6.5h0m1.5 3.5h0m1.5 0.5h0m1-3h0m2.5-7.5h0m1.5 7h0m1 4.5h0m1-2.5h0m0-6h0m4-1h0m17.5 1h0m10-2h0m17 1.5h0m-72 11.5h0" stroke="#fcd426" stroke-width="9.5" /><path d="M1314 2263h0m12 5h0m1.5-0.5h0m6 4h0m7-6.5h0m2 9h0m28.5 1h0m10-8h0m0 1h0m4 5h0m1-4h0m0.5 4.5h0m-70 3.5h0m20.5 5h0m11.5 7h0m4-3h0m3-11h0m9 4h0m0.5 9.5h0m5.5 0h0m12-8.5h0m4 6.5h0m4.5 1.5h0m1.5-4.5h0m4 1.5h0m-72.5 17h0m1.5 0.5h0m6-13.5h0m1.5 0.5h0m3 10h0m1.5-1.5h0m3.5-0.5h0m1.5-6.5h0m2.5 0.5h0m6 6.5h0m2-1.5h0m0.5-5.5h0m1.5 8.5h0m2-8h0m8 6h0m1.5-7h0m5.5 7h0m0-4h0m3.5 3.5h0m0.5-2h0m1.5 0h0m2-1h0m11.5 1h0m6 2.5h0m-70 16h0m4-9.5h0m6 1h0m0.5 10h0m4-4.5h0m3-4.5h0m5.5 0h0m1-3h0m0.5 5h0m2 8.5h0m2-6.5h0m8 2.5h0m6-1.5h0m0.5-1.5h0m2 0h0m1.5-6h0m-74.5 21.5h0m3 4.5h0m7-9.5h0m6 1.5h0m16.5 4h0m6-6.5h0m7.5 9.5h0m8.5-4h0m5.5-4h0m0.5 1.5h0m1-5h0m43 5h0m11.5-0.5h0m-114.5 11h0m31.5 10.5h0m19.5-7h0m3.5-2h0m0.5 9.5h0m7-2.5h0m7 3.5h0m29.5-11h0m0.5 7.5h0m19-1h0m4.5 2.5h0m8.5-2h0m-111.5 7.5h0m23.5 2.5h0m28.5-1h0m22 0h0m23-0.5h0m3.5-1h0m23-2h0m-132 16h0m16 1h0m5-0.5h0m7.5 0h0m-57.5 23h0m15-7.5h0m1 3h0m7.5-1.5h0m2.5-2.5h0m0.5 1h0m9.5 6.5h0m0.5-2.5h0m0.5-8.5h0m6.5-0.5h0m7 7h0m-28 8h0m16 0h0m-45 26h0m-2 7h0m1 5h0m1-8.5h0m6.5 4h0m3-3h0m1 2.5h0m-7.5 10h0m4.5 3h0m3.5-1h0m-80.5 44.5h0m1-3.5h0m1 2h0" stroke="#5b87c5" stroke-width="9.5" /><path d="M1312.5 2272h0m55.5-0.5h0m12.5 0.5h0m-23.5 6.5h0m-59.5 55.5h0m75.5 13.5h0m43 0.5h0m-91 18.5h0m-121.5 12.5h0m-19.5 14h0m2.5 0h0m3-0.5h0m34 7.5h0m0.5-2.5h0m-91.5 12h0m1.5-0.5h0m1.5-1h0m3-4h0m1.5 9.5h0m0-4.5h0m0.5 1.5h0m6 3.5h0m10-10h0m6.5 3.5h0m4 0.5h0m38-5h0m-75 15.5h0m6 10h0m0.5 0h0m4-7.5h0m0.5-5.5h0m39 1.5h0m25-2h0m-64 14.5h0" stroke="#f6e934" stroke-width="9.5" /><path d="M1313 2265h0m31.5-2h0m6 10h0m27-1.5h0m-10.5 16.5h0m18-4h0m5-2h0m-31.5 19h0m0.5-10h0m17 8.5h0m-50.5 10h0m15 5.5h0m10-1h0m5.5-10h0m16 5.5h0m1.5-1h0m-66 16.5h0m128 3.5h0m-89.5 10h0m6 0.5h0m47 8h0m19 4h0m-99 21h0m-16.5 6h0m1.5 8.5h0m3.5-9.5h0m-32.5 15h0" stroke="#b4d8ca" stroke-width="9.5" /><path d="M1129.5 2414.5h0m1-6h0m5.5 2.5h0m3.5 0.5h0m0-9.5h0m19 0h0m12 5h0m-57.5 9.5h0m2 0h0m8 2h0m1.5-2h0m0.5 9h0m0.5 2.5h0m1-0.5h0m1.5-10h0m0.5-0.5h0m1 9h0m0.5-5.5h0m1.5 4h0m0.5-6.5h0m8 6.5h0" stroke="#fab224" stroke-width="9.5" /><path d="M1122.5 2411h0m8 17.5h0m4-12h0" stroke="#e9281f" stroke-width="9.5" /><path d="M1370 2277.5h0m-13 38.5h0" stroke="#354b9e" stroke-width="9.5" /><path d="M1375 2292.5h0m-73 84.5h0m-99 98.5h0m1.5-3h0m0 2h0" stroke="#8ab8db" stroke-width="9.5" /><path d="M1186.5 2390.5h0m-70.5 23h0m0.5 1.5h0m4.5-1h0m37 0h0m-46 7h0m4.5 4.5h0m9-2h0m4.5-7h0" stroke="#f58620" stroke-width="9.5" /><path d="M1139.5 2412h0m3.5-5.5h0m-27 16.5h0" stroke="#ef5720" stroke-width="9.5" /><path d="M1322 2260.5h0m-13 9.5h0m14.5 5h0m6-9h0m2.5 3h0m0.5-8h0m4.5 4.5h0m19.5 8.5h0m6.5 0h0m9.5-1h0m1-4.5h0m5 0h0m-38.5 6.5h0m2.5 6.5h0m13.5 5.5h0m1.5 0.5h0m2.5-11h0m2.5 7h0m2.5 2.5h0m11 2h0m1-1.5h0m1.5 0h0m5.5-7h0m1.5 7.5h0m9.5-8.5h0m-61 17h0m2.5 0.5h0m3.5 3h0m1.5-3h0m4.5-5h0m8 10.5h0m5.5-2h0m8 2h0m1-12h0m0 5.5h0m2 4.5h0m0.5-4.5h0m2-1h0m0-0.5h0m4-2h0m5 10.5h0m8.5-10h0m-70 14.5h0m0.5 5.5h0m7.5 0.5h0m0-2h0m1-7h0m0.5 10.5h0m0.5 2h0m10-6.5h0m8.5-6.5h0m5.5 9h0m5-5.5h0m4.5 2.5h0m1.5-4h0m25.5 2.5h0m8-3.5h0m-100.5 25h0m7 1.5h0m43-10.5h0m28.5 9h0m54-8.5h0m-107 24h0m69-1h0m16-2.5h0m8.5-7.5h0m1 10h0m5-12h0m6 2h0m4.5-2h0m-122 25.5h0m1.5-4h0m24.5-3.5h0m49.5-3h0m17 2h0m1-2h0m5.5 1h0m6 4.5h0m2-6h0m0.5 6h0m0.5-1.5h0m2.5 1.5h0m4 0.5h0m4-7h0m2.5 0h0m0.5 2.5h0m-143 23.5h0m16-8h0m23.5 0.5h0m1-4.5h0m0.5 5.5h0m-26 16h0m2.5 5.5h0m1.5-12.5h0m10.5 9.5h0m1-3h0m4 1.5h0m-51.5 8.5h0m8.5-0.5h0m6.5-3h0m6.5 1h0m32 3.5h0m-40.5 23h0m1-1.5h0m-19 12.5h0m10-10.5h0m-75.5 59h0m2.5 1h0" stroke="#5b87c5" stroke-width="9.5" /><path d="M1308 2261h0m7.5-3.5h0m3.5 3h0m4.5-0.5h0m3-1.5h0m-15.5 7h0m1 2.5h0m3 2h0m0.5-4h0m3 0h0m0.5-1.5h0m1 7h0m0.5-7.5h0m2 9.5h0m0.5-4h0m5-4h0m2-3.5h0m0.5 10h0m0.5-2h0m1 3h0m2.5-7h0m1 7.5h0m0.5-1.5h0m1-9h0m2.5 3h0m6.5 0.5h0m1.5-0.5h0m2.5 2.5h0m11 2.5h0m4.5 1h0m5-2h0m0.5 2h0m0.5-2.5h0m3-1h0m0.5 1h0m0 4.5h0m3.5-4h0m0.5-3.5h0m1.5 3.5h0m2 4h0m2-5h0m0.5 0.5h0m2 3h0m0.5-2h0m2 4h0m1-2.5h0m2 2.5h0m3 0h0m-77.5 13.5h0m0.5-11.5h0m1 9h0m0-2.5h0m7-1h0m6.5-2.5h0m7.5 4h0m3 4.5h0m4-0.5h0m0 1.5h0m1.5-2h0m0.5-8.5h0m1.5 7h0m0 2h0m0.5-4.5h0m2.5 1.5h0m0.5 3h0m1.5-5.5h0m0.5 3h0m2-7.5h0m1.5 0h0m1.5 8h0m0.5-4.5h0m1 6h0m0.5-0.5h0m1.5-5.5h0m0.5 3.5h0m0-1.5h0m2.5-4.5h0m1 2.5h0m0.5 4h0m0.5 2h0m1.5-7h0m0 7.5h0m0.5-5h0m1.5-2.5h0m2 1.5h0m3-2.5h0m1.5 8.5h0m2.5-6h0m1 1.5h0m1-5h0m0 11h0m0-12h0m0.5 3h0m1.5-3.5h0m0-1.5h0m1 9.5h0m2.5 1.5h0m2 0.5h0m2.5-4.5h0m0-5h0m-72.5 22.5h0m2-7h0m1.5 7.5h0m1.5 1h0m2-1.5h0m5.5-6h0m0 9h0m2-2.5h0m0.5-3.5h0m0.5 6h0m1-8.5h0m0.5-2.5h0m0 9h0m0.5-5h0m0.5-0.5h0m6 4h0m2.5-4h0m0.5 4h0m2-10h0m1 3h0m2.5 6h0m1-3h0m0.5 5.5h0m0.5-8.5h0m0.5 4.5h0m1-3h0m2 0h0m1 1h0m1 8h0m1-8.5h0m7 7h0m1 1.5h0m0-5.5h0m4 3.5h0m1-4h0m1 0h0m1 6h0m1-7.5h0m1.5 1.5h0m0-4.5h0m2.5-2h0m1.5 8.5h0m1-5.5h0m2-3.5h0m1 8.5h0m0-1.5h0m1.5 1h0m2-3h0m5 0h0m1.5 5.5h0m-86 12h0m3.5-4h0m9-0.5h0m0.5 8h0m0-12h0m1.5 3.5h0m1.5 1h0m0.5-1.5h0m2 0h0m1 6h0m1-8.5h0m2 5h0m0.5-2h0m0.5 1h0m0.5 0.5h0m5-2.5h0m1 6h0m0-7h0m2 12h0m3-12h0m1 1h0m1 4.5h0m1-3h0m1.5 2h0m1.5-2h0m2.5 1.5h0m0.5-1h0m0.5 4.5h0m3.5-4.5h0m0.5-3.5h0m2.5 1.5h0m1 9h0m2-4h0m5-7h0m2 7.5h0m1-5.5h0m0.5 10h0m3-11h0m2 0h0m3-0.5h0m0 11.5h0m1.5-13h0m3.5 5h0m12-3h0m24 11h0m-123.5 14.5h0m4-7.5h0m7-4.5h0m3.5 1.5h0m12 4.5h0m2-1h0m0.5-5.5h0m2.5 4h0m2 0.5h0m15.5 1h0m4 6h0m6.5-6h0m1.5-4h0m0.5-2.5h0m0.5 6.5h0m4.5-4h0m3.5 1.5h0m5.5-1.5h0m4.5 7h0m35-5.5h0m4 7.5h0m4 0.5h0m7.5-5h0m2.5 5.5h0m3.5-2h0m-157.5 17h0m23.5-9h0m9.5-0.5h0m2.5 5h0m6.5-6.5h0m8 8h0m7.5-3.5h0m1-2.5h0m2 2.5h0m3.5-5.5h0m2.5 2h0m2.5-3h0m0.5 2.5h0m1 4.5h0m6.5-3.5h0m17 9.5h0m2.5 0h0m11.5 0.5h0m0-2h0m3-0.5h0m3 1h0m1.5 1h0m3-4.5h0m1-1.5h0m0.5 4h0m2-8h0m0 5.5h0m4.5-1.5h0m6 4h0m3-3h0m0.5 2.5h0m1 1.5h0m1.5-8.5h0m4.5 1h0m0.5 7.5h0m0.5-10.5h0m0.5 7.5h0m1-8h0m1 3h0m2.5 6h0m2.5-6.5h0m2.5 1.5h0m1 3h0m0.5-6.5h0m0.5 4.5h0m1 6.5h0m1-12.5h0m1 12h0m0-11h0m2 10.5h0m2 1.5h0m1-2h0m-174.5 9.5h0m44.5 4h0m15.5 0h0m4.5-7h0m1.5 9.5h0m8.5-7.5h0m14.5 5.5h0m18-9h0m10-1h0m6 1.5h0m0.5 2h0m0.5-1.5h0m1-1.5h0m8 0h0m1.5 0h0m2.5 5h0m4.5-5.5h0m1 4h0m9.5 2h0m0.5-1.5h0m4-4.5h0m1 1.5h0m1 2.5h0m4-2h0m4.5-2h0m1.5 3.5h0m3-2.5h0m-208.5 24h0m74-6.5h0m7.5-5.5h0m3 7.5h0m1 1.5h0m0.5-3.5h0m2 3.5h0m0 1.5h0m2-0.5h0m0.5-4h0m5.5 4h0m0-4h0m1.5 0.5h0m0.5 5.5h0m1-2h0m1.5-2h0m1.5-1h0m1.5-5h0m5.5 0h0m1-1.5h0m4.5-0.5h0m31.5 0h0m-163 15.5h0m1.5 1h0m19.5 7.5h0m41.5 2.5h0m4-7h0m7.5 4.5h0m11 0.5h0m3-5h0m0 3.5h0m1.5 2h0m2-8h0m0.5 6h0m2.5-2h0m11 1.5h0m1.5-6.5h0m1.5 0h0m3 5.5h0m0.5-6h0m3 8h0m1.5-9.5h0m-80 23.5h0m22-9.5h0m4 3.5h0m0.5-1.5h0m1.5-1h0m2 10.5h0m1 0h0m11.5-5h0m34-1h0m1-5h0m1.5 5.5h0m1-4.5h0m4 0h0m-52 20.5h0m-68.5 15.5h0m6.5 0.5h0m6.5-0.5h0m8 3h0m3-0.5h0m1-3.5h0m0.5 5h0m0.5-4h0m4-3h0m0.5 5.5h0m4-8.5h0m23 2.5h0m0.5 3.5h0m0.5 3h0m2-5.5h0m0.5 2h0m5.5 1.5h0m0.5-7h0m0 9.5h0m0.5-5.5h0m1 2.5h0m0.5-9h0m1 7.5h0m2 4.5h0m-47.5 2h0m4.5-1.5h0m2.5 0.5h0m34.5 0h0m2 5.5h0m0.5 1.5h0m0-7h0m1 2.5h0m-81.5 45h0" stroke="#4566b0" stroke-width="9.5" /><path d="M1143.5 2414.5h0m30-7h0m-25 12.5h0" stroke="#d4e281" stroke-width="9.5" /><path d="M1182 2390.5h0m-62.5 22h0m16.5 0.5h0m1-8.5h0m-23 20.5h0m3-1.5h0m0.5 3.5h0m0.5-12h0m0 13.5h0m1-6.5h0m1 1.5h0m0.5-6h0m3.5 9h0m1-4.5h0m1 0.5h0m0-1.5h0m5 2h0" stroke="#f58620" stroke-width="9.5" /><path d="M1150.5 2400h0m50-4h0m-83 16h0m6.5 2.5h0m1-8.5h0m2 3h0m0.5 1.5h0m9.5-8h0m5.5 7h0m21-3h0m11.5-4.5h0m-56.5 22h0m0.5-6h0m2.5 7h0m1-5.5h0m4-1.5h0m1.5-2h0m1 9h0m1.5 0.5h0m2-2.5h0m1-2.5h0m12-2.5h0m32.5 0h0m-55.5 12h0m11-0.5h0" stroke="#fab224" stroke-width="9.5" /><path d="M1147 2400h0m5 0.5h0m12.5-4h0m8 1h0m2.5-7h0m1 2h0m2.5-1.5h0m42.5 9h0m-99 11.5h0m1-4.5h0m0.5 3h0m2.5 5h0m1-2.5h0m2-7h0m2.5 1.5h0m0.5 1.5h0m1.5-3h0m1.5-0.5h0m2.5 7h0m0.5-2h0m3.5-2h0m1.5-3.5h0m0.5 8.5h0m0.5-1.5h0m0-8.5h0m1.5 3.5h0m1 2.5h0m10.5-2h0m0.5 2.5h0m3 1h0m11-6.5h0m-46 22h0m4 2.5h0m2.5-7h0m1 4h0m1-3h0m1.5-5.5h0m0.5 4h0m0.5-2.5h0m1 4h0m1.5 6h0m3-3.5h0m3.5-4h0m2-4.5h0m0.5 2h0m1 2.5h0m8-5h0m1 1.5h0m5.5-2.5h0m36 1h0m-72 13.5h0m3 0h0m3.5 0h0m5.5 1h0m66 11h0" stroke="#fcd426" stroke-width="9.5" /><path d="M1304.5 2263h0m12.5-2h0m27 12.5h0m22.5-2.5h0m-3 13.5h0m14.5 3h0m-17.5 15h0m2.5-3h0m6-0.5h0m-34.5 5h0m8.5 8h0m14.5 0h0m6-2.5h0m17.5-4h0m-30.5 16h0m20 9h0m-9.5 4h0m61.5 6.5h0m6.5-6h0m-118.5 41.5h0m-59.5 50h0m-44 40h0m-3 11.5h0" stroke="#b4d8ca" stroke-width="9.5" /><path d="M1325.5 2259.5h0m53.5 25h0m-233 113.5h0m21-3.5h0m4 0h0m0.5-1.5h0m7.5-3.5h0m53-0.5h0m-103.5 15.5h0m4.5 8h0m0.5-1.5h0m2.5-10h0m5.5 12h0m0.5-1.5h0m2.5-7h0m1.5 4.5h0m0-6h0m0.5 8h0m7.5-1.5h0m9.5 4h0m-30 15h0m2.5-8.5h0m3 0.5h0m0.5-1.5h0m3 3h0m1 2h0m0.5-7h0m3-1.5h0m1 10.5h0m1-9h0m3-2h0m3.5 1.5h0m49.5 9h0m7.5-6.5h0" stroke="#f6e934" stroke-width="9.5" /><path d="M1364.5 2301h0m-0.5 2.5h0m10.5 1.5h0m-92 112.5h0" stroke="#354b9e" stroke-width="9.5" /><path d="M1136 2409.5h0m65.5 3h0m-85.5 7h0m23-4h0m74.5 8h0m12 3.5h0m9.5-3h0m7 4h0m-99.5 1h0m85.5 1h0m25 1h0m10.5 0.5h0" stroke="#ef5720" stroke-width="9.5" /><path d="M1285 2387h0m-79.5 92h0m2-0.5h0" stroke="#8ab8db" stroke-width="9.5" /><path d="M1123.5 2423h0" stroke="#e9281f" stroke-width="9.5" /><path d="M1314.5 2272.5h0m0 2.5h0m8.5-11h0m5.5 6.5h0m10-1.5h0m0 1.5h0m0.5-7.5h0m1 5h0m17.5 4.5h0m25.5 0h0m-61.5 4h0m3.5 8h0m14.5-6h0m9.5 9h0m6.5-7h0m3.5-4h0m9.5 6.5h0m0.5-7h0m6 10.5h0m12.5-8h0m6.5-3.5h0m-67.5 24h0m2 3h0m9.5-2h0m1 2.5h0m3.5-10.5h0m1.5 1.5h0m1 2.5h0m4.5-2.5h0m8 3.5h0m7-8h0m2.5 14h0m0-4.5h0m3-8h0m3-0.5h0m3 9.5h0m1.5-10h0m2 5h0m3 3.5h0m3-4.5h0m5.5 8h0m-76 9h0m1 1.5h0m2-2.5h0m6-3.5h0m4 8.5h0m11.5-2h0m3.5-4h0m2.5 7h0m0-2.5h0m2-0.5h0m3 3h0m6-9.5h0m3 8.5h0m2.5-3h0m2-0.5h0m2 6h0m5.5-5.5h0m4-3h0m3 0h0m6-0.5h0m13.5 2.5h0m-92 6.5h0m1.5 6h0m20.5-4.5h0m11 0.5h0m0.5 1.5h0m6.5 5.5h0m12.5 0.5h0m5-8.5h0m62.5 3.5h0m-127 14.5h0m3.5-5h0m23.5 5h0m27.5-2.5h0m1.5-1h0m15 3.5h0m33 5h0m10.5-1h0m1.5-2.5h0m5 5.5h0m4-4.5h0m0.5 0h0m3 1h0m9 2.5h0m1.5 0.5h0m5-10.5h0m-117 26h0m49.5-12h0m16 0h0m9.5 3.5h0m6 0h0m6.5 0h0m11.5-0.5h0m-149 22h0m52 0h0m-106 14h0m59-5.5h0m16.5 1h0m4-5.5h0m5 11h0m13.5-11h0m6.5 4.5h0m1.5-2.5h0m-28 13h0m7-2h0m19.5-0.5h0m2 2h0m-51 24.5h0m5.5-4.5h0m4.5 10h0m-82.5 57.5h0m2-1h0" stroke="#5b87c5" stroke-width="9.5" /><path d="M1317.5 2259h0m11.5 0h0m6 1h0m-29 6h0m0-3.5h0m2 4.5h0m2-3.5h0m2 7h0m0.5-8h0m3 0.5h0m1 4.5h0m0.5-2.5h0m3.5 1h0m3.5 0h0m0.5-2.5h0m1 11h0m0.5-3h0m0.5-6h0m5 1.5h0m2-2.5h0m0.5 5.5h0m1-5.5h0m3.5 9.5h0m3.5-1.5h0m0-6.5h0m3.5 2h0m5-3h0m3.5 6h0m3.5-1.5h0m1.5 1h0m2 4h0m3-1h0m1 1.5h0m9.5-8h0m3 0.5h0m2 5.5h0m4 1.5h0m6-1.5h0m-76 3.5h0m10 9.5h0m11-10.5h0m7 1.5h0m3.5 4h0m1 5h0m0 0h0m5.5-1.5h0m3 0h0m0.5 3.5h0m2-1h0m1.5-0.5h0m1.5-1h0m0.5 0h0m2.5-8h0m0.5-2.5h0m0.5 1.5h0m1 9h0m1.5-10.5h0m0.5 3.5h0m3.5 2.5h0m0 8h0m0.5-10h0m0.5 6.5h0m1-5.5h0m0-3h0m0.5 8.5h0m0-8.5h0m0 6h0m0-7.5h0m2 8h0m1.5-3h0m1.5-3.5h0m0 10.5h0m1.5-6.5h0m0.5 0h0m1-2h0m0.5 5h0m0.5 4h0m1 0h0m4-3.5h0m2.5-5h0m0 4h0m1.5-4h0m0-4h0m1 2h0m1.5 0.5h0m-68 13h0m3-1h0m2 10.5h0m1-5h0m1 4h0m0.5 1.5h0m3-10h0m0.5 4h0m0.5-1.5h0m0.5-2h0m0 6.5h0m0.5 2.5h0m0.5-4.5h0m4.5 4h0m0-0.5h0m0.5 2.5h0m2-3h0m1 2h0m0.5-10h0m0 2h0m0.5 4h0m1-5.5h0m0.5 5h0m1-1h0m1 4.5h0m2.5 0h0m1.5-5.5h0m0.5 7h0m1-7.5h0m2-5h0m0.5 7h0m0.5 2h0m0-6.5h0m1.5 8h0m0.5-6.5h0m0.5 0h0m2 9.5h0m0.5-5h0m1-6h0m0.5 4h0m0.5-1.5h0m1 3h0m1-3.5h0m0.5-0.5h0m1.5 1.5h0m0.5 1.5h0m3-5h0m0.5 11h0m2-4h0m1 5h0m1.5-4.5h0m0.5 3.5h0m2.5-2h0m0.5-5h0m0.5 1h0m1.5 0h0m1-6h0m0.5 9.5h0m2-4h0m1.5-1h0m6.5-3.5h0m-86 25h0m5 0.5h0m3.5-1h0m5.5-6.5h0m3.5-3h0m3 2.5h0m4.5-5h0m4 7h0m2-2h0m0.5-0.5h0m2.5 1h0m2 3.5h0m0-1.5h0m0.5-5h0m5.5 0.5h0m1 4h0m1-1.5h0m0.5 6.5h0m0-11h0m1 0.5h0m0 7h0m1 3h0m0-11h0m2.5 11h0m0.5-5.5h0m1 2.5h0m0.5-5.5h0m1.5 0.5h0m0.5 8.5h0m1-4h0m1.5-4.5h0m1.5 6.5h0m0 0.5h0m2-10.5h0m0 7h0m1-5.5h0m0.5 0.5h0m0 3.5h0m2.5 2.5h0m2.5-7h0m3 2h0m1 3.5h0m3 6h0m0.5-13h0m11.5 2.5h0m1.5 3h0m2.5 3.5h0m3.5 3h0m5.5-1h0m-106 13h0m1.5-4h0m2.5 2h0m4 0.5h0m17-4h0m1.5 0.5h0m15.5 0h0m3.5-1.5h0m3 8h0m2.5-1.5h0m3 3h0m2-9.5h0m3-2.5h0m0.5 3.5h0m1.5-0.5h0m42.5-0.5h0m15 6.5h0m1-0.5h0m1-0.5h0m1.5-8h0m9.5 8.5h0m4 3h0m0-3.5h0m-148 12.5h0m7.5 4.5h0m2.5-9h0m13 1h0m11.5 9.5h0m17.5-11.5h0m4.5 7h0m2.5-3h0m0.5 3.5h0m4-8.5h0m3 5.5h0m22.5 6.5h0m4.5-8h0m6.5 8h0m5-0.5h0m8.5-0.5h0m2-0.5h0m2.5 2h0m6-1h0m2.5-7.5h0m1.5 4h0m1.5-6.5h0m0 8.5h0m2-11h0m0 13.5h0m4.5-2.5h0m1.5-1h0m3.5 3h0m4.5 1h0m0-4h0m2-7h0m0 4.5h0m4.5 2.5h0m0 3h0m-122.5 5.5h0m4.5 3.5h0m1.5 5.5h0m6-1h0m2.5-8h0m0.5 9.5h0m0.5-2.5h0m6 1h0m12.5 0.5h0m24-9h0m4-1h0m8.5 0h0m8 1h0m0.5 1.5h0m10 0.5h0m1.5 0.5h0m2 0.5h0m1-3h0m2-3.5h0m4-0.5h0m5.5 5h0m0-3.5h0m4.5-1.5h0m2.5 2.5h0m2.5 2.5h0m1-3.5h0m-178.5 19.5h0m20 5h0m19.5-11h0m9.5 7.5h0m1.5 0h0m3-4.5h0m12.5 1h0m2 5.5h0m0.5-2h0m1-7.5h0m1 5h0m0-1.5h0m1 4.5h0m1-7.5h0m2.5 7.5h0m3-7h0m0 10h0m4.5-11.5h0m1 8.5h0m-86.5 14h0m15 2.5h0m18 1h0m3.5-4.5h0m9.5 2.5h0m5.5-7h0m5 9h0m0.5-2.5h0m0.5-1.5h0m2-0.5h0m0.5 2h0m1.5 0.5h0m1.5 2h0m1-7h0m0.5 2h0m4-2h0m0.5 7h0m1.5-10.5h0m3-1.5h0m0.5 10h0m1.5-2.5h0m2.5 5.5h0m1.5-0.5h0m4-12h0m-109.5 14h0m52 4.5h0m1.5 0h0m3 6h0m10.5-5h0m15.5-5h0m3-1.5h0m9.5 2.5h0m3.5 0h0m0-1.5h0m7.5 4.5h0m2-1.5h0m-59.5 19.5h0m9 4h0m-73 13h0m6.5 0.5h0m6.5-3.5h0m3.5 4h0m1-5.5h0m1 3h0m0.5 2h0m1 0.5h0m2-1h0m2.5-2h0m11 2.5h0m4-7h0m2 5h0m13.5-1h0m5-1.5h0m3-0.5h0m0.5-7.5h0m4 1.5h0m0 9.5h0m1-3.5h0m0-2h0m0.5-3.5h0m1 3h0m6-3h0m-58 12h0m4 2h0m0.5 1.5h0m2.5-2.5h0m7 0.5h0m21.5-1.5h0m12 4.5h0m0.5 3.5h0m2-8.5h0m1 8h0m3-5.5h0m1.5 3.5h0m3-0.5h0" stroke="#4566b0" stroke-width="9.5" /><path d="M1143 2399.5h0m7.5-2h0m4.5-1.5h0m3.5 1h0m9 3.5h0m1.5-2h0m7-4h0m8.5-4h0m-66.5 19.5h0m3-0.5h0m5.5-2.5h0m2 2.5h0m3 5h0m0.5-8h0m1.5 1h0m2-0.5h0m2.5 3h0m1-3h0m0.5 1h0m1.5-4h0m1 10.5h0m1-4.5h0m0-8.5h0m0.5 11.5h0m2-7.5h0m1.5 7.5h0m1 1.5h0m2-11h0m0.5 4.5h0m0.5-1.5h0m9 0.5h0m4-5.5h0m2.5 5.5h0m2 0h0m7.5-3h0m30.5 10h0m78-0.5h0m-158.5 13h0m1.5-7h0m5 2.5h0m2.5 6.5h0m0.5-4.5h0m0.5 1.5h0m0.5-6.5h0m3.5-1.5h0m0.5 11h0m0.5-8.5h0m0-1.5h0m0.5 3.5h0m0-5h0m0.5 11h0m2-7.5h0m0.5 4h0m1.5 3h0m0.5-3h0m0.5-4h0m1 7h0m2-5.5h0m10.5-1h0m3.5-4h0m43.5 5h0m8-3h0m-80 12h0m9.5-2h0" stroke="#fcd426" stroke-width="9.5" /><path d="M1386.5 2343.5h0m-122 41h0m-114 11.5h0m12.5 1h0m1 3h0m2-3.5h0m3-3h0m4 1.5h0m10-3h0m11 0.5h0m15.5-4.5h0m-76.5 18.5h0m8.5 3h0m2.5-8h0m4 4h0m0.5 9h0m0.5-4h0m2-8h0m3.5 12h0m48.5-5h0m-81 7h0m12.5-1h0m4.5 6.5h0m2 1.5h0m2.5 3h0m2-10.5h0m3 9h0m0-8.5h0m2 7h0m1.5-4h0m9-4h0m1 2h0m3-2h0m3-0.5h0m0.5 3h0m3-1h0m17.5-1.5h0m5 2.5h0" stroke="#f6e934" stroke-width="9.5" /><path d="M1118 2412.5h0m2 1.5h0m1-5h0m2 4h0m5-0.5h0m19-8h0m7-0.5h0m14.5-2h0m4.5 3h0m-59 18h0m1-6.5h0m2.5 10.5h0m3-7.5h0m0.5 4h0m2 2h0m3-8.5h0m0.5-0.5h0m2 6h0m1.5 4.5h0m9-1.5h0m7.5-6.5h0" stroke="#fab224" stroke-width="9.5" /><path d="M1112.5 2421.5h0m3-1h0m1.5-2h0m1-2h0m1 10h0m2.5-11.5h0m0 7h0m0-1h0m0 6.5h0m0-3h0m1-8h0m0.5 1.5h0m2 6.5h0m16.5-0.5h0m0.5-7h0m29.5-1.5h0" stroke="#f58620" stroke-width="9.5" /><path d="M1311.5 2259h0m64 17.5h0m10.5 5.5h0m-40 12.5h0m7.5-5h0m1.5 1h0m15.5 10h0m-58.5 15h0m20-5h0m0 5h0m13-11.5h0m14 4h0m4.5 7h0m10-5h0m1.5 6h0m-76.5 11h0m-3 5.5h0m47 8h0m53.5 2.5h0m32 0.5h0m13-11h0m-83 25h0m-37 14.5h0m-5 11h0m-28.5 47.5h0m-83 45.5h0" stroke="#b4d8ca" stroke-width="9.5" /><path d="M1219 2463.5h0m-13 10h0" stroke="#8ab8db" stroke-width="9.5" /><path d="M1360 2304.5h0m-6 23.5h0m-104.5 97h0m34 2.5h0" stroke="#354b9e" stroke-width="9.5" /><path d="M1161.5 2411.5h0m44-5h0m-90 18h0m4-6.5h0m4 11h0m3.5-3.5h0m12-8.5h0m84.5 11h0m8.5-2.5h0m13.5 2h0m-17 4h0" stroke="#ef5720" stroke-width="9.5" /><path d="M1121 2416h0m8.5 14.5h0" stroke="#e9281f" stroke-width="9.5" /><path d="M1361 2310.5h0m-32 75h0m-191.5 22h0m1 7h0" stroke="#d4e281" stroke-width="9.5" /></g><text x="1112.4" y="2244" font-size="23.6" >CLEC12A</text><text x="1204.1" y="2515.9" font-size="22.5" >Expr.</text><rect x="1278.8" y="2501.1" width="77.5" height="15.6" fill="url(#jet)"/><text x="1294.1" y="2544.6" font-size="22.5" text-anchor="middle" >0</text><text x="1342.7" y="2544.6" font-size="22.5" text-anchor="middle" >2</text><g stroke-linecap="round" fill="none"><path d="M1683 2270h0m2.5-1.5h0m2.5 5.5h0m36 0.5h0m-67.5 10h0m20 4.5h0m14.5-12.5h0m3.5 3h0m4 8.5h0m5.5-8h0m21.5-5h0m-61 26h0m3.5-10h0m5 5h0m13 2h0m1.5-9h0m1 7.5h0m1.5 4.5h0m1-1.5h0m2.5-6.5h0m25 0.5h0m-60.5 15h0m37.5-5h0m34.5 8.5h0m9 2h0m12.5-1.5h0m-73.5 13.5h0m36 10h0m19-1.5h0m0 5.5h0m19 4.5h0m1-5h0m2.5-1h0m2.5-5.5h0m1 6.5h0m1.5-4.5h0m2 8h0m2.5-6.5h0m3 5.5h0m6.5-10h0m0.5 10.5h0m-131 14.5h0m68-9h0m12.5 2h0m11.5-1.5h0m6.5 3.5h0m0.5-1.5h0m2.5-1h0m5.5 2.5h0m5-7h0m1 1.5h0m7.5-1h0m1.5 1h0m3 3.5h0m-142.5 10h0m7.5 6.5h0m0 2.5h0m6.5-6h0m17 2h0m-18 12h0m-84.5 23h0m106.5-8h0m-83 36h0m40-10.5h0m-83.5 56.5h0m1 2h0" stroke="#b4d8ca" stroke-width="10" /><path d="M1702.5 2275h0m2.5-6.5h0m4 3h0m0.5-4h0m3-0.5h0m2.5 7.5h0m-20 10h0m1-3.5h0m6-3.5h0m0 11.5h0m1-10h0m0 8.5h0m0.5-5h0m1 3h0m0.5-10h0m1 9h0m1-3h0m0-5h0m0.5 5h0m0.5-1h0m0.5 4h0m1.5-5.5h0m1 2h0m0.5 0h0m0 5.5h0m1.5-0.5h0m2 2h0m0.5-8.5h0m0.5-1.5h0m0-1h0m0.5 3h0m1 8.5h0m0.5-12h0m1.5 11.5h0m-64 4.5h0m0 9.5h0m1.5 0.5h0m13.5 0h0m22 0h0m2 0h0m4 0.5h0m0.5-1.5h0m0-4.5h0m1-3.5h0m1.5 7.5h0m1-6.5h0m0 5h0m1-2h0m0.5 3.5h0m0.5-11h0m1 1h0m1 9.5h0m0.5-3.5h0m0.5-2h0m1 1.5h0m1-1.5h0m0-1h0m1 4.5h0m1 3.5h0m0-8h0m1-2h0m0.5-2.5h0m0.5 10.5h0m1-4h0m0.5-1.5h0m1 4h0m1-3.5h0m0-1.5h0m2.5 2h0m3.5 6h0m7-1.5h0m-88.5 16h0m2.5-0.5h0m3-5h0m0.5-2.5h0m6.5 6.5h0m1.5-9.5h0m1.5 10.5h0m0-12h0m4 0h0m1 5h0m0.5 7.5h0m1-5.5h0m0.5 5h0m0.5-11.5h0m0.5 1.5h0m3 2.5h0m0 0.5h0m0.5 5h0m1 1.5h0m3-6.5h0m0.5-2.5h0m0.5 1.5h0m1 1h0m1 0.5h0m1.5 4h0m1.5-8h0m0.5 5h0m1-4h0m1 4.5h0m0.5-1.5h0m0-4.5h0m1 0h0m2 8.5h0m6.5-6.5h0m0 8h0m0.5-5h0m0.5-1.5h0m0.5 2.5h0m2 5h0m1-6.5h0m0 2.5h0m3.5-7.5h0m1.5-0.5h0m1.5 2h0m1 6h0m1.5 0h0m0.5 0h0m0-3h0m3 0h0m2 0h0m24-1h0m-104 21.5h0m0-2h0m2 3.5h0m1-3.5h0m1 2.5h0m0.5-6.5h0m1.5 0h0m1 2h0m0 5.5h0m0.5-13.5h0m3.5 6h0m20-5h0m2 7.5h0m0.5-3.5h0m18 3.5h0m9-8h0m0.5 4.5h0m1-5h0m1 2.5h0m2-1.5h0m3.5 1.5h0m4 11h0m6-1.5h0m38-7.5h0m0.5-0.5h0m-119 14.5h0m2.5-1.5h0m0.5-2.5h0m1 1h0m15 8h0m6-7h0m2.5 11h0m14.5-9h0m4 5h0m3-7.5h0m2.5 4h0m0.5 3.5h0m0-9h0m1 5h0m0.5-5h0m3.5 2h0m1.5 0.5h0m0.5 9.5h0m7-2.5h0m31.5 2.5h0m11.5-2.5h0m9.5-1.5h0m3-1h0m8-1h0m9.5 0h0m-102.5 12h0m1 7h0m9.5-6h0m32.5-4.5h0m21 3h0m34.5 3h0m-156 19h0m1 0h0m20.5-8.5h0m6 7h0m15-4.5h0m2 3.5h0m2.5 1h0m1.5 0h0m0-9h0m0 7h0m3 0.5h0m2.5-2h0m0-7h0m0.5 8h0m0-3h0m2.5-1.5h0m1 8.5h0m2-9.5h0m5.5 0h0m1-1.5h0m-127 15h0m1.5 1h0m24 1.5h0m24 7h0m3.5 0h0m15 1h0m6-4.5h0m8.5-0.5h0m0.5-2.5h0m0.5 5.5h0m1.5 0.5h0m1.5-9h0m0.5 2h0m0.5 1h0m0.5 4.5h0m1-3.5h0m0 7.5h0m0.5-9.5h0m0 7.5h0m2-11h0m0.5 9h0m2-4.5h0m1.5-1.5h0m5.5 6.5h0m4.5-8h0m1.5 0.5h0m1.5-0.5h0m3-1.5h0m0.5 1.5h0m1 2h0m2 6h0m-186.5 16.5h0m5 1.5h0m3.5-0.5h0m0.5-2h0m2.5-2.5h0m8 1h0m1 3h0m1.5-1.5h0m2.5 2h0m5-3h0m3-5h0m8.5-2h0m2 0h0m14.5 5.5h0m31.5-7h0m50 10h0m6.5-12h0m5 7h0m31-4.5h0m3.5 0h0m5-1.5h0m1 3h0m-216 19h0m4-2.5h0m0.5-0.5h0m0.5 5h0m0.5 2.5h0m2-8h0m0.5 0.5h0m0.5 2h0m0 3.5h0m1.5-3h0m0.5-5h0m1 10h0m0.5-6h0m1.5-2h0m0.5 2h0m0-5h0m1 4h0m0.5 1.5h0m2-8h0m1.5 11h0m0.5-5.5h0m0-4.5h0m0 8h0m0 0h0m0.5 4.5h0m1-7.5h0m0 4.5h0m0-9.5h0m0 6h0m0.5 5.5h0m0-4.5h0m0.5-2h0m1 6.5h0m0.5-0.5h0m0.5-3.5h0m0.5 0.5h0m0-5.5h0m0.5 8.5h0m0 0h0m2-7.5h0m0.5 3.5h0m0.5 5h0m0-3h0m0.5-2h0m0-4.5h0m1-1.5h0m0.5 11.5h0m2-6.5h0m1-5.5h0m0 4h0m2.5-4h0m0 1.5h0m0 5.5h0m6.5-4h0m0 1.5h0m1 4.5h0m5-4.5h0m1.5 4h0m0.5-4h0m3-3h0m2 3.5h0m28 5h0m1.5-3h0m2-6.5h0m0.5 3.5h0m1 7.5h0m19-11h0m50.5 11h0m7-4.5h0m5-5.5h0m-170 12.5h0m0.5 12h0m0-4.5h0m2-4.5h0m0.5-3.5h0m0.5 5h0m0 4h0m0.5-0.5h0m0.5-8h0m1 10.5h0m1-10.5h0m0.5 9h0m0.5 2.5h0m0-4.5h0m0 2.5h0m0.5-5h0m0.5-4.5h0m2.5 8.5h0m2.5-2h0m0.5-5h0m1 7.5h0m0.5-4h0m1.5 7h0m1-2h0m0-5.5h0m0.5 7.5h0m2.5-13h0m0 1.5h0m2 11.5h0m0-8.5h0m0.5 2h0m0.5-5h0m0 11h0m0.5-3h0m1 1h0m0.5-9h0m1.5-1h0m0 2h0m0.5 3h0m0.5-5.5h0m1.5 3h0m0 4h0m1-2.5h0m0.5 7h0m0.5-2.5h0m1-1h0m10-8h0m1 2h0m2-2.5h0m4 0h0m3.5 3.5h0m27-0.5h0m9 4h0m56 4h0m7.5-2.5h0m1.5-2h0m1.5 1.5h0m1.5-0.5h0m0.5-5h0m2.5-0.5h0m0.5 9.5h0m0-7h0m1-2h0m2.5 4h0m1 4h0m0 2h0m0.5-11h0m1.5 2h0m2 10h0m-160 1h0m7 0h0m5 1h0m5.5-1.5h0m131.5 5h0m2.5-5h0m4 2.5h0m1.5 0.5h0m0 3h0m3-0.5h0" stroke="#354b9e" stroke-width="10" /><path d="M1674 2266h0m0 8h0m2-8.5h0m5 13h0m5 6h0m4-0.5h0m-20 12h0m1 2h0m6.5-3.5h0m6 0.5h0m37 1.5h0m1.5-7h0m-186.5 188.5h0m2.5-4.5h0m0 4h0m1 1h0" stroke="#d4e281" stroke-width="10" /><path d="M1651 2285.5h0m30 1.5h0m7.5-8.5h0m1 9h0m5.5 1h0m1-9.5h0m26.5 9h0m5.5-3h0m0.5-4h0m0.5-5.5h0m-72 15.5h0m6 4.5h0m1 4h0m4 0.5h0m2.5-2h0m2.5-0.5h0m2-3h0m2 0.5h0m3.5-3.5h0m2 8h0m0-10.5h0m2.5 0.5h0m0 12h0m1.5-7h0m4.5 3.5h0m7 0.5h0m0.5-4.5h0m6 0h0m54.5 43h0m8.5 9.5h0m-208.5 82h0m5.5-1h0m9.5 0.5h0m-14.5 2h0m6 3h0m12.5-3.5h0m6.5 1.5h0" stroke="#5b87c5" stroke-width="10" /><path d="M1658 2282h0m21 5.5h0m1 1.5h0m4-3h0m35.5-1.5h0m2-2.5h0m-55.5 15h0m0.5-2.5h0m5 0.5h0m3 5h0m2.5-1h0m7.5-2.5h0m5-4.5h0m1-1h0m6.5 0.5h0m25 0.5h0m24.5 24h0m-5 11.5h0m2.5-3.5h0m9 2.5h0m5 2h0m1.5 1h0m5.5-3h0m3.5 3h0m0.5-2h0m-82.5 8h0m31.5 8h0m4-1h0m8.5-9h0m3.5 2.5h0m6 3.5h0m8 4h0m2-1.5h0m4-6h0m6 5.5h0m1.5-8h0m5 11.5h0m3.5-1.5h0m2-0.5h0m-130.5 16h0m28-9.5h0m39-0.5h0m17.5 0.5h0m4.5-2.5h0m1-0.5h0m15 4.5h0m3-6h0m3 7.5h0m1-3.5h0m0.5 3h0m1.5-2h0m4-5h0m-181.5 66.5h0m-20 12.5h0m9 1.5h0m1.5 7.5h0" stroke="#4566b0" stroke-width="10" /><path d="M1688 2268.5h0m-10 17.5h0m13.5-5h0m0 4.5h0m0.5 0h0m2.5-4h0m26.5-4.5h0m1.5-1.5h0m4 11h0m-66.5 15.5h0m5.5-6.5h0m3 1h0m0.5 6h0m0.5-4.5h0m0 2h0m2-1h0m1-8.5h0m8 4.5h0m4.5 5h0m2-0.5h0m3.5-3.5h0m4 3.5h0m1.5-10.5h0m2 4.5h0m8.5-1h0m3-1h0m13 3.5h0m-47.5 27h0m-64 22.5h0m109.5-0.5h0m31.5-1h0m0-12h0m6 10h0m1.5 2.5h0m7-10.5h0m8 11.5h0m-51.5 1.5h0m11 1h0m28 2h0m-124 14.5h0m40-4h0m-61.5 27.5h0m27.5-4h0m14-2h0m-3 10.5h0m-159.5 22h0m16.5 3.5h0m37 11h0m19.5-3.5h0m3.5 2h0m5 1h0m5-6.5h0m15.5 4h0m-40.5 4.5h0m3.5 0h0m10.5 1h0m25-1h0" stroke="#8ab8db" stroke-width="10" /><path d="M1660.5 2259h0m-9 12.5h0m3-7.5h0m1 2h0m5-3h0m4.5 8.5h0" stroke="#f58620" stroke-width="10" /><path d="M1650.5 2266h0m4.5 3.5h0m13.5-4h0m0.5-2.5h0m1 6h0m1.5-1h0m1-3h0m4.5 3h0m-12 11.5h0m7-4.5h0" stroke="#fcd426" stroke-width="10" /><path d="M1464 2409.5h0m3.5 19h0m63.5-12.5h0m-68.5 13.5h0" stroke="#2b3990" stroke-width="10" /><path d="M1658 2258.5h0m-6 5.5h0m6 1.5h0m3.5-3.5h0m2 11h0m1.5-8.5h0m1.5 1.5h0m0.5 7.5h0" stroke="#fab224" stroke-width="10" /><path d="M1650.5 2260.5h0m6.5-1h0m-16.5 10.5h0m1.5 2.5h0m0 2h0m2-12h0m2.5 14.5h0" stroke="#ef5720" stroke-width="10" /><path d="M1675.5 2273.5h0m8-6h0m13.5 4.5h0m-13 3.5h0" stroke="#f6e934" stroke-width="10" /><path d="M1647 2257.5h0m3.5 7h0" stroke="#e9281f" stroke-width="10" /><path d="M1699.5 2271h0m2.5-1h0m0.5 2h0m0 3h0m1.5-2h0m1.5-1h0m0 0h0m0.5-5h0m0.5 2.5h0m3.5 0.5h0m0.5-3.5h0m3.5 4h0m0.5 2h0m3 0.5h0m4 1.5h0m-36 10h0m11-3.5h0m2.5 3h0m1.5-8h0m0.5 9h0m0.5-3.5h0m0.5 5.5h0m0-6h0m2 3h0m0.5-7h0m0.5 3h0m0.5 4.5h0m0-3h0m1 5h0m0-3h0m5-6.5h0m2 11h0m0-10.5h0m1.5 5h0m1 2.5h0m1 2h0m1-6.5h0m0-2.5h0m0.5 8.5h0m-52 16h0m1.5-0.5h0m7 0h0m0.5-8.5h0m3.5-0.5h0m9.5 1h0m5.5 8.5h0m4.5-4h0m1.5 3.5h0m0-12.5h0m0.5 3.5h0m1-2.5h0m1 12h0m0-7.5h0m3-4h0m0.5 7h0m1.5 1.5h0m0 0h0m0.5-3h0m0 1.5h0m1.5 4.5h0m1-7.5h0m0.5-0.5h0m2 7.5h0m0.5 0h0m1-4h0m1.5-2h0m1-3h0m0-3h0m0.5 9.5h0m1-3h0m0.5-7h0m5 2.5h0m3.5-1h0m1.5 3.5h0m-90.5 22h0m5.5-4.5h0m0.5 5h0m2.5-0.5h0m0.5-4.5h0m2-2.5h0m4-6h0m2.5 2.5h0m0.5 1.5h0m2-4.5h0m1 11.5h0m1-6.5h0m0-1.5h0m1.5-2.5h0m0.5 0h0m1 8.5h0m2.5-2h0m0.5-1.5h0m2 2.5h0m2-1h0m0.5 2h0m2-2h0m0-2.5h0m0.5 2.5h0m0.5 1.5h0m2.5-4.5h0m0-3.5h0m1 8.5h0m0-1.5h0m1.5-6h0m0 7.5h0m1.5 1h0m0-10.5h0m0.5 8h0m1-3.5h0m0.5 6.5h0m1-7.5h0m0.5 3h0m1 7h0m2-6.5h0m0-5h0m1-1h0m0 11h0m0.5 1h0m0-3.5h0m1.5-7h0m0.5 2.5h0m1-3.5h0m0.5 7.5h0m1-5.5h0m0.5 5h0m0-7.5h0m1 8h0m0.5 0.5h0m0-6.5h0m0.5-0.5h0m1.5 1h0m0.5 10.5h0m0.5-9.5h0m3.5-2.5h0m2.5 4.5h0m1-6h0m0.5 6.5h0m0.5-5h0m0 1h0m0.5 10h0m0.5 0h0m3-11h0m0 1.5h0m4 9.5h0m0.5-11.5h0m1.5-1.5h0m0 5h0m20.5 1h0m-101 16.5h0m0.5-5h0m0-2.5h0m3 5h0m1 4h0m3.5-8.5h0m13.5 6h0m3-6h0m0.5 5h0m1-3h0m5-0.5h0m4-1h0m0.5 1.5h0m7.5 9.5h0m3-1.5h0m0.5-7h0m2 5.5h0m0.5-5.5h0m2.5 8.5h0m4.5-6.5h0m1-2h0m1.5-0.5h0m18 6h0m0.5-0.5h0m26-7.5h0m16 8.5h0m12 0h0m1 1h0m4-0.5h0m-156 7.5h0m5 3h0m7.5 4.5h0m6-12h0m0.5 4.5h0m9.5-0.5h0m0.5 0h0m16.5 6.5h0m1-5.5h0m13.5-3.5h0m2 2h0m3-0.5h0m2.5 2h0m1-4h0m2.5 0.5h0m0.5 5h0m1-4.5h0m20 11.5h0m6.5-8.5h0m20.5 5h0m14-1h0m-113 16h0m8.5-3.5h0m5.5-3h0m5 3.5h0m2.5 5h0m6.5-0.5h0m1-8.5h0m0 10h0m24.5-1.5h0m62-7h0m1.5 0.5h0m9-5.5h0m-198 26h0m58 0h0m26-4.5h0m1 1.5h0m3 1.5h0m1-6h0m0.5-2h0m3 4.5h0m1-3h0m1.5-0.5h0m0.5-2.5h0m1.5 2h0m1.5 5.5h0m2.5-7h0m5.5 7h0m-117 17h0m55.5 1h0m3.5-6.5h0m1-0.5h0m7 2.5h0m5-1h0m9-1.5h0m2.5 2h0m0.5-1.5h0m2 7h0m2-5h0m1.5-2h0m1 5h0m4-6h0m2.5 6h0m0-2.5h0m0.5-8.5h0m1 8.5h0m1-1.5h0m0 5h0m2-10h0m2 6.5h0m0.5-9h0m2.5 14h0m0.5-1.5h0m2.5-12h0m4.5 0.5h0m-189.5 24h0m0.5 2h0m1-2.5h0m2.5 2.5h0m8-3h0m8.5-2.5h0m2-1h0m0.5 5h0m2.5-5.5h0m6.5-2h0m0.5-1.5h0m5.5 3.5h0m2 0h0m3-0.5h0m20-4.5h0m12 12h0m5.5-12h0m51.5 1.5h0m1.5 3h0m2 6.5h0m13-11h0m12.5 1.5h0m1.5-1h0m3-1.5h0m9.5 2.5h0m3.5-1.5h0m1.5-0.5h0m4 2h0m-216 24h0m1.5 0h0m2-1.5h0m0 0.5h0m1.5 0h0m1.5 1.5h0m0.5-4.5h0m0.5 2h0m1 1.5h0m7.5-9h0m1 3h0m0 7.5h0m1.5-8h0m0 6h0m0.5-7h0m2.5 5.5h0m0-1.5h0m0 3.5h0m1-10.5h0m0 2h0m0.5 3h0m1.5-3.5h0m1 8h0m1.5-4h0m0 1.5h0m0.5-8h0m0 10h0m0.5 3h0m1-8h0m0.5-3.5h0m3 10h0m1.5 1.5h0m0-9h0m3.5 4h0m2.5 5h0m1.5-2.5h0m0.5-8h0m0.5 3h0m1 2.5h0m0.5-7.5h0m2 8.5h0m3.5-9h0m3.5 6.5h0m7.5-6h0m1 2h0m99.5 6.5h0m3 2h0m-164.5 12.5h0m1-8.5h0m0.5 0h0m0 4h0m2 6.5h0m4-3.5h0m0-8.5h0m0.5 12.5h0m0-11h0m1 9h0m0-7.5h0m2 4h0m0 2.5h0m1-2h0m1.5-3h0m2.5 1h0m0-2h0m0 8.5h0m0.5 1.5h0m1-4h0m0.5-3h0m0.5 1.5h0m0 3.5h0m0-4.5h0m1 6.5h0m0-8h0m1-5h0m1 1.5h0m0 7h0m1-5.5h0m0.5 0.5h0m0.5 1.5h0m0.5 2h0m1 6h0m1-4h0m0-2.5h0m1-3.5h0m0-3h0m0.5 10h0m0.5-8.5h0m0.5 5h0m1 2h0m0.5-3.5h0m3.5 0h0m0.5 5.5h0m0.5-1h0m0.5-8.5h0m0 4.5h0m1 1h0m0-3.5h0m2.5-3.5h0m2 2.5h0m1-1h0m2-0.5h0m24.5 0.5h0m23-1.5h0m44.5 10h0m3 1h0m16-0.5h0m4.5-0.5h0m0.5 3h0m0.5-7h0m0.5-5.5h0m0.5 10.5h0m1-1.5h0m3.5-3.5h0m2.5-2h0m0.5 4h0m0-5.5h0m4 5h0m0.5-1.5h0m-144.5 8h0m135.5 3h0m2.5-1.5h0m2.5 4.5h0m0.5-5.5h0" stroke="#354b9e" stroke-width="10" /><path d="M1673 2270h0m10.5 2.5h0m9 2h0m4 0.5h0m-41 11h0m31 2h0m1.5-3h0m0.5 2h0m3-9.5h0m3.5-2.5h0m1.5 11h0m0.5-1.5h0m0-1.5h0m1-8h0m2 8h0m6-2.5h0m14 1h0m3.5-4h0m-70 22h0m9 1h0m1-11.5h0m4.5 7h0m8.5 1.5h0m0-1.5h0m4 0.5h0m2 3.5h0m7.5-11h0m3.5 4h0m0 6.5h0m4-4h0m23.5-1h0m-54 12.5h0m52.5 1h0m15.5 14h0m20 7h0m2.5-7.5h0m12.5 8h0m1.5 0.5h0m-70 6h0m48-1h0m0.5 5h0m2-5.5h0m3-3h0m0.5 9h0m4.5-3.5h0m2.5 0h0m4-2h0m3 7.5h0m5.5-3h0m-130 13.5h0m79.5-4.5h0m11-1.5h0m8.5 2h0m1.5-3.5h0m2 2.5h0m8-1.5h0m20-0.5h0m-130 13.5h0m-25 24h0m-78 44h0m27-1h0m7-4.5h0m36.5-1.5h0m-24 10h0m-54 46.5h0m1.5 0h0m3.5-1h0" stroke="#b4d8ca" stroke-width="10" /><path d="M1681.5 2267h0m16.5 4h0m13 2h0m2-5h0m3 1h0m0.5 2.5h0m1.5 2h0m-68.5 14.5h0m19-6h0m6.5 6h0m7-3.5h0m4 3h0m7.5-6.5h0m0.5 2.5h0m1 3h0m31-4.5h0m-69 18h0m5-3h0m4-3.5h0m3 4.5h0m1-4h0m7.5-3h0m3 8h0m7.5-7h0m4.5 7.5h0m8-0.5h0m14-7.5h0m5.5 6.5h0m-69 5.5h0m11 10.5h0m27-2h0m14-8h0m11.5-1h0m-68 18.5h0m12 3h0m6-1.5h0m4.5-4h0m-42 13.5h0m28.5 12h0m2-8.5h0m30.5-1h0m21.5 9h0m37.5-8h0m-24.5 13.5h0m-135.5 16.5h0m48.5 10.5h0m4.5 0.5h0m7 8.5h0m4.5-2h0m11 3h0m-128.5 9.5h0m71-5.5h0m2 1.5h0m60-3h0m-177.5 25h0m126 0.5h0m-126 3h0m10.5 0.5h0m36.5 7.5h0m27 0h0m3.5-1.5h0m3.5 3.5h0m43.5 1h0m-54 3h0m14.5-0.5h0m1-2h0m14.5 0h0" stroke="#8ab8db" stroke-width="10" /><path d="M1678.5 2286h0m4-0.5h0m6 0h0m6.5-8.5h0m29.5 6.5h0m-65.5 15h0m1.5 1h0m4-4.5h0m0.5-5.5h0m7.5 2.5h0m6.5 2.5h0m7 7h0m2-7.5h0m0.5-2.5h0m1 2h0m6.5 7.5h0m27.5-6.5h0m34 41h0m4 8.5h0m6.5 0h0m-27.5 7.5h0m-194 73.5h0m10.5 2h0m1.5-0.5h0m18.5 1h0m-14 3.5h0m9 1h0" stroke="#5b87c5" stroke-width="10" /><path d="M1639.5 2261h0m3.5-2h0m-7 4h0m3 1.5h0m2-2.5h0m5.5 8h0m8.5 5h0m-10 1.5h0m5 0h0" stroke="#ef5720" stroke-width="10" /><path d="M1674.5 2263.5h0m3 3h0m0.5 6h0m0-3h0m3.5-1h0m1-3.5h0m3.5 6h0m6.5 0h0m2 3h0m32.5 0.5h0m-36.5 3h0m-30 12.5h0m18 1h0m-15 52h0m-18.5 13h0m62.5-8.5h0m-146 84.5h0m-11 31.5h0m-14.5 11h0m1 4.5h0m2-3h0" stroke="#d4e281" stroke-width="10" /><path d="M1687 2280.5h0m1.5 8h0m11.5-10h0m1 5.5h0m20-4.5h0m-49.5 10.5h0m3.5 6h0m2.5 3h0m0.5 2h0m5-3h0m2.5-7h0m3.5 6h0m1 2.5h0m7-8h0m1-1h0m2 4.5h0m6 7h0m13-7.5h0m8.5 14h0m5 7.5h0m4 4.5h0m26 3.5h0m0-3.5h0m-43.5 24.5h0m0.5-2h0m11-4.5h0m2 6h0m0.5-2.5h0m7.5-1h0m4 2.5h0m0.5-3.5h0m1.5-2.5h0m2.5-4h0m1 0h0m3-0.5h0m3 4h0m0.5-4.5h0m6.5 8h0m1-6h0m1.5 9h0m1-2.5h0m6 0h0m-69 8.5h0m17.5-1.5h0m5-1h0m11.5 5h0m1.5-1h0m17-3h0m-118 19.5h0m-20 47h0m-145.5 9h0m90.5 5h0m9-4.5h0m34-4.5h0" stroke="#4566b0" stroke-width="10" /><path d="M1681 2293.5h0m-205 118.5h0m-17.5 13.5h0m1-8h0m77.5 24h0" stroke="#2b3990" stroke-width="10" /><path d="M1651 2257.5h0m3 16h0m2-10h0m1.5 4.5h0m1.5-5.5h0m4.5 6.5h0m1.5-6h0m5.5 7.5h0m0.5-4.5h0m-23 11h0" stroke="#fab224" stroke-width="10" /><path d="M1673.5 2272.5h0m24.5 7.5h0" stroke="#f6e934" stroke-width="10" /><path d="M1654 2260.5h0m-13 7h0m4-2.5h0" stroke="#e9281f" stroke-width="10" /><path d="M1649 2259h0m5 7.5h0" stroke="#f58620" stroke-width="10" /><path d="M1662.5 2264.5h0m2-3.5h0m6.5 17.5h0" stroke="#fcd426" stroke-width="10" /><path d="M1689 2272.5h0m6.5 1h0m11 0.5h0m14.5-1h0m-38 10h0m1.5 5h0m2.5-13h0m0.5 7h0m4.5-5.5h0m11 3.5h0m4.5 8h0m3-3.5h0m1 3h0m7-3h0m3 1.5h0m2 0.5h0m3.5-8h0m3-1.5h0m-67 24h0m19.5-4.5h0m8.5-5h0m5.5 6h0m0 0h0m-20.5 8.5h0m11.5 6h0m21.5-2h0m17-4.5h0m4 5h0m-64.5 12h0m16.5 12.5h0m11-0.5h0m36 9.5h0m0.5-4h0m6.5 2.5h0m1.5-4h0m20.5 5h0m-15.5 4h0m8-1.5h0m12.5 2.5h0m-101.5 23h0m1.5-6.5h0m1.5 2.5h0m-19 16h0m12.5 0h0m-153.5 11.5h0m51 33h0m4.5-5h0m1.5 5h0m6 0h0m4.5 1h0m9-10h0" stroke="#8ab8db" stroke-width="10" /><path d="M1699.5 2271.5h0m3 1.5h0m1-3.5h0m2.5-1h0m3 5.5h0m0.5 0.5h0m1-6h0m1.5 3.5h0m0-2h0m0 0.5h0m2 3.5h0m2-2.5h0m1 1.5h0m0-3.5h0m1-0.5h0m0.5 3.5h0m0.5-2h0m3.5 1.5h0m-24 6.5h0m2 2.5h0m1.5 7.5h0m1-3h0m2-2.5h0m3.5 3.5h0m1-9.5h0m0.5 10.5h0m0-1h0m2.5-7.5h0m0.5 5h0m1-2.5h0m0-1.5h0m0.5 6h0m0.5-3h0m1 6h0m0-13.5h0m2 6.5h0m-59.5 19h0m15.5-9h0m9 10.5h0m12.5 0h0m4.5-7h0m0 4h0m2-8h0m0.5 4.5h0m0 1h0m1-3.5h0m0.5 7.5h0m0.5-7.5h0m0 0.5h0m2.5 8h0m1-9h0m0.5-1.5h0m0.5-2h0m0 13.5h0m1-2h0m1-1.5h0m1-3h0m0.5-5.5h0m0.5 1.5h0m1 2.5h0m0.5-3h0m0.5-2h0m13.5 7.5h0m-79 6.5h0m0.5 11.5h0m2-9h0m0.5 5.5h0m3-3h0m1.5 0.5h0m1.5 4h0m0-6.5h0m0.5-1h0m1.5 4.5h0m2-4h0m1.5-0.5h0m0 1h0m2-3h0m0.5-0.5h0m0.5 10h0m1.5-8.5h0m0.5 2h0m3.5 8h0m1.5-10h0m1 7h0m1.5 5h0m0.5-1.5h0m1-9.5h0m0.5 1h0m3-1h0m0.5 9.5h0m0.5-12.5h0m0.5 5h0m2-0.5h0m0.5-2h0m0 3.5h0m0.5 6.5h0m0-3.5h0m0-7.5h0m0.5-1.5h0m1 6h0m0.5-3h0m0 2h0m0 6.5h0m0-10.5h0m4.5 0.5h0m0.5 4h0m1-1.5h0m1 8h0m0-5.5h0m1 1.5h0m0 4h0m1-10h0m0 2h0m1 4h0m1 2.5h0m0 0.5h0m1.5-3.5h0m1 0.5h0m0.5-1.5h0m0-0.5h0m1.5 0.5h0m3.5-5h0m0 4h0m1-2.5h0m1.5-1h0m1.5 5h0m0.5-5h0m1 0.5h0m2 10.5h0m16-12h0m1 1h0m-101 20h0m6 2.5h0m3-2.5h0m1-5h0m0.5 5.5h0m6-5.5h0m10 7h0m1-5.5h0m1.5 0.5h0m12.5-3.5h0m4.5 10h0m2-8h0m1.5-0.5h0m1 3.5h0m4 1h0m0 5h0m1-1.5h0m1-4h0m2-3.5h0m0.5 2.5h0m1 3.5h0m0-6h0m1.5-2.5h0m1.5-1h0m0.5 6.5h0m2.5 3.5h0m6-6h0m5-1.5h0m47.5-1.5h0m13.5 8h0m-147.5 12h0m7 5h0m1-9h0m1.5 2h0m16 4h0m22-2h0m3 0h0m1-5h0m3.5 5h0m1 2h0m1-1.5h0m4 0h0m1.5 0.5h0m4 4h0m7.5-5.5h0m6 7h0m4 0h0m8.5-6.5h0m11.5 5.5h0m2 1h0m27.5-2h0m1.5-4h0m8-5.5h0m1.5-1.5h0m7 1h0m-172 19.5h0m49-1.5h0m2-2.5h0m9.5 8h0m1 1.5h0m5 1h0m3.5-3h0m1 2h0m3.5-6.5h0m15 5.5h0m27.5-10h0m1.5 0h0m33 1.5h0m4.5 1h0m2.5 1.5h0m6.5-2.5h0m5 0h0m-120 24h0m2-6h0m2-0.5h0m0 7h0m2-8.5h0m0-4h0m3 9.5h0m0-4h0m0 5.5h0m3-9.5h0m0.5-2h0m0 10h0m2.5-5.5h0m0 2.5h0m4-7h0m2 3h0m3.5-1.5h0m-140 18h0m32.5 4.5h0m16.5-1.5h0m33 3.5h0m10-3.5h0m3.5-1h0m6 5h0m1-5.5h0m0.5 5.5h0m0.5-9.5h0m2 9h0m0.5-11.5h0m0 6.5h0m0 2.5h0m2.5-2h0m5-0.5h0m0.5 4.5h0m4-6.5h0m2 6.5h0m3-5.5h0m0.5-2.5h0m1 4h0m4 5h0m1-6h0m-182.5 16h0m0 1.5h0m14-1h0m1.5 0h0m5.5-2h0m3.5-4h0m1 4h0m6-4h0m1 1.5h0m11 0.5h0m30.5 5h0m27-0.5h0m22.5-9.5h0m3.5 3.5h0m1 1.5h0m1-4h0m2.5 1.5h0m1 8.5h0m2-7h0m8.5 2h0m6.5-3.5h0m5-2h0m2 0h0m0.5 2.5h0m14-2.5h0m5.5 3.5h0m2-3.5h0m1.5 5.5h0m1-4.5h0m1 3.5h0m-216 22.5h0m4-1h0m0.5-5h0m1.5 2h0m1-1h0m1.5-4h0m1 9h0m0.5-7h0m1 2.5h0m0.5 2h0m1-7h0m1 2.5h0m3.5 3h0m2-6h0m0 2h0m0 1h0m1.5 5.5h0m0.5-8.5h0m3 5.5h0m0.5-6h0m0-0.5h0m2-2.5h0m0.5 13h0m0.5-13h0m0.5 3h0m1 2h0m1-3.5h0m2.5 7.5h0m1.5-7h0m12.5 4h0m0.5-1h0m5-4.5h0m1.5 11h0m1-6h0m2-2h0m8-3.5h0m94.5 11h0m8-3h0m1 4h0m3-0.5h0m1.5-0.5h0m-176.5 8.5h0m0 0.5h0m0.5-5h0m1 6.5h0m1.5 1.5h0m0.5-5h0m0 3.5h0m0.5 2.5h0m0.5-7h0m0 5h0m0.5 3.5h0m0.5-12h0m1 11.5h0m0-8.5h0m0 4h0m1-4h0m0 5.5h0m0.5-6h0m2.5 2h0m0-1h0m0.5 10.5h0m0.5-6h0m0 3.5h0m2-9.5h0m0 9.5h0m0.5 1h0m0.5-9.5h0m0.5 7.5h0m1-9.5h0m0 1h0m0 5.5h0m1 6h0m0-2.5h0m0.5-9.5h0m0.5 9h0m1.5-7.5h0m2.5 0h0m0 4.5h0m0.5-6h0m1 3.5h0m0-5h0m0 10.5h0m0.5-1.5h0m1 4.5h0m1.5-8h0m0 1.5h0m0.5 3.5h0m0-6.5h0m0.5-1.5h0m0.5 3.5h0m1 3h0m2 2.5h0m0.5-3.5h0m1 1.5h0m1 3h0m0.5-3h0m0.5-5.5h0m0-3.5h0m0.5 1h0m1 11h0m1-10.5h0m2.5 2.5h0m8.5 1.5h0m3.5-4h0m1-1.5h0m6.5 0h0m0 1.5h0m17.5-1.5h0m5 2.5h0m18.5 1h0m3 0h0m36 7.5h0m25-6.5h0m2.5-5h0m0.5 8h0m2.5 3h0m0-10.5h0m3.5 8.5h0m2-4.5h0m-165 10.5h0m4-0.5h0m3 1h0m4.5-1h0m1.5 1.5h0m5.5-1.5h0m134.5 6h0m1.5 2h0m2-6.5h0m0 4h0m1.5 2h0m0.5-7.5h0m0.5 3.5h0m2 1h0m0 2.5h0m3.5-3.5h0m1-2.5h0" stroke="#354b9e" stroke-width="10" /><path d="M1645.5 2260.5h0m-8 5.5h0m2 1h0m0.5 4h0m1.5-7.5h0m0 7h0m4-7.5h0" stroke="#e9281f" stroke-width="10" /><path d="M1676.5 2263h0m-25.5 20h0m21 0.5h0m7.5 5.5h0m1-4h0m2 2.5h0m11-3.5h0m7.5 1h0m3.5-8h0m-35 23.5h0m1 0h0m3-7h0m1-2.5h0m9 1h0m3.5 3h0m0.5 5.5h0m7.5-6.5h0m6 3.5h0m1 3h0m19.5-3h0m-61.5 15h0m12.5-3h0m12 1h0m6 4.5h0m32-7.5h0m11 7.5h0m-9.5 27.5h0m7 0h0m3.5-4h0m6 4.5h0m3-0.5h0m6.5-11.5h0m4.5 12.5h0m0.5-10.5h0m1.5 9h0m5-2.5h0m2-0.5h0m5.5-7.5h0m-64.5 16h0m25 3h0m3-1h0m7.5-2h0m8.5 4.5h0m0-3h0m23.5-1.5h0m-134.5 17.5h0m5.5-3h0m16.5 31h0m-106 32.5h0m2.5-1h0m-17 49.5h0" stroke="#b4d8ca" stroke-width="10" /><path d="M1662.5 2270h0m3 0h0m2 2h0m3-9h0m-4.5 12.5h0m7 1.5h0" stroke="#fcd426" stroke-width="10" /><path d="M1682 2273h0m-4.5 13h0m4 2.5h0m15 0h0m13-1h0m7-3.5h0m1.5-9h0m3 8.5h0m1.5-4h0m-64.5 19.5h0m10-4h0m3.5-2h0m5.5-1.5h0m1 9h0m32.5 3h0m45 12.5h0m-4.5 12.5h0m3-2.5h0m11.5 3.5h0m-41 14h0m3.5-0.5h0m3-2h0m3 2h0m3 1.5h0m1.5 0h0m3.5-1h0m5-1.5h0m3 1.5h0m4-2.5h0m5.5-9.5h0m3 3.5h0m4 4.5h0m1.5-5.5h0m0 4.5h0m2-6h0m1.5 7h0m1.5 4.5h0m1-10.5h0m-118 25h0m28-0.5h0m39.5-10h0m10.5 2.5h0m3-4h0m1.5 3h0m11 1.5h0m8 0h0m0.5-3h0m0.5 4.5h0m3.5-5h0m-126 20h0m16.5 4.5h0m57.5-12.5h0m-101 54.5h0m-49.5 11h0m1.5 1h0m12-1h0" stroke="#4566b0" stroke-width="10" /><path d="M1666.5 2260h0m-8.5 11.5h0m1.5-6h0m1.5 0.5h0m1 6h0m1-5h0m3 1.5h0m0.5-4h0m3.5 9.5h0" stroke="#fab224" stroke-width="10" /><path d="M1655 2260h0m-17.5 2.5h0m5 3h0m1 2.5h0m0.5 4h0m2 0.5h0m0 2.5h0m1.5-12h0m3.5 5h0" stroke="#ef5720" stroke-width="10" /><path d="M1689 2269.5h0m-15 12h0m2.5-0.5h0m4 6.5h0m12.5-2h0m1.5-8h0m0 9.5h0m15-6h0m15.5-3h0m1-1h0m-69.5 22.5h0m10.5-2.5h0m0.5 2.5h0m1-6h0m1-2h0m1 0h0m3 9.5h0m1.5-1.5h0m4-2.5h0m2.5-1.5h0m5-5h0m0.5 11h0m5-8h0m6 7h0m-76 67.5h0m-77 55.5h0m18.5 0.5h0m1 7.5h0m3-1h0m2-1h0m17 0h0m8.5 2h0" stroke="#5b87c5" stroke-width="10" /><path d="M1687.5 2287h0m-32.5 14h0m-192 110.5h0m12.5 0h0m-22.5 10.5h0m16 4h0m40.5-8h0" stroke="#2b3990" stroke-width="10" /><path d="M1647.5 2259h0m-3.5 11.5h0m3-4.5h0m0.5 5h0m0.5-3.5h0m0.5-2.5h0m0.5-4h0m3 5h0m5.5 8.5h0m1.5-7h0m1.5 3h0m-8.5 5h0m1.5 1h0" stroke="#f58620" stroke-width="10" /><path d="M1679 2266h0m11.5 4.5h0m-13 6.5h0m5.5 7.5h0m7 2h0m6-10h0m0.5 9h0m22.5-7h0m-58.5 19h0m10.5-2h0m8 3.5h0m13.5-4.5h0m59 32.5h0m-9 19.5h0m22.5 3.5h0m-226.5 116.5h0m-2.5 6h0" stroke="#d4e281" stroke-width="10" /><path d="M1676 2272.5h0m12-0.5h0m-153.5 203.5h0m3-0.5h0" stroke="#f6e934" stroke-width="10" /></g><text x="1444.8" y="2244" font-size="23.6" >CCR5</text><text x="1535.2" y="2515.9" font-size="22.5" >Expr.</text><rect x="1611.6" y="2501.1" width="77.5" height="15.6" fill="url(#jet)"/><text x="1625.9" y="2544.6" font-size="22.5" text-anchor="middle" >0</text><text x="1674.5" y="2544.6" font-size="22.5" text-anchor="middle" >6</text><g stroke-linecap="round" fill="none"><path d="M2091 2329.5h0m-9 12.5h0m22-1h0m-105.5 17.5h0m5-1h0m-23.5 9.5h0m13 0h0m3.5 4h0m-68.5 13.5h0m61.5-3.5h0m5.5-7.5h0m-173.5 23.5h0m13-2.5h0m3.5-4h0m1 2h0m8.5-2h0m2 2.5h0m0.5-2.5h0m15.5 5.5h0m22 1.5h0m58 1.5h0m48.5-5.5h0m-212.5 16.5h0m3-0.5h0m1.5 3.5h0m1-3h0m1-4h0m3 6.5h0m1-7h0m1.5-1.5h0m2-0.5h0m3 3.5h0m1-6h0m1 6.5h0m0.5 2.5h0m4 3.5h0m0-12h0m1 0h0m5.5 1.5h0m2 0.5h0m4.5 11h0m1.5-10.5h0m11 4h0m1 3h0m0-9h0m0 5h0m3-3h0m2.5 3.5h0m1-5.5h0m1 2h0m70.5 7.5h0m-134 9.5h0m5 6h0m1-12h0m3.5 9.5h0m0-8h0m4 0.5h0m0.5 10.5h0m1-8h0m2.5 6.5h0m0-9.5h0m1.5 6.5h0m1 3.5h0m2-4h0m1.5 4h0m0-6.5h0m1.5 0.5h0m0.5 2h0m4.5 2.5h0m1.5-1h0m3.5-7.5h0m0.5 2h0m0.5 7.5h0m9-10h0m11-1h0m12 2h0m19-1h0m14 7.5h0m15-0.5h0m3 5.5h0m4-4.5h0m0.5 4h0m10-0.5h0m3.5-8.5h0m1.5 2h0m1.5 5h0m30.5-4.5h0m-153.5 9h0m98.5-0.5h0m52.5 7h0m3-3h0m0.5-4.5h0" stroke="#8ab8db" stroke-width="9" /><path d="M1979 2259h0m-9.5 3.5h0m3 5h0m0-5.5h0m14.5 4h0m15.5 0h0m11.5-1h0m6.5 7.5h0m13.5 0.5h0m1-3.5h0m9.5-1.5h0m-25.5 14h0m2 5.5h0m14-5h0m1-5.5h0m1 3h0m4 1h0m6.5 8h0m3.5-1h0m2-6h0m3.5-4h0m-55.5 20h0m4.5-6h0m0.5-1h0m0.5 9h0m0.5-6.5h0m7.5 9h0m2-13h0m3 2.5h0m6.5 10.5h0m4.5-5.5h0m1-3.5h0m2.5 6h0m7-8h0m1 3.5h0m0 3.5h0m4-0.5h0m2.5-4.5h0m-65 13h0m1.5-3h0m7 7h0m0-2.5h0m2 8h0m1.5-10h0m4 2.5h0m5 2h0m1.5-5.5h0m1.5 1h0m3-1h0m3.5-2h0m6 13h0m4-11.5h0m0 6h0m3.5-5h0m-59.5 17.5h0m3.5 4h0m3.5-8.5h0m33.5 10h0m4.5-3h0m4 4h0m-51 6h0m37 2.5h0m5.5 2h0m0-7h0m3 7.5h0m6.5-6.5h0m36 8.5h0m1.5 0h0m1 1h0m25-5h0m12.5-1.5h0m2-2.5h0m2 10.5h0m-114.5 3h0m12.5 1.5h0m44-0.5h0m25.5-2h0m1.5 0h0m3 2.5h0m5.5-0.5h0m-106.5 16h0m5.5 14.5h0m0.5 1.5h0m11.5-6h0m-183 35.5h0m4 6.5h0m68 2h0" stroke="#fcd426" stroke-width="9" /><path d="M1971 2261h0m7.5-3.5h0m2 1.5h0m1.5 1.5h0m-5.5 4.5h0m1-2h0m4.5 1.5h0m1.5-0.5h0m2 9.5h0m1-4h0m4-2h0m0.5-2h0m1.5 0.5h0m4-3h0m1.5 1.5h0m1 7.5h0m4-4h0m2 2h0m2 3.5h0m0.5-1h0m5.5-4h0m4.5 0h0m2 0h0m2.5 2h0m9.5 0.5h0m2.5-1h0m0 2h0m2.5-3.5h0m0.5 3.5h0m0.5-3.5h0m5-2h0m0 6.5h0m1-3h0m-67 6.5h0m6.5 6.5h0m5.5 1.5h0m22.5 4.5h0m4-4.5h0m3 3h0m0.5-12.5h0m1.5 3.5h0m1.5 5.5h0m4.5-2.5h0m1.5-5h0m0.5 9.5h0m0 2.5h0m4-7.5h0m2.5-2h0m1.5-2h0m8.5 9h0m1-4.5h0m0-1.5h0m2 5h0m0.5-8h0m1.5 5h0m0.5-4h0m1 0.5h0m1.5-1.5h0m0.5 9h0m7-1h0m-73 7.5h0m2-1.5h0m1 10h0m4-0.5h0m2 0.5h0m0.5-11.5h0m1.5 13h0m2-6h0m0.5 6h0m0.5-11h0m1 11h0m1-7.5h0m3.5-0.5h0m2 0.5h0m1.5-4h0m1 3.5h0m1-3h0m1 2h0m1-4.5h0m0.5 7.5h0m0.5-1.5h0m1 1.5h0m1-5.5h0m0.5 10.5h0m2.5-10h0m1 2h0m0.5-4.5h0m0 12h0m0.5-10h0m0.5 7h0m2.5-5h0m1 6.5h0m2-2h0m1.5-4h0m0.5 5h0m0 0h0m2.5 0.5h0m0.5-8.5h0m1 5.5h0m0.5-1h0m5 4.5h0m1.5 3.5h0m0-8h0m2 7h0m3-10h0m3 7.5h0m2.5-1.5h0m1.5-0.5h0m6-6.5h0m1.5 3.5h0m-90.5 22h0m3-0.5h0m12.5-1.5h0m2-8.5h0m3-3h0m0.5 11.5h0m2.5-10.5h0m1 0h0m0.5 8.5h0m0.5-2h0m3.5-3.5h0m0 6.5h0m3-3h0m5.5-1.5h0m0.5 8h0m1.5-11h0m0.5-1h0m2 8.5h0m1.5-6h0m0.5-3h0m2.5 8.5h0m0-5.5h0m1.5-3h0m0.5 0.5h0m1-1h0m0 2h0m0 8.5h0m1.5-2.5h0m2.5-7.5h0m1 4h0m2 1h0m0.5-6h0m0 5.5h0m2.5 2h0m5.5-7h0m11.5 12h0m31.5 0h0m-116.5 13h0m6-8.5h0m0-2.5h0m23.5 4h0m2-1.5h0m3 2.5h0m6.5-4h0m7 7h0m34.5 0.5h0m53 3h0m1-2h0m2.5 0h0m-153 8h0m11.5-3h0m1 10.5h0m2.5-11.5h0m1.5 1h0m23 12h0m20-12h0m6.5 6h0m0.5-3.5h0m4 0.5h0m1 8h0m0.5-8.5h0m5-0.5h0m2.5 3h0m6-1.5h0m33.5 5h0m2 0h0m9.5-3.5h0m3-2.5h0m12 9h0m5-9h0m1.5-1h0m4 9h0m-130.5 16h0m2.5-2h0m11-4h0m57.5-5h0m5-1.5h0m5.5-0.5h0m1 2h0m2-1h0m19.5-1.5h0m4-0.5h0m2 5.5h0m2-1.5h0m3 0h0m0.5-2.5h0m6.5 2h0m-156 22.5h0m-59.5 5h0m65 3.5h0m-129 19h0m-16.5 11h0m27.5-3h0m-45 22h0m25-2h0m11-9h0m-19 13.5h0m70.5 44h0" stroke="#f6e934" stroke-width="9" /><path d="M1978.5 2266h0m62 8h0m-37 1h0m1 2h0m4.5 9h0m14.5-9.5h0m18 10h0m8-11.5h0m5 13h0m-35.5 12.5h0m19 1.5h0m12.5-12.5h0m3 0h0m2 2.5h0m-79.5 20h0m28 3h0m50-7.5h0m8-3.5h0m6.5 5h0m17 17h0m1-8h0m14 8h0m2.5 4h0m-110 11.5h0m16.5-3h0m23.5 6h0m8-0.5h0m28-5.5h0m3 4.5h0m12.5-3.5h0m12.5 4h0m1-4h0m0.5-6.5h0m3.5 10.5h0m4 1h0m-90 13.5h0m19.5-8.5h0m3.5-3.5h0m17 4h0m21-0.5h0m3.5-0.5h0m5 3h0m3.5-1h0m1 1.5h0m13.5-5h0m-135.5 20h0m1.5 0h0m72-8h0m-98.5 33h0m-142.5 12h0m1.5-0.5h0m1-2h0m1 5h0m2.5-0.5h0m-28.5 10h0m4.5 5.5h0m9-5h0m101 9h0m53.5-8.5h0m-46 15.5h0m-33.5 44h0m0-3h0" stroke="#d4e281" stroke-width="9" /><path d="M1977.5 2272.5h0m2.5-7.5h0m2.5 3h0m7 0h0m12.5-5h0m32 12h0m14.5-5.5h0m-70.5 7.5h0m39.5 7.5h0m10.5-3.5h0m2.5-2.5h0m3-1h0m2.5 6.5h0m0.5-8.5h0m1 5h0m1 3h0m6.5 4.5h0m-56 14.5h0m2.5-0.5h0m6-6.5h0m4 0.5h0m9-3h0m0 6h0m10-5h0m1.5 2h0m5.5 5h0m4-1.5h0m8-3h0m2 4.5h0m8.5-7.5h0m-56.5 15h0m0.5-2h0m4 2.5h0m10.5 6.5h0m0.5-3h0m4-3.5h0m7-5h0m6.5 8.5h0m2-6h0m3.5 4h0m13.5 5.5h0m-84 11h0m4.5-4h0m12-1.5h0m17 0.5h0m87.5 6.5h0m11.5-4.5h0m-105 12h0m6 7h0m18-11.5h0m36.5 12h0m15-1.5h0m1 1h0m13-1h0m3 1.5h0m4-2.5h0m5.5 2.5h0m1-8.5h0m9 7.5h0m2-3h0m-34 7h0m-88.5 22h0m-114 10.5h0m91 1.5h0m21.5 2.5h0m-168 14.5h0m4 3h0m3-4.5h0m23.5-5h0m145.5 0.5h0m-206 20.5h0m3-3h0m2.5-2h0m8.5 7.5h0m2-5.5h0m2 2h0m1.5 1h0m2.5 0h0m1.5-4h0m1.5 2h0m4-5.5h0m1.5 1h0m10-3.5h0m4.5 5.5h0m1 6h0m37.5-1h0m-86 8h0m1 5h0m1 1.5h0m4-3.5h0m3.5-1.5h0m2-4h0m1.5-2h0m3.5 5.5h0m2.5-3.5h0m0-2.5h0m2 8.5h0m1 2h0m4-10.5h0m3 7.5h0m0.5 1.5h0m2-9h0m2 4.5h0m9-2.5h0m2.5 3.5h0m3.5-4h0m76.5 7h0m-118 6h0m4-0.5h0m8 0h0m147 3.5h0m1.5 2h0m2-3h0m-78.5 41.5h0m0 4h0m1-3.5h0" stroke="#b4d8ca" stroke-width="9" /><path d="M1984.5 2372h0m20.5-12h0m-36 20.5h0m1-4h0m0 6h0m5.5 0.5h0m5-2.5h0m6-5h0m2 6.5h0m-149.5 12.5h0m131-6.5h0m20.5 3.5h0m-200.5 16.5h0m17.5-6.5h0m1.5 4h0m4.5 2.5h0m10 2.5h0m6-3.5h0m39-4h0m82.5 1h0m1.5 8.5h0m-167 4h0m7.5 4h0m20.5-2h0m21-3h0m46 12.5h0m4.5-2.5h0m2 2.5h0m11.5-2.5h0m7 2.5h0m3-0.5h0m28.5-4.5h0m13-2h0m-57.5 8.5h0m2 1.5h0m56.5-0.5h0" stroke="#5b87c5" stroke-width="9" /><path d="M2037.5 2284.5h0m4.5 22h0m-57 57.5h0m-44 22h0m-0.5 5h0m2-2.5h0" stroke="#fab224" stroke-width="9" /><path d="M1981 2365h0m4.5 4.5h0m0.5-4h0m2-1.5h0m6.5-4.5h0m2.5 4.5h0m5.5 4h0m0.5-5.5h0m6.5-3h0m-46.5 24.5h0m3.5-1.5h0m0.5 4h0m0.5-2h0m4.5 1h0m0.5-11.5h0m9.5 8h0m7.5-9h0m0.5 2h0m2 10.5h0m2 1h0m-26 1.5h0m2.5 2.5h0m1.5-2h0m12.5-0.5h0m-88.5 39.5h0m33-2.5h0m9-5.5h0m0.5 3h0m3.5-7.5h0m1 6h0m4-4.5h0m-43.5 15.5h0m24.5-2.5h0m14 1.5h0m4.5 0.5h0m3.5 1.5h0" stroke="#4566b0" stroke-width="9" /><path d="M1989 2358h0m6.5-0.5h0m1 1.5h0m-8.5 7.5h0m-29.5 15.5h0m8.5-3h0m4-2h0m13.5 8.5h0m0.5-10h0m4.5-2h0m7 14.5h0m2 1h0m-49 25.5h0" stroke="#354b9e" stroke-width="9" /><path d="M2020.5 2320.5h0m2.5 3h0m3.5-5.5h0m-22.5 15h0m-52 54h0" stroke="#ef5720" stroke-width="9" /><path d="M2026 2315.5h0m4.5-2h0m-15 13.5h0m3-3h0m-81.5 63.5h0m38-0.5h0" stroke="#f58620" stroke-width="9" /><path d="M2029 2317h0m7.5-8.5h0m-12.5 13h0m-79 68.5h0" stroke="#e9281f" stroke-width="9" /><path d="M1963 2390h0m28.5-0.5h0" stroke="#2b3990" stroke-width="9" /><path d="M2088 2337h0m9 11h0m-132.5 27h0m6.5 11.5h0m1-8.5h0m1.5 3.5h0m13 3.5h0m-180 14.5h0m3-1.5h0m2 3h0m15.5-1h0m3.5-5.5h0m2 4h0m63-9.5h0m97.5 3h0m4.5-1h0m-217.5 24h0m5-3.5h0m0.5-4h0m7.5 0.5h0m3-1.5h0m0.5 4.5h0m3.5 2.5h0m4-9h0m1 8.5h0m0.5 1.5h0m3-8h0m1.5 6.5h0m1.5 1.5h0m3-8h0m0.5 3h0m2.5-5.5h0m2.5 3h0m14 0h0m-56.5 18h0m6-7.5h0m2.5 1h0m1.5-2h0m0.5 9h0m1-2h0m0-1h0m0 4h0m0.5-10h0m4.5 9h0m0.5-1h0m0.5-6.5h0m0 0h0m1 4h0m0 3.5h0m0.5 3h0m2.5 0h0m0-7.5h0m0.5-6h0m2.5 13.5h0m0-13h0m0 5h0m0.5 5h0m0-6.5h0m2 6.5h0m0-1.5h0m4.5-6h0m0.5-2.5h0m0.5 3.5h0m1 3.5h0m2-0.5h0m19-4h0m2.5-1h0m17.5-1.5h0m5.5 2.5h0m11 7.5h0m0-10.5h0m2 7h0m3.5 5.5h0m4.5-2.5h0m9-0.5h0m3 2h0m14-1.5h0m5.5 3h0m27.5-12.5h0m1.5 2h0m2.5-0.5h0m0.5 9.5h0m0.5-3.5h0m0.5-5.5h0m2-2h0m1.5 10h0m-156 4h0m3.5 0h0m10 0h0m98.5 1h0m3.5 0.5h0m32.5 4.5h0m1.5 2h0m2-2.5h0m1.5-4.5h0m3 6h0m-80.5 39h0m1 2.5h0m0.5-5.5h0" stroke="#8ab8db" stroke-width="9" /><path d="M1970.5 2264.5h0m1 6.5h0m2 1.5h0m28-3.5h0m6.5 20h0m7.5-13.5h0m1 12.5h0m5.5-1.5h0m17-5h0m1 5h0m1 1h0m8.5-7h0m7.5-5.5h0m-59 22h0m1 2.5h0m1-6h0m3-3.5h0m0 9h0m31-4.5h0m27.5 5.5h0m-82.5 12h0m9.5-4.5h0m31 7.5h0m3-8.5h0m39.5 5.5h0m25 17h0m-24.5 9.5h0m4 0h0m15-7.5h0m5.5 9.5h0m0-2h0m1 0h0m1-3h0m2.5 6h0m1.5-8h0m0 6h0m1-4.5h0m8-2.5h0m2 0h0m-116.5 26h0m81.5-6.5h0m5-5.5h0m0.5 4h0m19-5h0m2.5 0h0m3 1h0m-129.5 17h0m21.5 2h0m-177.5 30.5h0m-24 10.5h0m9-1.5h0m8.5 6.5h0m134.5 1h0m5-3h0m-163.5 8.5h0m20.5-0.5h0m8 10h0m1.5-3h0m135.5-0.5h0m1.5-6.5h0m-53 15.5h0" stroke="#d4e281" stroke-width="9" /><path d="M1982.5 2257.5h0m-9.5 13h0m6.5 0.5h0m6-4.5h0m0.5-2.5h0m0.5 11h0m2.5-0.5h0m0.5-3h0m1-9h0m2.5-0.5h0m1.5 5h0m1 2h0m2 1h0m1.5 3.5h0m2.5 0.5h0m0.5-3.5h0m2-5.5h0m4-2h0m1.5 9.5h0m8-1.5h0m6.5 3.5h0m4 0.5h0m13.5-5h0m0.5-1.5h0m2-1.5h0m1.5 7h0m2-2.5h0m1 1.5h0m0.5 0h0m5-1h0m2 2.5h0m2.5 0h0m-73.5 2h0m2 9.5h0m9.5-6.5h0m3.5 2.5h0m7 6h0m4-0.5h0m0.5 1.5h0m0.5-4h0m1 3.5h0m1-1h0m4 0.5h0m0.5-7.5h0m1.5 8h0m0-3h0m2-8h0m1.5 8h0m2.5-6h0m0.5 7.5h0m0-10h0m7 11.5h0m3.5-7h0m1.5 0h0m3 6h0m1-6.5h0m0.5-4h0m2.5 0.5h0m1 8.5h0m0 2h0m0.5-8.5h0m2 9h0m1-2h0m5-9h0m0.5 9h0m6-9.5h0m-73.5 22.5h0m0.5 0.5h0m6.5-11h0m0.5 10.5h0m4 2.5h0m0.5-7h0m2.5 0.5h0m0.5-2.5h0m1-2.5h0m4 7h0m1 1.5h0m0.5 1.5h0m0 0.5h0m4.5-1h0m4-2h0m0.5 1.5h0m0 2h0m2.5-4.5h0m0-5h0m1.5 7.5h0m0-8h0m1 2h0m0.5 9h0m0-3h0m0-5h0m1-1.5h0m1.5 1h0m0.5 8.5h0m1-5h0m1.5 3h0m1 1h0m1 0.5h0m0.5-9h0m0.5 4.5h0m2-0.5h0m0.5-3.5h0m0 4h0m1-4h0m1-2.5h0m1 7h0m0.5 4h0m4-7.5h0m1.5-3.5h0m2 5h0m1.5 0h0m1-3h0m-67.5 11h0m7.5 5.5h0m0-6h0m2 3.5h0m9 1h0m0.5-3h0m0.5 2h0m0.5 8h0m3-6.5h0m2 0h0m2.5-4.5h0m0.5 7h0m1-4h0m2-4h0m0.5 7.5h0m0.5-4.5h0m2.5 3.5h0m2.5-6.5h0m0.5 7h0m1-2h0m4 4h0m2.5 0h0m1.5-1h0m1-6h0m0 2h0m1 0.5h0m1-3.5h0m3 5h0m3.5-5.5h0m1 2.5h0m0.5-1.5h0m2.5 0.5h0m5-2h0m1.5 0h0m15.5 2h0m-99 25.5h0m0.5-3.5h0m1 2.5h0m3.5-12.5h0m2 8h0m1.5-2h0m16.5 1.5h0m1 0h0m7-2h0m3.5-3.5h0m3.5-0.5h0m22 5h0m4-4h0m4 11h0m5-11h0m4.5 7.5h0m23-5h0m2-1.5h0m4.5 7h0m5-6h0m5 5.5h0m11-6.5h0m5 8h0m-156.5 16h0m17-9h0m6-4.5h0m10 4h0m9-1.5h0m15.5 4.5h0m7.5 0h0m3.5-1h0m3.5-1h0m3.5-3.5h0m1 10.5h0m43-9.5h0m0.5 9h0m15.5-3h0m5.5-8.5h0m2 5h0m0.5 7.5h0m2-1.5h0m6.5 1h0m0.5-4h0m2.5-7.5h0m0.5 9.5h0m-121 15h0m25.5-0.5h0m34-8h0m2.5 0h0m23-0.5h0m12 5h0m4-1h0m5 1h0m10.5-3h0m-154 22h0m51-8h0m2-4h0m-114 16h0m101 3.5h0m10.5-1.5h0m-117.5 11h0m-70 19h0m-26.5 9.5h0m3 3h0m7.5-1.5h0m17.5 0.5h0m4 10.5h0" stroke="#f6e934" stroke-width="9" /><path d="M1991.5 2371h0m2.5-3h0m7.5-8.5h0m-36.5 17.5h0m4 4h0m4 2h0m5.5 2.5h0m4-12h0m1 1.5h0m-38.5 44h0m5.5 9.5h0m-2.5 6.5h0" stroke="#354b9e" stroke-width="9" /><path d="M1973 2263.5h0m0.5 11h0m7-13.5h0m11.5 2h0m8 2.5h0m24 5.5h0m-5 16h0m7.5 1.5h0m3-8.5h0m0-5h0m3 10h0m2 2.5h0m1.5-2h0m10.5-3h0m-60 18.5h0m8-5.5h0m6.5 4.5h0m0 0.5h0m5.5-1h0m0 2.5h0m0-6h0m8 2h0m24-1h0m6.5 5h0m1.5-7.5h0m7.5 0.5h0m0.5 6.5h0m-63 11h0m17 0.5h0m62 1h0m-102.5 13.5h0m0.5-2.5h0m34-4.5h0m21-2.5h0m10.5 3h0m55 0.5h0m12.5 8h0m-149.5 9h0m7.5 4.5h0m1-9h0m52 0h0m50.5 7h0m5.5 3.5h0m8-4.5h0m15-3h0m-84.5 13.5h0m53-1.5h0m3-2.5h0m11 1h0m10.5 5h0m17.5-4.5h0m-183.5 18h0m41.5-3.5h0m5.5 4h0m-62 11h0m-90 22.5h0m15-1.5h0m1-2h0m2.5-3h0m3-0.5h0m103.5-1h0m-155 22h0m6-7h0m3.5 7.5h0m2.5-6h0m5.5-6.5h0m0 8h0m2-2h0m3.5 5h0m10.5-10.5h0m6.5 4.5h0m10 6h0m113.5 1.5h0m3.5-1.5h0m-172 3.5h0m0 8h0m3-0.5h0m0.5 2.5h0m4.5-1h0m1 1h0m0.5-2h0m1-3.5h0m2-3.5h0m2 9.5h0m2.5-4h0m2.5 5.5h0m0.5-11.5h0m5.5 6.5h0m1 4.5h0m6.5-3h0m0.5-8.5h0m0 4.5h0m76.5 6h0m49.5-1h0m-141 3.5h0m119 1.5h0m5.5-2h0m-39 34.5h0m-15 11h0m0.5 2.5h0m2.5-1h0" stroke="#b4d8ca" stroke-width="9" /><path d="M1984 2366h0m5-1h0m2 4.5h0m5.5-8.5h0m-34.5 20h0m29.5 6h0m-46.5 12h0m1-0.5h0m49.5-6h0m-210 18.5h0m153-0.5h0m0 2h0m-45.5 15.5h0m9-0.5h0m1.5-1h0m32.5-1.5h0" stroke="#4566b0" stroke-width="9" /><path d="M1977 2260.5h0m-1.5 10h0m8.5-4.5h0m5.5-0.5h0m2.5 5h0m2 1.5h0m0-7.5h0m1 8.5h0m2.5-4.5h0m0.5-2.5h0m7.5 6.5h0m3.5-6h0m34.5 5.5h0m0.5-1.5h0m2.5 4h0m3-5.5h0m3 4h0m-49 10.5h0m2.5-2h0m6.5-3h0m8 8.5h0m9.5 1h0m2-12h0m0.5 9h0m1 2h0m0 2h0m1-9h0m6.5-3h0m0.5 2h0m2 7.5h0m0.5-7.5h0m3.5-1h0m5 5.5h0m2-8h0m5.5 5.5h0m-65.5 20h0m5-1h0m0-4h0m2.5-4.5h0m2 0.5h0m0.5 4h0m4.5-1.5h0m0.5-3.5h0m1.5 6h0m5.5 4.5h0m2-6.5h0m0.5-6h0m9 0h0m3.5 6.5h0m0-6h0m4.5 0.5h0m3.5 8h0m0.5-6.5h0m11.5 4h0m1-1h0m8 3h0m-78.5 18h0m5-10.5h0m9.5 0.5h0m1.5-1.5h0m10 3.5h0m9-2h0m4.5 0h0m0.5 9.5h0m2-7h0m1-4h0m7-0.5h0m1 1.5h0m8.5 0h0m0.5-1.5h0m1 1.5h0m1 0.5h0m20 10.5h0m-93.5 7h0m2 2.5h0m17-4h0m3 2h0m26 6.5h0m51.5-11h0m5.5 5h0m3-3h0m24.5 7h0m-91.5 3.5h0m25 13h0m10-8.5h0m18-1.5h0m6 10h0m1.5-3.5h0m11.5-6.5h0m1-1.5h0m2 9.5h0m0-9.5h0m1.5-0.5h0m-37.5 14h0m5.5 2h0m25.5 2.5h0m-150.5 33.5h0m6 6h0m-134.5 21h0m4.5 3h0m12-2.5h0" stroke="#fcd426" stroke-width="9" /><path d="M1967.5 2356h0m15.5 12.5h0m4 1h0m1.5-9.5h0m0.5 3.5h0m1 4.5h0m2.5-5.5h0m2 2.5h0m1-2.5h0m11-1.5h0m-34 19.5h0m8 4.5h0m1.5-0.5h0m1-1h0m8.5-6.5h0m8-3h0m-172 22.5h0m129-3h0m0.5 0.5h0m28-4.5h0m-195 19.5h0m0 3.5h0m5-6h0m4.5 6.5h0m2 1.5h0m4-5h0m19 2h0m11.5-6.5h0m103 9h0m-163 7.5h0m10-2h0m17.5 1.5h0m6 6.5h0m1-7h0m51-2.5h0m29.5 7h0m9-0.5h0m34-1h0m5.5-3.5h0m10 2.5h0m-57.5 9h0m4 0h0m3.5-1h0m7.5-1.5h0m2.5 0.5h0m30 4.5h0m11 0.5h0" stroke="#5b87c5" stroke-width="9" /><path d="M2036.5 2311.5h0m4.5-1.5h0m-30.5 20h0m3-8.5h0m10-4.5h0m-74.5 68.5h0m-3 24h0" stroke="#f58620" stroke-width="9" /><path d="M2036.5 2311.5h0m-20.5 10h0m0.5 3h0m5.5-4h0" stroke="#ef5720" stroke-width="9" /><path d="M2033 2311h0m1.5 0.5h0m4-3h0m4 1.5h0m-30 13.5h0m72 3h0m-8.5 17h0m13.5 0h0m-85.5 18h0m-55.5 30h0m43 1.5h0" stroke="#fab224" stroke-width="9" /><path d="M2021 2357.5h0m-34.5 15h0m1-5h0m5.5 4h0m0.5-7.5h0m1 5.5h0m2.5-3h0m2-5h0m-31.5 15.5h0m28 9h0m-149.5 6h0m11.5 0.5h0m6.5 3.5h0m124-6.5h0m-183 20h0m1-5h0m15 5h0m45 0h0m4 4.5h0m70.5 0h0m7-0.5h0m-170 9.5h0m14.5 2h0m5-4.5h0m1-4h0m7 5.5h0m0-5h0m2 3.5h0m8.5-5.5h0m88 14h0m9-4h0m19 0.5h0m7.5-1h0m6 1.5h0m0.5-3h0m1.5 4.5h0m-46 2h0m17 0h0m26 0h0" stroke="#5b87c5" stroke-width="9" /><path d="M1989.5 2258.5h0m2.5 0.5h0m-24.5 4h0m1.5 3h0m2 1h0m1 3h0m2.5-4.5h0m0.5 2.5h0m3 7h0m1.5-7.5h0m2.5-1.5h0m1 5.5h0m13.5-7h0m9.5 9.5h0m13.5-2h0m6.5 2h0m20.5-1.5h0m3 1h0m-69.5 3.5h0m29.5 0h0m0.5 9h0m2 1.5h0m5-3h0m6.5 1h0m1.5 0h0m0.5-2h0m3 1h0m0-1.5h0m3-4.5h0m3 7h0m1-5.5h0m5 4.5h0m7.5-9h0m0 4.5h0m3 4.5h0m3-5h0m3.5-2.5h0m3-1.5h0m-68 22h0m8 0.5h0m2 0h0m2.5 3h0m7-6h0m7.5-1h0m1 2.5h0m8-5h0m3 3.5h0m2 5.5h0m0-9h0m0.5 11h0m7-8.5h0m0 8.5h0m2-3h0m1.5 2.5h0m2-12h0m5.5 6.5h0m3-2h0m-76.5 22h0m1-8.5h0m4.5 4h0m4.5 3.5h0m1.5-2h0m0.5-7.5h0m2.5-2.5h0m2.5 12h0m0.5-11.5h0m8 5.5h0m10 4.5h0m0.5-6h0m1-1.5h0m0.5 4h0m1.5 1.5h0m1.5 0h0m7.5-6h0m1 5.5h0m6-2h0m1.5 0h0m4.5-1h0m11.5-0.5h0m14.5-0.5h0m-98.5 18h0m1.5 5h0m23-12h0m26 9.5h0m68.5-0.5h0m-70.5 4.5h0m1 1.5h0m3.5-0.5h0m19.5 11.5h0m5.5-6.5h0m0.5-2h0m12 7.5h0m18-1h0m4 1h0m10-6h0m10 1h0m7 1h0m-49 10h0m32.5-1.5h0m7.5-1.5h0m-198.5 37h0m16.5-1.5h0m29.5-3h0m3 8h0m36.5-8.5h0m-94.5 9.5h0m24.5 9h0m27-4.5h0m46.5-4.5h0m1.5-0.5h0" stroke="#fcd426" stroke-width="9" /><path d="M1975 2259h0m10.5 1.5h0m1.5-0.5h0m1.5-0.5h0m9.5 0.5h0m-22.5 2.5h0m0.5 9.5h0m2-2h0m1-7h0m8.5 0.5h0m8.5-2.5h0m1 10.5h0m3.5-8.5h0m5 3h0m0.5-2.5h0m1.5 2h0m3 0.5h0m3 7h0m1.5-5.5h0m0.5 5h0m4.5 1.5h0m0.5-4.5h0m7 4h0m1-1.5h0m1-1h0m1.5 0.5h0m3 3.5h0m1.5-2h0m1.5-1h0m1-2.5h0m0 4.5h0m2.5-2.5h0m0.5-4h0m0 7h0m6.5-5.5h0m0.5 2.5h0m2 1h0m0.5-2h0m-68 15h0m1-10h0m6 6.5h0m8-6.5h0m5 3h0m7 7.5h0m3 1h0m1-2.5h0m1.5-1.5h0m1 3h0m6.5-9.5h0m0.5 4.5h0m0.5-3.5h0m1.5 6.5h0m0.5-3h0m0.5-3.5h0m0.5-2.5h0m0 9.5h0m0 2h0m1-7.5h0m0.5 2h0m0.5 4.5h0m2-1.5h0m1-1h0m1.5 1h0m0-2.5h0m0.5-0.5h0m4.5 5.5h0m0.5-10h0m1 4h0m3 4h0m0.5 3h0m0-6.5h0m1.5 3h0m2-1h0m2 1h0m0 3h0m1.5-2.5h0m2-3h0m0.5-2h0m3.5 4h0m2 3h0m0.5-8h0m-73.5 21h0m4.5-0.5h0m1-0.5h0m2 1h0m3.5-4.5h0m2-1.5h0m0.5 3.5h0m1-6h0m2.5 3h0m0.5 6.5h0m0-2.5h0m2-0.5h0m1-4h0m3-2h0m0 7.5h0m3.5 0h0m0.5-2.5h0m1.5 3h0m1-7.5h0m2 8h0m1-5.5h0m0-4h0m4 9h0m3.5 0h0m0 3h0m3-11h0m0.5 4h0m0.5-5h0m0.5 12.5h0m3-2h0m3 0h0m0-7h0m0 0h0m1-3h0m1 9.5h0m1-5.5h0m0.5 4.5h0m0.5-6.5h0m0.5 3.5h0m0-7h0m2.5 4.5h0m0.5 2.5h0m0.5-4.5h0m0.5 0.5h0m0-3h0m1.5 2h0m2.5 3.5h0m0.5-5h0m1 6.5h0m0.5-2h0m3-2.5h0m-78 23.5h0m0.5 1.5h0m2.5-6.5h0m2.5-1h0m1.5-6h0m4.5 5.5h0m2.5-0.5h0m2.5-2h0m1.5 7.5h0m2-7h0m3-3.5h0m1.5 8h0m2.5 1h0m2.5-6.5h0m0 4.5h0m0-3h0m0.5 4.5h0m5.5-2h0m0 2.5h0m0.5-6.5h0m1 5h0m0.5-6.5h0m4 4.5h0m0.5 6.5h0m2.5-3h0m2-4.5h0m0.5 6.5h0m2-8h0m1.5 0.5h0m7.5-1.5h0m4-0.5h0m21.5 3.5h0m6 6.5h0m-103 10h0m16.5-5h0m10.5 7h0m4-9h0m1.5 7.5h0m3.5-5.5h0m8.5 2h0m3.5-1.5h0m3 8h0m9-2h0m6 0.5h0m12 2h0m-87.5 9h0m25.5 2h0m34.5-3.5h0m2.5 2.5h0m3.5-1.5h0m7.5 3.5h0m25 2h0m1.5 1h0m8 0h0m3.5 0.5h0m3.5-2h0m4-3h0m2 4h0m7-10h0m1.5 0h0m7.5 7.5h0m1.5-4h0m0-5.5h0m7.5 6h0m1 6.5h0m6-10.5h0m-173.5 18.5h0m44 0.5h0m0.5 0.5h0m4.5-2.5h0m0.5-1h0m19.5 0h0m5.5 1.5h0m54.5-0.5h0m3-1h0m1.5 1h0m5 0.5h0m20.5-0.5h0m2.5-3h0m3 2.5h0m-201 21.5h0m58-3.5h0m5-8h0m8 9.5h0m5.5-6.5h0m5-3.5h0m5 12.5h0m-168.5 25.5h0m22.5 0h0m-33 11.5h0m-22 7.5h0m4 11h0m1.5 1.5h0m14-0.5h0m2-6.5h0m25.5-6.5h0m40.5 63.5h0" stroke="#f6e934" stroke-width="9" /><path d="M2057.5 2305.5h0m-36 51h0m65.5-10h0m-121 22.5h0m19-7h0m9-0.5h0m-17 22h0m-167 16.5h0m21 0.5h0m5-5.5h0m11.5-2h0m5-0.5h0m32 7.5h0m86-10.5h0m-191.5 24h0m4-1h0m1 1.5h0m2.5-2h0m4-1.5h0m1-1h0m0.5-5h0m1.5 4h0m1-1.5h0m2 0.5h0m0-2h0m11.5 6.5h0m1.5-9h0m0 11h0m2.5-3.5h0m5.5-1h0m3.5 4.5h0m23-12.5h0m-65 21.5h0m1.5 0.5h0m2-5.5h0m1 1.5h0m1-3.5h0m0-1h0m0 7h0m0-1h0m4.5 5h0m1.5-0.5h0m2 3h0m0.5-10h0m0.5 10h0m3-7h0m3.5-2.5h0m2-2h0m1 5h0m1 6.5h0m1-11.5h0m1 5h0m6.5 5h0m1.5-3.5h0m11-6h0m2-2.5h0m8 3.5h0m6-0.5h0m37.5 1h0m11 5h0m1 4.5h0m4.5-3h0m0-1.5h0m6.5 2.5h0m6.5-4.5h0m18.5 4h0m10 2h0m9 0.5h0m3-10h0m2.5 1h0m-82.5 22h0m20-12h0m4.5 2.5h0m27.5-1.5h0m20.5 1.5h0m1-3h0" stroke="#8ab8db" stroke-width="9" /><path d="M1994 2270h0m14.5-2h0m1.5 1.5h0m3-2.5h0m1.5 3h0m23-3h0m8 3.5h0m-63.5 6h0m26 4.5h0m11.5 4h0m-32.5 17h0m7-5h0m4-2.5h0m15 1h0m32 4.5h0m0.5-5h0m2 3.5h0m-47 15h0m4-5.5h0m2 4h0m10 4.5h0m6.5-7h0m5 5.5h0m10.5 1h0m44.5-3.5h0m4 3.5h0m-61.5 5h0m71 5.5h0m-134.5 7.5h0m0.5 2h0m13.5-1h0m2.5 5.5h0m78 3h0m4.5-3.5h0m4 0h0m14-4h0m1.5 4h0m1.5 0h0m2 4.5h0m5.5-11.5h0m17 9.5h0m-110 6.5h0m58 0.5h0m24.5-1.5h0m1 4h0m7.5-7h0m3.5 0h0m-137.5 26.5h0m30-1.5h0m-31.5 13.5h0m8.5-3h0m-134.5 16.5h0m16-7.5h0m3 1h0m41.5 9.5h0m-108.5 13.5h0m3-1h0m6 2h0m2.5 0.5h0m6-5.5h0m0.5 3h0m2.5-4.5h0m1.5-5.5h0m1 2.5h0m0 1.5h0m2 7h0m1.5-9.5h0m0.5 7.5h0m1.5 1.5h0m0.5-10h0m1 1.5h0m3.5 10h0m3-12h0m9 3h0m3.5-4h0m41.5 5h0m20.5-3.5h0m-109 15.5h0m3 5h0m2 1.5h0m2 2h0m0-4h0m1.5 5h0m1.5-2.5h0m1.5-3h0m7.5 1.5h0m0.5 1.5h0m0 3h0m0-10h0m3.5 6h0m3.5 1.5h0m2.5-5h0m1 3.5h0m2.5-7.5h0m2.5 2.5h0m30-3h0m90.5 5h0m1.5-0.5h0m-134.5 9.5h0m3-1.5h0m64.5 37.5h0m-2.5 9.5h0" stroke="#b4d8ca" stroke-width="9" /><path d="M2026.5 2315h0m10.5-5h0m-14 12h0m2-5h0m-79 68.5h0m-4.5 4h0" stroke="#e9281f" stroke-width="9" /><path d="M2053 2274.5h0m-71.5 13.5h0m55-5h0m0.5 1.5h0m2 3.5h0m10.5-11.5h0m8 5.5h0m-49.5 14h0m22-2h0m5.5 7h0m3-8.5h0m-41 18h0m16 5h0m11.5-4h0m13.5 4.5h0m23-5.5h0m-89 9.5h0m39 0h0m78.5 8.5h0m10 1h0m-113 15h0m6.5-8.5h0m12 4.5h0m3.5-6h0m49.5 10h0m1-1.5h0m6-7h0m18 7h0m3-11.5h0m4 8h0m4 1h0m1-7.5h0m1.5 3.5h0m2.5 5.5h0m1-10.5h0m4 12.5h0m1.5-12h0m-113.5 24h0m60-8h0m15 0.5h0m4.5 3h0m10-5.5h0m1.5 2h0m1 3h0m2.5-1h0m0.5-2h0m7 4h0m6-2h0m6.5-4h0m-132.5 16h0m-89.5 23h0m-90.5 26.5h0m14.5-2.5h0m0.5 2h0m0.5-2h0m-6 11h0m4.5-4h0m10 0.5h0m5.5-1h0m90.5 11h0m-44 52h0m1.5-2.5h0" stroke="#d4e281" stroke-width="9" /><path d="M2014 2285.5h0m-22 4.5h0m27 19h0m16.5 0.5h0m10.5-5h0m4.5 40.5h0m21 2.5h0m-119.5 34h0m0-0.5h0m19.5-4h0" stroke="#fab224" stroke-width="9" /><path d="M1996 2367.5h0m-34.5 16h0m4.5-4.5h0m3 0.5h0m4.5-3h0m2 8h0m14-5h0m0 4h0m3.5-0.5h0m3-3h0m-4 8h0m1.5 1.5h0m-51.5 30h0m-15.5 12h0" stroke="#4566b0" stroke-width="9" /><path d="M2030.5 2314h0m-9.5 9h0m4-3.5h0" stroke="#ef5720" stroke-width="9" /><path d="M1997 2356.5h0m-10 4h0m-21.5 17.5h0m3 8h0m1-12.5h0m14.5 8.5h0m0.5-1.5h0m6.5 0.5h0" stroke="#2b3990" stroke-width="9" /><path d="M1993.5 2357.5h0m-2.5 3h0m1.5 5.5h0m-31.5 12h0m6-1.5h0m2.5 9.5h0m-11 2h0m36 1h0m-50 31.5h0" stroke="#354b9e" stroke-width="9" /><path d="M2039.5 2306h0m2 2.5h0m6.5-0.5h0m-26 9.5h0m-20.5 18h0" stroke="#f58620" stroke-width="9" /></g><text x="1777.2" y="2244" font-size="23.6" >CD56</text><text x="1868.6" y="2515.9" font-size="22.5" >Expr.</text><rect x="1943.9" y="2501.1" width="77.5" height="15.6" fill="url(#jet)"/><text x="1958.5" y="2544.6" font-size="22.5" text-anchor="middle" >0</text><text x="2007.5" y="2544.6" font-size="22.5" text-anchor="middle" >6</text><rect x="1643" y="738" width="55.6" height="55" fill="#e21f26"/><text x="1719.6" y="777" font-size="32.5" >CP</text><rect x="1643" y="796" width="55.6" height="55" fill="#3a80ba"/><text x="1719.6" y="835" font-size="32.5" >DM</text><rect x="1808" y="738" width="55.6" height="55" fill="#4eae4a"/><text x="1884.6" y="777" font-size="32.5" >LM</text><rect x="1808" y="796" width="55.6" height="55" fill="#984f9f"/><text x="1884.6" y="835" font-size="32.5" >PV/PC</text><rect x="1463.7" y="960.2" width="620.3" height="271.79999999999995" fill="#e4f1e2"/><rect x="1463.7" y="960.2" width="121.3" height="6.1" fill="#984f9f"/><rect x="1463.7" y="966.9" width="121.3" height="221.3" fill="#4eae4a"/><rect x="1463.7" y="1189.0" width="121.3" height="9.6" fill="#3a80ba"/><rect x="1463.7" y="1199.3" width="121.3" height="32.7" fill="#e21f26"/><rect x="1586.6" y="960.2" width="15.4" height="15.0" fill="#984f9f"/><rect x="1586.6" y="975.9" width="15.4" height="167.4" fill="#4eae4a"/><rect x="1586.6" y="1143.9" width="15.4" height="4.8" fill="#3a80ba"/><rect x="1586.6" y="1149.4" width="15.4" height="82.6" fill="#e21f26"/><rect x="1602.9" y="960.2" width="5.4" height="260.2" fill="#984f9f"/><rect x="1602.9" y="1221.0" width="5.4" height="11.0" fill="#e21f26"/><rect x="1609.5" y="960.2" width="25.5" height="233.7" fill="#984f9f"/><rect x="1609.5" y="1194.6" width="25.5" height="31.6" fill="#4eae4a"/><rect x="1609.5" y="1226.9" width="25.5" height="1.9" fill="#3a80ba"/><rect x="1609.5" y="1229.4" width="25.5" height="2.6" fill="#e21f26"/><rect x="1636.0" y="960.2" width="4.4" height="241.7" fill="#984f9f"/><rect x="1636.0" y="1202.5" width="4.4" height="14.5" fill="#4eae4a"/><rect x="1636.0" y="1217.6" width="4.4" height="14.4" fill="#e21f26"/><rect x="1641.6" y="960.2" width="5.4" height="12.5" fill="#984f9f"/><rect x="1641.6" y="973.5" width="5.4" height="231.7" fill="#4eae4a"/><rect x="1641.6" y="1205.8" width="5.4" height="26.2" fill="#e21f26"/><rect x="1648.1" y="960.2" width="39.1" height="1.2" fill="#984f9f"/><rect x="1648.1" y="962.0" width="39.1" height="243.0" fill="#4eae4a"/><rect x="1648.1" y="1205.7" width="39.1" height="26.3" fill="#e21f26"/><rect x="1688.0" y="960.2" width="12.0" height="271.8" fill="#4eae4a"/><rect x="1700.9" y="960.2" width="68.9" height="9.7" fill="#984f9f"/><rect x="1700.9" y="970.5" width="68.9" height="245.5" fill="#4eae4a"/><rect x="1700.9" y="1216.5" width="68.9" height="1.4" fill="#3a80ba"/><rect x="1700.9" y="1218.6" width="68.9" height="13.4" fill="#e21f26"/><rect x="1770.9" y="960.2" width="10.8" height="257.8" fill="#4eae4a"/><rect x="1770.9" y="1218.7" width="10.8" height="13.3" fill="#e21f26"/><rect x="1783.0" y="960.2" width="301.0" height="9.7" fill="#984f9f"/><rect x="1783.0" y="970.8" width="301.0" height="230.6" fill="#4eae4a"/><rect x="1783.0" y="1202.0" width="301.0" height="4.9" fill="#3a80ba"/><rect x="1783.0" y="1207.8" width="301.0" height="24.2" fill="#e21f26"/><text x="1750.9" y="913.8" font-size="23.5" class="b" text-anchor="middle" >Cell count</text><text x="1461.8" y="957" font-size="22.5" >0</text><text x="1610.2" y="957" font-size="22.5" >500</text><text x="1764" y="957" font-size="22.5" >1000</text><text x="1917" y="957" font-size="22.5" >1500</text><text x="1451.8" y="973.6" font-size="22.5" text-anchor="end" >100</text><text x="1451.8" y="1240.7" font-size="22.5" text-anchor="end" >0</text><text transform="translate(1408,1103.2) rotate(-90)" text-anchor="middle" class="b" font-size="23">% of cells</text><text x="1757" y="1298.5" font-size="23" class="b" text-anchor="middle" >Cluster</text><text x="1523.6" y="1262.3" font-size="21.8" text-anchor="middle" >9</text><text x="1617.7" y="1262.3" font-size="21.8" text-anchor="middle" >1</text><text x="1661.9" y="1262.3" font-size="21.8" text-anchor="middle" >4</text><text x="1692.5" y="1262.3" font-size="21.8" text-anchor="middle" >2</text><text x="1733.4" y="1262.3" font-size="21.8" text-anchor="middle" >8</text><text x="1774.3" y="1262.3" font-size="21.8" text-anchor="middle" >6</text><text x="1935.7" y="1262.3" font-size="21.8" text-anchor="middle" >10</text><text x="1544.9" y="1303.7" font-size="21.8" text-anchor="middle" >7</text><text x="1575.3" y="1303.7" font-size="21.8" text-anchor="middle" >3</text><text x="1616.6" y="1303.7" font-size="21.8" text-anchor="middle" >5</text><text x="1645.7" y="1303.7" font-size="21.8" text-anchor="middle" >11</text><path d="M1594 1232L1556.3 1276.4M1605.9 1232L1580.5 1276.4M1638.2 1232L1621.4 1276.4M1643.6 1232L1649.4 1276.4" stroke="#111" stroke-width="1.3" fill="none"/><g fill="#fff" font-size="30" font-weight="bold" text-anchor="middle" style="fill:#fff"><text x="1523.6" y="1206.3" style="fill:#fff">*</text><text x="1607.0" y="1087.8" style="fill:#fff">*</text><text x="1607.0" y="1103.3" style="fill:#fff">*</text><text x="1607.0" y="1118.5" style="fill:#fff">*</text><text x="1620.5" y="1071.5" style="fill:#fff">*</text><text x="1620.5" y="1086.3" style="fill:#fff">*</text><text x="1620.5" y="1101.8" style="fill:#fff">*</text><text x="1638.2" y="1081.4" style="fill:#fff">*</text><text x="1638.2" y="1096.9" style="fill:#fff">*</text><text x="1638.2" y="1112.0" style="fill:#fff">*</text><text x="1667.7" y="1095.4" style="fill:#fff">*</text><text x="1694.6" y="1087.4" style="fill:#fff">*</text><text x="1694.6" y="1102.9" style="fill:#fff">*</text><text x="1694.6" y="1118.5" style="fill:#fff">*</text><text x="1717.9" y="1100.8" style="fill:#fff">*</text><text x="1733.4" y="1100.8" style="fill:#fff">*</text><text x="1748.9" y="1100.8" style="fill:#fff">*</text><text x="1775.6" y="1099.0" style="fill:#fff">*</text><text x="1916.2" y="1102.5" style="fill:#fff">*</text><text x="1931.7" y="1102.5" style="fill:#fff">*</text><text x="1947.2" y="1102.5" style="fill:#fff">*</text></g><text x="71.2" y="1324.5" class="pl" >e</text><rect x="278.2" y="1355.2" width="346.5" height="14.3" fill="#2c3e50"/><text x="480.7" y="1345.6" font-size="21.5" text-anchor="middle" >9</text><rect x="629.6" y="1355.2" width="45.4" height="14.3" fill="#e11f26"/><text x="652.5" y="1345.6" font-size="21.5" text-anchor="middle" >7</text><rect x="680.0" y="1355.2" width="18.8" height="14.3" fill="#21b594"/><text x="687.1" y="1345.6" font-size="21.5" text-anchor="middle" >3</text><rect x="703.9" y="1355.2" width="74.2" height="14.3" fill="#c9b48b"/><text x="740.2" y="1347.6" font-size="21.5" text-anchor="middle" >1</text><rect x="782.8" y="1355.2" width="15.3" height="14.3" fill="#a6cee3"/><text x="783.3" y="1345.6" font-size="21.5" text-anchor="middle" >5</text><rect x="803.0" y="1355.2" width="17.7" height="14.3" fill="#2277b5"/><text x="809.3" y="1345.6" font-size="21.5" text-anchor="middle" >11</text><rect x="825.6" y="1355.2" width="114.7" height="14.3" fill="#aed58b"/><text x="877.8" y="1345.6" font-size="21.5" text-anchor="middle" >4</text><rect x="945.2" y="1355.2" width="33.8" height="14.3" fill="#f4989a"/><text x="960.1" y="1345.6" font-size="21.5" text-anchor="middle" >2</text><rect x="984.5" y="1355.2" width="198.4" height="14.3" fill="#fbb96c"/><text x="1084.8" y="1345.6" font-size="21.5" text-anchor="middle" >8</text><rect x="1188.2" y="1355.2" width="33.3" height="14.3" fill="#f3801f"/><text x="1199.9" y="1345.6" font-size="21.5" text-anchor="middle" >6</text><rect x="1226.4" y="1355.2" width="858.8" height="14.3" fill="#c7b1d8"/><text x="1636.8" y="1345.6" font-size="21.5" text-anchor="middle" >10</text><text x="241.9" y="1399.3" font-size="23.6" text-anchor="end" >CLEC12A</text><text x="253.9" y="1423.5" font-size="23.6" text-anchor="end" >CD14</text><text x="248.8" y="1447.7" font-size="23.6" text-anchor="end" >MRP14</text><text x="253.3" y="1471.8" font-size="23.6" text-anchor="end" >CCR2</text><text x="254.1" y="1496.0" font-size="23.6" text-anchor="end" >CD68</text><text x="254.1" y="1520.2" font-size="23.6" text-anchor="end" >CD32</text><text x="249.3" y="1544.4" font-size="23.6" text-anchor="end" >CD11C</text><text x="254.1" y="1568.6" font-size="23.6" text-anchor="end" >CD33</text><text x="251.6" y="1592.7" font-size="23.6" text-anchor="end" >SPP1</text><text x="250.5" y="1616.9" font-size="23.6" text-anchor="end" >CD169</text><text x="250.5" y="1641.1" font-size="23.6" text-anchor="end" >CD206</text><text x="246.5" y="1665.3" font-size="23.6" text-anchor="end" >P2RY12</text><text x="254.1" y="1689.5" font-size="23.6" text-anchor="end" >CD64</text><text x="256.7" y="1713.6" font-size="23.6" text-anchor="end" >IRF8</text><text x="246.5" y="1737.8" font-size="23.6" text-anchor="end" >HLA-DR</text><text x="248.2" y="1762.0" font-size="23.6" text-anchor="end" >MS4A7</text><text x="254.1" y="1786.2" font-size="23.6" text-anchor="end" >CD45</text><text x="251.6" y="1810.4" font-size="23.6" text-anchor="end" >CD91</text><text x="250.5" y="1834.5" font-size="23.6" text-anchor="end" >CD115</text><text x="251.6" y="1858.7" font-size="23.6" text-anchor="end" >CD61</text><text x="243.1" y="1882.9" font-size="23.6" text-anchor="end" >TGF-beta</text><text x="253.9" y="1907.1" font-size="23.6" text-anchor="end" >CD44</text><text x="253.3" y="1931.3" font-size="23.6" text-anchor="end" >CCR5</text><text x="254.1" y="1955.4" font-size="23.6" text-anchor="end" >CD56</text><text x="254.1" y="1979.6" font-size="23.6" text-anchor="end" >CD18</text><text x="244.2" y="2003.8" font-size="23.6" text-anchor="end" >GM-CSF</text><text x="254.1" y="2028.0" font-size="23.6" text-anchor="end" >CD86</text><text x="257.8" y="2052.2" font-size="23.6" text-anchor="end" >TNF</text><text x="250.5" y="2076.3" font-size="23.6" text-anchor="end" >CD116</text><text x="249.3" y="2100.5" font-size="23.6" text-anchor="end" >GPR56</text><text x="259.5" y="2124.7" font-size="23.6" text-anchor="end" >IL-6</text><rect x="278.2" y="1381.0" width="1809.7" height="744.6" fill="#75777a" shape-rendering="crispEdges"/><g fill="none" stroke-width="24.07" shape-rendering="crispEdges"><path d="M278.2 1393h347M629.2 1393h46M680.2 1393h19M704.2 1393h74M783.2 1393h15M803.2 1393h17M825.2 1393h115M945.2 1393h34M984.2 1393h199M1188.2 1393h33M1226.2 1393h862" stroke="#494f66"/><path d="M278.2 1393h2m1 0h1m4 0h2m3 0h1m3 0h1m23 0h1m26 0h1m9 0h1m9 0h2m8 0h1m10 0h1m11 0h1m15 0h1m7 0h2m2 0h1m8 0h2m7 0h2m9 0h1m2 0h1m13 0h2m2 0h1m13 0h1m27 0h1m4 0h1m1 0h1m15 0h1m1 0h1m6 0h2m3 0h2m2 0h1m5 0h1m6 0h1m10 0h2m2 0h4m2 0h1m2 0h1m18 0h1m2 0h1m4 0h1m66 0h1m421 0h1m60 0h1m490 0h1m146 0h1" stroke="#a39c6b"/><path d="M280.2 1393h1m2 0h2m7 0h1m5 0h3m11 0h3m3 0h1m1 0h1m1 0h2m5 0h1m2 0h1m3 0h1m2 0h2m2 0h3m1 0h1m1 0h3m3 0h1m4 0h1m3 0h1m3 0h4m5 0h1m2 0h2m4 0h1m2 0h1m3 0h3m1 0h1m4 0h4m7 0h1m8 0h1m10 0h2m4 0h3m1 0h2m5 0h1m3 0h2m1 0h1m4 0h1m3 0h5m9 0h1m1 0h2m1 0h2m1 0h2m3 0h1m8 0h2m2 0h1m3 0h2m8 0h4m9 0h2m2 0h2m2 0h1m8 0h1m8 0h1m2 0h1m5 0h3m5 0h1m1 0h1m7 0h1m8 0h2m3 0h1m2 0h1m2 0h1m2 0h2m3 0h2m32 0h2m12 0h1m105 0h1m611 0h1m76 0h1m43 0h2m294 0h1m16 0h1m10 0h1m11 0h1m40 0h2m171 0h1m12 0h1" stroke="#94906d"/><path d="M282.2 1393h1m5 0h1m1 0h1m2 0h1m2 0h2m3 0h1m1 0h1m1 0h5m7 0h1m8 0h3m5 0h2m22 0h1m19 0h2m10 0h1m5 0h1m3 0h2m15 0h1m1 0h2m4 0h1m5 0h2m5 0h1m3 0h1m4 0h1m10 0h1m12 0h1m4 0h1m4 0h1m5 0h1m2 0h1m4 0h3m1 0h3m2 0h1m3 0h2m2 0h2m2 0h1m15 0h1m3 0h1m2 0h1m5 0h4m4 0h1m13 0h1m3 0h2m1 0h2m1 0h1m4 0h1m4 0h1m10 0h2m1 0h1m2 0h2m1 0h2m8 0h1m2 0h4m385 0h1m146 0h1m34 0h2m170 0h1m70 0h1m190 0h1m41 0h1m261 0h1" stroke="#85836f"/><path d="M285.2 1393h1m3 0h1m4 0h1m29 0h2m28 0h1m2 0h1m1 0h1m1 0h3m1 0h1m6 0h1m19 0h1m5 0h1m11 0h1m1 0h1m5 0h1m10 0h2m4 0h1m24 0h2m1 0h3m9 0h1m3 0h1m18 0h1m6 0h1m11 0h2m35 0h2m23 0h3m20 0h1m8 0h3m4 0h1m151 0h1m247 0h2m290 0h1m160 0h1m99 0h1m86 0h1m216 0h1m187 0h1" stroke="#b4a864"/><path d="M302.2 1393h1m1 0h1m5 0h2m3 0h2m13 0h2m1 0h1m48 0h1m24 0h2m12 0h1m29 0h2m25 0h1m5 0h1m30 0h1m11 0h1m1 0h2m18 0h1m8 0h1m33 0h2m534 0h1m39 0h1m543 0h1m77 0h1m259 0h1" stroke="#c4b55d"/><path d="M321.2 1393h1m19 0h2m9 0h2m20 0h2m9 0h1m5 0h1m14 0h1m41 0h2m57 0h1m17 0h1m5 0h1m3 0h1m4 0h1m2 0h1m17 0h1m1 0h1m19 0h1m174 0h1m304 0h1" stroke="#d4c256"/><path d="M337.2 1393h2m9 0h1m24 0h1m9 0h2m3 0h1m20 0h1m4 0h1m11 0h1m1 0h1m24 0h1m18 0h1m19 0h1m1 0h1m19 0h1m49 0h2m355 0h1m365 0h1m251 0h2m153 0h1m1 0h1m271 0h1m88 0h1" stroke="#777770"/><path d="M411.2 1393h1m4 0h1m111 0h1" stroke="#e3ce50"/><path d="M629.2 1393h6m4 0h4m10 0h8m88 0h1m23 0h1m90 0h1m203 0h1" stroke="#384266"/><path d="M635.2 1393h4m11 0h3m8 0h1m1 0h4m1 0h1m1 0h5m5 0h2m5 0h2m9 0h1m5 0h3m6 0h1m9 0h1m18 0h3m2 0h2m12 0h3m3 0h1m1 0h1m4 0h4m7 0h5m2 0h2m14 0h2m1 0h4m22 0h2m36 0h2m11 0h1m43 0h2m25 0h3m22 0h1m8 0h2m1 0h1m17 0h1m1 0h1m23 0h1m1 0h1m1 0h2m9 0h1m35 0h2m15 0h3m5 0h2m12 0h7m43 0h3m21 0h1m8 0h1m6 0h1m20 0h1m23 0h3m108 0h1m10 0h2m57 0h2m67 0h1m197 0h2m62 0h1m136 0h1m68 0h1m38 0h1" stroke="#404866"/><path d="M643.2 1393h3" stroke="#2a3668"/><path d="M685.2 1393h2m3 0h1m1 0h1m91 0h1m30 0h3m14 0h1m6 0h1m5 0h2m3 0h2m10 0h2m2 0h9m2 0h3m2 0h1m8 0h2m6 0h2m6 0h1m7 0h2m5 0h2m2 0h5m5 0h2m7 0h2m8 0h1m6 0h4m8 0h2m12 0h2m8 0h11m11 0h2m8 0h6m10 0h9m1 0h3m1 0h3m3 0h2m1 0h5m2 0h1m1 0h2m2 0h2m11 0h2m2 0h4m2 0h1m5 0h2m1 0h2m4 0h2m3 0h3m29 0h2m7 0h2m3 0h1m4 0h1m13 0h1m6 0h2m6 0h3m6 0h3m1 0h1m7 0h3m3 0h3m2 0h2m6 0h4m2 0h3m3 0h8m7 0h8m2 0h2m4 0h15m1 0h6m1 0h15m1 0h4m2 0h5m2 0h3m2 0h12m5 0h1m3 0h10m1 0h1m4 0h1m2 0h2m2 0h2m3 0h8m3 0h2m2 0h2m3 0h6m2 0h3m2 0h4m1 0h1m2 0h2m4 0h5m2 0h3m2 0h4m1 0h1m3 0h2m2 0h5m1 0h3m2 0h2m3 0h1m3 0h9m3 0h2m3 0h3m2 0h4m4 0h2m1 0h2m6 0h1m5 0h4m6 0h4m2 0h2m2 0h1m2 0h3m1 0h6m3 0h1m2 0h3m1 0h3m4 0h5m5 0h1m3 0h11m3 0h10m3 0h1m1 0h4m3 0h1m3 0h3m5 0h1m5 0h2m2 0h1m1 0h1m2 0h3m1 0h1m1 0h1m3 0h2m2 0h6m1 0h1m3 0h2m2 0h5m6 0h1m3 0h6m5 0h4m2 0h1m2 0h2m2 0h2m2 0h1m2 0h2m3 0h2m5 0h10m2 0h1m4 0h13m7 0h2m5 0h5m3 0h2m1 0h5m6 0h1m1 0h7m4 0h1m6 0h3m3 0h2m3 0h1m6 0h2m9 0h3m4 0h2m1 0h3m1 0h2m3 0h2m1 0h8m3 0h3m8 0h3m2 0h3m7 0h3m6 0h3m2 0h6m4 0h2m4 0h1m9 0h4m2 0h1m4 0h4m3 0h4m1 0h2m3 0h2m5 0h4m2 0h3m1 0h2m1 0h2m2 0h5m5 0h2m4 0h2m2 0h1m4 0h2m3 0h7m4 0h3m1 0h1m3 0h1m7 0h1m3 0h4m3 0h1m5 0h1" stroke="#595d6c"/><path d="M689.2 1393h1m369 0h1m115 0h1m73 0h2m80 0h2m10 0h1m39 0h2m17 0h2m3 0h2m16 0h2m11 0h1m74 0h2m13 0h1m119 0h3m12 0h1m122 0h2m13 0h1m5 0h2m32 0h3m3 0h2m70 0h2m35 0h1m103 0h2" stroke="#696b71"/><path d="M278.2 1417h347M629.2 1417h46M680.2 1417h19M704.2 1417h74M783.2 1417h15M803.2 1417h17M825.2 1417h115M945.2 1417h34M984.2 1417h199M1188.2 1417h33M1226.2 1417h862" stroke="#494f66"/><path d="M278.2 1417h1m6 0h3m14 0h1m3 0h1m1 0h1m9 0h2m11 0h1m11 0h1m9 0h2m4 0h1m9 0h1m1 0h2m18 0h1m4 0h1m5 0h1m12 0h2m31 0h2m6 0h2m12 0h1m8 0h2m15 0h1m2 0h1m13 0h2m3 0h2m36 0h1m2 0h1m2 0h1m7 0h1m4 0h1m26 0h1m37 0h1m6 0h1m4 0h2m1 0h1m2 0h1m3 0h1m1 0h2m164 0h1m43 0h2m32 0h1m467 0h1m10 0h1m66 0h2m180 0h2m83 0h1m181 0h1m84 0h1" stroke="#d4c256"/><path d="M279.2 1417h2m1 0h1m7 0h1m26 0h1m8 0h1m8 0h1m43 0h1m14 0h1m10 0h2m15 0h1m4 0h1m2 0h1m29 0h1m14 0h2m43 0h1m10 0h1m2 0h1m9 0h1m1 0h1m6 0h1m4 0h1m53 0h1m5 0h1m4 0h1m22 0h1m12 0h2m2 0h1m2 0h1m2 0h3m226 0h1m175 0h1m31 0h2m376 0h1m245 0h2m7 0h1m86 0h1m44 0h1m48 0h1" stroke="#b4a864"/><path d="M283.2 1417h1m5 0h1m25 0h1m6 0h1m11 0h1m27 0h2m6 0h1m26 0h1m9 0h1m11 0h2m25 0h2m2 0h1m16 0h2m2 0h2m20 0h1m11 0h2m3 0h2m14 0h2m24 0h1m2 0h1m7 0h1m19 0h3m12 0h2m24 0h1m29 0h1m104 0h1m65 0h4m3 0h1m11 0h3m2 0h2m5 0h2m2 0h1m22 0h1m4 0h5m6 0h3m7 0h1m2 0h4m10 0h2m27 0h2m3 0h4m3 0h2m3 0h4m32 0h1m12 0h1m27 0h2m63 0h3m14 0h3m42 0h2m10 0h2m2 0h1m25 0h1m10 0h4m1 0h1m8 0h2m5 0h3m14 0h3m3 0h3m1 0h2m36 0h1m3 0h2m4 0h5m11 0h2m14 0h2m15 0h2m10 0h1m12 0h2m8 0h6m4 0h1m6 0h1m13 0h1m8 0h1m7 0h2m2 0h4m3 0h2m3 0h4m25 0h2m1 0h2m8 0h1m1 0h3m6 0h2m5 0h4m8 0h2m2 0h1m2 0h3m2 0h2m8 0h6m6 0h1m5 0h3m23 0h6m8 0h1m2 0h1m4 0h2m4 0h1m6 0h2m5 0h1m13 0h1m3 0h1m3 0h1m1 0h3m20 0h1m3 0h3m5 0h2m6 0h1m1 0h1m2 0h3m4 0h1m1 0h4m2 0h1m9 0h2m5 0h1m13 0h2m7 0h1m7 0h2m5 0h2m3 0h1m3 0h1m2 0h5m20 0h5m4 0h2m18 0h6m5 0h1m11 0h2m5 0h3m8 0h1m1 0h2m15 0h2m2 0h1m5 0h4m3 0h4m3 0h1m4 0h1m14 0h1m3 0h2m10 0h3m6 0h1m5 0h3m12 0h1m5 0h6m11 0h2m10 0h1m7 0h1m10 0h1m2 0h1m3 0h2" stroke="#595d6c"/><path d="M284.2 1417h1m6 0h2m2 0h1m1 0h1m6 0h1m2 0h1m6 0h1m8 0h2m12 0h1m13 0h2m11 0h3m31 0h1m34 0h2m1 0h1m14 0h1m39 0h2m5 0h1m17 0h1m57 0h1m6 0h2m27 0h1m6 0h1m14 0h1m2 0h2m1 0h1m194 0h1m231 0h1m269 0h2m71 0h1m19 0h1m10 0h1m40 0h1m303 0h2m5 0h1m1 0h1m93 0h1m99 0h1m24 0h1" stroke="#c4b55d"/><path d="M288.2 1417h1m10 0h1m3 0h1m1 0h1m14 0h2m22 0h1m3 0h3m16 0h1m12 0h4m1 0h2m14 0h1m6 0h1m26 0h1m9 0h1m12 0h1m3 0h3m16 0h2m6 0h2m9 0h2m1 0h2m7 0h1m41 0h1m2 0h1m6 0h6m8 0h2m25 0h1m74 0h2m5 0h1m2 0h2m5 0h1m6 0h3m15 0h2m2 0h4m5 0h5m4 0h2m18 0h1m6 0h4m8 0h8m6 0h1m6 0h1m11 0h2m25 0h1m3 0h2m5 0h2m31 0h1m22 0h2m5 0h1m5 0h3m3 0h3m1 0h7m5 0h1m4 0h2m26 0h1m7 0h2m12 0h2m1 0h1m2 0h2m1 0h2m4 0h6m1 0h2m1 0h1m2 0h1m6 0h1m5 0h7m3 0h3m1 0h4m2 0h2m3 0h3m4 0h1m1 0h2m3 0h2m3 0h2m4 0h6m1 0h2m1 0h1m1 0h3m6 0h2m5 0h3m2 0h3m7 0h1m2 0h1m2 0h2m10 0h3m10 0h1m7 0h3m2 0h2m10 0h2m1 0h7m6 0h3m2 0h1m2 0h3m2 0h1m45 0h1m17 0h3m11 0h3m4 0h1m32 0h3m5 0h1m22 0h2m9 0h1m4 0h1m6 0h5m2 0h1m21 0h2m22 0h5m7 0h1m13 0h3m4 0h1m9 0h3m2 0h2m3 0h1m1 0h1m10 0h5m16 0h2m5 0h2m7 0h2m1 0h2m45 0h2m9 0h3m7 0h2m3 0h2m1 0h1m5 0h1m18 0h1m2 0h4m3 0h4m3 0h2m2 0h2m20 0h2m23 0h1m22 0h3m17 0h5m8 0h5m1 0h3m2 0h2m24 0h3m13 0h3m9 0h1m7 0h2m4 0h2m20 0h2m8 0h1m1 0h3m3 0h2m16 0h4m7 0h2m3 0h1m6 0h3m8 0h3m5 0h2m7 0h2m1 0h3m2 0h3m2 0h1m2 0h2m3 0h1m14 0h5m10 0h3m8 0h3m4 0h2m21 0h4m1 0h1m5 0h2m2 0h2m7 0h3m2 0h1m2 0h1" stroke="#404866"/><path d="M293.2 1417h1m2 0h1m35 0h1m84 0h2m4 0h2m12 0h1m5 0h2m9 0h1m32 0h2m19 0h2m13 0h1m9 0h1m16 0h1m37 0h1m3 0h1m7 0h2m1 0h2m14 0h2m10 0h1m2 0h1m8 0h1m6 0h1m191 0h1m193 0h2m73 0h1m386 0h1m146 0h1m261 0h2" stroke="#94906d"/><path d="M294.2 1417h1m5 0h2m11 0h1m15 0h1m6 0h1m1 0h2m16 0h1m4 0h1m6 0h1m23 0h1m2 0h1m13 0h2m28 0h1m75 0h1m13 0h1m42 0h1m7 0h1m14 0h1m25 0h2m18 0h2m6 0h1m17 0h1" stroke="#85836f"/><path d="M309.2 1417h2m114 0h2m50 0h2m28 0h1m176 0h3m1 0h2m4 0h3m13 0h9m2 0h1m10 0h2m16 0h7m4 0h1m6 0h3m20 0h2m10 0h1m1 0h1m3 0h7m2 0h2m61 0h2m113 0h2m15 0h2m23 0h2m37 0h3m64 0h1m21 0h2m3 0h2m7 0h2m20 0h1m127 0h3m26 0h2m77 0h1m104 0h2m84 0h1m160 0h1m82 0h3m209 0h2" stroke="#384266"/><path d="M325.2 1417h1m29 0h1m161 0h1m21 0h3m9 0h1m8 0h1m25 0h2m25 0h1m15 0h1m14 0h1m53 0h1m26 0h1m176 0h3m27 0h1m13 0h1m5 0h2m115 0h1m184 0h1m15 0h1m22 0h1m17 0h1m51 0h1m3 0h1m14 0h2m110 0h2m69 0h2m60 0h1m22 0h1m37 0h3m32 0h2m16 0h1m59 0h3m19 0h2m184 0h2" stroke="#696b71"/><path d="M330.2 1417h1m2 0h1m8 0h1m34 0h1m6 0h1m2 0h1m1 0h2m21 0h3m6 0h1m18 0h1m11 0h2m11 0h2m17 0h1m43 0h1m18 0h1m48 0h2m8 0h1m2 0h1m1 0h1m18 0h1m6 0h1m30 0h1m228 0h1m251 0h1m70 0h1m140 0h2m8 0h1m32 0h1m18 0h2m175 0h2m18 0h1m354 0h1m55 0h1" stroke="#a39c6b"/><path d="M345.2 1417h1m11 0h1m45 0h2m23 0h2m31 0h1m60 0h1m26 0h1m39 0h1m71 0h1m624 0h1m101 0h2m126 0h1m143 0h1m398 0h1" stroke="#e3ce50"/><path d="M378.2 1417h1m314 0h1m15 0h1m9 0h2m3 0h1m5 0h2m2 0h1m7 0h2m16 0h1m4 0h3m9 0h1m15 0h4m9 0h3" stroke="#313c67"/><path d="M494.2 1417h2m137 0h1m5 0h1m5 0h1m2 0h1m2 0h1m4 0h2m14 0h3m17 0h1m69 0h1m12 0h2" stroke="#777770"/><path d="M682.2 1417h2m73 0h2" stroke="#2a3668"/><path d="M1102.2 1417h1m32 0h2" stroke="#f0da46"/><path d="M278.2 1441h347M629.2 1441h46M680.2 1441h19M704.2 1441h74M783.2 1441h15M803.2 1441h17M825.2 1441h115M945.2 1441h34M984.2 1441h199M1188.2 1441h33M1226.2 1441h862" stroke="#404866"/><path d="M278.2 1441h3m8 0h1m6 0h1m13 0h3m4 0h3m6 0h1m8 0h1m16 0h1m3 0h1m1 0h1m6 0h2m1 0h6m7 0h4m8 0h2m1 0h2m4 0h1m14 0h2m6 0h3m2 0h2m3 0h1m5 0h2m10 0h4m2 0h1m9 0h1m2 0h3m21 0h1m12 0h1m5 0h1m14 0h2m1 0h1m3 0h1m1 0h2m20 0h1m8 0h1m20 0h1m13 0h1m1 0h2m7 0h1m1 0h1m947 0h1m152 0h2m75 0h2m3 0h1m187 0h1" stroke="#a39c6b"/><path d="M281.2 1441h2m8 0h2m9 0h1m27 0h2m32 0h1m10 0h1m32 0h1m70 0h1m15 0h1m1 0h1m56 0h1m12 0h2" stroke="#e3ce50"/><path d="M283.2 1441h1m4 0h1m1 0h1m2 0h2m2 0h3m3 0h3m1 0h3m3 0h2m6 0h1m2 0h1m3 0h2m2 0h1m5 0h4m2 0h3m4 0h1m5 0h1m1 0h3m1 0h1m10 0h1m1 0h2m12 0h1m4 0h1m3 0h2m4 0h2m4 0h2m2 0h2m2 0h2m1 0h3m3 0h1m4 0h1m3 0h2m1 0h1m2 0h3m5 0h2m8 0h2m2 0h2m19 0h2m3 0h2m9 0h1m1 0h2m11 0h1m6 0h2m1 0h1m4 0h1m3 0h1m4 0h2m4 0h1m5 0h1m3 0h4m1 0h1m8 0h7m11 0h2m1 0h3m1 0h2m1 0h3m8 0h1m1 0h1m4 0h1m4 0h3m227 0h1m180 0h1m251 0h1m25 0h1m58 0h1m21 0h1m18 0h3m16 0h1m24 0h2m89 0h1m59 0h1m133 0h1m207 0h1m79 0h1" stroke="#94906d"/><path d="M284.2 1441h2m30 0h1m5 0h1m13 0h1m10 0h1m39 0h3m56 0h1m3 0h1m19 0h2m10 0h1m7 0h1m10 0h1m4 0h1m5 0h3m28 0h2m33 0h2m7 0h2m903 0h2m186 0h1m42 0h1m70 0h2" stroke="#c4b55d"/><path d="M286.2 1441h2m32 0h1m65 0h1m34 0h1m12 0h1m12 0h1m9 0h2m49 0h1m7 0h1m2 0h2m5 0h1m7 0h2m30 0h1m16 0h2m1 0h1m16 0h2m8 0h1m945 0h1" stroke="#d4c256"/><path d="M295.2 1441h1m41 0h1m151 0h1m60 0h2m3 0h2m54 0h1m250 0h1m50 0h2m4 0h2m81 0h3m49 0h1m182 0h1m30 0h1m89 0h2m100 0h1m18 0h1m7 0h1m16 0h1m75 0h2m370 0h1m68 0h2" stroke="#777770"/><path d="M300.2 1441h2m4 0h1m16 0h1m1 0h1m7 0h2m7 0h1m5 0h2m3 0h3m22 0h3m4 0h1m12 0h1m2 0h1m7 0h2m2 0h2m14 0h1m2 0h1m3 0h1m11 0h2m10 0h1m2 0h2m2 0h1m7 0h4m1 0h1m7 0h1m4 0h2m4 0h1m7 0h1m2 0h2m6 0h1m4 0h1m4 0h2m8 0h1m6 0h1m6 0h1m12 0h1m3 0h1m10 0h1m4 0h1m9 0h1m2 0h1m3 0h1m3 0h1m2 0h1m4 0h2m4 0h2m416 0h1m210 0h1m77 0h2m200 0h2m70 0h1m101 0h1m50 0h2m54 0h2m100 0h1m12 0h2m149 0h2m1 0h1" stroke="#85836f"/><path d="M315.2 1441h1m11 0h1m15 0h1m6 0h1m11 0h1m4 0h1m23 0h2m10 0h2m2 0h1m31 0h1m28 0h1m12 0h1m1 0h3m12 0h1m1 0h1m2 0h1m17 0h2m23 0h1m1 0h2m13 0h2m16 0h2m36 0h1m630 0h1m90 0h1m149 0h1m53 0h1m86 0h1m181 0h1m5 0h2m72 0h1m67 0h1m51 0h1" stroke="#b4a864"/><path d="M630.2 1441h2m2 0h2m2 0h2m4 0h5m1 0h1m1 0h4m16 0h3m15 0h1m117 0h2m113 0h1m108 0h1m3 0h1m58 0h1m77 0h3m78 0h2m16 0h3m109 0h2m10 0h2m25 0h2m7 0h3m1 0h3m62 0h1m56 0h1m68 0h2m9 0h3m61 0h1m1 0h1m184 0h1m117 0h2m23 0h1m19 0h3" stroke="#313c67"/><path d="M632.2 1441h1m7 0h2m9 0h1m4 0h4m4 0h6m1 0h1m9 0h2m12 0h1m9 0h2m3 0h1m5 0h5m32 0h1m3 0h2m44 0h3m6 0h4m2 0h2m20 0h3m3 0h2m38 0h3m22 0h2m12 0h1m21 0h3m3 0h3m32 0h3m3 0h2m18 0h2m2 0h1m56 0h1m6 0h4m12 0h1m8 0h1m7 0h1m12 0h2m3 0h3m4 0h3m3 0h2m9 0h2m4 0h2m14 0h2m10 0h2m12 0h3m4 0h2m2 0h2m44 0h3m17 0h3m1 0h2m44 0h2m29 0h3m20 0h3m27 0h1m3 0h1m5 0h4m5 0h1m3 0h3m6 0h2m4 0h1m11 0h1m11 0h1m21 0h1m10 0h1m1 0h2m32 0h4m10 0h2m4 0h1m3 0h6m16 0h4m21 0h3m22 0h3m14 0h1m1 0h1m12 0h3m16 0h1m38 0h2m4 0h1m9 0h2m19 0h3m3 0h2m12 0h3m29 0h3m8 0h3m7 0h3m4 0h2m16 0h2m10 0h2m8 0h1m15 0h1m17 0h1m2 0h1m6 0h2m95 0h1m3 0h6m5 0h2" stroke="#384266"/><path d="M636.2 1441h2m23 0h3m6 0h1m139 0h2m126 0h2m105 0h1m58 0h3m754 0h1m101 0h2" stroke="#2a3668"/><path d="M680.2 1441h1m3 0h1m6 0h1m12 0h1m6 0h3m10 0h3m2 0h2m8 0h3m3 0h5m6 0h1m9 0h1m6 0h3m13 0h5m1 0h3m33 0h1m2 0h1m4 0h1m3 0h2m6 0h1m8 0h2m1 0h4m1 0h1m5 0h10m8 0h2m4 0h3m2 0h3m10 0h1m7 0h1m7 0h2m22 0h4m3 0h3m2 0h6m33 0h1m2 0h1m17 0h1m21 0h3m20 0h2m11 0h1m5 0h1m23 0h2m25 0h3m5 0h2m2 0h2m12 0h4m8 0h2m36 0h2m5 0h1m3 0h2m16 0h1m9 0h2m5 0h3m10 0h2m10 0h4m6 0h1m3 0h3m44 0h2m3 0h1m9 0h1m5 0h1m5 0h4m11 0h2m5 0h2m1 0h2m9 0h2m2 0h2m2 0h1m19 0h2m2 0h2m25 0h2m23 0h2m10 0h1m42 0h5m2 0h1m3 0h2m13 0h1m5 0h5m13 0h1m27 0h1m20 0h2m14 0h3m14 0h1m2 0h2m9 0h3m3 0h1m4 0h2m1 0h5m17 0h4m3 0h3m19 0h2m2 0h2m13 0h5m19 0h3m2 0h1m2 0h1m11 0h6m4 0h3m8 0h1m21 0h3m3 0h4m4 0h5m2 0h3m1 0h3m9 0h3m3 0h3m5 0h1m14 0h8m13 0h1m7 0h3m14 0h2m42 0h2m13 0h5m2 0h2m13 0h4m2 0h7m8 0h1m1 0h2" stroke="#595d6c"/><path d="M683.2 1441h1m1 0h5m2 0h3m14 0h1m4 0h2m11 0h2m7 0h2m6 0h1m5 0h2m12 0h2m4 0h3m10 0h3m39 0h2m1 0h3m2 0h1m11 0h1m2 0h3m2 0h1m4 0h2m29 0h3m4 0h2m8 0h1m10 0h2m10 0h3m18 0h3m13 0h2m6 0h2m2 0h1m5 0h3m5 0h2m17 0h2m6 0h3m17 0h5m5 0h1m3 0h1m3 0h3m6 0h3m10 0h3m5 0h5m7 0h2m9 0h3m11 0h2m33 0h4m25 0h1m11 0h4m7 0h1m15 0h2m7 0h1m7 0h4m12 0h2m13 0h3m16 0h1m2 0h1m1 0h1m7 0h2m4 0h6m2 0h1m3 0h2m2 0h2m3 0h1m13 0h3m2 0h3m5 0h2m6 0h1m1 0h1m4 0h2m4 0h2m5 0h3m3 0h1m2 0h2m2 0h1m2 0h6m10 0h1m28 0h3m4 0h3m4 0h2m1 0h2m6 0h3m2 0h2m3 0h2m2 0h2m6 0h1m9 0h3m5 0h3m7 0h3m5 0h2m8 0h2m6 0h2m10 0h1m4 0h3m19 0h3m7 0h1m1 0h1m4 0h6m2 0h3m3 0h6m6 0h3m11 0h1m8 0h4m3 0h5m10 0h2m1 0h3m2 0h2m5 0h1m1 0h2m9 0h1m2 0h1m8 0h1m2 0h2m1 0h2m6 0h1m25 0h4m4 0h2m10 0h3m7 0h2m3 0h1m4 0h2m2 0h5m6 0h1m2 0h4m20 0h3m4 0h1m8 0h3m7 0h2m5 0h3m34 0h2m4 0h5m9 0h3m20 0h1m4 0h2m8 0h3m9 0h2m2 0h2m4 0h2m1 0h6m4 0h4m2 0h1m3 0h1m9 0h1m5 0h2m2 0h2m15 0h2m8 0h3m17 0h4m1 0h1" stroke="#494f66"/><path d="M707.2 1441h2m22 0h3m8 0h2m8 0h1m7 0h2m24 0h3m5 0h1m89 0h2m8 0h2m11 0h1m90 0h4m3 0h2m30 0h1m70 0h2m94 0h1m24 0h1m101 0h1m3 0h1m21 0h1m15 0h3m41 0h1m87 0h2m5 0h1m8 0h2m5 0h1m2 0h2m5 0h2m37 0h2m3 0h3m12 0h1m56 0h2m16 0h3m37 0h1m28 0h1m110 0h4m7 0h2m33 0h3m21 0h1m26 0h1m23 0h2m1 0h3m13 0h1m6 0h3m17 0h2m3 0h1m33 0h2m18 0h1" stroke="#696b71"/><path d="M1113.2 1441h2" stroke="#233068"/><path d="M278.2 1465.1h347M629.2 1465.1h46M680.2 1465.1h19M704.2 1465.1h74M783.2 1465.1h15M803.2 1465.1h17M825.2 1465.1h115M945.2 1465.1h34M984.2 1465.1h199M1188.2 1465.1h33M1226.2 1465.1h862" stroke="#494f66"/><path d="M278.2 1465.1h4m26 0h1m37 0h2m11 0h1m12 0h1m13 0h1m24 0h1m15 0h1m3 0h1m2 0h3m3 0h1m1 0h1m1 0h1m15 0h1m12 0h2m12 0h1m11 0h4m26 0h1m43 0h1m2 0h1m13 0h2m8 0h1m9 0h1m805 0h2m136 0h1m7 0h1m28 0h1m103 0h1m44 0h1" stroke="#94906d"/><path d="M282.2 1465.1h1m3 0h1m1 0h3m3 0h2m1 0h2m2 0h2m2 0h1m9 0h1m2 0h2m6 0h1m1 0h3m2 0h1m2 0h3m3 0h2m12 0h1m11 0h1m1 0h1m16 0h1m3 0h1m3 0h1m1 0h1m6 0h1m8 0h1m11 0h2m10 0h2m12 0h2m18 0h2m9 0h1m5 0h1m4 0h1m9 0h1m1 0h2m9 0h1m4 0h1m1 0h3m4 0h1m10 0h1m6 0h4m4 0h2m6 0h1m7 0h1m2 0h1m2 0h2m5 0h2m10 0h1m5 0h3m6 0h3" stroke="#777770"/><path d="M283.2 1465.1h1m1 0h1m24 0h2m8 0h1m18 0h3m7 0h1m2 0h1m9 0h1m2 0h3m5 0h2m13 0h1m1 0h1m7 0h3m2 0h1m4 0h1m5 0h2m3 0h1m8 0h3m8 0h1m7 0h1m1 0h1m6 0h2m1 0h1m15 0h1m1 0h1m2 0h2m7 0h1m4 0h1m15 0h2m6 0h1m15 0h1m10 0h3m4 0h1m21 0h1m13 0h1m5 0h3m19 0h1m4 0h2m1 0h1m160 0h3m4 0h5m30 0h2m39 0h2m3 0h3m9 0h2m9 0h1m1 0h1m51 0h1m26 0h1m347 0h1" stroke="#696b71"/><path d="M284.2 1465.1h1m11 0h1m7 0h1m20 0h1m1 0h1m4 0h1m30 0h1m29 0h2m17 0h1m4 0h2m2 0h1m19 0h1m66 0h1m5 0h2m12 0h1m36 0h1m51 0h1m299 0h1m430 0h1m24 0h1m21 0h1m40 0h2m31 0h1m88 0h1m5 0h1m181 0h1m32 0h1m17 0h1m26 0h1m96 0h1m1 0h1m14 0h1m45 0h2" stroke="#a39c6b"/><path d="M287.2 1465.1h1m3 0h2m7 0h1m2 0h1m8 0h2m7 0h3m10 0h2m8 0h2m25 0h1m3 0h3m4 0h2m5 0h1m16 0h2m12 0h1m1 0h1m9 0h2m11 0h1m15 0h1m3 0h1m3 0h1m6 0h1m6 0h2m7 0h1m2 0h1m11 0h1m12 0h1m10 0h1m3 0h1m2 0h2m18 0h2m3 0h1m4 0h1m12 0h2m15 0h2m18 0h2m424 0h2m57 0h2" stroke="#85836f"/><path d="M293.2 1465.1h1m13 0h1m1 0h1m43 0h2m25 0h2m23 0h1m3 0h1m36 0h1m3 0h1m16 0h2m1 0h1m25 0h3m34 0h1m6 0h1m1 0h3m8 0h1m6 0h3m3 0h2m24 0h2m13 0h2m6 0h1m167 0h1m7 0h1m5 0h1m31 0h5m6 0h1m6 0h3m3 0h7m1 0h3m18 0h3m5 0h3m6 0h9m1 0h2m2 0h1m5 0h2m2 0h3m1 0h1m7 0h3m7 0h5m8 0h1m1 0h1m3 0h4m1 0h2m2 0h4m10 0h3m18 0h2m41 0h3m12 0h2m17 0h2m65 0h2m13 0h1m29 0h1m29 0h2m10 0h5m4 0h4m3 0h1m4 0h4m2 0h1m10 0h1m4 0h1m6 0h1m9 0h1m3 0h1m1 0h1m16 0h3m18 0h1m61 0h3m5 0h2m18 0h1m23 0h2m5 0h5m7 0h1m1 0h1m2 0h1m32 0h2m5 0h2m4 0h3m11 0h2m3 0h3m4 0h1m1 0h1m13 0h1m7 0h3m13 0h2m10 0h3m3 0h2m23 0h2m2 0h1m2 0h2m3 0h3m22 0h1m7 0h5m1 0h1m1 0h2m2 0h1m5 0h1m15 0h2m3 0h1m5 0h2m14 0h1m42 0h2m3 0h2m13 0h4m11 0h2m7 0h2m6 0h1m2 0h1m8 0h1m25 0h2m9 0h3m1 0h1m9 0h3m13 0h1m5 0h1m16 0h1m8 0h1m18 0h1m66 0h3m6 0h2m10 0h3m6 0h2m16 0h3m1 0h1" stroke="#595d6c"/><path d="M299.2 1465.1h1m14 0h1m1 0h2m30 0h1m2 0h1m3 0h1m8 0h1m4 0h1m8 0h2m16 0h1m4 0h2m13 0h1m6 0h2m28 0h2m7 0h3m20 0h2m17 0h1m4 0h1m2 0h1m4 0h1m1 0h1m6 0h2m41 0h2m16 0h1m1 0h1m30 0h1m543 0h1m69 0h1m9 0h1m38 0h1m113 0h1m172 0h1m61 0h1m24 0h1m40 0h1m52 0h2m12 0h2m58 0h1m24 0h1m21 0h1m18 0h1m12 0h2m108 0h2m32 0h1m36 0h1" stroke="#c4b55d"/><path d="M306.2 1465.1h1m24 0h1m18 0h1m33 0h2m57 0h1m4 0h1m17 0h1m23 0h2m40 0h1m3 0h2m16 0h2m15 0h1m5 0h1m2 0h1m2 0h2m21 0h1m16 0h1m489 0h2m9 0h1m134 0h1m41 0h2m88 0h1m37 0h2m7 0h1m43 0h2m59 0h1m87 0h1m35 0h1m110 0h1m17 0h1m44 0h1m36 0h1m41 0h1m95 0h1m29 0h1" stroke="#b4a864"/><path d="M357.2 1465.1h2m96 0h1m2 0h1m54 0h1m145 0h2m19 0h1m10 0h4m1 0h2m143 0h2m51 0h2m1 0h1m54 0h3m42 0h7m3 0h1m5 0h2m2 0h1m4 0h2m3 0h2m6 0h4m7 0h2m7 0h2m3 0h6m4 0h1m2 0h9m2 0h1m3 0h4m3 0h5m6 0h4m2 0h1m2 0h4m4 0h1m1 0h1m3 0h2m4 0h2m1 0h3m5 0h3m5 0h4m4 0h2m1 0h2m1 0h2m12 0h1m6 0h4m8 0h3m6 0h1m2 0h5m17 0h2m9 0h2m4 0h3m2 0h2m5 0h2m4 0h5m9 0h1m25 0h1m1 0h1m2 0h2m10 0h1m1 0h1m16 0h2m10 0h2m1 0h3m1 0h3m25 0h2m6 0h2m5 0h3m8 0h2m7 0h1m17 0h3m2 0h1m3 0h2m37 0h2m14 0h2m12 0h1m34 0h1m3 0h1m7 0h4m10 0h2m8 0h2m3 0h1m2 0h2m3 0h3m7 0h1m36 0h2m8 0h2m7 0h2m12 0h1m15 0h1m3 0h1m3 0h3m15 0h1m30 0h2m13 0h2m4 0h1m15 0h2m4 0h1m7 0h3m12 0h1m3 0h3m11 0h2m6 0h1m3 0h4m2 0h3m3 0h3m1 0h1m3 0h1m5 0h2m21 0h1m5 0h2m10 0h3m16 0h1m1 0h1m9 0h1m12 0h2m13 0h1m6 0h2m13 0h1m3 0h5m26 0h1m1 0h1m4 0h1m1 0h1m9 0h2m16 0h2m8 0h1" stroke="#404866"/><path d="M629.2 1465.1h5m35 0h2m3 0h1m29 0h1m6 0h6m11 0h12m2 0h5m2 0h2m2 0h2m6 0h2m4 0h11" stroke="#2a3668"/><path d="M634.2 1465.1h6m1 0h8m2 0h4m7 0h1m2 0h4m3 0h1m9 0h2m14 0h1m6 0h3m11 0h3m4 0h2m12 0h1m18 0h2" stroke="#313c67"/><path d="M640.2 1465.1h1m8 0h2m4 0h4m2 0h1m1 0h2m6 0h1m1 0h1m7 0h1m2 0h4m1 0h2m4 0h1m322 0h1m124 0h3m72 0h3m272 0h1m94 0h3m232 0h1m20 0h1m73 0h1m76 0h1m7 0h2" stroke="#384266"/><path d="M708.2 1465.1h3m6 0h2m3 0h4m15 0h1m5 0h2m2 0h2m2 0h4m4 0h4" stroke="#233068"/><path d="M803.2 1465.1h13m471 0h1m23 0h1m191 0h1m12 0h1m169 0h1m42 0h1m18 0h2m31 0h1m34 0h1m5 0h1m96 0h1m55 0h1m5 0h2m13 0h1" stroke="#f0da46"/><path d="M816.2 1465.1h4" stroke="#fde73b"/><path d="M926.2 1465.1h1m173 0h1m187 0h1m17 0h1m21 0h1m21 0h1m2 0h1m90 0h1m27 0h1m39 0h1m39 0h1m49 0h1m22 0h1m37 0h2m63 0h1m99 0h1m9 0h2m54 0h1m3 0h1m71 0h1m26 0h2m69 0h1m3 0h1m6 0h1" stroke="#e3ce50"/><path d="M932.2 1465.1h1m371 0h1m14 0h1m10 0h2m10 0h1m132 0h1m1 0h1m42 0h1m54 0h2m100 0h1m16 0h1m8 0h1m28 0h1m54 0h1m120 0h1m28 0h1m4 0h1m6 0h1m49 0h1m1 0h1m5 0h2m32 0h1m16 0h1m7 0h1m7 0h2" stroke="#d4c256"/><path d="M278.2 1489.1h347M629.2 1489.1h46M680.2 1489.1h19M704.2 1489.1h74M783.2 1489.1h15M803.2 1489.1h17M825.2 1489.1h115M945.2 1489.1h34M984.2 1489.1h199M1188.2 1489.1h33M1226.2 1489.1h862" stroke="#595d6c"/><path d="M278.2 1489.1h2m13 0h2m32 0h1m2 0h2m10 0h1m11 0h4m7 0h1m1 0h1m3 0h1m18 0h1m3 0h1m17 0h1m1 0h3m8 0h2m2 0h2m20 0h1m5 0h1m5 0h1m4 0h2m2 0h1m23 0h1m2 0h1m6 0h2m7 0h2m7 0h1m12 0h2m20 0h1m5 0h1m2 0h2m6 0h1m23 0h4m1 0h2m10 0h3m32 0h1m11 0h2m7 0h1m7 0h2m9 0h4m92 0h2m5 0h3m31 0h2m1 0h3m6 0h2m5 0h2m10 0h1m17 0h3m1 0h1m2 0h3m30 0h3m7 0h3m6 0h1m8 0h3m13 0h2m1 0h3m7 0h1m182 0h2m75 0h3m30 0h1m9 0h2m7 0h2m57 0h2m23 0h2m65 0h3m43 0h2m4 0h1m37 0h1m12 0h2m10 0h3m9 0h3m40 0h2m73 0h2m7 0h2m77 0h1m36 0h3m2 0h1m48 0h1m5 0h1m8 0h3m2 0h1m12 0h2m1 0h2m14 0h1m44 0h2m6 0h1m26 0h1m5 0h3m5 0h1m7 0h1m20 0h1m3 0h1m10 0h1m7 0h1m13 0h2m2 0h2" stroke="#696b71"/><path d="M280.2 1489.1h8m3 0h2m3 0h2m2 0h6m4 0h1m4 0h1m7 0h2m9 0h1m1 0h2m5 0h2m4 0h1m2 0h1m8 0h1m6 0h1m3 0h1m1 0h4m4 0h1m14 0h3m1 0h2m1 0h2m1 0h1m2 0h2m1 0h1m5 0h1m2 0h1m4 0h2m7 0h2m6 0h1m3 0h2m2 0h2m6 0h1m9 0h1m2 0h2m8 0h1m1 0h1m4 0h1m3 0h2m1 0h2m20 0h1m2 0h2m1 0h3m11 0h3m10 0h1m3 0h1m4 0h4m2 0h1m5 0h3m3 0h2m4 0h1m1 0h2m2 0h3m2 0h1m2 0h1m14 0h2m6 0h3m29 0h2" stroke="#777770"/><path d="M289.2 1489.1h2m17 0h1m5 0h1m3 0h2m6 0h1m42 0h2m8 0h1m3 0h1m3 0h3m6 0h1m9 0h1m10 0h2m13 0h1m5 0h4m1 0h1m1 0h1m13 0h1m2 0h1m14 0h5m4 0h2m3 0h2m15 0h7m15 0h1m1 0h1m9 0h1m2 0h1m4 0h1m6 0h2m11 0h1m23 0h2m2 0h1m5 0h1m5 0h2m8 0h1m53 0h1m433 0h1" stroke="#85836f"/><path d="M295.2 1489.1h1m3 0h1m6 0h2m1 0h1m1 0h2m15 0h2m2 0h2m24 0h1m3 0h1m3 0h1m18 0h1m37 0h1m7 0h1m26 0h1m5 0h1m1 0h1m8 0h2m11 0h2m13 0h1m13 0h1m2 0h1m22 0h1m2 0h2m12 0h1m5 0h1m30 0h1m141 0h1m27 0h1m35 0h2m2 0h2m2 0h1m7 0h1m447 0h1m599 0h1m100 0h1" stroke="#94906d"/><path d="M298.2 1489.1h1m21 0h1m43 0h1m15 0h2m74 0h1m8 0h1m1 0h1m16 0h1m20 0h1m15 0h1m13 0h2m7 0h1m6 0h1m20 0h1m39 0h2m2 0h1m199 0h1m87 0h1m740 0h1" stroke="#b4a864"/><path d="M313.2 1489.1h1m2 0h2m27 0h1m1 0h2m4 0h1m30 0h1m15 0h1m2 0h1m20 0h1m17 0h1m3 0h2m2 0h1m20 0h1m30 0h1m1 0h1m13 0h1m12 0h1m17 0h1m3 0h3m15 0h1m5 0h2m5 0h1m1 0h1m2 0h2m18 0h1m11 0h1m44 0h1m147 0h1m16 0h1m27 0h1m633 0h1m549 0h1" stroke="#a39c6b"/><path d="M341.2 1489.1h1m4 0h1m3 0h2m21 0h1m4 0h1m14 0h1m1 0h1m12 0h2m10 0h2m11 0h2m26 0h1m31 0h1m7 0h1m26 0h2m3 0h2m46 0h2m24 0h1m197 0h1m3 0h2m88 0h1m248 0h2m480 0h1m240 0h2m2 0h1m152 0h1" stroke="#c4b55d"/><path d="M630.2 1489.1h2m8 0h4m1 0h2m9 0h2m29 0h5m13 0h3m6 0h2m1 0h3m3 0h5m3 0h4m5 0h2m1 0h5m2 0h2m5 0h3m5 0h2m1 0h1m2 0h1m2 0h3m61 0h3m20 0h3m5 0h1m114 0h2m3 0h6m4 0h2m4 0h6m1 0h9m3 0h2m2 0h15m6 0h1m9 0h6m3 0h1m4 0h1m6 0h6m4 0h11m3 0h1m1 0h2m1 0h1m2 0h8m3 0h7m1 0h2m2 0h4m1 0h8m2 0h2m2 0h4m3 0h6m1 0h4m4 0h2m4 0h1m7 0h3m10 0h3m2 0h7m3 0h3m8 0h2m7 0h2m3 0h2m10 0h6m14 0h3m2 0h3m3 0h1m5 0h2m5 0h2m14 0h3m3 0h5m2 0h3m3 0h1m4 0h2m3 0h2m5 0h1m6 0h5m21 0h2m21 0h2m3 0h2m2 0h3m3 0h6m8 0h1m24 0h2m15 0h2m1 0h3m14 0h1m2 0h2m6 0h5m2 0h1m3 0h1m16 0h2m19 0h1m1 0h2m7 0h1m1 0h4m12 0h2m3 0h1m9 0h3m8 0h2m1 0h2m13 0h3m9 0h1m4 0h2m30 0h3m6 0h3m2 0h2m5 0h3m3 0h2m8 0h5m11 0h2m4 0h3m11 0h2m3 0h1m11 0h1m1 0h1m1 0h1m4 0h2m12 0h4m14 0h2m2 0h1m6 0h1m8 0h1m8 0h4m6 0h3m5 0h1m5 0h3m6 0h2m22 0h1m27 0h2m8 0h3m9 0h7m4 0h1m4 0h3m3 0h1m3 0h1m13 0h1m9 0h3m6 0h2m1 0h1m3 0h3m1 0h2m13 0h2m8 0h1m2 0h1m11 0h3m4 0h2m10 0h1m3 0h1m2 0h3" stroke="#494f66"/><path d="M632.2 1489.1h1m3 0h3m14 0h1m13 0h2m2 0h2m36 0h3m4 0h1m37 0h1m6 0h3m222 0h3m6 0h3m5 0h2m6 0h1m35 0h2m1 0h1m14 0h3m6 0h2m3 0h1m8 0h2m11 0h3m1 0h1m14 0h3m7 0h1m8 0h1m20 0h1m6 0h1m7 0h1m21 0h3m6 0h2m289 0h1m87 0h2m23 0h3m368 0h1" stroke="#404866"/><path d="M806.2 1489.1h1m5 0h1m94 0h1m736 0h1" stroke="#d4c256"/><path d="M813.2 1489.1h1m3 0h2m113 0h1m21 0h1m477 0h1m89 0h1m60 0h2m315 0h1" stroke="#e3ce50"/><path d="M815.2 1489.1h1" stroke="#fde73b"/><path d="M858.2 1489.1h1m98 0h1" stroke="#f0da46"/><path d="M1002.2 1489.1h1m18 0h3" stroke="#384266"/><path d="M278.2 1513.1h347M629.2 1513.1h46M680.2 1513.1h19M704.2 1513.1h74M783.2 1513.1h15M803.2 1513.1h17M825.2 1513.1h115M945.2 1513.1h34M984.2 1513.1h199M1188.2 1513.1h33M1226.2 1513.1h862" stroke="#595d6c"/><path d="M279.2 1513.1h1m1 0h2m10 0h1m55 0h2m62 0h1m1 0h1m1 0h1m18 0h1m11 0h1m14 0h1m11 0h2m1 0h1m8 0h1m40 0h1m17 0h1m32 0h1m7 0h1m27 0h1m8 0h1m200 0h1m56 0h2m31 0h1m41 0h2m98 0h1m173 0h1m1 0h1m104 0h1m71 0h1" stroke="#b4a864"/><path d="M283.2 1513.1h2m5 0h3m3 0h1m7 0h1m11 0h3m5 0h3m1 0h4m1 0h1m6 0h2m4 0h1m1 0h1m5 0h1m1 0h1m3 0h1m1 0h2m2 0h2m7 0h1m8 0h1m3 0h2m6 0h1m4 0h1m6 0h2m2 0h1m1 0h1m3 0h5m4 0h1m2 0h5m6 0h1m14 0h3m7 0h1m4 0h2m1 0h1m4 0h1m2 0h2m1 0h2m19 0h6m7 0h3m3 0h2m5 0h1m12 0h1m1 0h1m5 0h1m6 0h3m2 0h1m2 0h2m5 0h2m1 0h1m16 0h1m4 0h3m15 0h3m13 0h2m310 0h2m8 0h1m11 0h3m4 0h1m1 0h2" stroke="#777770"/><path d="M285.2 1513.1h2m10 0h3m19 0h3m12 0h1m9 0h1m7 0h2m18 0h1m18 0h1m3 0h1m8 0h1m11 0h1m42 0h1m7 0h1m9 0h1m2 0h1m3 0h1m3 0h6m5 0h1m3 0h2m8 0h1m2 0h2m6 0h1m2 0h1m1 0h2m3 0h2m28 0h1m38 0h1m6 0h1m6 0h1m28 0h1m532 0h1" stroke="#85836f"/><path d="M287.2 1513.1h3m4 0h2m9 0h1m1 0h1m27 0h2m5 0h2m7 0h1m5 0h1m6 0h1m3 0h2m1 0h1m2 0h1m12 0h1m4 0h3m7 0h2m2 0h1m3 0h2m23 0h1m1 0h4m1 0h1m3 0h2m1 0h1m2 0h2m7 0h2m1 0h1m4 0h1m27 0h2m13 0h1m9 0h2m17 0h2m5 0h2m5 0h2m13 0h2m8 0h2m4 0h1m2 0h4m5 0h1m5 0h1m1 0h1m2 0h1m4 0h1m7 0h1m6 0h2m50 0h2m8 0h5m29 0h2m101 0h3m8 0h1m2 0h3m12 0h1m18 0h3m8 0h1m2 0h2m9 0h1m32 0h1m2 0h3m11 0h1m1 0h2m4 0h1m4 0h4m6 0h1m15 0h1m11 0h2m44 0h2m38 0h1m128 0h2m24 0h3m15 0h2m32 0h1m7 0h1m23 0h3m6 0h1m36 0h1m40 0h2m1 0h3m18 0h3m49 0h1m43 0h1m70 0h1m55 0h1m65 0h3m36 0h1m88 0h2m75 0h2m15 0h1m40 0h3m36 0h1" stroke="#696b71"/><path d="M300.2 1513.1h2m12 0h1m129 0h2m126 0h1m23 0h1m10 0h1m23 0h3m3 0h1m3 0h2m2 0h1m1 0h2m5 0h3m3 0h6m14 0h1m7 0h3m5 0h3m5 0h5m5 0h1m3 0h5m4 0h5m6 0h2m4 0h1m1 0h6m13 0h2m2 0h7m7 0h2m10 0h1m72 0h1m15 0h3m32 0h2m5 0h3m2 0h1m56 0h2m8 0h2m4 0h3m1 0h2m1 0h3m5 0h1m3 0h1m4 0h4m5 0h2m1 0h1m2 0h4m3 0h2m8 0h6m4 0h1m3 0h2m1 0h1m1 0h2m4 0h3m8 0h3m7 0h5m1 0h6m7 0h5m12 0h2m10 0h2m5 0h3m3 0h2m3 0h2m7 0h2m8 0h1m4 0h1m2 0h5m2 0h8m1 0h2m2 0h2m14 0h3m4 0h1m3 0h1m10 0h4m4 0h1m3 0h5m1 0h9m12 0h6m13 0h1m1 0h4m1 0h1m7 0h5m2 0h1m1 0h1m2 0h3m4 0h2m2 0h4m2 0h2m1 0h2m10 0h2m3 0h2m3 0h6m3 0h2m9 0h5m7 0h1m5 0h1m5 0h1m3 0h3m13 0h3m11 0h2m7 0h3m1 0h2m2 0h5m2 0h2m3 0h2m2 0h4m1 0h1m3 0h7m10 0h4m2 0h3m7 0h2m13 0h2m4 0h1m4 0h1m9 0h2m11 0h3m4 0h2m7 0h2m4 0h2m2 0h5m7 0h2m5 0h4m6 0h3m6 0h1m9 0h1m3 0h3m2 0h5m1 0h1m1 0h1m5 0h1m2 0h4m1 0h3m8 0h1m3 0h2m7 0h1m3 0h1m18 0h3m3 0h3m2 0h1m2 0h3m13 0h1m2 0h2m8 0h9m2 0h3m9 0h2m11 0h4m12 0h1m3 0h2m1 0h3m10 0h2m2 0h4m2 0h1m15 0h5m6 0h2m5 0h2m5 0h5m6 0h5m2 0h2m4 0h4m2 0h3m3 0h2m5 0h2m15 0h3m3 0h3m12 0h1m1 0h3m5 0h1m2 0h2m4 0h2m3 0h4m5 0h2m2 0h2m1 0h3m14 0h6m9 0h3m2 0h1m1 0h5m7 0h4m1 0h4m2 0h1" stroke="#494f66"/><path d="M302.2 1513.1h2m2 0h1m1 0h1m4 0h1m1 0h1m42 0h2m5 0h1m17 0h1m70 0h2m12 0h1m31 0h2m36 0h3m25 0h2m5 0h2m13 0h1m24 0h1m346 0h1m1 0h2" stroke="#94906d"/><path d="M310.2 1513.1h3m14 0h1m4 0h1m4 0h1m17 0h1m34 0h1m16 0h1m15 0h2m4 0h1m13 0h1m16 0h1m4 0h1m15 0h1m55 0h1m19 0h1m39 0h1m1 0h1m241 0h1m60 0h1m45 0h3m20 0h1m55 0h1m395 0h2m251 0h1m71 0h1m225 0h1m7 0h1m80 0h1" stroke="#c4b55d"/><path d="M323.2 1513.1h1m23 0h1m34 0h1m14 0h4m4 0h1m64 0h1m25 0h1m5 0h1m2 0h1m8 0h2m20 0h1m26 0h1m20 0h2m19 0h1m2 0h1m2 0h2m3 0h1m4 0h1m1 0h1m256 0h1m24 0h1m29 0h2m8 0h1m6 0h1m8 0h1m516 0h1m143 0h2m11 0h2m7 0h1m264 0h2m72 0h1" stroke="#a39c6b"/><path d="M370.2 1513.1h1m147 0h1m331 0h1m5 0h1m296 0h1m16 0h2m134 0h1m17 0h1m134 0h1m17 0h1m98 0h2m19 0h2m7 0h1m154 0h1m45 0h2m25 0h1m220 0h2" stroke="#d4c256"/><path d="M450.2 1513.1h2m191 0h2m5 0h2m5 0h2m7 0h2m3 0h3m35 0h2m6 0h1m5 0h2m9 0h4m2 0h4m1 0h1m6 0h6m9 0h2m7 0h2m7 0h10m1 0h2m5 0h1m12 0h1m2 0h1m212 0h2m70 0h2m32 0h1m187 0h1m30 0h2m377 0h2m31 0h2m105 0h3m22 0h3m82 0h1" stroke="#404866"/><path d="M636.2 1513.1h1m124 0h2m41 0h3m3 0h6m1 0h2" stroke="#384266"/><path d="M807.2 1513.1h3" stroke="#313c67"/><path d="M833.2 1513.1h1m39 0h1m411 0h1m62 0h1m12 0h1m287 0h1m125 0h1m118 0h1" stroke="#f0da46"/><path d="M860.2 1513.1h1m94 0h1m16 0h2m2 0h1m449 0h2m18 0h1m65 0h1m12 0h1m22 0h2m57 0h1m86 0h1m18 0h2m146 0h2m137 0h1m84 0h2" stroke="#e3ce50"/><path d="M892.2 1513.1h2m400 0h1m18 0h2m580 0h1" stroke="#fde73b"/><path d="M278.2 1537.1h347M629.2 1537.1h46M680.2 1537.1h19M704.2 1537.1h74M783.2 1537.1h15M803.2 1537.1h17M825.2 1537.1h115M945.2 1537.1h34M984.2 1537.1h199M1188.2 1537.1h33M1226.2 1537.1h862" stroke="#595d6c"/><path d="M278.2 1537.1h2m2 0h1m7 0h1m3 0h1m14 0h1m2 0h2m42 0h1m20 0h1m16 0h1m13 0h2m1 0h1m69 0h1m12 0h1m76 0h1m1 0h1m4 0h1m29 0h2m22 0h1m16 0h1m14 0h2m4 0h2m24 0h1m8 0h2m11 0h3m2 0h3m13 0h1m5 0h1m3 0h1m1 0h2m263 0h1m196 0h1m126 0h1m37 0h1m577 0h1" stroke="#b4a864"/><path d="M280.2 1537.1h1m18 0h1m5 0h4m9 0h1m17 0h2m3 0h1m11 0h2m12 0h4m1 0h2m9 0h2m1 0h1m8 0h2m3 0h1m2 0h1m2 0h1m5 0h1m8 0h1m3 0h5m4 0h1m3 0h4m1 0h1m9 0h2m11 0h1m23 0h1m2 0h1m7 0h1m22 0h2m4 0h1m2 0h1m11 0h1m3 0h3m6 0h2m3 0h2m2 0h3m2 0h1m1 0h2m15 0h3m3 0h1m1 0h1m10 0h1m1 0h1m8 0h1m1 0h2m4 0h3m10 0h2m30 0h1m60 0h1m11 0h1m7 0h1m12 0h3m22 0h3m285 0h1m121 0h2" stroke="#777770"/><path d="M281.2 1537.1h1m4 0h1m17 0h1m11 0h1m13 0h1m21 0h1m22 0h1m43 0h1m17 0h1m6 0h1m39 0h1m24 0h2m28 0h2m36 0h1m1 0h2m33 0h1m2 0h2m18 0h1m6 0h3m1 0h1m31 0h2m32 0h1m6 0h2m10 0h1m3 0h1m24 0h1m278 0h1m98 0h1" stroke="#a39c6b"/><path d="M287.2 1537.1h3m8 0h1m30 0h1m28 0h4m35 0h1m54 0h1m29 0h1m23 0h1m91 0h1m2 0h2m3 0h2m47 0h1m26 0h1m1 0h1m1 0h1m4 0h2m1 0h1m31 0h1m2 0h1m2 0h1m33 0h1m4 0h1m4 0h1m125 0h1m111 0h2m42 0h1m38 0h1m5 0h1m37 0h1m23 0h1m189 0h1" stroke="#d4c256"/><path d="M295.2 1537.1h3m4 0h1m11 0h1m5 0h3m1 0h3m1 0h1m2 0h3m9 0h1m4 0h1m16 0h2m7 0h1m1 0h1m3 0h3m6 0h3m9 0h2m15 0h1m4 0h1m11 0h1m10 0h2m3 0h1m11 0h1m11 0h3m2 0h1m6 0h1m1 0h1m9 0h2m20 0h2m3 0h2m25 0h1m12 0h1m23 0h1m22 0h1m8 0h1m11 0h2m81 0h1m28 0h1m27 0h2" stroke="#85836f"/><path d="M300.2 1537.1h2m9 0h1m28 0h1m1 0h1m44 0h1m16 0h1m17 0h1m34 0h1m13 0h2m30 0h2m10 0h1m4 0h1m7 0h2m2 0h1m37 0h1m15 0h1m13 0h1m49 0h3m1 0h1m11 0h2m1 0h1m20 0h1m2 0h1m1 0h1m20 0h1m17 0h1m7 0h1m5 0h1m9 0h1m8 0h1m281 0h1m11 0h1m86 0h1m512 0h1" stroke="#c4b55d"/><path d="M303.2 1537.1h1m11 0h1m7 0h1m3 0h1m18 0h1m17 0h1m23 0h1m3 0h1m20 0h1m28 0h1m25 0h1m19 0h1m3 0h1m3 0h1m5 0h1m4 0h1m5 0h1m9 0h1m12 0h1m20 0h1m53 0h1m4 0h1m44 0h1m10 0h2m34 0h3m20 0h1m4 0h1m1 0h1m4 0h2m9 0h1m2 0h1m1 0h3m1 0h2m7 0h2m290 0h1m17 0h1m716 0h1" stroke="#94906d"/><path d="M310.2 1537.1h1m8 0h1m14 0h2m2 0h2m4 0h1m2 0h1m1 0h3m19 0h1m6 0h2m5 0h1m7 0h1m4 0h2m7 0h1m2 0h1m3 0h1m5 0h1m3 0h1m5 0h4m11 0h1m2 0h3m4 0h2m1 0h5m1 0h2m3 0h2m2 0h2m3 0h2m3 0h1m1 0h2m4 0h1m3 0h1m1 0h1m7 0h1m2 0h1m5 0h1m1 0h1m2 0h1m18 0h1m4 0h1m8 0h1m3 0h1m3 0h3m2 0h1m15 0h3m10 0h3m6 0h3m27 0h1m13 0h1m5 0h1m8 0h2m86 0h1m32 0h9m51 0h2m2 0h1m10 0h4m6 0h3m12 0h2m3 0h2m4 0h2m12 0h1m36 0h1m9 0h1m10 0h7m5 0h1m21 0h3m3 0h2m3 0h3m8 0h2m1 0h4m4 0h6m3 0h1m5 0h1m1 0h6m10 0h3m6 0h1m4 0h1m4 0h2m15 0h1m1 0h1m8 0h2m6 0h2m29 0h2m6 0h2m6 0h3m9 0h2m7 0h7m12 0h5m2 0h3m10 0h1m17 0h2m7 0h2m12 0h1m24 0h1m19 0h1m1 0h1m2 0h1m32 0h1m6 0h1m25 0h2m6 0h2m7 0h3m9 0h2m6 0h5m85 0h1m20 0h2m12 0h3m7 0h2m81 0h2m2 0h1m5 0h2m2 0h1m45 0h3m11 0h1m2 0h1m27 0h2m5 0h1m22 0h1m40 0h1m20 0h2m41 0h1m18 0h2m26 0h2m10 0h1m5 0h2m20 0h1m10 0h1m2 0h1m9 0h2m15 0h3m12 0h1m7 0h1m11 0h1m7 0h1" stroke="#696b71"/><path d="M531.2 1537.1h1m2 0h1m6 0h2m3 0h3m70 0h1m199 0h1m5 0h2m2 0h2m32 0h5m9 0h4m15 0h2m9 0h1m8 0h4m39 0h1m37 0h3m9 0h2m13 0h1m7 0h1m6 0h2m36 0h3m13 0h2m3 0h1m26 0h2m3 0h3m5 0h2m26 0h1m4 0h2m23 0h2m7 0h3m6 0h1m5 0h1m12 0h3m5 0h4m12 0h2m3 0h1m3 0h1m13 0h2m6 0h1m2 0h3m1 0h3m12 0h3m2 0h1m1 0h2m1 0h2m9 0h3m3 0h1m3 0h1m3 0h6m9 0h7m9 0h2m3 0h2m26 0h2m1 0h2m4 0h2m11 0h1m13 0h2m15 0h1m3 0h2m2 0h1m6 0h1m1 0h1m3 0h2m4 0h1m13 0h1m7 0h1m9 0h1m2 0h1m7 0h1m4 0h1m15 0h1m2 0h1m20 0h2m2 0h4m8 0h3m11 0h1m18 0h2m6 0h1m4 0h1m15 0h1m4 0h1m1 0h1m3 0h2m1 0h3m5 0h1m3 0h3m11 0h3m17 0h2m5 0h8m6 0h2m19 0h3m2 0h2m3 0h2m29 0h1m14 0h3m1 0h2m7 0h7m2 0h1m13 0h2m4 0h1m6 0h6m10 0h2m7 0h6m2 0h1m8 0h2m4 0h2m8 0h2m11 0h4m1 0h1m8 0h2m15 0h3m1 0h2m3 0h1m14 0h3m4 0h1m1 0h2m26 0h2m5 0h1m8 0h2m7 0h1m2 0h2m9 0h2m10 0h2" stroke="#494f66"/><path d="M636.2 1537.1h1m48 0h1m2 0h2m8 0h1m5 0h1m6 0h2m2 0h1m25 0h1m11 0h1m11 0h1m396 0h1" stroke="#e3ce50"/><path d="M683.2 1537.1h1m29 0h1m13 0h2m11 0h1m15 0h1m20 0h1" stroke="#f0da46"/><path d="M687.2 1537.1h1m9 0h1" stroke="#fde73b"/><path d="M803.2 1537.1h8m2 0h2m177 0h1m233 0h2m31 0h1m138 0h1m82 0h2m461 0h1m25 0h3" stroke="#404866"/><path d="M811.2 1537.1h2m2 0h4" stroke="#384266"/><path d="M278.2 1561.2h347M629.2 1561.2h46M680.2 1561.2h19M704.2 1561.2h74M783.2 1561.2h15M803.2 1561.2h17M825.2 1561.2h115M945.2 1561.2h34M984.2 1561.2h199M1188.2 1561.2h33M1226.2 1561.2h862" stroke="#494f66"/><path d="M278.2 1561.2h2m7 0h1m1 0h1m7 0h2m17 0h2m19 0h2m2 0h2m9 0h3m4 0h1m12 0h2m4 0h1m2 0h4m3 0h2m8 0h3m1 0h1m3 0h2m7 0h1m2 0h2m5 0h1m6 0h1m1 0h2m2 0h2m2 0h2m1 0h2m13 0h1m2 0h1m1 0h1m4 0h2m12 0h1m5 0h2m6 0h1m1 0h1m1 0h1m9 0h1m3 0h1m1 0h2m4 0h3m12 0h2m4 0h2m5 0h2m1 0h1m5 0h1m4 0h1m10 0h1m10 0h3m3 0h4m1 0h1m1 0h3m3 0h1m4 0h3m3 0h1m197 0h1m21 0h1m22 0h1m5 0h1m5 0h1m7 0h1m12 0h1m31 0h1m1 0h2m3 0h1m199 0h1m338 0h1m3 0h1m561 0h2" stroke="#696b71"/><path d="M280.2 1561.2h1m3 0h2m8 0h1m24 0h3m6 0h1m2 0h2m2 0h2m9 0h1m1 0h1m6 0h2m1 0h1m3 0h1m13 0h2m2 0h1m4 0h1m10 0h1m4 0h1m6 0h2m3 0h2m7 0h1m6 0h1m6 0h2m9 0h4m4 0h1m2 0h1m37 0h2m1 0h1m21 0h2m7 0h1m1 0h1m3 0h2m12 0h2m5 0h1m9 0h1m15 0h1m1 0h1m23 0h1m70 0h5m1 0h3m1 0h1m5 0h3m109 0h2m4 0h2m1 0h1m7 0h1m43 0h1m6 0h3m1 0h1m124 0h2m14 0h3m15 0h1m12 0h3m12 0h1m14 0h6m10 0h3m19 0h1m7 0h1m18 0h1m4 0h2m9 0h2m6 0h2m6 0h1m8 0h6m1 0h1m5 0h2m1 0h1m4 0h2m2 0h1m3 0h1m2 0h1m23 0h2m1 0h1m2 0h1m3 0h2m1 0h2m5 0h1m3 0h1m9 0h3m17 0h1m17 0h1m6 0h1m3 0h1m1 0h5m2 0h4m4 0h1m2 0h5m11 0h2m5 0h1m5 0h4m5 0h2m17 0h5m7 0h1m5 0h2m4 0h2m8 0h3m3 0h3m5 0h3m14 0h2m6 0h2m7 0h2m12 0h2m1 0h2m2 0h2m9 0h1m5 0h3m3 0h1m6 0h2m3 0h2m7 0h1m7 0h6m8 0h2m2 0h4m1 0h3m2 0h1m11 0h11m1 0h3m1 0h2m7 0h1m7 0h3m6 0h2m9 0h2m2 0h2m11 0h3m17 0h1m16 0h1m7 0h2m9 0h2m5 0h2m2 0h2m8 0h2m5 0h1m3 0h6m7 0h3m5 0h5m2 0h2m3 0h1m1 0h7m8 0h3m18 0h2m1 0h4m4 0h2m18 0h2m4 0h3m4 0h2m3 0h1m6 0h3m13 0h2m6 0h2m1 0h1m10 0h2m2 0h7m7 0h2m1 0h4m9 0h1m7 0h3m2 0h3m4 0h2m17 0h1m17 0h3m6 0h3m3 0h3m9 0h3m1 0h2m10 0h7m3 0h6m4 0h2" stroke="#595d6c"/><path d="M281.2 1561.2h1m17 0h2m13 0h2m33 0h2m15 0h2m6 0h1m4 0h1m41 0h1m18 0h2m20 0h1m1 0h1m8 0h1m9 0h1m58 0h1m25 0h1m29 0h1m11 0h2m10 0h2m213 0h1m4 0h2m18 0h3m10 0h1m7 0h1m2 0h1m27 0h1m19 0h1m10 0h2m17 0h1m8 0h2m271 0h1m177 0h1m7 0h2m242 0h1m15 0h1m72 0h1m69 0h2" stroke="#b4a864"/><path d="M282.2 1561.2h2m7 0h2m9 0h9m12 0h4m6 0h1m34 0h2m34 0h2m6 0h1m13 0h1m1 0h1m4 0h1m18 0h2m23 0h1m7 0h5m4 0h2m9 0h1m1 0h2m1 0h1m3 0h1m12 0h1m1 0h1m3 0h3m11 0h3m4 0h1m7 0h1m6 0h4m1 0h2m2 0h3m1 0h1m4 0h1m20 0h1m11 0h2m210 0h1m14 0h1m26 0h1m10 0h1m7 0h1m7 0h1m11 0h1m11 0h1" stroke="#777770"/><path d="M286.2 1561.2h1m1 0h1m4 0h1m7 0h1m28 0h1m3 0h1m8 0h1m17 0h1m1 0h1m11 0h1m11 0h1m22 0h2m18 0h2m19 0h1m9 0h1m4 0h3m5 0h2m16 0h1m8 0h1m7 0h1m5 0h1m1 0h1m42 0h1m2 0h1m12 0h1m16 0h1m10 0h2m9 0h2m7 0h1m230 0h1m3 0h1m11 0h1m12 0h1m17 0h1m7 0h1m27 0h1m23 0h1" stroke="#94906d"/><path d="M290.2 1561.2h1m21 0h2m37 0h1m8 0h1m42 0h1m23 0h1m76 0h1m101 0h1m12 0h1m214 0h1m4 0h1m11 0h1m16 0h1m10 0h1m17 0h1m2 0h1m11 0h1m23 0h1m10 0h1m18 0h1m2 0h3m486 0h1m2 0h1m157 0h3m66 0h1m95 0h1" stroke="#c4b55d"/><path d="M295.2 1561.2h1m15 0h1m6 0h1m8 0h1m16 0h2m1 0h1m9 0h1m28 0h1m3 0h4m3 0h1m18 0h1m3 0h1m2 0h2m19 0h1m9 0h1m14 0h1m36 0h1m4 0h1m1 0h1m14 0h1m14 0h2m19 0h1m8 0h1m7 0h1m4 0h1m4 0h2m24 0h1m25 0h1m183 0h1m2 0h1m15 0h1m1 0h2m2 0h2m3 0h2m32 0h1m14 0h2m9 0h6m185 0h1" stroke="#85836f"/><path d="M322.2 1561.2h1m6 0h1m34 0h2m5 0h1m22 0h2m60 0h2m18 0h1m3 0h3m10 0h1m26 0h1m10 0h1m6 0h1m17 0h1m8 0h1m34 0h1m67 0h1m4 0h1m155 0h1m5 0h2m4 0h1m56 0h1m58 0h2m1 0h1m382 0h1m183 0h1m192 0h2m182 0h2" stroke="#a39c6b"/><path d="M339.2 1561.2h2m288 0h5m2 0h5m1 0h1m1 0h4m1 0h1m7 0h2m2 0h3m1 0h3m1 0h2m18 0h1m15 0h1m14 0h8m3 0h1m3 0h5m2 0h1m2 0h7m2 0h3m1 0h4m3 0h2m7 0h3m10 0h3m3 0h2m1 0h2m5 0h1m6 0h2m175 0h2m3 0h7m3 0h1m4 0h3m2 0h3m9 0h3m7 0h2m7 0h2m14 0h1m1 0h1m9 0h5m20 0h2m15 0h4m7 0h3m21 0h4m21 0h2m23 0h3m6 0h2m5 0h3m1 0h2m6 0h3m6 0h3m11 0h1m11 0h2m13 0h2m3 0h1m24 0h4m3 0h3m1 0h1m27 0h2m5 0h2m20 0h1m5 0h1m10 0h3m26 0h2m25 0h3m70 0h1m1 0h2m65 0h1m39 0h3m22 0h2m4 0h1m17 0h1m75 0h3m16 0h1m17 0h1m12 0h1m7 0h1m4 0h1m3 0h2m7 0h1m47 0h2m14 0h1m2 0h2m3 0h2m9 0h2m9 0h1m17 0h1m17 0h2m5 0h2m20 0h1m16 0h2m2 0h2m5 0h1m14 0h4m7 0h1m40 0h3" stroke="#404866"/><path d="M641.2 1561.2h1m6 0h1m7 0h1m2 0h2m3 0h1m30 0h1m10 0h3m3 0h3m3 0h2m8 0h3m3 0h1m5 0h1m2 0h2m8 0h1m10 0h1m4 0h5m3 0h1m6 0h2m4 0h2m3 0h1m16 0h2m963 0h1m111 0h2" stroke="#384266"/><path d="M653.2 1561.2h3m15 0h2m36 0h3m71 0h1" stroke="#313c67"/><path d="M826.2 1561.2h1m4 0h1m38 0h1m21 0h1m22 0h2m22 0h1m10 0h2m7 0h1m3 0h1m8 0h1m5 0h1m733 0h2" stroke="#fde73b"/><path d="M828.2 1561.2h1m4 0h1m6 0h1m15 0h1m3 0h1m21 0h1m4 0h1m8 0h1m8 0h1m21 0h1m2 0h2m23 0h2m10 0h2m427 0h2m133 0h1m85 0h1m273 0h2" stroke="#f0da46"/><path d="M844.2 1561.2h2m4 0h1m3 0h1m33 0h1m14 0h2m3 0h2m22 0h1m19 0h3m6 0h1m3 0h1m10 0h1m305 0h2m28 0h1m231 0h1m116 0h2m1 0h1m64 0h1m15 0h1m203 0h1m115 0h1" stroke="#e3ce50"/><path d="M865.2 1561.2h2m5 0h1m16 0h2m4 0h1m3 0h1m11 0h1m11 0h2m10 0h1m1 0h1m10 0h2m25 0h1m1 0h1m319 0h1m138 0h1m79 0h2m58 0h1m11 0h1m93 0h1m144 0h1m191 0h1" stroke="#d4c256"/><path d="M278.2 1585.2h347M629.2 1585.2h46M680.2 1585.2h19M704.2 1585.2h74M783.2 1585.2h15M803.2 1585.2h17M825.2 1585.2h115M945.2 1585.2h34M984.2 1585.2h199M1188.2 1585.2h33M1226.2 1585.2h862" stroke="#595d6c"/><path d="M278.2 1585.2h2m103 0h1m100 0h1m2 0h1m15 0h2m73 0h1m12 0h1m45 0h2m7 0h4m3 0h4m13 0h3m7 0h3m11 0h1m9 0h1m2 0h1m6 0h1m1 0h2m3 0h6m5 0h2m2 0h1m5 0h2m20 0h1m1 0h3m4 0h1m33 0h3m15 0h2m2 0h2m26 0h1m5 0h2m4 0h1m4 0h2m4 0h3m2 0h3m2 0h2m3 0h1m7 0h1m19 0h2m10 0h2m1 0h2m52 0h2m2 0h1m13 0h2m1 0h2m19 0h4m40 0h1m5 0h2m5 0h1m14 0h3m5 0h1m11 0h1m1 0h3m3 0h7m4 0h4m19 0h2m9 0h1m2 0h1m50 0h3m45 0h2m4 0h1m60 0h1m83 0h2m3 0h2m33 0h1m42 0h1m67 0h1m4 0h1m28 0h2m18 0h2m217 0h3m72 0h1m16 0h1m28 0h1m1 0h2m68 0h1" stroke="#494f66"/><path d="M280.2 1585.2h1m1 0h1m3 0h2m4 0h2m11 0h4m6 0h1m2 0h1m4 0h1m9 0h3m13 0h2m9 0h1m8 0h1m1 0h1m1 0h1m2 0h3m5 0h4m7 0h2m7 0h2m4 0h1m6 0h1m2 0h1m3 0h1m7 0h2m3 0h2m2 0h1m7 0h1m3 0h2m20 0h2m14 0h1m2 0h1m7 0h1m2 0h3m2 0h2m15 0h1m1 0h1m4 0h1m2 0h3m4 0h2m14 0h1m2 0h2m1 0h5m4 0h3m8 0h5m2 0h1m1 0h1m5 0h2m9 0h2m7 0h2m16 0h1m22 0h3m85 0h5m246 0h3m4 0h2m9 0h1m95 0h3m56 0h2m13 0h3m56 0h2m69 0h2m97 0h2m15 0h2m89 0h1m37 0h2m12 0h1m98 0h2m76 0h1m161 0h3m102 0h2m34 0h1" stroke="#777770"/><path d="M281.2 1585.2h1m1 0h2m5 0h1m63 0h1m1 0h1m34 0h1m17 0h1m24 0h3m11 0h1m3 0h1m28 0h2m10 0h1m4 0h1m29 0h1m52 0h1m571 0h1m19 0h1m153 0h1m103 0h1m121 0h1m220 0h1m52 0h1m253 0h1" stroke="#85836f"/><path d="M288.2 1585.2h2m107 0h1m8 0h1m19 0h2m32 0h2m18 0h1m5 0h1m120 0h1m25 0h2m536 0h1m161 0h1m150 0h1m491 0h1m1 0h1" stroke="#b4a864"/><path d="M291.2 1585.2h1m3 0h2m2 0h5m5 0h3m1 0h2m1 0h2m1 0h3m3 0h2m2 0h1m2 0h1m5 0h2m1 0h5m16 0h1m16 0h1m10 0h1m9 0h1m2 0h1m3 0h2m12 0h3m5 0h3m8 0h1m1 0h1m2 0h3m7 0h3m4 0h1m5 0h6m14 0h3m1 0h1m2 0h3m2 0h2m6 0h1m3 0h1m2 0h2m4 0h3m6 0h1m1 0h1m2 0h2m9 0h6m3 0h1m2 0h2m1 0h2m8 0h2m1 0h1m4 0h2m3 0h2m11 0h4m8 0h2m3 0h7m2 0h2m4 0h1m20 0h3m12 0h4m4 0h2m8 0h1m7 0h3m1 0h4m6 0h2m11 0h3m14 0h1m2 0h4m4 0h2m11 0h3m7 0h2m15 0h3m2 0h2m4 0h1m5 0h4m4 0h9m7 0h2m18 0h8m3 0h5m3 0h2m2 0h2m11 0h2m3 0h2m3 0h2m1 0h4m1 0h2m8 0h2m4 0h6m6 0h1m2 0h1m1 0h1m2 0h1m9 0h2m3 0h1m2 0h4m4 0h1m1 0h3m1 0h1m2 0h1m2 0h4m25 0h3m5 0h1m11 0h1m6 0h3m4 0h2m6 0h1m6 0h1m13 0h6m6 0h2m1 0h2m2 0h3m3 0h2m8 0h2m1 0h1m12 0h8m1 0h1m3 0h1m17 0h3m9 0h1m8 0h1m1 0h1m15 0h1m3 0h2m7 0h5m9 0h3m2 0h1m5 0h5m5 0h3m6 0h3m2 0h4m3 0h3m1 0h4m2 0h4m5 0h5m2 0h1m5 0h5m2 0h9m1 0h3m3 0h4m2 0h1m4 0h3m2 0h1m1 0h3m1 0h1m7 0h2m10 0h7m1 0h2m1 0h3m1 0h1m1 0h3m1 0h5m11 0h2m3 0h1m5 0h3m2 0h6m11 0h3m12 0h3m2 0h4m2 0h5m4 0h1m2 0h2m1 0h5m1 0h1m1 0h6m15 0h2m2 0h11m9 0h1m1 0h5m8 0h7m2 0h1m2 0h1m3 0h3m2 0h2m6 0h2m6 0h2m2 0h1m1 0h2m1 0h4m11 0h2m2 0h3m3 0h1m1 0h4m9 0h5m15 0h3m7 0h3m6 0h1m7 0h2m1 0h3m10 0h3m9 0h6m1 0h1m2 0h2m2 0h7m2 0h4m4 0h8m1 0h1m9 0h3m2 0h3m2 0h1m3 0h5m6 0h3m17 0h2m3 0h3m5 0h1m6 0h4m5 0h1m2 0h5m7 0h2m1 0h8m1 0h2m4 0h2m6 0h1m3 0h2m10 0h1m2 0h3m2 0h2m4 0h3m1 0h5m3 0h3m6 0h5m1 0h1m5 0h3m7 0h2m2 0h1m3 0h5m1 0h2m1 0h3m3 0h1m2 0h2m14 0h2m6 0h5m4 0h7m5 0h2m3 0h5m3 0h1m3 0h2m2 0h2m2 0h3m4 0h3m4 0h1m4 0h2m5 0h2m10 0h1m13 0h1m1 0h1m1 0h2" stroke="#696b71"/><path d="M298.2 1585.2h1m5 0h1m17 0h1m4 0h1m2 0h1m9 0h1m11 0h2m7 0h1m37 0h1m13 0h1m1 0h2m26 0h2m5 0h2m31 0h1m34 0h1m1 0h1m75 0h1m6 0h2m151 0h2m107 0h1m67 0h1m28 0h1m141 0h1m500 0h1m214 0h1m217 0h1m47 0h2" stroke="#a39c6b"/><path d="M312.2 1585.2h1m59 0h1m1 0h1m5 0h1m7 0h2m35 0h1m32 0h2m3 0h3m8 0h1m24 0h1m9 0h1m3 0h1m38 0h3m2 0h1m36 0h1m13 0h1m225 0h1m678 0h2m37 0h1m234 0h2" stroke="#94906d"/><path d="M630.2 1585.2h1m4 0h1m93 0h3m5 0h1m20 0h1m3 0h1m8 0h2m359 0h2" stroke="#404866"/><path d="M1155.2 1585.2h1m11 0h1" stroke="#e3ce50"/><path d="M1733.2 1585.2h1" stroke="#d4c256"/><path d="M2013.2 1585.2h2" stroke="#c4b55d"/><path d="M278.2 1609.2h347M629.2 1609.2h46M680.2 1609.2h19M704.2 1609.2h74M783.2 1609.2h15M803.2 1609.2h17M825.2 1609.2h115M945.2 1609.2h34M984.2 1609.2h199M1188.2 1609.2h33M1226.2 1609.2h862" stroke="#595d6c"/><path d="M278.2 1609.2h1m5 0h2m2 0h6m9 0h4m2 0h7m3 0h1m1 0h7m1 0h2m2 0h3m13 0h2m2 0h1m2 0h5m3 0h3m1 0h2m5 0h1m11 0h1m8 0h2m1 0h1m1 0h1m10 0h3m11 0h1m5 0h3m5 0h2m8 0h2m12 0h4m5 0h3m4 0h8m4 0h2m2 0h3m2 0h1m3 0h4m1 0h8m2 0h2m3 0h1m2 0h6m1 0h2m1 0h3m6 0h1m2 0h2m6 0h2m3 0h5m10 0h2m1 0h1m12 0h1m4 0h2m1 0h2m2 0h4m12 0h2m13 0h1m27 0h2m30 0h2m104 0h2m1 0h4m3 0h1m2 0h1m2 0h1m166 0h3m392 0h2" stroke="#384266"/><path d="M279.2 1609.2h2m15 0h3m3 0h1m4 0h2m22 0h2m3 0h4m5 0h4m2 0h2m1 0h2m5 0h2m4 0h1m8 0h3m2 0h1m3 0h1m2 0h2m1 0h3m4 0h1m3 0h1m1 0h2m2 0h2m1 0h1m7 0h5m11 0h2m5 0h1m3 0h1m5 0h4m12 0h4m4 0h1m1 0h2m8 0h3m3 0h2m4 0h1m1 0h3m17 0h3m1 0h2m14 0h2m4 0h2m2 0h4m4 0h3m8 0h2m7 0h1m6 0h1m1 0h1m3 0h1m1 0h4m2 0h1m9 0h2m2 0h6m3 0h1m5 0h1m1 0h1m2 0h2m14 0h1m20 0h1m15 0h3m1 0h3m10 0h1m7 0h1m1 0h1m5 0h2m12 0h2m3 0h1m22 0h1m2 0h2m15 0h3m9 0h1m9 0h1m4 0h1m3 0h1m303 0h2m92 0h2m121 0h1m40 0h1m27 0h2m1 0h1m34 0h3m6 0h3m22 0h1m21 0h3m3 0h3m13 0h1m15 0h1m1 0h2m44 0h2m13 0h1m15 0h2m55 0h1m13 0h3m88 0h1m5 0h1m19 0h2m2 0h1m5 0h3m17 0h2m12 0h1m6 0h2m63 0h3m8 0h2m28 0h3m34 0h1m43 0h2m14 0h3m2 0h2m17 0h3" stroke="#404866"/><path d="M281.2 1609.2h3m16 0h2m68 0h2m11 0h2m21 0h2m7 0h4m8 0h2m8 0h3m3 0h3m13 0h3m29 0h1m7 0h1m76 0h2m4 0h2m29 0h2m14 0h1m10 0h1m11 0h1m17 0h1m14 0h1m1 0h1m18 0h1m1 0h1m1 0h2m6 0h2m8 0h6m10 0h8m3 0h1m3 0h2m7 0h2m45 0h1m24 0h5m5 0h2m11 0h1m1 0h2m14 0h2m7 0h2m8 0h1m2 0h1m2 0h2m40 0h2m3 0h3m13 0h2m40 0h1m19 0h2m16 0h1m3 0h3m8 0h2m51 0h1m30 0h1m9 0h3m20 0h2m8 0h2m9 0h1m2 0h2m10 0h2m7 0h1m16 0h1m4 0h1m1 0h3m2 0h2m8 0h1m2 0h1m3 0h7m10 0h2m2 0h3m4 0h2m2 0h2m6 0h4m2 0h1m1 0h2m1 0h2m1 0h3m7 0h3m4 0h2m10 0h5m1 0h3m10 0h2m1 0h2m11 0h1m3 0h2m12 0h1m7 0h1m9 0h3m6 0h2m4 0h1m8 0h1m4 0h1m8 0h3m5 0h1m14 0h3m1 0h3m7 0h1m6 0h2m6 0h2m1 0h1m4 0h4m12 0h1m4 0h1m3 0h2m9 0h2m3 0h4m3 0h2m2 0h5m1 0h2m2 0h3m2 0h3m6 0h1m3 0h4m9 0h2m15 0h1m11 0h3m2 0h1m2 0h3m3 0h1m5 0h2m9 0h5m1 0h3m9 0h2m8 0h2m4 0h1m11 0h1m1 0h2m4 0h3m3 0h1m1 0h6m7 0h1m6 0h1m3 0h1m1 0h1m1 0h2m13 0h1m7 0h3m3 0h4m21 0h1m5 0h3m21 0h1m4 0h3m4 0h4m1 0h1m6 0h2m9 0h1m12 0h12m3 0h5m3 0h3m7 0h3m13 0h2m6 0h2m8 0h2m3 0h1m5 0h4m2 0h2m2 0h9m6 0h1m2 0h1m8 0h1m2 0h3m6 0h1m1 0h1m2 0h3m2 0h1m2 0h2m2 0h3m10 0h1m3 0h2m2 0h3m3 0h2m1 0h1m2 0h1" stroke="#494f66"/><path d="M286.2 1609.2h2m28 0h3m21 0h2m21 0h1m8 0h1m1 0h1m4 0h2m9 0h1m3 0h2m4 0h1m9 0h1m14 0h1m3 0h3m15 0h2m7 0h3m13 0h1m45 0h2m14 0h1m2 0h1m3 0h1m2 0h3m9 0h2m10 0h3m3 0h2m8 0h3m1 0h1m16 0h1m4 0h1m10 0h1m11 0h2m22 0h2m15 0h1m32 0h1m49 0h2m52 0h2m4 0h2" stroke="#313c67"/><path d="M294.2 1609.2h2m3 0h1m209 0h1m761 0h1m168 0h1m133 0h1m86 0h1m60 0h1m30 0h2m14 0h1m239 0h2" stroke="#fde73b"/><path d="M320.2 1609.2h1m52 0h1m288 0h1m5 0h2m166 0h2m47 0h1m9 0h1m132 0h1m80 0h1m27 0h1m98 0h1m3 0h1m26 0h1m99 0h1m38 0h1m95 0h2m129 0h1m139 0h2m84 0h1m77 0h1m17 0h1m14 0h1m25 0h1m9 0h1m8 0h1m56 0h1" stroke="#b4a864"/><path d="M328.2 1609.2h1m244 0h1m64 0h1m65 0h1m206 0h1m5 0h1m48 0h1m47 0h1m54 0h1m176 0h2m18 0h1m43 0h1m22 0h1m5 0h1m24 0h1m163 0h1m33 0h1m18 0h1m91 0h1m24 0h1m48 0h2m21 0h1m77 0h1m22 0h1m2 0h1m79 0h1m61 0h1" stroke="#e3ce50"/><path d="M382.2 1609.2h1m3 0h1m252 0h1m97 0h1m213 0h1m126 0h1m34 0h1m123 0h2m47 0h2m41 0h1m35 0h1m141 0h1m5 0h2m29 0h1m53 0h1m2 0h1m17 0h1m7 0h1m4 0h1m67 0h1m23 0h1m9 0h1m29 0h1m174 0h2m33 0h1m45 0h1" stroke="#f0da46"/><path d="M403.2 1609.2h1m605 0h1m11 0h2m12 0h1m5 0h1m659 0h1m11 0h2m12 0h1m48 0h1m68 0h1m21 0h1m178 0h2" stroke="#d4c256"/><path d="M424.2 1609.2h1m24 0h1m27 0h1m164 0h1m4 0h1m5 0h2m16 0h1m182 0h1m12 0h1m11 0h2m41 0h1m67 0h1m155 0h2m16 0h2m76 0h1m76 0h1m72 0h1m38 0h1m54 0h1m121 0h2m53 0h1m66 0h1m7 0h1m17 0h1m80 0h2m11 0h1m178 0h1m19 0h1" stroke="#c4b55d"/><path d="M462.2 1609.2h2m126 0h3m182 0h1" stroke="#2a3668"/><path d="M604.2 1609.2h1m36 0h1m4 0h1m76 0h1m128 0h1m31 0h1m30 0h1m56 0h1m19 0h1m36 0h2m102 0h1m61 0h1m11 0h1m98 0h1m1 0h2m50 0h1m19 0h1m19 0h1m58 0h1m30 0h1m30 0h1m34 0h3m10 0h2m31 0h1m26 0h1m74 0h1m11 0h1m45 0h1m57 0h1m14 0h2m104 0h1m23 0h1m119 0h2" stroke="#a39c6b"/><path d="M631.2 1609.2h1m27 0h2m12 0h1m90 0h2m121 0h1" stroke="#94906d"/><path d="M643.2 1609.2h1m4 0h1m60 0h1m2 0h1m21 0h1m26 0h1m14 0h2m8 0h3m36 0h1m2 0h1m2 0h2m1 0h2m2 0h2m17 0h1m1 0h2m7 0h1m5 0h3m9 0h1m2 0h1m6 0h2m3 0h2m1 0h2m3 0h2m1 0h2m2 0h1m1 0h4m1 0h3m26 0h1m5 0h1m4 0h1m7 0h1m1 0h1m3 0h2m6 0h1m8 0h2m5 0h2m5 0h1m1 0h1m4 0h4m1 0h1m2 0h1m9 0h1m5 0h2m9 0h2m4 0h2m3 0h2m7 0h1m3 0h1m2 0h1m12 0h2m3 0h6m14 0h2m3 0h3m7 0h3m28 0h3m2 0h2m3 0h2m20 0h2m4 0h1m8 0h4m2 0h3m12 0h2m51 0h3m61 0h2m3 0h2m79 0h3m26 0h1m7 0h1m3 0h1m8 0h3m9 0h4m31 0h3m2 0h2m1 0h1m16 0h1m20 0h1m35 0h1m8 0h1m4 0h1m5 0h1m7 0h2m16 0h3m37 0h1m1 0h1m3 0h1m17 0h1m29 0h1m8 0h2m13 0h1m8 0h3m22 0h2m28 0h3m7 0h1m2 0h2m58 0h2m11 0h2m17 0h2m6 0h2m58 0h2m8 0h2m1 0h1m1 0h1m22 0h4m33 0h1" stroke="#696b71"/><path d="M792.2 1609.2h1m52 0h2m61 0h1m37 0h2m19 0h2m75 0h3m11 0h2m22 0h2m22 0h3m43 0h2m65 0h2m311 0h1" stroke="#777770"/><path d="M278.2 1633.2h347M629.2 1633.2h46M680.2 1633.2h19M704.2 1633.2h74M783.2 1633.2h15M803.2 1633.2h17M825.2 1633.2h115M945.2 1633.2h34M984.2 1633.2h199M1188.2 1633.2h33M1226.2 1633.2h862" stroke="#696b71"/><path d="M279.2 1633.2h2m1 0h1m1 0h1m18 0h2m5 0h1m33 0h1m4 0h3m10 0h2m23 0h2m3 0h3m13 0h1m9 0h2m21 0h3m1 0h3m7 0h2m11 0h1m22 0h2m3 0h2m3 0h2m15 0h6m2 0h1m7 0h4m7 0h2m26 0h1m1 0h2m1 0h3m12 0h2m2 0h2m10 0h1m1 0h1m4 0h1m5 0h2m47 0h1m8 0h2m13 0h1m1 0h2m10 0h1m4 0h1m7 0h3m12 0h2m12 0h1m13 0h5m3 0h2m43 0h2m15 0h1m30 0h2m24 0h2m9 0h3m8 0h1m6 0h5m1 0h3m24 0h1m13 0h3m22 0h1m4 0h3m11 0h3m23 0h2m3 0h2m9 0h4m1 0h3m25 0h2m18 0h4m5 0h3m6 0h1m10 0h3m10 0h2m22 0h3m25 0h1m1 0h2m62 0h3m4 0h3m6 0h3m19 0h1m5 0h3m6 0h1m10 0h2m20 0h2m6 0h2m10 0h1m4 0h3m9 0h3m2 0h2m5 0h3m12 0h1m1 0h3m10 0h1m12 0h2m16 0h2m2 0h3m11 0h1m3 0h2m3 0h1m24 0h2m10 0h2m20 0h1m5 0h2m2 0h1m18 0h2m19 0h3m1 0h2m9 0h2m36 0h1m11 0h3m4 0h4m3 0h3m7 0h3m16 0h1m5 0h2m7 0h1m17 0h5m14 0h2m11 0h4m5 0h2m1 0h2m11 0h1m3 0h2m17 0h2m10 0h3m11 0h1m26 0h1m21 0h2m5 0h1m5 0h3m45 0h2m8 0h2m4 0h3m27 0h1m17 0h1m1 0h3m7 0h3m29 0h1m3 0h1m9 0h1" stroke="#595d6c"/><path d="M323.2 1633.2h1m50 0h1m15 0h2m265 0h1m76 0h2m16 0h1m402 0h1m84 0h2m185 0h1m59 0h2m73 0h2m181 0h1m301 0h3" stroke="#777770"/><path d="M353.2 1633.2h1m231 0h1m51 0h1m23 0h1m750 0h2m474 0h1" stroke="#d4c256"/><path d="M384.2 1633.2h1m245 0h2m15 0h1m1 0h2m7 0h1m13 0h1m692 0h1m250 0h2" stroke="#f0da46"/><path d="M524.2 1633.2h1m116 0h1m4 0h1m27 0h1m61 0h1m907 0h1" stroke="#c4b55d"/><path d="M629.2 1633.2h1m6 0h1m3 0h1m1 0h1m9 0h1m16 0h2m2 0h1m538 0h1" stroke="#a39c6b"/><path d="M632.2 1633.2h4m3 0h1m11 0h1m7 0h1m7 0h1" stroke="#85836f"/><path d="M638.2 1633.2h1m4 0h1m4 0h1m15 0h3m158 0h1m146 0h2m90 0h1" stroke="#e3ce50"/><path d="M644.2 1633.2h2m9 0h1m85 0h2m1334 0h1" stroke="#b4a864"/><path d="M653.2 1633.2h1m2 0h1m3 0h1m1 0h1m5 0h1m43 0h2" stroke="#94906d"/><path d="M654.2 1633.2h1m8 0h1" stroke="#fde73b"/><path d="M278.2 1657.2h347M629.2 1657.2h46M680.2 1657.2h19M704.2 1657.2h74M783.2 1657.2h15M803.2 1657.2h17M825.2 1657.2h115M945.2 1657.2h34M984.2 1657.2h199M1188.2 1657.2h33M1226.2 1657.2h862" stroke="#494f66"/><path d="M278.2 1657.2h1m2 0h9m8 0h4m6 0h2m3 0h1m4 0h5m1 0h2m3 0h2m11 0h1m11 0h1m1 0h2m2 0h1m4 0h1m3 0h3m8 0h1m13 0h8m15 0h3m6 0h3m2 0h3m5 0h2m7 0h2m2 0h2m24 0h5m19 0h3m2 0h2m2 0h3m6 0h2m2 0h1m11 0h7m1 0h3m1 0h1m5 0h3m9 0h3m15 0h1m1 0h4m3 0h1m5 0h3m3 0h1m1 0h1m6 0h3m200 0h2m6 0h1m36 0h1m39 0h2m64 0h1m20 0h3m9 0h2m2 0h2m7 0h1m1 0h1m1 0h1m5 0h2m15 0h4m6 0h4m3 0h1m1 0h3m7 0h5m6 0h3m22 0h7m4 0h1m10 0h1m2 0h3m10 0h2m10 0h1m2 0h3m15 0h2m12 0h4m2 0h1m8 0h2m8 0h2m1 0h1m7 0h2m18 0h1m3 0h2m15 0h2m5 0h1m2 0h3m16 0h3m23 0h2m4 0h5m26 0h1m8 0h2m8 0h1m19 0h2m5 0h3m2 0h2m5 0h1m16 0h2m2 0h2m12 0h1m7 0h1m1 0h1m1 0h2m9 0h2m1 0h2m14 0h2m18 0h2m7 0h1m22 0h2m1 0h1m16 0h2m17 0h2m31 0h2m9 0h1m8 0h7m38 0h2m2 0h2m55 0h3m1 0h2m3 0h1m2 0h3m17 0h4m12 0h1m3 0h1m1 0h4m12 0h1m15 0h4m6 0h2m9 0h1m2 0h4m3 0h2m26 0h2m18 0h1m1 0h1m1 0h1m1 0h1m2 0h2m1 0h2m1 0h2m22 0h3m17 0h2m4 0h1m19 0h1m2 0h2m7 0h1m11 0h1m29 0h1m18 0h3" stroke="#404866"/><path d="M279.2 1657.2h2m9 0h1m1 0h3m7 0h2m6 0h2m40 0h2m14 0h1m4 0h2m2 0h1m10 0h2m15 0h3m5 0h2m5 0h3m40 0h1m87 0h2m4 0h1m2 0h3m11 0h10m6 0h3m15 0h2m2 0h1m6 0h3m190 0h2m5 0h1" stroke="#313c67"/><path d="M291.2 1657.2h1m347 0h2m4 0h1m8 0h2m7 0h3m1 0h1m2 0h1m1 0h2m670 0h1m117 0h1m23 0h1m275 0h1m59 0h1m47 0h2m10 0h1m32 0h1m137 0h2" stroke="#a39c6b"/><path d="M295.2 1657.2h1" stroke="#233068"/><path d="M296.2 1657.2h2m6 0h4m6 0h2m10 0h3m4 0h8m2 0h9m3 0h1m2 0h2m3 0h2m1 0h2m4 0h1m2 0h2m4 0h5m6 0h1m9 0h3m3 0h5m3 0h1m24 0h3m6 0h2m2 0h3m4 0h2m1 0h11m8 0h10m2 0h7m14 0h3m3 0h2m1 0h2m3 0h6m7 0h1m3 0h1m5 0h1m4 0h2m3 0h3m3 0h5m20 0h3m1 0h1m3 0h2m6 0h2m1 0h1m8 0h3m178 0h9m2 0h3m259 0h1m241 0h1m6 0h2m116 0h3m32 0h1" stroke="#384266"/><path d="M331.2 1657.2h2m8 0h1m167 0h2" stroke="#2a3668"/><path d="M393.2 1657.2h1m432 0h2m2 0h2m3 0h1m3 0h7m4 0h4m2 0h2m1 0h2m9 0h4m4 0h2m3 0h2m2 0h1m6 0h3m4 0h1m2 0h3m1 0h15m4 0h3m1 0h3m2 0h3m6 0h1m7 0h3m17 0h3m19 0h4m4 0h2m2 0h7m5 0h2m10 0h6m1 0h3m4 0h2m22 0h1m22 0h3m7 0h2m14 0h2m9 0h1m17 0h1m3 0h1m2 0h1m10 0h3m6 0h3m2 0h2m7 0h3m22 0h2m3 0h1m7 0h1m2 0h5m4 0h4m2 0h2m2 0h2m10 0h1m1 0h3m11 0h2m11 0h4m3 0h1m4 0h3m2 0h2m6 0h1m7 0h1m11 0h1m10 0h1m5 0h1m4 0h4m3 0h1m7 0h1m3 0h3m8 0h2m25 0h1m11 0h2m2 0h6m16 0h1m2 0h1m1 0h2m6 0h1m2 0h2m12 0h1m8 0h3m4 0h2m3 0h4m15 0h2m11 0h3m6 0h3m5 0h5m3 0h2m2 0h4m2 0h2m3 0h1m7 0h2m5 0h1m6 0h3m1 0h2m1 0h3m4 0h2m2 0h2m6 0h5m7 0h1m1 0h3m20 0h2m16 0h3m21 0h1m2 0h2m2 0h2m1 0h2m2 0h1m7 0h2m3 0h4m6 0h2m1 0h1m24 0h1m14 0h7m31 0h3m6 0h3m15 0h4m4 0h1m6 0h1m2 0h3m5 0h2m3 0h2m1 0h1m8 0h1m5 0h1m6 0h2m1 0h2m6 0h1m3 0h2m2 0h1m5 0h5m5 0h3m2 0h2m2 0h2m4 0h1m2 0h1m1 0h2m12 0h2m5 0h2m2 0h2m1 0h4m1 0h5m1 0h2m10 0h6m7 0h8m2 0h3m5 0h2m2 0h1m15 0h2m10 0h2m4 0h3m1 0h3m1 0h1" stroke="#595d6c"/><path d="M460.2 1657.2h1m187 0h1m8 0h2m3 0h1m3 0h1m263 0h1m384 0h1m82 0h1m124 0h1m16 0h1m80 0h1m46 0h1m217 0h1m66 0h2m129 0h1" stroke="#d4c256"/><path d="M514.2 1657.2h1m144 0h1m8 0h1m222 0h2m381 0h1m233 0h1m3 0h1m43 0h2m125 0h1m72 0h1m41 0h1m112 0h1m136 0h1" stroke="#c4b55d"/><path d="M606.2 1657.2h1m24 0h1m4 0h1m4 0h1m8 0h4m20 0h1" stroke="#85836f"/><path d="M629.2 1657.2h1m13 0h2m1 0h1m2 0h1m6 0h1m3 0h1" stroke="#777770"/><path d="M630.2 1657.2h1m1 0h1m214 0h2m36 0h1m203 0h1m229 0h1m75 0h1m5 0h1m18 0h1m158 0h1m344 0h1m23 0h1m10 0h1m116 0h1" stroke="#e3ce50"/><path d="M633.2 1657.2h1m27 0h1m7 0h1m193 0h1m3 0h3m37 0h1m17 0h2m42 0h4m3 0h3m146 0h3m142 0h2m15 0h1m28 0h2m19 0h2m10 0h2m4 0h1m16 0h1m202 0h1m32 0h2m22 0h2m19 0h6m2 0h2m31 0h2m6 0h1m10 0h2m20 0h2m18 0h1m50 0h1" stroke="#696b71"/><path d="M634.2 1657.2h2m1 0h2m576 0h1m4 0h1" stroke="#94906d"/><path d="M642.2 1657.2h1m4 0h1m23 0h1m977 0h1m229 0h1m109 0h1m60 0h2" stroke="#b4a864"/><path d="M680.2 1657.2h19m5 0h74m5 0h15m950 0h1m11 0h1" stroke="#fde73b"/><path d="M952.2 1657.2h1m189 0h2m210 0h1m145 0h1m205 0h2m63 0h1m116 0h1m45 0h3m83 0h1" stroke="#f0da46"/><path d="M278.2 1681.2h347M629.2 1681.2h46M680.2 1681.2h19M704.2 1681.2h74M783.2 1681.2h15M803.2 1681.2h17M825.2 1681.2h115M945.2 1681.2h34M984.2 1681.2h199M1188.2 1681.2h33M1226.2 1681.2h862" stroke="#595d6c"/><path d="M278.2 1681.2h1m2 0h1m61 0h1m7 0h1m11 0h2m3 0h2m38 0h1m10 0h2m8 0h2m11 0h2m52 0h1m16 0h1m99 0h1m15 0h2m2 0h1m11 0h1m20 0h2m3 0h4m29 0h1m2 0h1m3 0h1m2 0h1m10 0h1m2 0h1m4 0h1m15 0h1m3 0h1m6 0h1m342 0h1m155 0h2m45 0h1m72 0h2m104 0h1m17 0h1m113 0h1m326 0h1m47 0h1" stroke="#85836f"/><path d="M279.2 1681.2h1m2 0h1m3 0h4m6 0h5m14 0h3m6 0h4m3 0h2m1 0h1m1 0h1m7 0h4m8 0h1m4 0h2m8 0h10m2 0h7m3 0h3m2 0h2m1 0h1m3 0h1m1 0h1m1 0h5m3 0h1m4 0h3m2 0h2m7 0h2m12 0h2m3 0h1m2 0h2m5 0h3m1 0h1m3 0h1m1 0h2m1 0h1m3 0h3m4 0h4m4 0h2m5 0h1m3 0h1m3 0h1m10 0h1m8 0h2m8 0h2m3 0h2m3 0h3m4 0h3m4 0h2m5 0h3m3 0h3m2 0h5m1 0h2m1 0h3m1 0h1m1 0h1m2 0h2m10 0h7m16 0h1m5 0h2m4 0h1m14 0h1m57 0h1m18 0h1m3 0h2m21 0h1m18 0h2m5 0h3m38 0h8m3 0h3m1 0h1m2 0h1m24 0h6m9 0h3m1 0h6m3 0h2m1 0h4m2 0h2m17 0h2m9 0h3m12 0h5m4 0h3m1 0h3m8 0h2m2 0h3m13 0h2m2 0h1m1 0h2m5 0h3m21 0h2m14 0h2m13 0h3m6 0h3m8 0h3m4 0h2m3 0h2m9 0h1m14 0h2m1 0h2m7 0h1m15 0h2m1 0h2m4 0h1m21 0h2m9 0h1m5 0h1m21 0h2m21 0h1m2 0h2m5 0h1m9 0h2m3 0h3m44 0h2m20 0h2m18 0h1m15 0h2m35 0h1m132 0h1m17 0h1m20 0h1m12 0h1m16 0h1m49 0h1m129 0h2m8 0h2m26 0h1m43 0h1m88 0h1m25 0h1m56 0h3m9 0h2" stroke="#696b71"/><path d="M283.2 1681.2h1m28 0h1m44 0h2m22 0h1m21 0h1m84 0h1m14 0h1m13 0h1m22 0h2m54 0h1m3 0h1m9 0h1m20 0h1m6 0h3m11 0h1m2 0h1m1 0h3m58 0h1m7 0h1m2 0h3m54 0h1m144 0h2m210 0h2m85 0h1m91 0h1m52 0h1m154 0h1m87 0h2m131 0h1m33 0h1m54 0h1m80 0h1m43 0h1" stroke="#94906d"/><path d="M284.2 1681.2h2m19 0h4m20 0h1m9 0h1m8 0h3m1 0h1m17 0h1m43 0h3m4 0h1m12 0h2m11 0h3m27 0h1m3 0h1m3 0h2m6 0h2m21 0h1m3 0h3m6 0h3m2 0h3m7 0h3m11 0h1m39 0h1m10 0h1m1 0h2m19 0h1m1 0h2m6 0h1m5 0h1m4 0h1m2 0h1m3 0h1m9 0h1m42 0h1m3 0h1m38 0h3m32 0h3m93 0h3m39 0h1m29 0h1m27 0h1m61 0h1m14 0h2" stroke="#777770"/><path d="M301.2 1681.2h2m10 0h2m20 0h1m4 0h1m25 0h2m34 0h1m22 0h2m33 0h3m38 0h2m3 0h2m10 0h1m5 0h5m20 0h3m10 0h4m12 0h1m28 0h2m15 0h1m172 0h1m45 0h1m1 0h1m9 0h1m5 0h2m7 0h2m14 0h1m16 0h1m4 0h1m16 0h4m4 0h1m21 0h2m8 0h4m25 0h1m3 0h1m7 0h2m5 0h1m8 0h5m3 0h1m6 0h4m6 0h2m4 0h1m30 0h2m15 0h1m14 0h5m17 0h2m13 0h2m5 0h1m4 0h2m3 0h2m5 0h2m22 0h4m4 0h1m2 0h1m3 0h5m13 0h2m1 0h6m3 0h3m3 0h2m2 0h3m4 0h3m2 0h1m1 0h1m3 0h2m7 0h5m3 0h2m3 0h1m1 0h1m4 0h1m8 0h1m12 0h3m6 0h4m2 0h2m15 0h1m1 0h6m3 0h2m4 0h1m8 0h7m3 0h4m4 0h3m3 0h1m4 0h2m2 0h2m3 0h1m1 0h1m2 0h4m3 0h2m10 0h3m5 0h3m3 0h1m1 0h2m1 0h2m2 0h2m11 0h4m1 0h1m8 0h6m4 0h3m1 0h4m1 0h2m5 0h2m4 0h1m3 0h4m2 0h2m4 0h1m2 0h1m3 0h1m4 0h5m1 0h1m3 0h1m4 0h1m3 0h1m8 0h3m2 0h1m4 0h2m9 0h3m1 0h1m3 0h2m9 0h2m3 0h2m3 0h6m8 0h8m2 0h4m6 0h2m4 0h3m9 0h4m2 0h14m3 0h4m3 0h2m4 0h2m2 0h1m6 0h2m4 0h2m1 0h3m1 0h3m1 0h2m3 0h4m13 0h3m4 0h2m8 0h1m4 0h3m9 0h5m2 0h5m1 0h2m2 0h1m3 0h4m3 0h5m1 0h1m1 0h2m5 0h3m2 0h4m7 0h2m3 0h3m2 0h1m4 0h2m6 0h2m3 0h1m1 0h6m3 0h2m3 0h1m6 0h2m1 0h3m1 0h3m2 0h1m1 0h3m1 0h3m12 0h8m2 0h2m6 0h1m5 0h1m4 0h1m1 0h3m2 0h4m3 0h1m6 0h3m4 0h2m4 0h1m4 0h4m3 0h8m1 0h1m1 0h2m1 0h2m2 0h2m6 0h2m6 0h5m1 0h3m4 0h3m2 0h5m5 0h3" stroke="#494f66"/><path d="M303.2 1681.2h2m15 0h2m483 0h3m4 0h2m1 0h5m181 0h3m29 0h2m26 0h3m22 0h2m60 0h3m6 0h1m10 0h2m5 0h2m2 0h1m1 0h1m45 0h1m4 0h2m15 0h2m11 0h1m34 0h1m9 0h4m6 0h2m10 0h1m8 0h2m2 0h3m2 0h3m8 0h1m19 0h1m40 0h2m9 0h1m8 0h3m7 0h3m19 0h1m20 0h3m13 0h1m7 0h5m2 0h1m4 0h2m9 0h2m11 0h1m7 0h1m14 0h3m2 0h3m3 0h2m3 0h2m3 0h1m4 0h2m8 0h1m3 0h2m8 0h3m12 0h2m19 0h6m2 0h1m1 0h1m9 0h3m42 0h1m2 0h1m10 0h1m3 0h1m7 0h1m6 0h4m6 0h1m13 0h1m6 0h3m3 0h2m25 0h3m4 0h1m12 0h5m4 0h1m8 0h3m17 0h1m11 0h1m11 0h2m2 0h3m20 0h1m4 0h1m18 0h1m3 0h3m10 0h4m11 0h2m3 0h1m1 0h2m4 0h3m8 0h3m29 0h2m16 0h1" stroke="#404866"/><path d="M333.2 1681.2h1m3 0h2m65 0h1m69 0h1m62 0h1m66 0h2m44 0h1m3 0h1m10 0h1m3 0h1m35 0h1m4 0h1m24 0h1m4 0h1m2 0h2m26 0h2m71 0h1m24 0h1m47 0h1m20 0h1m39 0h1m50 0h1m81 0h2m16 0h1m16 0h1m119 0h2m122 0h2m68 0h1m52 0h1m11 0h2m68 0h1m11 0h1m320 0h1m7 0h1m30 0h2m64 0h1" stroke="#a39c6b"/><path d="M406.2 1681.2h1m11 0h1m22 0h1m199 0h1m41 0h1m31 0h2m6 0h2m22 0h2m5 0h2m14 0h1m2 0h2m84 0h1m246 0h1m48 0h2m50 0h2m86 0h1m54 0h1m64 0h1m119 0h1m234 0h1m170 0h1m73 0h1m4 0h1" stroke="#c4b55d"/><path d="M446.2 1681.2h1m16 0h2m6 0h1m23 0h1m150 0h2m3 0h1m9 0h3m4 0h1m50 0h1m17 0h1m12 0h1m24 0h1m76 0h1m142 0h2m70 0h1m73 0h1m146 0h1m143 0h1m146 0h1m19 0h1m174 0h2m97 0h1m43 0h1" stroke="#b4a864"/><path d="M680.2 1681.2h1m10 0h1" stroke="#fde73b"/><path d="M681.2 1681.2h1m2 0h1m2 0h3m2 0h1m1 0h1m25 0h1m6 0h1m6 0h1m7 0h1m16 0h1m1 0h1m4 0h2m8 0h2m214 0h2m15 0h1m216 0h1m93 0h1m93 0h1m7 0h1m8 0h1m42 0h1m164 0h1m32 0h1m358 0h1m11 0h1m29 0h1m9 0h2" stroke="#e3ce50"/><path d="M682.2 1681.2h1m2 0h2m3 0h1m41 0h1m3 0h1m1 0h2m11 0h2m10 0h1m5 0h1m79 0h1m17 0h1m375 0h1m50 0h1m102 0h1m38 0h1m33 0h1m31 0h1m21 0h1m180 0h2m193 0h2m5 0h1m49 0h1m32 0h1" stroke="#d4c256"/><path d="M693.2 1681.2h1m1 0h4m7 0h1m1 0h2m2 0h1m8 0h1m42 0h2m64 0h1m278 0h1" stroke="#f0da46"/><path d="M803.2 1681.2h2m6 0h1" stroke="#313c67"/><path d="M808.2 1681.2h3m3 0h1m260 0h1m56 0h1m259 0h1m252 0h2m29 0h2m34 0h3m15 0h2m125 0h2" stroke="#384266"/><path d="M278.2 1705.3h347M629.2 1705.3h46M680.2 1705.3h19M704.2 1705.3h74M783.2 1705.3h15M803.2 1705.3h17M825.2 1705.3h115M945.2 1705.3h34M984.2 1705.3h199M1188.2 1705.3h33M1226.2 1705.3h862" stroke="#595d6c"/><path d="M278.2 1705.3h1m279 0h1m70 0h1m10 0h1m7 0h2m1 0h1m35 0h1m20 0h1m1 0h1m3 0h2m17 0h1m1 0h1m1 0h1m2 0h1m1 0h1m10 0h1m10 0h2m2 0h2m4 0h1m1 0h2m215 0h1m396 0h1m234 0h1m298 0h1" stroke="#a39c6b"/><path d="M279.2 1705.3h3m11 0h2m10 0h2m9 0h1m6 0h3m1 0h2m1 0h2m3 0h3m16 0h2m8 0h2m1 0h1m1 0h1m12 0h1m5 0h1m4 0h3m2 0h2m5 0h1m13 0h2m20 0h1m4 0h2m2 0h3m7 0h1m4 0h2m18 0h3m7 0h3m8 0h1m1 0h4m13 0h2m3 0h4m2 0h1m4 0h2m2 0h1m1 0h1m8 0h2m12 0h1m12 0h2m8 0h1m3 0h3m4 0h1m5 0h2m4 0h1m2 0h3m237 0h6m4 0h1m8 0h3m8 0h3m5 0h1m1 0h1m3 0h2m28 0h1m5 0h1m24 0h4m8 0h1m15 0h1m1 0h2m28 0h2m7 0h2m11 0h3m34 0h3m15 0h2m13 0h4m3 0h1m13 0h2m12 0h1m10 0h3m8 0h2m16 0h3m8 0h3m13 0h2m16 0h2m4 0h2m29 0h1m43 0h2m17 0h2m49 0h1m16 0h3m17 0h1m45 0h2m3 0h1m32 0h3m21 0h1m8 0h2m29 0h2m91 0h1m28 0h2m34 0h1m6 0h4m7 0h1m20 0h2m31 0h4m10 0h1m8 0h1m27 0h4m18 0h2m56 0h1m19 0h1m13 0h2m6 0h3m2 0h3m6 0h2m5 0h3m25 0h5m27 0h2m6 0h1m16 0h2" stroke="#404866"/><path d="M282.2 1705.3h3m1 0h3m1 0h2m3 0h1m1 0h2m3 0h1m4 0h3m1 0h1m1 0h2m3 0h5m6 0h1m8 0h2m3 0h4m12 0h5m12 0h2m14 0h1m7 0h5m9 0h1m2 0h2m8 0h3m4 0h2m6 0h3m4 0h1m3 0h3m5 0h3m3 0h5m5 0h5m11 0h2m3 0h5m11 0h1m3 0h4m12 0h2m1 0h3m12 0h2m11 0h3m3 0h4m3 0h5m2 0h1m1 0h6m1 0h2m4 0h4m1 0h5m4 0h2m1 0h2m178 0h1m27 0h5m1 0h6m5 0h1m27 0h2m2 0h1m6 0h8m5 0h3m1 0h1m1 0h1m4 0h8m2 0h2m7 0h1m4 0h1m1 0h1m3 0h3m7 0h3m3 0h3m4 0h1m3 0h2m5 0h2m2 0h1m4 0h1m8 0h5m4 0h1m3 0h5m1 0h10m3 0h4m4 0h2m6 0h1m1 0h3m2 0h1m6 0h6m1 0h4m1 0h1m4 0h3m5 0h2m1 0h6m6 0h5m14 0h4m2 0h2m4 0h2m3 0h4m2 0h2m1 0h3m11 0h2m7 0h1m12 0h3m4 0h1m2 0h2m6 0h3m4 0h5m7 0h3m2 0h2m2 0h2m8 0h3m2 0h5m17 0h2m7 0h4m4 0h3m1 0h2m4 0h1m2 0h1m2 0h1m5 0h2m4 0h5m2 0h2m7 0h3m2 0h3m4 0h2m2 0h3m2 0h1m14 0h4m1 0h3m6 0h2m10 0h1m3 0h5m3 0h2m1 0h5m5 0h2m4 0h2m5 0h2m6 0h2m4 0h1m1 0h5m9 0h2m7 0h1m4 0h1m2 0h3m8 0h3m10 0h4m5 0h4m3 0h2m2 0h2m4 0h2m7 0h1m4 0h1m3 0h1m8 0h3m6 0h10m21 0h1m2 0h1m5 0h3m2 0h2m5 0h1m2 0h1m6 0h4m3 0h4m10 0h2m2 0h3m5 0h2m5 0h3m3 0h2m4 0h4m1 0h2m2 0h2m3 0h2m9 0h2m8 0h1m3 0h5m1 0h2m2 0h1m12 0h2m1 0h4m3 0h2m1 0h1m6 0h2m2 0h1m2 0h2m6 0h5m15 0h2m4 0h2m2 0h2m2 0h1m4 0h4m10 0h3m5 0h3m11 0h1m3 0h5m5 0h2m21 0h5m20 0h3m3 0h1m2 0h1m1 0h1m6 0h3m3 0h2m4 0h3m8 0h2m3 0h1m14 0h2m5 0h2m4 0h3m6 0h2m3 0h1m7 0h1m12 0h4m15 0h1m19 0h2m2 0h9m6 0h2m4 0h4m4 0h2m5 0h1m3 0h1" stroke="#494f66"/><path d="M285.2 1705.3h1m95 0h1m26 0h3m10 0h3m50 0h3m14 0h2m57 0h2m8 0h2m284 0h2m137 0h2m39 0h1m79 0h1m60 0h3m233 0h1m629 0h1" stroke="#384266"/><path d="M289.2 1705.3h1m279 0h1m16 0h1m59 0h2m23 0h3m10 0h1m4 0h1m17 0h1m38 0h2m6 0h1m1 0h1m1 0h1m1 0h1m5 0h1m4 0h1m16 0h1m76 0h1m111 0h1m216 0h1" stroke="#94906d"/><path d="M296.2 1705.3h1m53 0h1m195 0h1m110 0h1m3 0h1m3 0h2m19 0h1m4 0h1m19 0h1m1 0h1m2 0h2m3 0h1m3 0h1m10 0h1m2 0h1m5 0h1m27 0h1m291 0h1m191 0h1m158 0h1m82 0h1m342 0h1m62 0h1m32 0h1" stroke="#b4a864"/><path d="M312.2 1705.3h1m34 0h1m1 0h1m56 0h1m105 0h2m109 0h2m7 0h1m1 0h4m12 0h1m4 0h2m1 0h3m1 0h3m4 0h2m33 0h2m25 0h2m18 0h1m33 0h3m7 0h2m580 0h3m143 0h2m513 0h2" stroke="#777770"/><path d="M317.2 1705.3h1m22 0h3m8 0h2m4 0h2m11 0h3m51 0h3m3 0h3m3 0h2m44 0h1m24 0h1m7 0h3m25 0h2m86 0h1m7 0h1m12 0h2m140 0h1m43 0h2m12 0h4m65 0h1m62 0h1m12 0h1m1 0h1m29 0h2m68 0h2m11 0h2m46 0h2m67 0h2m19 0h1m7 0h3m7 0h2m58 0h2m8 0h4m20 0h2m2 0h3m2 0h2m2 0h1m49 0h2m8 0h2m2 0h3m6 0h3m5 0h2m19 0h2m4 0h2m32 0h3m6 0h3m37 0h6m4 0h2m4 0h1m7 0h1m9 0h2m11 0h3m4 0h1m2 0h2m7 0h1m13 0h3m23 0h3m18 0h1m15 0h1m21 0h2m42 0h3m40 0h1m8 0h3m15 0h2m12 0h3m40 0h2m3 0h3m32 0h2m10 0h2m28 0h2m1 0h1m4 0h3m16 0h3m6 0h3m7 0h3m32 0h3m5 0h2" stroke="#696b71"/><path d="M326.2 1705.3h1" stroke="#313c67"/><path d="M348.2 1705.3h1m58 0h1m151 0h1m73 0h1m7 0h5m21 0h2m5 0h1m7 0h1m36 0h2m3 0h1m5 0h1m26 0h1m34 0h2" stroke="#85836f"/><path d="M387.2 1705.3h1m242 0h1m23 0h1m37 0h2m1 0h2m12 0h1m18 0h1m12 0h1m7 0h2m24 0h1m67 0h1m86 0h1m129 0h1m218 0h1m510 0h2m34 0h1m25 0h1m65 0h1m96 0h2" stroke="#c4b55d"/><path d="M680.2 1705.3h2m3 0h1m2 0h1m9 0h1m19 0h1m24 0h1m59 0h17" stroke="#fde73b"/><path d="M683.2 1705.3h1m10 0h1m11 0h1m5 0h1m13 0h2m16 0h1m7 0h1m2 0h1m100 0h2m67 0h2m420 0h2m144 0h1m143 0h2m196 0h1m112 0h1m2 0h2m127 0h1" stroke="#d4c256"/><path d="M690.2 1705.3h1m6 0h1m24 0h2m14 0h1m24 0h1m3 0h1m4 0h1m468 0h1m337 0h2m144 0h1m23 0h1" stroke="#f0da46"/><path d="M729.2 1705.3h1m4 0h1m24 0h1m1 0h2m7 0h1m227 0h1m151 0h1m356 0h1m436 0h2m12 0h1" stroke="#e3ce50"/><path d="M278.2 1729.3h347M629.2 1729.3h46M680.2 1729.3h19M704.2 1729.3h74M783.2 1729.3h15M803.2 1729.3h17M825.2 1729.3h115M945.2 1729.3h34M984.2 1729.3h199M1188.2 1729.3h33M1226.2 1729.3h862" stroke="#494f66"/><path d="M278.2 1729.3h1m18 0h1m7 0h3m9 0h3m2 0h1m5 0h1m1 0h1m15 0h2m4 0h2m1 0h1m4 0h2m5 0h6m3 0h1m2 0h2m11 0h1m7 0h1m3 0h1m7 0h1m3 0h2m4 0h3m5 0h2m4 0h1m1 0h3m1 0h3m6 0h1m3 0h4m6 0h4m1 0h8m9 0h3m2 0h3m2 0h3m3 0h1m3 0h2m4 0h2m3 0h3m4 0h2m13 0h1m10 0h4m27 0h2m5 0h1m7 0h1m10 0h3m4 0h1m1 0h1m3 0h4m67 0h2m131 0h2m5 0h1m3 0h2m7 0h2m15 0h4m4 0h4m19 0h4m3 0h3m7 0h8m7 0h5m4 0h2m3 0h1m9 0h1m3 0h1m4 0h1m1 0h7m3 0h2m3 0h1m2 0h1m5 0h3m3 0h1m2 0h6m5 0h4m2 0h3m2 0h8m4 0h8m1 0h2m1 0h10m2 0h2m3 0h1m2 0h1m4 0h2m2 0h2m4 0h2m6 0h2m3 0h7m8 0h5m6 0h2m2 0h2m4 0h4m6 0h5m1 0h8m1 0h2m1 0h2m5 0h3m1 0h6m5 0h2m4 0h4m9 0h1m5 0h2m1 0h6m2 0h2m3 0h1m5 0h1m11 0h6m17 0h2m4 0h3m3 0h2m2 0h3m6 0h2m5 0h1m1 0h1m4 0h2m3 0h1m3 0h1m1 0h1m2 0h1m3 0h3m4 0h1m21 0h2m14 0h1m2 0h3m7 0h2m6 0h2m9 0h3m2 0h2m5 0h2m2 0h2m11 0h3m5 0h1m10 0h2m3 0h2m4 0h2m1 0h1m5 0h2m2 0h1m9 0h3m5 0h2m5 0h1m1 0h1m8 0h5m5 0h2m4 0h2m23 0h3m3 0h3m14 0h1m6 0h1m1 0h1m1 0h3m5 0h1m6 0h2m3 0h1m5 0h2m6 0h1m3 0h2m2 0h1m3 0h1m7 0h3m7 0h3m1 0h2m5 0h1m2 0h1m1 0h2m3 0h1m7 0h2m4 0h1m10 0h1m3 0h2m6 0h2m1 0h1m2 0h4m2 0h2m2 0h4m13 0h1m7 0h2m4 0h3m15 0h1m2 0h7m1 0h1m1 0h5m2 0h1m9 0h2m2 0h2m11 0h1m3 0h2m1 0h2m11 0h1m1 0h3m1 0h9m9 0h2m15 0h1m1 0h2m7 0h2m3 0h2m7 0h1m3 0h1m3 0h2m2 0h2m3 0h1m5 0h1m2 0h1m5 0h4m6 0h1m2 0h2m2 0h3m5 0h2m2 0h5m8 0h1m1 0h1m4 0h1m2 0h1m17 0h3m4 0h2m12 0h3m5 0h1m4 0h2m3 0h2m2 0h5m10 0h2m8 0h2m2 0h1m3 0h2m11 0h2" stroke="#404866"/><path d="M279.2 1729.3h2" stroke="#2a3668"/><path d="M281.2 1729.3h1m41 0h3m24 0h2m22 0h2m204 0h1m22 0h1m31 0h1m23 0h1m45 0h1m2 0h4m15 0h2m7 0h1m3 0h2m26 0h1m21 0h1m185 0h1" stroke="#85836f"/><path d="M284.2 1729.3h2m24 0h1m20 0h2m8 0h1m45 0h2m18 0h1m13 0h1m13 0h1m11 0h2m35 0h1m10 0h1m5 0h2m7 0h3m2 0h2m13 0h1m10 0h1m6 0h1m9 0h4m17 0h1m1 0h1m16 0h3m3 0h3m6 0h2m213 0h4m8 0h1m2 0h2m5 0h5m11 0h1m9 0h2m6 0h2m1 0h3m7 0h1m20 0h4m26 0h1m7 0h2m9 0h3m2 0h3m27 0h2m4 0h2m25 0h1m13 0h2m12 0h1m6 0h4m2 0h2m3 0h1m2 0h3m8 0h7m7 0h4m2 0h1m3 0h2m7 0h3m7 0h1m11 0h1m2 0h2m13 0h1m1 0h1m4 0h2m11 0h4m15 0h2m2 0h1m3 0h3m23 0h2m109 0h1m23 0h1m62 0h2m48 0h1m63 0h3m22 0h2m282 0h5m18 0h3m14 0h2m58 0h2m21 0h2m48 0h2m48 0h1" stroke="#384266"/><path d="M287.2 1729.3h1m3 0h1m3 0h2m14 0h2m20 0h2m7 0h2m33 0h2m12 0h1m4 0h3m10 0h1m3 0h1m1 0h1m2 0h1m6 0h3m21 0h2m3 0h1m4 0h2m8 0h1m20 0h2m12 0h3m14 0h1m2 0h1m10 0h2m6 0h2m10 0h1m10 0h2m19 0h2m29 0h3m64 0h2m4 0h1m4 0h2m8 0h1m25 0h1m12 0h1m101 0h2m87 0h3m99 0h1m93 0h1m93 0h1m30 0h1m18 0h2m1 0h1m26 0h2m1 0h2m15 0h3m51 0h2m1 0h1m8 0h2m4 0h2m12 0h1m4 0h1m7 0h1m2 0h3m1 0h2m18 0h5m2 0h2m14 0h3m12 0h2m13 0h1m4 0h3m19 0h2m3 0h1m3 0h3m15 0h2m2 0h1m1 0h1m9 0h3m6 0h1m10 0h2m10 0h2m7 0h2m3 0h1m23 0h1m8 0h3m13 0h1m17 0h3m25 0h2m7 0h2m10 0h4m3 0h2m3 0h6m3 0h1m27 0h3m13 0h3m39 0h2m27 0h2m2 0h1m33 0h4m7 0h2m16 0h1m10 0h2m21 0h2m3 0h1m2 0h1m6 0h3m5 0h2m4 0h1m4 0h2m11 0h2m1 0h1m2 0h1m14 0h2m5 0h2m3 0h8m11 0h4m3 0h3" stroke="#595d6c"/><path d="M294.2 1729.3h1m40 0h2m36 0h1m19 0h1m47 0h1m10 0h2m405 0h1m1 0h1m16 0h3m197 0h3m26 0h2m91 0h1" stroke="#313c67"/><path d="M308.2 1729.3h2m52 0h1m31 0h1m19 0h1m81 0h1m73 0h1m5 0h1m24 0h2m29 0h1m5 0h2m5 0h3m17 0h2m4 0h1m18 0h1m13 0h1m2 0h1m13 0h1m7 0h2m30 0h1m466 0h1m54 0h2m12 0h2m12 0h1m18 0h1m69 0h1m62 0h1m88 0h1m93 0h1m114 0h1m47 0h1m129 0h1m4 0h1m32 0h1" stroke="#a39c6b"/><path d="M320.2 1729.3h1m37 0h2m23 0h1m18 0h1m5 0h1m11 0h1m141 0h1m27 0h2m19 0h2m42 0h3m59 0h1m20 0h2m13 0h1m10 0h1m26 0h1m377 0h1m88 0h2m26 0h1m9 0h1m21 0h1m96 0h1m6 0h1m27 0h1m64 0h1m31 0h2m1 0h1m11 0h1m406 0h1m8 0h1m2 0h1m28 0h1m53 0h1" stroke="#b4a864"/><path d="M321.2 1729.3h1m32 0h1m44 0h1m5 0h2m12 0h1m12 0h1m145 0h1m5 0h1m79 0h1m2 0h1m44 0h1m21 0h1m12 0h1m3 0h1m8 0h1m4 0h2m3 0h1" stroke="#94906d"/><path d="M327.2 1729.3h1m54 0h1m2 0h1m75 0h1m69 0h1m10 0h1m86 0h1m6 0h1m14 0h2m8 0h2m50 0h1m58 0h1m2 0h1m201 0h1m315 0h1m137 0h1m124 0h1m7 0h1m21 0h1m44 0h1m2 0h1m7 0h1m65 0h2m97 0h1m243 0h1" stroke="#e3ce50"/><path d="M344.2 1729.3h2m18 0h2m96 0h3m99 0h2m30 0h1m36 0h1m9 0h1m26 0h1m1 0h1m25 0h1m32 0h1m5 0h1m6 0h1m1 0h1m3 0h1m1 0h1m4 0h1m9 0h1m5 0h1m9 0h3m8 0h1m551 0h3m240 0h1m103 0h1m252 0h1" stroke="#696b71"/><path d="M366.2 1729.3h1m43 0h2m218 0h2m12 0h1m3 0h1m4 0h1m4 0h1m61 0h1m21 0h2m30 0h1m474 0h2m49 0h1m28 0h1m194 0h2m43 0h1m24 0h1m27 0h1m204 0h1m159 0h1m56 0h1" stroke="#d4c256"/><path d="M433.2 1729.3h2m157 0h2m69 0h1m4 0h2m3 0h2m40 0h2m2 0h1m3 0h3m9 0h1m12 0h1m5 0h1m1 0h1m6 0h1m7 0h1m4 0h2m8 0h4m2 0h2" stroke="#777770"/><path d="M485.2 1729.3h2m35 0h2m44 0h1m65 0h1m5 0h3m71 0h1m3 0h1m3 0h1m3 0h1m6 0h1m15 0h1m8 0h2m2 0h1m6 0h1m25 0h3m62 0h1m21 0h1m130 0h2m254 0h2m19 0h2m57 0h1m9 0h1m14 0h2m34 0h2m29 0h1m170 0h1m167 0h2m16 0h1m73 0h1m33 0h2m157 0h1" stroke="#c4b55d"/><path d="M637.2 1729.3h1m16 0h1m148 0h17m495 0h1m158 0h1m55 0h1m18 0h1m130 0h2m9 0h2m198 0h1m88 0h1" stroke="#fde73b"/><path d="M649.2 1729.3h2m9 0h1m94 0h1m471 0h1m206 0h2m90 0h1m1 0h1m86 0h1m17 0h1m24 0h1m61 0h1m91 0h1m5 0h1m33 0h1m63 0h1m90 0h1" stroke="#f0da46"/><path d="M278.2 1753.3h347M629.2 1753.3h46M680.2 1753.3h19M704.2 1753.3h74M783.2 1753.3h15M803.2 1753.3h17M825.2 1753.3h115M945.2 1753.3h34M984.2 1753.3h199M1188.2 1753.3h33M1226.2 1753.3h862" stroke="#696b71"/><path d="M282.2 1753.3h2m30 0h3m11 0h2m18 0h3m14 0h2m2 0h2m2 0h5m6 0h3m13 0h2m15 0h1m2 0h3m12 0h3m25 0h1m3 0h3m21 0h3m17 0h1m17 0h1m18 0h3m2 0h1m14 0h1m2 0h1m15 0h1m1 0h4m9 0h4m12 0h2m9 0h2m7 0h4m6 0h1m2 0h2m90 0h1m15 0h2m4 0h3m2 0h2m3 0h2m14 0h2m37 0h1m26 0h1m11 0h2m8 0h1m18 0h1m8 0h3m6 0h2m5 0h3m1 0h3m36 0h5m17 0h2m10 0h5m10 0h2m2 0h2m16 0h3m28 0h1m6 0h2m2 0h2m21 0h1m1 0h2m3 0h2m4 0h1m16 0h2m21 0h4m15 0h5m10 0h3m3 0h3m4 0h1m27 0h2m12 0h3m6 0h1m2 0h3m6 0h3m1 0h1m8 0h2m11 0h2m10 0h1m3 0h3m2 0h10m4 0h2m11 0h1m2 0h2m12 0h3m4 0h3m8 0h1m4 0h2m6 0h2m12 0h3m8 0h3m10 0h10m9 0h5m3 0h1m3 0h2m6 0h3m1 0h1m1 0h2m4 0h1m6 0h2m3 0h2m12 0h3m16 0h2m1 0h9m2 0h4m2 0h1m1 0h2m12 0h2m2 0h1m6 0h3m4 0h1m1 0h5m8 0h3m3 0h1m6 0h3m2 0h3m1 0h1m22 0h4m15 0h2m2 0h5m14 0h1m29 0h2m2 0h4m5 0h2m3 0h3m7 0h2m12 0h2m6 0h6m5 0h1m4 0h3m7 0h2m1 0h2m2 0h3m8 0h1m6 0h2m6 0h7m3 0h5m11 0h4m13 0h2m7 0h2m2 0h4m8 0h5m1 0h2m4 0h1m3 0h4m5 0h2m5 0h1m4 0h2m4 0h2m15 0h1m1 0h4m8 0h3m7 0h3m3 0h2m5 0h2m12 0h4m5 0h1m3 0h3m3 0h8m23 0h5m2 0h2m1 0h6m3 0h1m2 0h4m3 0h1" stroke="#595d6c"/><path d="M650.2 1753.3h1m430 0h2m84 0h1" stroke="#85836f"/><path d="M655.2 1753.3h1m4 0h1m4 0h2m6 0h2m275 0h1m931 0h1m153 0h1" stroke="#b4a864"/><path d="M663.2 1753.3h2m3 0h1m302 0h1m1 0h1m72 0h1m979 0h1m10 0h2m15 0h1" stroke="#a39c6b"/><path d="M670.2 1753.3h1m202 0h1m168 0h1m254 0h1m13 0h1m71 0h2m213 0h1m165 0h1m5 0h1m87 0h1" stroke="#d4c256"/><path d="M834.2 1753.3h1" stroke="#fde73b"/><path d="M841.2 1753.3h1m71 0h1m58 0h1m4 0h1m458 0h1m127 0h1m49 0h1m70 0h1m77 0h1m219 0h1m57 0h1" stroke="#e3ce50"/><path d="M849.2 1753.3h1m499 0h1m232 0h2" stroke="#f0da46"/><path d="M935.2 1753.3h2m449 0h1" stroke="#c4b55d"/><path d="M1268.2 1753.3h1m27 0h1m33 0h3m59 0h3m63 0h3m18 0h1m27 0h3m29 0h1m44 0h1m26 0h1m1 0h1m1 0h1m64 0h3m57 0h2m4 0h1m52 0h1m33 0h2m12 0h3m16 0h2m2 0h2m34 0h3m28 0h1m12 0h2m12 0h2m22 0h3m10 0h3m82 0h1" stroke="#777770"/><path d="M1477.2 1753.3h2m397 0h1" stroke="#94906d"/><path d="M1644.2 1753.3h2m243 0h1m14 0h1m15 0h1" stroke="#494f66"/><path d="M278.2 1777.3h347M629.2 1777.3h46M680.2 1777.3h19M704.2 1777.3h74M783.2 1777.3h15M803.2 1777.3h17M825.2 1777.3h115M945.2 1777.3h34M984.2 1777.3h199M1188.2 1777.3h33M1226.2 1777.3h862" stroke="#777770"/><path d="M278.2 1777.3h1m1 0h6m3 0h2m1 0h1m3 0h2m1 0h3m5 0h3m5 0h3m1 0h3m4 0h2m3 0h9m1 0h1m6 0h2m2 0h1m6 0h7m8 0h7m4 0h3m2 0h2m1 0h3m2 0h2m1 0h1m6 0h4m9 0h3m1 0h4m2 0h1m1 0h3m2 0h3m7 0h3m4 0h3m1 0h1m3 0h3m2 0h1m4 0h1m4 0h2m4 0h1m13 0h2m5 0h5m1 0h1m2 0h2m5 0h4m1 0h3m3 0h2m1 0h2m2 0h1m6 0h2m5 0h1m4 0h9m1 0h1m5 0h3m3 0h8m1 0h2m5 0h3m10 0h4m2 0h2m17 0h3m3 0h4m1 0h1m20 0h5m1 0h3m7 0h2m8 0h2m3 0h2m10 0h2m7 0h1m24 0h2m8 0h2m20 0h3m54 0h3m3 0h1m6 0h4m16 0h3m9 0h1m35 0h1m14 0h2" stroke="#494f66"/><path d="M279.2 1777.3h1m13 0h1m4 0h1m5 0h3m3 0h1m2 0h2m13 0h3m9 0h1m2 0h5m5 0h3m15 0h1m9 0h2m13 0h1m15 0h1m11 0h1m16 0h4m15 0h1m5 0h1m2 0h3m3 0h3m10 0h10m4 0h3m7 0h2m4 0h2m5 0h1m8 0h1m2 0h2m3 0h3m3 0h2m7 0h1m13 0h1m19 0h1m11 0h3m25 0h1m23 0h2m1 0h2m26 0h1m71 0h1m24 0h6m5 0h2m7 0h13m1 0h3m5 0h1m30 0h2m64 0h2" stroke="#595d6c"/><path d="M286.2 1777.3h3m2 0h1m2 0h2m6 0h2m7 0h2m9 0h4m16 0h1m7 0h2m4 0h3m7 0h5m17 0h2m2 0h1m4 0h1m4 0h6m5 0h8m8 0h2m1 0h1m3 0h2m13 0h4m3 0h1m2 0h2m4 0h1m4 0h1m1 0h1m5 0h4m1 0h3m12 0h2m27 0h3m8 0h2m12 0h3m10 0h1m1 0h2m1 0h2m3 0h3m14 0h2m3 0h1m1 0h2m3 0h3m4 0h2m2 0h1m5 0h2m4 0h2m6 0h3m6 0h9m7 0h4m5 0h1m17 0h2m13 0h4m14 0h1m15 0h2m11 0h2m3 0h2m11 0h3m17 0h3m43 0h3m40 0h4m9 0h2m3 0h2m23 0h1m14 0h4" stroke="#404866"/><path d="M318.2 1777.3h1m53 0h2m26 0h1m45 0h2m97 0h1m46 0h2m26 0h3m85 0h1m17 0h3m16 0h6m4 0h1m4 0h3m5 0h1m57 0h2m15 0h1m5 0h2m12 0h1m5 0h4m11 0h4m17 0h2m11 0h3m3 0h3m7 0h1" stroke="#384266"/><path d="M383.2 1777.3h2m60 0h1m64 0h1m39 0h3m35 0h1m11 0h1m17 0h1m41 0h2m130 0h2m2 0h2m18 0h1m36 0h3m58 0h3m72 0h2m16 0h2m7 0h2m4 0h3m12 0h2m10 0h5m5 0h2m42 0h2m6 0h3m26 0h2m10 0h1m22 0h1m13 0h3m10 0h1m3 0h2m10 0h2m15 0h3m9 0h2m7 0h1m4 0h2m28 0h2m16 0h10m1 0h3m15 0h2m14 0h2m17 0h2m2 0h1m17 0h1m4 0h2m3 0h2m11 0h2m9 0h2m7 0h2m26 0h3m3 0h2m24 0h2m9 0h3m3 0h1m8 0h2m2 0h2m5 0h2m9 0h4m4 0h2m4 0h1m27 0h5m1 0h2m6 0h2m2 0h1m5 0h1m8 0h6m24 0h2m6 0h3m13 0h1m1 0h4m5 0h4m2 0h1m1 0h1m3 0h2m15 0h2m7 0h1m9 0h4m11 0h6m10 0h5m28 0h4m9 0h2m35 0h1m2 0h4m7 0h3m14 0h1m9 0h1m15 0h1m2 0h3m6 0h5m1 0h1m5 0h1m13 0h2m4 0h3m1 0h2m5 0h2m14 0h1m1 0h2m15 0h1m2 0h2m11 0h2m15 0h3m10 0h2m7 0h1m3 0h2m18 0h3m5 0h2m2 0h2" stroke="#696b71"/><path d="M632.2 1777.3h2m23 0h1m1326 0h1" stroke="#94906d"/><path d="M644.2 1777.3h1m352 0h3m33 0h2m4 0h5m20 0h1m13 0h2m7 0h2m7 0h4m16 0h3m3 0h2m6 0h3m4 0h3m19 0h4m35 0h3m19 0h1m8 0h1m3 0h2m4 0h1m12 0h3m10 0h2m16 0h4m48 0h1m1 0h1m14 0h2m2 0h1m2 0h3m18 0h2m49 0h3m8 0h2m3 0h2m13 0h1m21 0h1m11 0h2m2 0h2m3 0h3m14 0h1m17 0h1m34 0h1m4 0h1m3 0h2m13 0h1m17 0h4m16 0h3m17 0h2m31 0h2m3 0h3m11 0h2m14 0h1m6 0h2m21 0h1m16 0h8m14 0h2m6 0h3m8 0h5m23 0h4m1 0h2m28 0h3m7 0h1m5 0h3m3 0h1m2 0h2m19 0h1m8 0h2m1 0h6m1 0h2m22 0h3m5 0h3m16 0h1m7 0h7m6 0h2m3 0h3m10 0h4m42 0h2m2 0h1m2 0h2" stroke="#85836f"/><path d="M680.2 1777.3h2m2 0h2m1 0h2m5 0h1m18 0h5m1 0h3m1 0h3m5 0h7m21 0h1m3 0h5m4 0h3m64 0h4m1 0h1m7 0h1m5 0h1m2 0h2m1 0h1m35 0h5m2 0h4m6 0h1" stroke="#313c67"/><path d="M691.2 1777.3h1m3 0h2m14 0h2m16 0h2m9 0h3m88 0h1m36 0h1m6 0h2m21 0h2m11 0h2m14 0h1" stroke="#2a3668"/><path d="M828.2 1777.3h3m28 0h2m21 0h2m9 0h3m39 0h1m9 0h2m3 0h21m2 0h4" stroke="#1c2a68"/><path d="M851.2 1777.3h1m37 0h2m42 0h1m13 0h3m21 0h2m4 0h2" stroke="#233068"/><path d="M278.2 1801.3h347M629.2 1801.3h46M680.2 1801.3h19M704.2 1801.3h74M783.2 1801.3h15M803.2 1801.3h17M825.2 1801.3h115M945.2 1801.3h34M984.2 1801.3h199M1188.2 1801.3h33M1226.2 1801.3h862" stroke="#595d6c"/><path d="M278.2 1801.3h4m7 0h1m1 0h2m29 0h2m27 0h2m8 0h1m11 0h3m5 0h3m13 0h3m1 0h1m6 0h3m32 0h2m10 0h1m10 0h1m6 0h2m3 0h5m19 0h2m3 0h2m20 0h2m24 0h1m6 0h1m6 0h2m14 0h1m10 0h3m30 0h2m173 0h2m6 0h4m11 0h2m14 0h3m2 0h3m1 0h3m4 0h6m2 0h1m18 0h3m3 0h4m7 0h3m1 0h2m3 0h6m12 0h3m2 0h1m3 0h1m19 0h3m3 0h7m26 0h3m5 0h3m3 0h6m9 0h2m6 0h3m4 0h3m6 0h3m4 0h1m8 0h2m5 0h3m2 0h2m7 0h3m21 0h3m2 0h2m4 0h5m1 0h1m4 0h1m5 0h3m4 0h5m6 0h2m2 0h2m13 0h2m3 0h1m12 0h1m1 0h4m1 0h3m2 0h2m9 0h1m1 0h1m6 0h1m23 0h3m6 0h1m7 0h3m9 0h1m2 0h2m14 0h2m8 0h7m18 0h3m2 0h2m13 0h2m10 0h1m9 0h3m2 0h2m5 0h5m6 0h2m1 0h2m9 0h2m25 0h1m2 0h2m7 0h4m3 0h1m2 0h3m2 0h3m11 0h3m4 0h1m6 0h3m7 0h1m3 0h7m14 0h2m1 0h3m7 0h4m12 0h2m1 0h1m1 0h2m4 0h3m7 0h1m4 0h2m1 0h1m1 0h3m8 0h5m5 0h2m2 0h1m1 0h1m6 0h2m27 0h2m3 0h4m3 0h3m15 0h2m4 0h4m6 0h1m5 0h4m3 0h2m2 0h6m10 0h2m7 0h3m9 0h2m5 0h2m10 0h3m4 0h3m2 0h4m11 0h4m41 0h5m1 0h1m5 0h6m4 0h2m1 0h3m7 0h4m9 0h5m13 0h2m11 0h3m15 0h2m3 0h2m11 0h3m10 0h1m3 0h5m2 0h2m3 0h2m3 0h1m4 0h2m9 0h5m13 0h3m17 0h1m1 0h3m16 0h4m14 0h2" stroke="#494f66"/><path d="M282.2 1801.3h4m7 0h1m3 0h3m8 0h3m1 0h1m3 0h2m6 0h3m2 0h3m5 0h3m3 0h2m2 0h2m4 0h3m1 0h2m3 0h1m1 0h1m15 0h1m4 0h3m14 0h1m4 0h1m3 0h3m2 0h2m2 0h2m4 0h6m7 0h3m5 0h1m17 0h1m9 0h1m7 0h3m3 0h3m12 0h3m2 0h10m2 0h8m2 0h2m12 0h2m4 0h1m6 0h4m12 0h1m4 0h3m7 0h6m9 0h2m11 0h2m4 0h2m6 0h1m2 0h2m3 0h1m4 0h3m8 0h3m5 0h1m1 0h1m4 0h3m1 0h1m30 0h1m26 0h1m9 0h3m6 0h1m13 0h2m16 0h1m1 0h2m2 0h1m1 0h3m1 0h1m29 0h2m19 0h2m26 0h2m14 0h2m19 0h1m10 0h3m22 0h3m12 0h1m38 0h2m6 0h3m6 0h6m5 0h4m15 0h3m8 0h4m6 0h5m22 0h1m10 0h2m11 0h3m7 0h1m2 0h1m5 0h1m12 0h1m7 0h2m28 0h2m18 0h3m1 0h2m28 0h1m34 0h1m1 0h2m2 0h3m33 0h2m18 0h2m8 0h1m7 0h1m4 0h2m4 0h1m12 0h4m17 0h1m3 0h1m3 0h1m2 0h2m10 0h2m1 0h1m5 0h1m4 0h2m2 0h4m7 0h1m15 0h1m3 0h1m1 0h1m10 0h6m24 0h2m7 0h2m7 0h1m3 0h2m4 0h2m3 0h1m3 0h1m1 0h1m7 0h2m50 0h3m5 0h2m12 0h2m13 0h2m12 0h2m9 0h2m18 0h2m7 0h3m10 0h1m1 0h2m2 0h2m32 0h3m10 0h2m6 0h1m8 0h2m12 0h1m2 0h3m19 0h4m14 0h1m3 0h2m19 0h3m29 0h1m23 0h2m2 0h3m25 0h1m10 0h2m12 0h1m7 0h1m7 0h3m24 0h2m2 0h1m8 0h3m7 0h3m2 0h1m21 0h2" stroke="#696b71"/><path d="M307.2 1801.3h1m83 0h2m39 0h1m370 0h1m2 0h2m1 0h3m7 0h1m13 0h2m20 0h1m25 0h5m3 0h1m6 0h2m3 0h2m52 0h4m28 0h3m15 0h1m57 0h1m33 0h4m44 0h2m17 0h3m70 0h3m14 0h1m21 0h1m19 0h2m21 0h2m4 0h2m29 0h2m5 0h1m32 0h2m12 0h2m6 0h1m1 0h1m83 0h1m1 0h3m23 0h1m16 0h3m30 0h2m58 0h5m28 0h1m80 0h2m30 0h2m142 0h2m31 0h5m5 0h1m14 0h3m1 0h1m19 0h2m22 0h2" stroke="#404866"/><path d="M314.2 1801.3h1m17 0h2m29 0h1m7 0h2m30 0h2m14 0h1m15 0h4m6 0h2m1 0h1m1 0h2m10 0h3m28 0h2m4 0h1m36 0h5m6 0h2m17 0h1m34 0h3m2 0h3m23 0h2m35 0h1m44 0h1m3 0h1m9 0h1m6 0h1m3 0h1m8 0h1m19 0h3m1 0h1m2 0h1m18 0h1m250 0h3m140 0h1m27 0h2m23 0h3m154 0h1m66 0h2m54 0h4m52 0h3m84 0h1m79 0h1m49 0h2m92 0h3m58 0h3m3 0h3m60 0h2" stroke="#777770"/><path d="M327.2 1801.3h2m322 0h1m30 0h3m21 0h1m4 0h1m10 0h1m13 0h1m21 0h1m5 0h1m6 0h1m100 0h1m151 0h1m67 0h1m135 0h1m133 0h1m11 0h2m101 0h1m595 0h1" stroke="#b4a864"/><path d="M389.2 1801.3h1m129 0h2m29 0h1m24 0h1m67 0h1m4 0h2m58 0h1m6 0h1m3 0h2m6 0h1m2 0h2m15 0h1m1 0h1m188 0h1m739 0h1m204 0h1" stroke="#94906d"/><path d="M400.2 1801.3h1m85 0h1m11 0h1m85 0h1m100 0h1m1 0h2m48 0h2m1 0h1m15 0h1m2 0h1m16 0h1m632 0h1m163 0h1m193 0h1m137 0h1m64 0h2" stroke="#d4c256"/><path d="M424.2 1801.3h1m174 0h1m52 0h2m55 0h1m6 0h2m3 0h1m30 0h1m666 0h1m196 0h1m62 0h1m368 0h1" stroke="#a39c6b"/><path d="M501.2 1801.3h1m65 0h2m85 0h1m11 0h1m6 0h1m16 0h1m32 0h3m8 0h1m10 0h2m3 0h1m2 0h1m3 0h1m2 0h2m5 0h1m9 0h1m390 0h1m694 0h3m41 0h2" stroke="#85836f"/><path d="M582.2 1801.3h1m84 0h2m11 0h1m12 0h1m18 0h1m20 0h1m7 0h1m20 0h2m10 0h1m101 0h1m510 0h1m36 0h2m5 0h2m24 0h2m77 0h1m1 0h1m283 0h1m251 0h2" stroke="#c4b55d"/><path d="M681.2 1801.3h1m10 0h1m11 0h1m2 0h1m2 0h1m18 0h1m43 0h1m783 0h1m65 0h1m110 0h1m107 0h2m47 0h1" stroke="#e3ce50"/><path d="M686.2 1801.3h1m7 0h4" stroke="#fde73b"/><path d="M689.2 1801.3h1m1 0h1m6 0h1m527 0h1m212 0h1m242 0h1" stroke="#f0da46"/><path d="M985.2 1801.3h1m318 0h3m42 0h2m568 0h2" stroke="#384266"/><path d="M1156.2 1801.3h2" stroke="#313c67"/><path d="M278.2 1825.4h347M629.2 1825.4h46M680.2 1825.4h19M704.2 1825.4h74M783.2 1825.4h15M803.2 1825.4h17M825.2 1825.4h115M945.2 1825.4h34M984.2 1825.4h199M1188.2 1825.4h33M1226.2 1825.4h862" stroke="#696b71"/><path d="M279.2 1825.4h5m7 0h1m4 0h1m4 0h4m1 0h1m5 0h3m2 0h2m3 0h7m7 0h1m1 0h1m6 0h1m7 0h1m6 0h8m7 0h1m4 0h5m3 0h2m2 0h1m9 0h7m5 0h2m5 0h2m1 0h1m4 0h3m4 0h3m18 0h7m6 0h1m5 0h2m1 0h2m3 0h2m5 0h2m5 0h1m11 0h1m10 0h2m7 0h3m2 0h3m9 0h2m1 0h6m3 0h3m1 0h1m1 0h3m2 0h1m1 0h1m2 0h2m1 0h1m1 0h3m2 0h4m4 0h1m1 0h1m1 0h1m3 0h2m7 0h3m2 0h3m2 0h2m11 0h1m3 0h6m9 0h3m2 0h3m4 0h6m4 0h1m5 0h3m3 0h2m1 0h1m8 0h1m8 0h1m3 0h6m5 0h3m2 0h1m1 0h1m3 0h3m1 0h3m3 0h2m10 0h1m1 0h1m3 0h1m3 0h1m3 0h8m15 0h2m3 0h1m6 0h3m10 0h3m5 0h2m2 0h4m6 0h4m2 0h1m2 0h3m5 0h6m1 0h3m8 0h2m3 0h4m2 0h3m2 0h1m2 0h4m1 0h1m3 0h2m1 0h12m1 0h1m1 0h1m2 0h2m1 0h1m1 0h6m3 0h1m8 0h6m13 0h3m1 0h4m11 0h1m10 0h2m4 0h2m2 0h3m1 0h2m4 0h2m1 0h2m9 0h2m1 0h2m3 0h1m13 0h5m6 0h3m6 0h1m13 0h2m31 0h1m1 0h1m1 0h4m5 0h2m13 0h2m5 0h2m3 0h2m8 0h2m3 0h2m3 0h1m9 0h1m14 0h4m7 0h2m1 0h3m8 0h4m1 0h3m13 0h1m2 0h1m6 0h5m5 0h5m36 0h1m9 0h1m12 0h2m13 0h2m11 0h3m11 0h1m16 0h1m7 0h3m1 0h4m2 0h3m14 0h2m9 0h3m11 0h3m10 0h2m8 0h1m1 0h1m3 0h2m1 0h1m28 0h1m4 0h3m23 0h3m2 0h1m11 0h1m3 0h1m7 0h3m7 0h1m13 0h3m8 0h2m6 0h4m20 0h2m10 0h2m7 0h2m1 0h2m5 0h2m9 0h4m9 0h2m2 0h2m4 0h2m5 0h2m8 0h2m8 0h2m7 0h2m8 0h2m7 0h1m13 0h10m34 0h2m23 0h2m2 0h2m24 0h1m13 0h1m18 0h3m12 0h1m13 0h3m6 0h7m29 0h2m3 0h1m6 0h3m10 0h3m8 0h2m4 0h2m5 0h1m9 0h3m1 0h3m5 0h1m4 0h1m4 0h5m14 0h1m2 0h1m2 0h2" stroke="#777770"/><path d="M284.2 1825.4h3m3 0h1m6 0h2m8 0h1m7 0h2m2 0h1m1 0h1m7 0h2m6 0h1m1 0h4m5 0h2m4 0h3m14 0h4m1 0h3m6 0h2m4 0h1m2 0h2m1 0h2m21 0h1m4 0h4m3 0h3m4 0h1m1 0h4m8 0h1m2 0h1m8 0h1m2 0h2m1 0h1m1 0h2m11 0h3m5 0h2m9 0h1m7 0h1m2 0h3m4 0h1m33 0h1m32 0h1m8 0h1m22 0h2m5 0h4m10 0h3m2 0h3m4 0h2m3 0h1m12 0h1m10 0h2m4 0h2m2 0h4m6 0h2m19 0h2m5 0h1m3 0h1m5 0h1m13 0h1m11 0h1m65 0h2m7 0h2m9 0h2m6 0h1m28 0h2m28 0h2m15 0h2m54 0h1m176 0h2m303 0h1" stroke="#85836f"/><path d="M288.2 1825.4h1m54 0h1m43 0h1m2 0h1m106 0h1m5 0h1m80 0h1m50 0h2m127 0h1m139 0h1m372 0h1m477 0h2" stroke="#a39c6b"/><path d="M292.2 1825.4h1m100 0h1m2 0h1m26 0h1m28 0h1m11 0h1m7 0h1m2 0h1m43 0h2m53 0h1m14 0h1m28 0h2m4 0h1m115 0h1m19 0h1m6 0h1m149 0h1m70 0h2m633 0h2m34 0h1m27 0h2m126 0h1" stroke="#c4b55d"/><path d="M294.2 1825.4h1m156 0h1m29 0h1m95 0h1m13 0h2m503 0h1m41 0h2m305 0h1m190 0h1m122 0h1m80 0h1" stroke="#d4c256"/><path d="M309.2 1825.4h1m25 0h1m43 0h1m32 0h1m27 0h1m49 0h1m52 0h2m4 0h1m14 0h1m14 0h1m18 0h1m35 0h1m35 0h2m11 0h1m8 0h2m52 0h2m331 0h2m275 0h1m159 0h1m151 0h1m314 0h1m26 0h1m7 0h2" stroke="#94906d"/><path d="M320.2 1825.4h1m10 0h1m12 0h1m54 0h1m13 0h1m52 0h2m28 0h1m9 0h1m22 0h1m66 0h1m6 0h1m1 0h1m146 0h2m8 0h2m418 0h1m703 0h1m97 0h1" stroke="#b4a864"/><path d="M332.2 1825.4h1m13 0h2m2 0h3m4 0h1m52 0h1m67 0h1m10 0h1m9 0h1m7 0h1m1 0h1m58 0h2m13 0h1m10 0h1m5 0h1m5 0h2m140 0h1m9 0h2m49 0h2m4 0h2m19 0h3m58 0h1m115 0h2m7 0h3m9 0h2m45 0h2m4 0h1m2 0h1m6 0h1m3 0h3m30 0h1m14 0h1m25 0h3m1 0h3m34 0h1m15 0h1m11 0h2m4 0h1m23 0h1m3 0h3m2 0h1m6 0h1m23 0h1m8 0h3m4 0h3m44 0h3m13 0h1m9 0h1m4 0h2m4 0h3m15 0h2m7 0h3m13 0h3m2 0h2m25 0h2m12 0h1m1 0h2m10 0h1m11 0h3m10 0h2m11 0h2m2 0h1m18 0h2m14 0h3m8 0h2m19 0h3m15 0h2m1 0h3m4 0h3m9 0h2m1 0h1m3 0h2m11 0h1m14 0h1m8 0h2m35 0h4m2 0h1m12 0h2m16 0h2m11 0h3m3 0h6m11 0h1m3 0h2m8 0h2m28 0h4m4 0h1m19 0h3m1 0h2m14 0h3m4 0h2m9 0h5m21 0h2m31 0h3m3 0h3m1 0h2m12 0h2m9 0h3m21 0h1m26 0h2m1 0h2" stroke="#595d6c"/><path d="M730.2 1825.4h2m475 0h1m132 0h1m41 0h1m407 0h2" stroke="#494f66"/><path d="M1876.2 1825.4h1" stroke="#e3ce50"/><path d="M278.2 1849.4h347M629.2 1849.4h46M680.2 1849.4h19M704.2 1849.4h74M783.2 1849.4h15M803.2 1849.4h17M825.2 1849.4h115M945.2 1849.4h34M984.2 1849.4h199M1188.2 1849.4h33M1226.2 1849.4h862" stroke="#494f66"/><path d="M280.2 1849.4h2m3 0h1m4 0h2m2 0h1m17 0h1m5 0h1m2 0h1m6 0h2m1 0h3m1 0h5m7 0h1m1 0h1m15 0h2m5 0h3m6 0h2m5 0h2m13 0h1m2 0h2m6 0h2m1 0h3m6 0h1m4 0h1m5 0h5m7 0h2m2 0h2m2 0h2m1 0h2m10 0h7m3 0h7m4 0h2m14 0h2m8 0h2m1 0h1m8 0h1m1 0h5m1 0h2m6 0h4m3 0h2m2 0h4m3 0h3m5 0h2m5 0h2m11 0h2m4 0h3m3 0h5m1 0h1m5 0h2m5 0h1m17 0h1m3 0h4m2 0h1m9 0h5m2 0h4m7 0h3m5 0h8m10 0h2m4 0h2m3 0h1m3 0h2m11 0h7m5 0h1m4 0h6m2 0h1m3 0h1m7 0h1m20 0h3m30 0h3m5 0h1m1 0h2m4 0h8m16 0h2m6 0h1m2 0h3m8 0h3m3 0h2m8 0h1m1 0h2m10 0h1m6 0h2m2 0h1m6 0h1m1 0h1m55 0h4m2 0h4m8 0h5m6 0h1m9 0h5m5 0h1m9 0h1m2 0h2m7 0h1m7 0h1m4 0h2m5 0h3m6 0h4m5 0h3m3 0h1m1 0h2m2 0h4m11 0h4m7 0h3m3 0h1m5 0h1m4 0h1m3 0h1m2 0h5m8 0h1m1 0h2m10 0h1m4 0h5m4 0h1m2 0h3m7 0h1m11 0h3m11 0h2m4 0h2m18 0h2m2 0h2m1 0h1m4 0h2m10 0h2m10 0h1m5 0h2m5 0h4m17 0h2m1 0h1m2 0h1m2 0h3m7 0h2m17 0h2m1 0h3m3 0h2m2 0h2m3 0h1m3 0h2m19 0h2m4 0h1m20 0h2m1 0h1m3 0h1m2 0h1m2 0h2m5 0h2m4 0h2m25 0h2m1 0h1m18 0h2m1 0h3m8 0h9m7 0h2m8 0h2m9 0h1m1 0h5m3 0h2m1 0h1m8 0h1m11 0h3m5 0h1m10 0h3m11 0h3m2 0h3m7 0h2m5 0h3m11 0h4m1 0h1m21 0h1m1 0h3m1 0h3m5 0h2m4 0h1m7 0h5m4 0h2m2 0h3m5 0h5m10 0h1m11 0h1m17 0h1m5 0h1m4 0h2m1 0h2m13 0h2m5 0h1m7 0h2m1 0h1m20 0h1m9 0h1m6 0h3m10 0h1m5 0h2m11 0h1m12 0h3m2 0h1m2 0h2m4 0h1m17 0h3m3 0h1m11 0h2m1 0h2m6 0h7m13 0h3m6 0h3m1 0h3m9 0h5m21 0h1m10 0h1m3 0h2m5 0h3m2 0h1" stroke="#595d6c"/><path d="M287.2 1849.4h3m8 0h1m1 0h2m4 0h1m4 0h1m1 0h1m6 0h1m1 0h2m10 0h1m5 0h4m2 0h1m3 0h2m3 0h1m3 0h1m24 0h3m4 0h1m6 0h5m8 0h2m7 0h2m3 0h1m1 0h1m4 0h3m7 0h4m2 0h1m2 0h2m13 0h3m1 0h2m8 0h2m21 0h2m16 0h1m4 0h3m17 0h1m4 0h2m3 0h2m12 0h2m5 0h2m7 0h7m2 0h1m6 0h1m16 0h5m32 0h1m1 0h1m8 0h2m14 0h3m18 0h2m23 0h3m41 0h2m13 0h2m5 0h2m31 0h3m18 0h3m4 0h2m22 0h1m58 0h1m51 0h2m23 0h4m5 0h1m21 0h5m5 0h1m3 0h3m1 0h2m8 0h2m10 0h6m12 0h2m14 0h3m19 0h2m31 0h1m11 0h3m1 0h2m7 0h1m13 0h3m1 0h2m14 0h3m63 0h1m1 0h1m1 0h1m3 0h3m17 0h1m33 0h3m20 0h1m10 0h3m56 0h1m2 0h2m2 0h1m16 0h3m1 0h2m2 0h1m18 0h1m9 0h3m10 0h3m19 0h1m9 0h1m12 0h1m28 0h3m7 0h2m2 0h1m32 0h1m2 0h2m28 0h1m35 0h2m18 0h1m9 0h1m13 0h2m4 0h2m33 0h2m14 0h2m6 0h2m29 0h1m1 0h1m17 0h2m9 0h1m15 0h3m10 0h2m23 0h3m1 0h3m13 0h1m14 0h1m36 0h1m30 0h2m1 0h1m12 0h2m4 0h1m14 0h2" stroke="#696b71"/><path d="M299.2 1849.4h1m7 0h1m19 0h1m59 0h1m58 0h2m49 0h1m3 0h2m3 0h1m65 0h1m2 0h2m5 0h1m14 0h2m87 0h2m30 0h2m210 0h1m66 0h2m7 0h2m167 0h1m320 0h2m69 0h2m304 0h3m58 0h1m53 0h1" stroke="#777770"/><path d="M304.2 1849.4h2m42 0h1m488 0h1m29 0h1m11 0h1m82 0h1m263 0h1m2 0h1m16 0h1m105 0h1m41 0h2m20 0h1m133 0h2m55 0h1m29 0h1m15 0h1m121 0h1m68 0h1m6 0h2m60 0h2m128 0h2" stroke="#b4a864"/><path d="M308.2 1849.4h3m3 0h2m36 0h3m22 0h2m49 0h3m85 0h3m34 0h1m84 0h4m1 0h3m7 0h3m17 0h2m33 0h4m2 0h3m9 0h1m14 0h2m7 0h1m6 0h2m7 0h2m4 0h1m3 0h2m5 0h3m11 0h1m9 0h5m3 0h5m12 0h1m6 0h1m13 0h1m5 0h2m34 0h1m5 0h2m15 0h1m3 0h1m4 0h1m3 0h1m1 0h1m24 0h3m2 0h3m2 0h2m3 0h1m2 0h3m5 0h2m2 0h2m33 0h2m1 0h1m4 0h1m8 0h1m29 0h2m10 0h2m25 0h1m2 0h2m4 0h2m16 0h2m9 0h1m8 0h1m21 0h1m48 0h1m5 0h1m18 0h2m8 0h1m2 0h3m8 0h1m7 0h2m1 0h1m1 0h2m5 0h1m10 0h2m5 0h1m1 0h2m5 0h3m28 0h1m17 0h1m32 0h1m4 0h1m4 0h1m1 0h1m6 0h2m4 0h2m13 0h1m6 0h3m22 0h3m9 0h4m5 0h3m14 0h2m19 0h1m9 0h2m23 0h2m10 0h1m10 0h2m7 0h1m18 0h3m19 0h2m12 0h2m6 0h2m5 0h2m11 0h4m23 0h3m27 0h2m6 0h1m6 0h2m12 0h3m8 0h3m3 0h4m7 0h2m5 0h2m10 0h2m2 0h2m11 0h3m7 0h2m5 0h2m1 0h2m3 0h1m1 0h1m22 0h3m21 0h2m4 0h2m4 0h1m2 0h3m7 0h1m3 0h1m1 0h1m10 0h2m2 0h4m3 0h2m7 0h1m10 0h2m17 0h3m7 0h2m2 0h1m33 0h1m1 0h1m3 0h4m1 0h2m3 0h1m6 0h2" stroke="#404866"/><path d="M344.2 1849.4h2m58 0h1m17 0h2m35 0h1m39 0h1m5 0h1m9 0h1m16 0h1m29 0h1m289 0h1m11 0h1m5 0h1m27 0h1m263 0h1m342 0h2m163 0h1m169 0h1m26 0h1m21 0h2m13 0h1m62 0h1m46 0h2m53 0h1" stroke="#a39c6b"/><path d="M360.2 1849.4h1m102 0h1m376 0h1m31 0h1m19 0h1m30 0h1m2 0h1m7 0h1m32 0h1m170 0h1m95 0h1m62 0h2m35 0h1m2 0h1m165 0h1m85 0h2m48 0h2m42 0h1m132 0h1m121 0h1m46 0h1m59 0h1m7 0h1" stroke="#f0da46"/><path d="M367.2 1849.4h1m8 0h1m121 0h1m335 0h1m23 0h1m37 0h2m9 0h1m129 0h1m82 0h1m34 0h1m105 0h1m40 0h1m125 0h1m12 0h1m4 0h1m3 0h1m13 0h1m6 0h1m116 0h1m49 0h1m66 0h1m46 0h1m50 0h1m89 0h1m46 0h1m114 0h1m16 0h1" stroke="#e3ce50"/><path d="M408.2 1849.4h2m771 0h1" stroke="#85836f"/><path d="M413.2 1849.4h1m75 0h1m1 0h1m111 0h2m118 0h1m107 0h1m67 0h1m16 0h1m2 0h1m12 0h1m108 0h1m107 0h2m22 0h1m20 0h2m58 0h2m32 0h1m2 0h1m35 0h2m158 0h1m25 0h2m66 0h1m11 0h1m23 0h1m1 0h2m50 0h1m45 0h1m42 0h1m8 0h1m47 0h2m20 0h1m15 0h1m2 0h1m35 0h2m145 0h1" stroke="#d4c256"/><path d="M424.2 1849.4h1m30 0h2m68 0h1m387 0h1m22 0h1m24 0h1m68 0h1m76 0h1m184 0h1m22 0h1m28 0h2m376 0h2m2 0h1m51 0h2m22 0h1m102 0h2" stroke="#c4b55d"/><path d="M479.2 1849.4h1m103 0h1m178 0h1" stroke="#94906d"/><path d="M650.2 1849.4h2m91 0h3m57 0h4m74 0h1m26 0h2m2 0h1m32 0h5m22 0h1m327 0h1m35 0h1m52 0h2m17 0h2m28 0h2m25 0h3m129 0h2m12 0h3m81 0h2m28 0h1m11 0h3m119 0h1m52 0h1m5 0h2m11 0h2m21 0h2m30 0h2m43 0h3m33 0h2" stroke="#384266"/><path d="M904.2 1849.4h1m6 0h1m17 0h1m272 0h1m132 0h1m111 0h1m204 0h1m244 0h2" stroke="#fde73b"/><path d="M954.2 1849.4h4m823 0h2m88 0h2m174 0h1" stroke="#313c67"/><path d="M278.2 1873.4h347M629.2 1873.4h46M680.2 1873.4h19M704.2 1873.4h74M783.2 1873.4h15M803.2 1873.4h17M825.2 1873.4h115M945.2 1873.4h34M984.2 1873.4h199M1188.2 1873.4h33M1226.2 1873.4h862" stroke="#595d6c"/><path d="M279.2 1873.4h3m3 0h2m10 0h2m10 0h1m6 0h2m15 0h2m9 0h2m62 0h3m1 0h2m6 0h1m8 0h1m7 0h2m4 0h1m19 0h1m4 0h2m5 0h2m5 0h1m10 0h2m3 0h3m2 0h1m12 0h2m7 0h3m9 0h1m3 0h1m3 0h2m9 0h2m27 0h2m10 0h1m16 0h1m74 0h2m21 0h2m14 0h1m25 0h1m8 0h1m1 0h2m2 0h2m2 0h1m43 0h3m5 0h3m8 0h2m4 0h6m6 0h2m14 0h3m2 0h1m2 0h2m3 0h2m2 0h3m4 0h3m2 0h2m6 0h4m9 0h2m3 0h3m5 0h1m21 0h5m40 0h4m4 0h2m1 0h2m2 0h2m7 0h3m4 0h1m3 0h5m1 0h9m2 0h2m1 0h2m3 0h3m1 0h2m1 0h1m3 0h3m3 0h1m1 0h1m2 0h1m5 0h1m3 0h3m1 0h2m24 0h2m1 0h2m1 0h1m10 0h1m7 0h1m14 0h3m1 0h2m4 0h3m1 0h1m4 0h1m8 0h2m6 0h2m7 0h3m4 0h3m11 0h1m22 0h3m11 0h2m2 0h2m9 0h1m4 0h3m19 0h1m5 0h1m1 0h1m4 0h3m17 0h1m4 0h1m15 0h1m1 0h1m37 0h1m8 0h1m16 0h1m19 0h2m3 0h3m13 0h2m17 0h1m10 0h2m42 0h2m9 0h1m7 0h1m2 0h1m1 0h1m20 0h2m11 0h4m3 0h2m28 0h1m8 0h1m5 0h2m9 0h5m3 0h1m5 0h1m4 0h2m3 0h3m24 0h1m27 0h4m10 0h2m4 0h1m5 0h2m6 0h6m9 0h3m6 0h2m14 0h1m27 0h2m1 0h1m20 0h3m6 0h2m6 0h2m27 0h2m5 0h1m14 0h1m15 0h1m5 0h3m5 0h1m5 0h3m11 0h1m8 0h1m3 0h2m3 0h4m32 0h2m3 0h2m22 0h2m3 0h1m6 0h1" stroke="#696b71"/><path d="M282.2 1873.4h1m12 0h2m5 0h7m5 0h2m6 0h9m4 0h4m7 0h5m3 0h1m1 0h3m1 0h2m3 0h5m4 0h5m2 0h1m8 0h2m7 0h5m7 0h1m5 0h3m4 0h3m7 0h3m7 0h1m15 0h2m2 0h4m4 0h2m3 0h5m3 0h2m1 0h2m7 0h1m3 0h2m1 0h1m3 0h1m13 0h3m3 0h1m9 0h2m9 0h5m9 0h2m4 0h1m3 0h5m3 0h4m3 0h2m10 0h2m3 0h3m2 0h1m7 0h2m16 0h1m22 0h2m6 0h3m10 0h3m9 0h1m11 0h1m22 0h1m3 0h4m4 0h2m10 0h3m5 0h1m16 0h2m6 0h1m3 0h2m2 0h4m10 0h2m1 0h1m3 0h4m14 0h3m16 0h2m14 0h2m13 0h2m3 0h1m15 0h5m6 0h3m20 0h2m22 0h1m1 0h8m22 0h2m1 0h2m7 0h4m2 0h1m8 0h3m10 0h1m17 0h2m2 0h1m2 0h3m3 0h1m4 0h1m9 0h1m1 0h2m17 0h6m3 0h5m1 0h3m1 0h2m4 0h1m7 0h6m10 0h2m2 0h2m7 0h1m6 0h2m25 0h3m4 0h3m27 0h1m3 0h4m9 0h1m9 0h1m3 0h2m9 0h1m2 0h1m16 0h2m12 0h2m8 0h1m6 0h5m8 0h2m7 0h5m14 0h3m1 0h3m2 0h2m3 0h2m4 0h3m2 0h1m14 0h4m1 0h2m3 0h1m12 0h2m1 0h1m3 0h2m3 0h1m4 0h1m8 0h4m2 0h2m7 0h4m9 0h1m4 0h3m9 0h2m2 0h1m1 0h1m3 0h2m3 0h2m1 0h1m2 0h2m2 0h2m18 0h2m2 0h1m1 0h2m6 0h2m12 0h1m6 0h5m6 0h2m2 0h2m8 0h2m10 0h7m2 0h3m25 0h1m2 0h1m4 0h1m9 0h2m10 0h3m5 0h1m7 0h1m1 0h3m3 0h2m16 0h2m8 0h2m9 0h1m2 0h2m21 0h3m14 0h1m4 0h1m10 0h7m4 0h1m2 0h1m1 0h1m5 0h7m3 0h3m7 0h1m14 0h3m1 0h1m23 0h4m1 0h1m27 0h1m13 0h3m2 0h1m1 0h1m3 0h3m18 0h1m6 0h4m7 0h6m2 0h3m3 0h2m4 0h2m4 0h2m17 0h2m1 0h2m4 0h1m10 0h1m2 0h1m3 0h1m21 0h5" stroke="#494f66"/><path d="M294.2 1873.4h1m4 0h3m10 0h2m58 0h2m5 0h2m1 0h3m11 0h3m33 0h1m8 0h2m8 0h3m36 0h3m16 0h2m22 0h2m23 0h2m7 0h2m9 0h3m48 0h4m4 0h1m4 0h2m6 0h1m6 0h2m5 0h3m3 0h2m2 0h1m16 0h1m4 0h2m52 0h1m236 0h3m241 0h1m11 0h1m14 0h1m29 0h1m15 0h2m24 0h1m24 0h2m25 0h4m3 0h2m3 0h1m18 0h3m1 0h3m19 0h2m33 0h3m3 0h3m40 0h1m8 0h1m32 0h1m6 0h1m24 0h3m24 0h1m86 0h1m27 0h1m19 0h3m3 0h1m60 0h1m30 0h3m21 0h1m17 0h2m11 0h1m42 0h1m6 0h1m8 0h1m3 0h1m40 0h5m41 0h1m8 0h1m6 0h3" stroke="#404866"/><path d="M355.2 1873.4h1m74 0h2m86 0h1m419 0h2m177 0h1m11 0h1m125 0h1m22 0h2m34 0h1m2 0h1m120 0h1m88 0h2m19 0h1m25 0h1m54 0h2m11 0h1m26 0h2m125 0h2m7 0h1m15 0h1m65 0h1m13 0h1m28 0h2" stroke="#94906d"/><path d="M359.2 1873.4h1m346 0h1m9 0h2m27 0h1m26 0h1m61 0h2" stroke="#f0da46"/><path d="M404.2 1873.4h4m430 0h2m24 0h1m8 0h2m194 0h2m15 0h1m8 0h1m47 0h1m26 0h1m6 0h1m76 0h1m41 0h3m34 0h3m28 0h2m83 0h1m1 0h1m84 0h2m19 0h2m52 0h2m43 0h1m53 0h1m7 0h3m10 0h2m5 0h1m19 0h1m29 0h2m34 0h1m200 0h2" stroke="#777770"/><path d="M414.2 1873.4h1m42 0h1m49 0h1m153 0h1m82 0h1m22 0h2m123 0h1m400 0h1m399 0h2m33 0h1m12 0h1m4 0h1m16 0h2m6 0h1" stroke="#c4b55d"/><path d="M428.2 1873.4h1m29 0h1m266 0h1m35 0h1m67 0h2m100 0h1m159 0h1m58 0h2m340 0h1m12 0h1m29 0h1m26 0h1m22 0h2m23 0h1m106 0h1m30 0h1m33 0h1m40 0h1m25 0h2m28 0h1m17 0h2m47 0h1m38 0h1m1 0h1m13 0h1m20 0h1m12 0h1" stroke="#b4a864"/><path d="M459.2 1873.4h1m173 0h1m4 0h1m66 0h1m12 0h1m28 0h1m16 0h1m6 0h1m93 0h1m232 0h1m66 0h1m14 0h1m52 0h1m11 0h1m90 0h2m64 0h2m27 0h1m18 0h1m40 0h1m55 0h1m15 0h1m67 0h1m42 0h1m31 0h1m8 0h2m97 0h1m26 0h2m17 0h1m72 0h1m50 0h1m9 0h1m18 0h1m44 0h2" stroke="#d4c256"/><path d="M634.2 1873.4h2m5 0h1m2 0h2m16 0h2m121 0h3m1096 0h1m3 0h2m167 0h1" stroke="#384266"/><path d="M639.2 1873.4h2m89 0h1m110 0h1m43 0h1m31 0h2m65 0h1m142 0h1m10 0h1m36 0h1m80 0h1m84 0h1m57 0h2m24 0h2m17 0h2m98 0h1m23 0h1m35 0h1m36 0h1m13 0h1m19 0h1m57 0h1m38 0h1m45 0h2m102 0h1m21 0h1m9 0h1m9 0h1m11 0h1m34 0h1m12 0h1" stroke="#e3ce50"/><path d="M672.2 1873.4h2" stroke="#313c67"/><path d="M709.2 1873.4h1m16 0h1m22 0h1" stroke="#fde73b"/><path d="M710.2 1873.4h1m208 0h1m66 0h1m7 0h1m231 0h2m78 0h1m24 0h1m30 0h1m121 0h2m45 0h1m6 0h2m10 0h1m27 0h2m9 0h2m3 0h1m30 0h1m19 0h1m30 0h1m20 0h1m3 0h1m123 0h1m1 0h1m15 0h1m2 0h1m7 0h1m28 0h1m33 0h1m1 0h2m117 0h2m21 0h1m5 0h2" stroke="#a39c6b"/><path d="M1105.2 1873.4h2m314 0h1m171 0h1m41 0h1m11 0h2m85 0h1m126 0h2m105 0h2" stroke="#85836f"/><path d="M278.2 1897.4h347M629.2 1897.4h46M680.2 1897.4h19M704.2 1897.4h74M783.2 1897.4h15M803.2 1897.4h17M825.2 1897.4h115M945.2 1897.4h34M984.2 1897.4h199M1188.2 1897.4h33M1226.2 1897.4h862" stroke="#595d6c"/><path d="M279.2 1897.4h1m120 0h2m89 0h1m117 0h1m452 0h1m83 0h1m4 0h1m93 0h1m78 0h1m4 0h1m1 0h1m3 0h1m21 0h1m8 0h1m4 0h1m1 0h3m7 0h2m6 0h1m25 0h1m2 0h1m3 0h2m7 0h1m13 0h1m7 0h1m1 0h2m14 0h2m4 0h1m6 0h1m5 0h2m6 0h1m1 0h2m27 0h1m4 0h1m10 0h1m1 0h2m2 0h1m22 0h1m12 0h1m10 0h1m4 0h1m20 0h1m23 0h1m9 0h1m12 0h1m15 0h1m20 0h3m17 0h2m9 0h2m26 0h1m16 0h2m14 0h1m42 0h3m1 0h1m15 0h1m2 0h1m3 0h1m19 0h1m10 0h2m5 0h3m15 0h2m1 0h1m1 0h1m45 0h1m11 0h7m4 0h1m24 0h1m2 0h4m1 0h1m13 0h1m13 0h1" stroke="#85836f"/><path d="M280.2 1897.4h1m68 0h1m4 0h1m41 0h2m9 0h1m6 0h2m116 0h2m97 0h2m2 0h2m13 0h3m4 0h3m11 0h2m15 0h3m3 0h1m17 0h2m1 0h2m4 0h2m3 0h1m13 0h1m3 0h3m7 0h2m2 0h1m5 0h2m5 0h4m10 0h2m7 0h1m37 0h1m2 0h3m27 0h1m109 0h2m11 0h2m25 0h3m31 0h2m20 0h2m737 0h2" stroke="#384266"/><path d="M287.2 1897.4h1m1 0h4m8 0h2m2 0h1m7 0h9m3 0h4m10 0h4m7 0h2m3 0h5m6 0h2m2 0h3m3 0h2m2 0h5m1 0h3m1 0h3m5 0h1m3 0h1m8 0h2m5 0h2m7 0h4m1 0h3m1 0h2m5 0h3m3 0h12m1 0h3m2 0h1m3 0h3m1 0h3m3 0h3m2 0h5m1 0h1m2 0h4m2 0h3m3 0h3m2 0h1m4 0h3m14 0h1m2 0h8m6 0h2m2 0h2m6 0h1m2 0h1m3 0h1m6 0h3m1 0h5m3 0h1m5 0h4m2 0h2m14 0h1m1 0h3m1 0h2m60 0h2m100 0h1m15 0h1m21 0h3m15 0h2m3 0h1m12 0h2m6 0h2m4 0h2m3 0h1m4 0h5m7 0h1m5 0h3m1 0h3m6 0h2m5 0h3m1 0h6m1 0h2m21 0h1m2 0h1m7 0h5m1 0h1m2 0h2m5 0h3m9 0h2m4 0h1m4 0h3m1 0h3m10 0h2m15 0h2m2 0h4m3 0h1m4 0h1m2 0h2m20 0h2m10 0h2m2 0h3m1 0h3m6 0h2m7 0h6m6 0h2m2 0h2m1 0h2m9 0h1m1 0h5m6 0h3m7 0h1m2 0h1m2 0h2m10 0h2m16 0h3m1 0h3m14 0h1m20 0h1m57 0h1m1 0h1m64 0h2m9 0h3m81 0h1m119 0h2m6 0h1m1 0h1m39 0h1m6 0h2m11 0h2m8 0h2m36 0h1m50 0h2m8 0h1m33 0h2m1 0h2m9 0h3m9 0h2m2 0h2m35 0h1m34 0h2m13 0h1m5 0h1m32 0h1m49 0h3m23 0h2m6 0h1m1 0h2m18 0h2m7 0h1m2 0h3" stroke="#494f66"/><path d="M288.2 1897.4h1m35 0h1m9 0h3m10 0h2m59 0h2m11 0h4m1 0h1m19 0h3m44 0h2m9 0h1m24 0h1m1 0h1m13 0h3m12 0h2m2 0h2m7 0h1m1 0h2m9 0h3m15 0h3m3 0h1m7 0h1m61 0h5m2 0h1m3 0h3m1 0h4m15 0h1m12 0h3m6 0h1m5 0h2m17 0h3m19 0h2m3 0h6m1 0h3m43 0h2m7 0h2m16 0h1m15 0h1m5 0h4m5 0h2m18 0h3m16 0h2m5 0h4m2 0h2m1 0h2m7 0h2m1 0h2m24 0h2m1 0h1m9 0h2m16 0h1m4 0h2m8 0h1m4 0h2m28 0h3m8 0h3m14 0h1m14 0h2m27 0h1m2 0h2m12 0h1m5 0h2m7 0h2m161 0h1m24 0h1m19 0h1m168 0h3m199 0h2" stroke="#404866"/><path d="M303.2 1897.4h2m2 0h2m36 0h2m66 0h1m11 0h1m35 0h1m37 0h1m26 0h3m1 0h1m22 0h2m14 0h1m29 0h2m10 0h3m196 0h7m11 0h1m23 0h2m2 0h1m2 0h2m10 0h1m24 0h1m9 0h1m11 0h1m3 0h1m13 0h2m18 0h1m30 0h1m10 0h2m18 0h2m1 0h2m3 0h2m2 0h5m30 0h2m13 0h2m9 0h3m11 0h6m27 0h1m4 0h2m12 0h3m12 0h1m8 0h2m17 0h3m9 0h1m24 0h2m18 0h5m1 0h2m12 0h1m14 0h1m10 0h5m7 0h1m1 0h1m4 0h2m1 0h1m27 0h4m1 0h2m3 0h1m3 0h3m16 0h1m3 0h1m3 0h2m7 0h2m23 0h2m7 0h2m3 0h4m2 0h7m1 0h1m4 0h3m6 0h1m7 0h1m8 0h1m16 0h2m12 0h1m3 0h1m7 0h1m4 0h1m3 0h2m3 0h3m10 0h2m7 0h1m17 0h5m1 0h1m11 0h1m4 0h1m5 0h1m13 0h3m9 0h2m2 0h3m5 0h2m13 0h3m11 0h3m1 0h1m1 0h3m5 0h2m6 0h3m8 0h3m6 0h1m20 0h1m1 0h1m6 0h1m5 0h1m3 0h4m6 0h1m1 0h1m8 0h2m14 0h1m12 0h1m2 0h1m20 0h1m1 0h1m21 0h2m18 0h1m6 0h3m1 0h1m8 0h2m6 0h1m5 0h1m1 0h2m1 0h2m4 0h1m9 0h1m7 0h1m2 0h1m10 0h1m1 0h1m2 0h2m10 0h2m6 0h1m4 0h4m9 0h2m6 0h2m3 0h2m3 0h1m4 0h2m3 0h1m11 0h3m9 0h1m4 0h2m3 0h1m1 0h2m3 0h1m6 0h2m3 0h1" stroke="#696b71"/><path d="M306.2 1897.4h1m763 0h1m100 0h1m104 0h1m14 0h1m49 0h1m4 0h2m44 0h2m41 0h1m52 0h1m6 0h1m19 0h1m21 0h1m21 0h2m6 0h1m14 0h1m20 0h1m14 0h2m26 0h2m5 0h1m29 0h1m1 0h1m14 0h2m6 0h1m7 0h1m4 0h1m10 0h1m11 0h1m8 0h1m21 0h1m65 0h2m5 0h1m4 0h2m21 0h1m17 0h2m6 0h1m39 0h1m6 0h2m14 0h1m53 0h2m65 0h1" stroke="#a39c6b"/><path d="M309.2 1897.4h2m92 0h2m63 0h1m9 0h1m43 0h2m305 0h3m62 0h2m94 0h2m8 0h2m260 0h1m2 0h2m3 0h2m2 0h2m3 0h3m2 0h2m2 0h3m2 0h2m21 0h1m9 0h3m3 0h1m4 0h2m5 0h2m53 0h4m2 0h2m5 0h1m5 0h1m2 0h1m4 0h2m13 0h1m22 0h2m2 0h1m7 0h2m3 0h2m6 0h1m4 0h1m4 0h1m6 0h2m24 0h1m8 0h3m7 0h2m8 0h1m9 0h1m5 0h5m14 0h1m14 0h1m13 0h1m6 0h1m2 0h2m19 0h2m1 0h1m14 0h1m1 0h1m13 0h3m6 0h1m17 0h1m2 0h1m2 0h3m7 0h1m15 0h1m1 0h1m14 0h2m3 0h1m25 0h2m1 0h2m14 0h1m7 0h4m5 0h1m5 0h1m15 0h1m6 0h1m6 0h2m12 0h4m3 0h1m2 0h1m5 0h1m34 0h1m2 0h1m1 0h3m30 0h2m4 0h1m19 0h1m6 0h1m9 0h1m1 0h1m11 0h1m4 0h1m15 0h2m2 0h1" stroke="#777770"/><path d="M352.2 1897.4h2m275 0h2m2 0h2m2 0h4m1 0h6m5 0h1m2 0h1m3 0h2m1 0h5m5 0h2m33 0h4m6 0h3m2 0h3m6 0h1m1 0h1m2 0h3m1 0h1m5 0h5m1 0h1m2 0h2m9 0h4m4 0h3" stroke="#313c67"/><path d="M375.2 1897.4h1m23 0h1m174 0h1m439 0h1m214 0h1m56 0h2m14 0h1m30 0h1m16 0h2m8 0h1m3 0h1m5 0h1m38 0h1m5 0h2m2 0h1m14 0h1m31 0h2m4 0h1m89 0h1m5 0h2m2 0h1m25 0h1m9 0h2m4 0h1m43 0h1m34 0h1m24 0h2m8 0h1m11 0h1m13 0h2m3 0h1m21 0h1m21 0h1m24 0h2m29 0h1m21 0h2m30 0h1m8 0h1m15 0h1m5 0h1m35 0h2m21 0h2m16 0h2m2 0h2m47 0h1" stroke="#b4a864"/><path d="M500.2 1897.4h1m344 0h1m52 0h1m104 0h1m47 0h1m3 0h2m1 0h2m167 0h2m3 0h1m1 0h2m14 0h1m21 0h2m27 0h1m18 0h2m8 0h1m3 0h1m43 0h1m17 0h1m72 0h1m31 0h1m22 0h2m22 0h1m15 0h2m31 0h1m18 0h2m24 0h1m103 0h2m2 0h1m28 0h2m9 0h1m18 0h1m12 0h2m33 0h1m15 0h2m43 0h1m11 0h1m1 0h1m3 0h1m8 0h1m21 0h5m27 0h1m16 0h1m51 0h1m16 0h1m1 0h1" stroke="#c4b55d"/><path d="M641.2 1897.4h1m12 0h2m12 0h3m33 0h4m22 0h2m1 0h1m1 0h1m16 0h1m6 0h2m5 0h1" stroke="#2a3668"/><path d="M648.2 1897.4h2m12 0h1" stroke="#233068"/><path d="M717.2 1897.4h1m131 0h1m60 0h1m42 0h1m66 0h1m149 0h1m75 0h2m30 0h1m29 0h1m3 0h1m1 0h1m24 0h1m2 0h1m132 0h1m4 0h1m27 0h1m1 0h1m9 0h2m1 0h1m2 0h1m6 0h1m4 0h1m34 0h1m20 0h1m25 0h2m15 0h2m39 0h1m26 0h2m19 0h2m1 0h1m5 0h1m3 0h1m33 0h1m19 0h2m22 0h1m14 0h1m4 0h1m20 0h1m18 0h1m73 0h4m6 0h1m81 0h1m1 0h1m9 0h1m3 0h1m24 0h1" stroke="#94906d"/><path d="M839.2 1897.4h2m385 0h1m6 0h1m14 0h2m5 0h1m26 0h2m14 0h1m44 0h1m4 0h1m32 0h1m16 0h1m24 0h1m6 0h1m83 0h1m12 0h1m1 0h1m4 0h1m28 0h1m29 0h1m10 0h1m5 0h1m22 0h2m34 0h1m5 0h1m92 0h1m16 0h1m9 0h2m9 0h1m6 0h2m48 0h2m13 0h2m43 0h1m23 0h2m9 0h1m17 0h2m5 0h1m69 0h1m16 0h1m1 0h1" stroke="#d4c256"/><path d="M1231.2 1897.4h1m12 0h1m65 0h1m25 0h1m15 0h1m58 0h1m20 0h1m141 0h2m39 0h1m38 0h1m41 0h2m123 0h1m53 0h1m29 0h1m60 0h1m71 0h1" stroke="#e3ce50"/><path d="M278.2 1921.5h347M629.2 1921.5h46M680.2 1921.5h19M704.2 1921.5h74M783.2 1921.5h15M803.2 1921.5h17M825.2 1921.5h115M945.2 1921.5h34M984.2 1921.5h199M1188.2 1921.5h33M1226.2 1921.5h862" stroke="#595d6c"/><path d="M280.2 1921.5h1m17 0h3m31 0h1m5 0h3m5 0h2m21 0h3m16 0h1m1 0h2m5 0h3m26 0h1m1 0h3m10 0h2m16 0h1m4 0h3m2 0h2m3 0h1m3 0h3m9 0h1m28 0h4m22 0h3m24 0h1m26 0h2m4 0h1m16 0h2m41 0h3m24 0h3m22 0h2m8 0h4m16 0h2m8 0h1m6 0h1m11 0h2m286 0h2m42 0h2m90 0h3m61 0h3m18 0h1m5 0h1m8 0h2m21 0h3m12 0h2m75 0h2m1 0h1m20 0h1m39 0h1m7 0h3m15 0h1m11 0h1m5 0h1m1 0h1m8 0h1m14 0h1m17 0h3m77 0h1m95 0h2m10 0h3m12 0h1m2 0h1m14 0h1m48 0h1m14 0h1m22 0h1m7 0h1m19 0h2m24 0h1m10 0h1m21 0h1m8 0h1m3 0h1m33 0h1m68 0h1" stroke="#404866"/><path d="M281.2 1921.5h2m1 0h5m5 0h4m3 0h2m2 0h2m2 0h4m2 0h2m2 0h1m1 0h5m2 0h4m1 0h5m3 0h1m2 0h2m2 0h7m4 0h1m1 0h3m1 0h4m3 0h7m13 0h2m2 0h1m3 0h8m9 0h2m3 0h1m4 0h1m3 0h7m1 0h2m3 0h1m9 0h1m5 0h4m3 0h2m15 0h5m4 0h4m1 0h5m1 0h3m5 0h7m4 0h2m2 0h1m3 0h10m8 0h4m9 0h3m4 0h1m6 0h1m3 0h3m2 0h4m3 0h1m3 0h3m2 0h4m9 0h8m2 0h1m4 0h1m14 0h1m17 0h1m48 0h2m2 0h2m2 0h3m11 0h4m1 0h1m4 0h4m2 0h3m4 0h1m1 0h2m5 0h3m3 0h1m1 0h2m12 0h2m5 0h1m30 0h3m2 0h3m7 0h1m7 0h1m1 0h1m1 0h2m1 0h5m4 0h5m2 0h1m9 0h1m2 0h2m3 0h3m6 0h2m4 0h3m2 0h2m1 0h3m8 0h1m3 0h2m3 0h4m1 0h2m7 0h1m14 0h1m6 0h2m6 0h1m7 0h5m4 0h4m12 0h1m11 0h2m2 0h1m6 0h1m3 0h1m15 0h3m1 0h3m4 0h1m4 0h5m2 0h1m3 0h2m1 0h3m3 0h2m2 0h2m2 0h1m6 0h3m4 0h1m6 0h4m3 0h4m17 0h2m6 0h5m2 0h2m2 0h6m5 0h4m16 0h1m1 0h1m5 0h2m3 0h3m4 0h1m12 0h2m6 0h5m2 0h2m1 0h1m3 0h3m14 0h1m7 0h1m5 0h2m30 0h1m6 0h1m9 0h2m3 0h1m1 0h1m13 0h2m20 0h5m7 0h1m3 0h1m9 0h1m3 0h2m1 0h2m12 0h2m18 0h4m12 0h1m2 0h2m19 0h2m8 0h2m4 0h1m2 0h1m14 0h2m4 0h2m6 0h4m15 0h1m3 0h2m28 0h1m1 0h1m3 0h1m9 0h2m38 0h1m13 0h2m8 0h1m26 0h1m2 0h3m9 0h2m13 0h2m4 0h3m4 0h2m8 0h2m22 0h1m11 0h1m7 0h3m3 0h2m6 0h2m8 0h1m9 0h1m4 0h4m7 0h2m4 0h1m4 0h2m17 0h1m13 0h2m5 0h1m7 0h4m2 0h1m7 0h1m5 0h2m10 0h2m5 0h1m9 0h2m2 0h1m1 0h1m4 0h1m4 0h1m3 0h2m7 0h2m2 0h1m7 0h2m6 0h1m5 0h2m1 0h2m11 0h3m1 0h1m1 0h2m8 0h2m8 0h2m3 0h1m10 0h3m3 0h1m6 0h1m6 0h1" stroke="#494f66"/><path d="M283.2 1921.5h1m347 0h1m31 0h1m525 0h2m62 0h1m1 0h2m35 0h2m4 0h2m3 0h1m1 0h1m61 0h1m10 0h1m56 0h2m67 0h1m14 0h1m4 0h1m15 0h2m47 0h1m22 0h1m41 0h3m6 0h1m11 0h2m21 0h2m5 0h2m10 0h1m19 0h2m35 0h1m4 0h1m32 0h1m56 0h2m2 0h2m35 0h1m37 0h1m25 0h1m5 0h2m35 0h1m20 0h2m33 0h3m7 0h1" stroke="#a39c6b"/><path d="M313.2 1921.5h2m2 0h2m93 0h2m35 0h2m24 0h1m13 0h1m65 0h3m15 0h1m56 0h1m1 0h1m1 0h1m4 0h2m1 0h2m1 0h2m13 0h2m2 0h1m5 0h1m9 0h3m8 0h1m6 0h1m40 0h2m42 0h4m2 0h5m1 0h2m31 0h2m11 0h2m8 0h1m8 0h1m1 0h2m18 0h2m2 0h3m3 0h3m6 0h3m25 0h1m21 0h3m1 0h1m1 0h3m2 0h4m7 0h1m3 0h1m11 0h1m17 0h1m3 0h2m2 0h3m5 0h2m3 0h2m7 0h2m1 0h2m1 0h2m5 0h2m3 0h1m10 0h1m9 0h2m12 0h1m10 0h2m18 0h2m15 0h2m4 0h1m27 0h2m14 0h1m16 0h3m3 0h2m19 0h3m24 0h2m7 0h5m5 0h3m8 0h1m5 0h3m13 0h1m2 0h1m26 0h3m9 0h2m1 0h2m3 0h2m3 0h1m1 0h3m1 0h1m8 0h1m2 0h1m15 0h3m23 0h1m1 0h1m32 0h3m4 0h2m6 0h2m4 0h1m14 0h1m2 0h1m21 0h1m4 0h1m5 0h1m22 0h1m3 0h3m8 0h3m22 0h1m9 0h2m3 0h1m5 0h3m2 0h4m16 0h1m2 0h1m4 0h1m8 0h2m20 0h2m17 0h3m5 0h2m12 0h1m12 0h2m11 0h4m1 0h2m4 0h2m17 0h1m1 0h1m1 0h1m1 0h1m12 0h1m31 0h1m4 0h1m7 0h2m6 0h2m6 0h1m1 0h1m7 0h1m12 0h1m10 0h2m7 0h1m16 0h2m37 0h2m23 0h2m10 0h1m24 0h1m24 0h1" stroke="#696b71"/><path d="M320.2 1921.5h1m43 0h1m268 0h1m169 0h8m521 0h1m17 0h1m93 0h2m6 0h1m48 0h1m89 0h1m40 0h1m13 0h1m43 0h1m76 0h1m62 0h2m90 0h1m28 0h1m119 0h2" stroke="#f0da46"/><path d="M503.2 1921.5h1m357 0h1m57 0h2m1 0h1m158 0h1m110 0h2m100 0h1m20 0h1m1 0h1m26 0h1m35 0h1m5 0h2m7 0h1m57 0h1m44 0h1m13 0h2m34 0h1m33 0h1m5 0h1m47 0h1m3 0h2m7 0h1m36 0h1m7 0h2m15 0h2m20 0h2m28 0h2m6 0h2m8 0h1m7 0h1m6 0h1m10 0h2m11 0h1m1 0h1m5 0h1m24 0h1m1 0h1m26 0h1m45 0h1m8 0h1m12 0h1m44 0h3m44 0h1m21 0h1m12 0h1" stroke="#c4b55d"/><path d="M611.2 1921.5h1m348 0h1m266 0h1m49 0h1m32 0h1m1 0h1m13 0h1m28 0h1m56 0h1m4 0h1m5 0h1m25 0h1m5 0h1m10 0h1m5 0h1m59 0h1m13 0h1m80 0h1m5 0h1m5 0h1m8 0h1m40 0h1m33 0h1m15 0h2m6 0h1m13 0h2m27 0h1m32 0h1m24 0h2m4 0h1m21 0h2m31 0h1m22 0h1m12 0h2m6 0h1m15 0h2m18 0h1m20 0h1m15 0h2m22 0h2m7 0h1m21 0h1" stroke="#d4c256"/><path d="M635.2 1921.5h1m22 0h2m566 0h1m49 0h1m83 0h1m29 0h2m16 0h2m19 0h1m48 0h1m39 0h1m31 0h1m15 0h1m25 0h2m6 0h1m15 0h1m61 0h1m48 0h1m73 0h1m37 0h1m153 0h1m6 0h1m3 0h1m2 0h2" stroke="#94906d"/><path d="M636.2 1921.5h1m598 0h1m25 0h1m1 0h1m26 0h1m15 0h1m64 0h1m24 0h1m27 0h1m22 0h2m8 0h2m16 0h1m7 0h1m51 0h1m6 0h1m1 0h1m50 0h1m12 0h1m71 0h1m39 0h2m53 0h2m6 0h1m105 0h3m10 0h1m13 0h2m5 0h1m6 0h1m8 0h1m89 0h1m35 0h2m18 0h1" stroke="#e3ce50"/><path d="M652.2 1921.5h2m17 0h2m266 0h1m109 0h1m180 0h2m15 0h2m8 0h2m214 0h1m32 0h2m31 0h1m69 0h2m2 0h1m197 0h1m86 0h2m147 0h2" stroke="#777770"/><path d="M708.2 1921.5h1m1256 0h1m20 0h2" stroke="#85836f"/><path d="M811.2 1921.5h9" stroke="#fde73b"/><path d="M839.2 1921.5h1m405 0h1m40 0h1m32 0h1m16 0h1m8 0h2m36 0h1m35 0h1m7 0h1m6 0h1m2 0h2m55 0h2m20 0h1m121 0h1m19 0h1m3 0h1m82 0h2m5 0h1m41 0h2m25 0h1m37 0h1m4 0h1m22 0h1m18 0h2m17 0h1m12 0h1m21 0h2m4 0h1m82 0h1m13 0h1m6 0h1" stroke="#b4a864"/><path d="M1262.2 1921.5h1m102 0h1m330 0h2m243 0h2" stroke="#384266"/><path d="M278.2 1945.5h347M629.2 1945.5h46M680.2 1945.5h19M704.2 1945.5h74M783.2 1945.5h15M803.2 1945.5h17M825.2 1945.5h115M945.2 1945.5h34M984.2 1945.5h199M1188.2 1945.5h33M1226.2 1945.5h862" stroke="#595d6c"/><path d="M278.2 1945.5h1m7 0h1m6 0h2m2 0h5m26 0h2m2 0h3m2 0h5m6 0h1m1 0h3m24 0h2m6 0h2m7 0h4m3 0h4m8 0h1m6 0h2m1 0h1m2 0h3m4 0h4m20 0h1m14 0h1m5 0h1m1 0h2m5 0h2m7 0h3m2 0h5m7 0h1m5 0h3m1 0h1m5 0h1m3 0h1m4 0h1m14 0h1m9 0h2m1 0h1m4 0h2m2 0h1m6 0h2m8 0h6m4 0h2m5 0h3m3 0h5m4 0h1m17 0h2m11 0h1m89 0h1m265 0h1m202 0h3m231 0h1" stroke="#2a3668"/><path d="M279.2 1945.5h3m36 0h5m42 0h2m2 0h1m18 0h2m8 0h1m6 0h2m8 0h1m25 0h1m22 0h3m8 0h3m15 0h3m10 0h2m6 0h3m5 0h1m18 0h1m31 0h2m1 0h3m2 0h1m4 0h3m11 0h2m19 0h2m6 0h4m2 0h3m1 0h1m9 0h6m4 0h2m4 0h3m1 0h6m5 0h2m7 0h3m18 0h3m4 0h3m2 0h3m2 0h2m2 0h1m8 0h5m10 0h2m18 0h2m48 0h2m30 0h1m55 0h1m15 0h2m15 0h3m1 0h4m2 0h6m2 0h1m5 0h4m2 0h1m1 0h1m11 0h1m50 0h1m54 0h1m29 0h1m31 0h1m30 0h1m2 0h5m2 0h3m4 0h1m2 0h1m78 0h1m55 0h1m12 0h2m71 0h1m1 0h1m136 0h2m87 0h3m37 0h1m241 0h2m67 0h2" stroke="#384266"/><path d="M282.2 1945.5h3m3 0h5m2 0h2m5 0h1m3 0h2m1 0h3m1 0h5m5 0h2m5 0h2m10 0h1m6 0h1m3 0h2m1 0h9m2 0h2m1 0h5m7 0h1m7 0h1m2 0h1m28 0h1m6 0h1m15 0h3m5 0h1m9 0h1m15 0h1m19 0h2m7 0h3m15 0h2m2 0h3m1 0h2m3 0h2m3 0h3m4 0h2m5 0h5m4 0h4m8 0h2m8 0h2m15 0h2m4 0h3m30 0h4m7 0h2m10 0h1m45 0h1m5 0h2m150 0h1m10 0h1m27 0h2m32 0h1m3 0h1m4 0h2m9 0h5m203 0h2m5 0h1m23 0h2m5 0h2" stroke="#313c67"/><path d="M285.2 1945.5h1m1 0h1m15 0h3m6 0h1m12 0h3m7 0h2m6 0h5m51 0h2m7 0h3m3 0h1m1 0h4m10 0h3m7 0h1m1 0h3m5 0h3m2 0h2m1 0h2m7 0h1m2 0h2m10 0h5m2 0h2m26 0h2m5 0h2m2 0h1m18 0h4m4 0h3m7 0h1m25 0h1m6 0h2m4 0h2m2 0h1m143 0h1" stroke="#233068"/><path d="M308.2 1945.5h1m66 0h2m2 0h2m2 0h2m2 0h1m3 0h2m31 0h2m11 0h3m8 0h2m23 0h2m16 0h2m43 0h1m5 0h1m90 0h2m3 0h1m1 0h2m2 0h1m13 0h1m2 0h4m22 0h2m3 0h1m2 0h3m6 0h1m8 0h1m1 0h2m8 0h2m11 0h2m7 0h5m1 0h2m4 0h2m16 0h1m52 0h1m19 0h1m5 0h1m7 0h1m5 0h1m2 0h1m6 0h1m4 0h4m1 0h2m4 0h2m3 0h1m7 0h2m3 0h2m6 0h2m8 0h5m40 0h1m24 0h4m4 0h1m41 0h1m13 0h1m34 0h1m73 0h2m11 0h1m1 0h2m5 0h2m8 0h2m4 0h1m4 0h3m13 0h1m34 0h2m7 0h1m2 0h1m8 0h1m42 0h1m47 0h1m6 0h1m48 0h2m26 0h1m9 0h2m2 0h1m6 0h1m12 0h1m6 0h2m5 0h3m15 0h2m17 0h2m25 0h3m16 0h3m5 0h2m10 0h2m5 0h1m9 0h1m3 0h1m29 0h1m67 0h1m13 0h1m2 0h1m1 0h1m4 0h1m5 0h2m20 0h2m17 0h2m21 0h1m49 0h1m23 0h2m8 0h2m40 0h1m24 0h1m12 0h1m30 0h4m17 0h1m16 0h1" stroke="#404866"/><path d="M355.2 1945.5h1m51 0h1m3 0h2m47 0h3m5 0h2m41 0h2m24 0h1m5 0h1m10 0h1m30 0h1m37 0h1" stroke="#1c2a68"/><path d="M381.2 1945.5h1m303 0h2m6 0h2m3 0h1m6 0h5m23 0h3m10 0h1m10 0h2m4 0h2m4 0h5m53 0h2m7 0h3m2 0h5m3 0h1m1 0h3m4 0h2m2 0h1m2 0h3m13 0h2m9 0h1m9 0h2m1 0h3m9 0h2m12 0h1m5 0h2m23 0h2m10 0h2m44 0h1m55 0h1m13 0h1m2 0h2m9 0h1m3 0h1m12 0h2m28 0h1m51 0h1m6 0h1m6 0h1m8 0h3m2 0h2m10 0h5m4 0h1m40 0h1m1 0h1m10 0h3m18 0h2m12 0h1m1 0h1m1 0h1m1 0h2m13 0h1m3 0h1m5 0h1m1 0h1m4 0h1m7 0h1m17 0h1m1 0h1m2 0h1m22 0h4m12 0h1m4 0h1m4 0h1m10 0h2m5 0h2m10 0h1m40 0h1m2 0h2m9 0h1m1 0h2m4 0h2m13 0h2m11 0h3m17 0h1m9 0h1m1 0h2m4 0h2m9 0h2m3 0h1m11 0h3m23 0h4m7 0h2m19 0h1m8 0h8m4 0h1m1 0h1m3 0h1m1 0h1m6 0h1m2 0h2m18 0h1m7 0h1m8 0h1m12 0h2m15 0h1m3 0h2m14 0h8m3 0h2m1 0h3m3 0h3m1 0h2m5 0h2m1 0h1m4 0h1m2 0h1m18 0h1m6 0h1m6 0h1m6 0h1m15 0h1m7 0h2m11 0h1m6 0h3m1 0h1m4 0h1m3 0h2m15 0h1m8 0h1m1 0h1m1 0h1m19 0h1m2 0h2m48 0h2m5 0h1m4 0h1m2 0h1" stroke="#494f66"/><path d="M454.2 1945.5h1m165 0h1m227 0h1m22 0h1m185 0h2m8 0h1m2 0h2m30 0h2m2 0h2m7 0h2m7 0h2m10 0h1m7 0h1m2 0h1m1 0h2m15 0h1m14 0h2m50 0h1m5 0h2m14 0h1m8 0h1m32 0h1m40 0h1m47 0h1m15 0h1m8 0h1m10 0h1m20 0h1m14 0h1m34 0h1m28 0h1m2 0h1m22 0h1m10 0h3m44 0h3m17 0h2m22 0h1m38 0h2m16 0h1m24 0h1m14 0h2m8 0h2m98 0h2m49 0h1m18 0h1m15 0h2m18 0h2m53 0h1m57 0h1" stroke="#a39c6b"/><path d="M584.2 1945.5h1m182 0h2m152 0h1m77 0h2m11 0h1m13 0h1m2 0h1m17 0h1m11 0h2m27 0h1m24 0h1m19 0h1m18 0h1m8 0h1m6 0h1m72 0h2m8 0h1m27 0h2m23 0h1m10 0h1m26 0h1m3 0h1m7 0h1m22 0h1m35 0h1m9 0h1m23 0h1m37 0h1m52 0h1m3 0h2m20 0h1m10 0h1m8 0h1m26 0h1m12 0h1m14 0h1m11 0h2m16 0h1m35 0h1m15 0h1m16 0h1m25 0h1m111 0h2m14 0h2m5 0h1m15 0h2m51 0h1m15 0h2m12 0h1m1 0h1m6 0h1m13 0h1m46 0h2m4 0h2" stroke="#d4c256"/><path d="M729.2 1945.5h2m253 0h2m160 0h1" stroke="#85836f"/><path d="M761.2 1945.5h2m50 0h1m65 0h1m24 0h1m84 0h1m16 0h2m6 0h1m8 0h1m10 0h2m12 0h2m6 0h1m6 0h1m19 0h2m12 0h1m29 0h2m43 0h1m57 0h1m61 0h1m37 0h2m41 0h1m9 0h1m1 0h1m23 0h1m9 0h1m8 0h1m10 0h1m11 0h1m5 0h1m22 0h2m18 0h2m47 0h1m4 0h2m27 0h1m15 0h1m54 0h2m25 0h1m14 0h2m28 0h1m3 0h1m22 0h1m41 0h2m26 0h1m44 0h1m5 0h2m7 0h1m17 0h2m64 0h1m13 0h3m5 0h1m15 0h2m13 0h1m17 0h3m18 0h3" stroke="#c4b55d"/><path d="M783.2 1945.5h15m253 0h1m12 0h2m8 0h2m62 0h2m14 0h1m4 0h1" stroke="#fde73b"/><path d="M803.2 1945.5h1m1 0h1m2 0h3m22 0h3m24 0h2m22 0h1m8 0h2m92 0h1m10 0h1m18 0h1m24 0h3m34 0h2m4 0h2m27 0h1m3 0h1m1 0h1m2 0h1m6 0h1m17 0h1m104 0h2m5 0h4m10 0h3m9 0h2m1 0h1m6 0h1m1 0h1m10 0h3m28 0h1m18 0h1m8 0h2m12 0h1m1 0h1m4 0h4m3 0h1m3 0h2m18 0h2m41 0h1m3 0h3m3 0h1m8 0h3m9 0h1m8 0h1m1 0h1m6 0h1m6 0h1m1 0h1m4 0h3m34 0h1m12 0h1m44 0h2m12 0h1m7 0h1m19 0h1m18 0h1m4 0h2m5 0h2m4 0h2m9 0h2m10 0h2m21 0h1m8 0h1m13 0h1m9 0h1m4 0h1m12 0h1m5 0h1m4 0h2m7 0h4m32 0h1m12 0h1m3 0h1m2 0h1m14 0h3m15 0h2m10 0h1m6 0h2m4 0h1m14 0h1m6 0h2m6 0h2m3 0h1m5 0h1m1 0h1m12 0h1m27 0h2m16 0h3m8 0h1m2 0h2m5 0h1m1 0h1" stroke="#696b71"/><path d="M804.2 1945.5h1m50 0h1m138 0h1m24 0h1m19 0h1m5 0h2m6 0h1m23 0h2m10 0h1m9 0h2m4 0h1m4 0h1m6 0h1m11 0h1m7 0h1m18 0h2m20 0h2m22 0h1m35 0h1m28 0h2m4 0h1m9 0h1m10 0h1m10 0h1m43 0h1m95 0h1m6 0h1m137 0h2m40 0h1m5 0h1m27 0h1m32 0h1m39 0h1m27 0h1m4 0h2m11 0h2m12 0h1m63 0h1m16 0h2m2 0h1m12 0h1m40 0h2m51 0h2m1 0h1m22 0h1m13 0h2m8 0h1m4 0h1m10 0h2m18 0h2m6 0h2" stroke="#b4a864"/><path d="M806.2 1945.5h2m3 0h1m2 0h1m2 0h1m173 0h3m24 0h1m11 0h1m51 0h1m28 0h2m18 0h2m7 0h1m1 0h1m2 0h1m89 0h3m33 0h2m78 0h3m1 0h2m3 0h2m110 0h1m36 0h2m5 0h3m73 0h1m8 0h3m27 0h1m77 0h2m63 0h1m14 0h1m92 0h1m11 0h2m33 0h2m1 0h1m40 0h1m16 0h1m17 0h1" stroke="#777770"/><path d="M829.2 1945.5h1m33 0h1m157 0h1m9 0h1m29 0h1m33 0h1m23 0h1m21 0h1m1 0h1m9 0h1m13 0h1m61 0h1m47 0h1m13 0h1m21 0h1m15 0h1m2 0h1m6 0h1m63 0h1m2 0h1m20 0h1m32 0h1m5 0h1m20 0h1m32 0h1m41 0h1m3 0h1m20 0h1m21 0h1m10 0h1m4 0h1m16 0h1m36 0h2m5 0h1m41 0h1m5 0h1m1 0h2m3 0h1m48 0h1m31 0h1m24 0h3m60 0h2m30 0h1m4 0h2m47 0h1m17 0h1m21 0h1m5 0h1m8 0h1m3 0h1m7 0h1m1 0h1m4 0h2m10 0h1" stroke="#e3ce50"/><path d="M846.2 1945.5h2m138 0h1m1 0h1m19 0h1m13 0h1m1 0h1m2 0h1m4 0h2m3 0h1m16 0h2m31 0h1m3 0h2m16 0h1m50 0h1m1 0h2m252 0h1m33 0h1m39 0h1m5 0h1m48 0h1m42 0h2m54 0h1m32 0h2m43 0h1m33 0h1m4 0h1m36 0h1m66 0h1m79 0h1m91 0h1" stroke="#f0da46"/><path d="M889.2 1945.5h1m191 0h1m200 0h1m67 0h1m29 0h1m31 0h1m18 0h1m42 0h1m13 0h1m19 0h1m14 0h1m5 0h1m63 0h1m34 0h1m16 0h1m22 0h1m1 0h2m70 0h1m7 0h2m10 0h1m15 0h1m88 0h1m3 0h1m6 0h1m6 0h1m35 0h3m9 0h1m17 0h1m91 0h1m36 0h2" stroke="#94906d"/><path d="M278.2 1969.5h347M629.2 1969.5h46M680.2 1969.5h19M704.2 1969.5h74M783.2 1969.5h15M803.2 1969.5h17M825.2 1969.5h115M945.2 1969.5h34M984.2 1969.5h199M1188.2 1969.5h33M1226.2 1969.5h862" stroke="#696b71"/><path d="M283.2 1969.5h1m37 0h3m4 0h2m4 0h1m5 0h2m10 0h2m11 0h2m7 0h1m4 0h3m32 0h1m6 0h1m13 0h3m3 0h1m16 0h1m14 0h2m9 0h1m10 0h1m33 0h2m18 0h1m8 0h1m32 0h2m1 0h3m2 0h1m21 0h1m186 0h3m7 0h2m17 0h1m392 0h3m6 0h4m3 0h1m5 0h2m7 0h3m3 0h7m4 0h1m13 0h1m20 0h2m4 0h6m6 0h1m1 0h1m2 0h3m1 0h1m7 0h1m4 0h1m4 0h1m4 0h2m4 0h1m1 0h1m5 0h4m6 0h2m9 0h5m5 0h5m1 0h2m6 0h1m4 0h2m7 0h1m3 0h1m3 0h1m5 0h1m12 0h8m7 0h4m2 0h2m5 0h5m11 0h2m4 0h2m6 0h2m1 0h1m1 0h3m7 0h1m3 0h3m5 0h1m4 0h2m12 0h1m13 0h3m15 0h1m3 0h3m3 0h1m1 0h2m6 0h1m3 0h1m34 0h1m2 0h1m4 0h2m4 0h1m1 0h2m2 0h2m1 0h1m1 0h1m15 0h1m1 0h2m10 0h1m1 0h1m4 0h4m4 0h1m2 0h1m4 0h1m2 0h2m1 0h3m2 0h4m9 0h3m7 0h5m17 0h1m4 0h1m7 0h2m4 0h1m2 0h2m10 0h4m3 0h2m2 0h2m25 0h1m1 0h1m9 0h5m3 0h2m1 0h2m5 0h2m10 0h1m7 0h2m13 0h2m3 0h1m7 0h2m2 0h1m2 0h1m8 0h2m8 0h1m1 0h1m4 0h3m5 0h2m2 0h1m6 0h1m14 0h1m8 0h1m7 0h2m8 0h3m1 0h2m2 0h1m1 0h1m13 0h2m8 0h3m3 0h2m5 0h2" stroke="#777770"/><path d="M287.2 1969.5h2m6 0h2m2 0h3m5 0h1m3 0h5m2 0h3m5 0h2m14 0h3m2 0h2m12 0h2m26 0h3m8 0h3m10 0h1m19 0h2m3 0h1m8 0h3m1 0h5m4 0h3m1 0h1m14 0h3m4 0h1m2 0h1m3 0h1m2 0h3m2 0h2m3 0h2m25 0h1m2 0h1m1 0h1m45 0h2m4 0h1m2 0h1m10 0h2m2 0h3m3 0h4m4 0h3m178 0h3m8 0h2m41 0h1m377 0h1m29 0h1m9 0h3m31 0h4m19 0h1m26 0h2m4 0h1m1 0h1m35 0h2m11 0h2m3 0h1m4 0h1m14 0h1m10 0h2m6 0h3m9 0h1m2 0h3m11 0h1m33 0h1m8 0h1m13 0h2m7 0h2m36 0h1m44 0h1m7 0h2m3 0h1m30 0h1m9 0h3m22 0h1m14 0h2m17 0h1m11 0h3m9 0h2m1 0h3m21 0h2m15 0h3m2 0h2m20 0h1m14 0h2m2 0h1m9 0h1m13 0h1m18 0h1m12 0h1m4 0h2m19 0h2m30 0h1m26 0h2m2 0h1m2 0h1m14 0h1m28 0h2m3 0h2m3 0h1m10 0h1m1 0h1" stroke="#595d6c"/><path d="M330.2 1969.5h1m659 0h1m7 0h7m2 0h7m1 0h1m3 0h1m5 0h1m2 0h3m3 0h6m1 0h2m1 0h2m5 0h4m3 0h1m3 0h2m1 0h1m1 0h1m4 0h2m2 0h1m1 0h2m5 0h2m9 0h1m3 0h2m7 0h2m10 0h1m1 0h2m13 0h1m1 0h2m1 0h3m1 0h3m3 0h2m3 0h2m1 0h2m2 0h2m2 0h1m4 0h2m5 0h2m7 0h1m1 0h2m1 0h4m1 0h5m1 0h1m1 0h4m1 0h2m45 0h1m28 0h1m14 0h1m3 0h1m6 0h1m29 0h1m9 0h1m19 0h1m21 0h1m37 0h1m6 0h1m40 0h1m15 0h1m19 0h2m54 0h1m55 0h1m3 0h3m19 0h1m1 0h2m12 0h1m3 0h1m2 0h1m3 0h1m3 0h1m11 0h1m8 0h2m3 0h1m1 0h1m28 0h2m104 0h1m22 0h1m22 0h3m5 0h1m10 0h1m1 0h2m4 0h1m3 0h1m6 0h2m48 0h1m10 0h1m3 0h3m26 0h1m15 0h1m8 0h2" stroke="#a39c6b"/><path d="M382.2 1969.5h2m428 0h1m3 0h2m26 0h3m11 0h3m13 0h2m29 0h2m1 0h3m6 0h1m5 0h2m363 0h1m7 0h1m32 0h1m20 0h2m9 0h2m18 0h1m52 0h1m22 0h3m38 0h1m12 0h1m61 0h1m95 0h1m120 0h2m3 0h1m40 0h1m3 0h3m4 0h1m61 0h1m121 0h2" stroke="#494f66"/><path d="M522.2 1969.5h1m373 0h1m87 0h1m9 0h1m19 0h1m5 0h1m6 0h1m19 0h1m39 0h4m3 0h2m29 0h2m2 0h2m25 0h2m20 0h1m48 0h2m18 0h1m3 0h1m7 0h1m14 0h1m4 0h1m4 0h1m1 0h1m3 0h2m5 0h5m14 0h3m7 0h1m1 0h1m10 0h1m2 0h1m13 0h1m15 0h3m7 0h2m5 0h2m3 0h1m10 0h1m1 0h1m21 0h2m2 0h1m4 0h2m3 0h1m3 0h2m2 0h1m3 0h1m26 0h1m3 0h2m8 0h1m7 0h2m6 0h1m12 0h1m5 0h1m19 0h2m8 0h2m31 0h2m10 0h1m6 0h1m6 0h1m13 0h1m7 0h4m6 0h3m10 0h1m2 0h1m20 0h1m1 0h1m5 0h1m8 0h1m22 0h2m3 0h2m45 0h2m2 0h5m3 0h2m1 0h1m2 0h3m5 0h2m4 0h1m4 0h1m29 0h1m3 0h4m2 0h3m6 0h2m54 0h1m17 0h1m14 0h1m12 0h1m3 0h2m14 0h1m14 0h1m6 0h2m6 0h4m10 0h3m3 0h1m8 0h2m16 0h1m1 0h1m4 0h2m10 0h3" stroke="#85836f"/><path d="M560.2 1969.5h2m425 0h3m28 0h1m2 0h1m11 0h1m21 0h1m13 0h2m40 0h1m6 0h1m8 0h2m6 0h2m30 0h2m1 0h4m14 0h1m23 0h1m13 0h1m6 0h2m45 0h2m23 0h1m46 0h1m33 0h1m5 0h1m44 0h1m120 0h1m10 0h1m30 0h1m20 0h2m47 0h1m19 0h1m20 0h2m43 0h1m10 0h1m67 0h1m20 0h1m50 0h1m42 0h1m1 0h3m59 0h2m34 0h3" stroke="#b4a864"/><path d="M629.2 1969.5h2m4 0h3m3 0h1m1 0h3m1 0h5m11 0h2m3 0h2m20 0h1m3 0h5m5 0h2m13 0h1m9 0h1m2 0h2m1 0h2m5 0h2m33 0h1m52 0h1m2 0h1m21 0h2m4 0h1m15 0h1m24 0h1m1 0h1m10 0h1m2 0h3m12 0h3m9 0h3m3 0h1m8 0h1m6 0h1m8 0h3" stroke="#313c67"/><path d="M631.2 1969.5h4m7 0h1m9 0h2m3 0h4m4 0h3m2 0h1m20 0h3m14 0h4m1 0h1m6 0h2m5 0h2m11 0h2m7 0h5m3 0h3m2 0h1m1 0h3m4 0h6m72 0h3m20 0h2m42 0h1m31 0h3m1 0h8m2 0h1m7 0h3m1 0h2" stroke="#2a3668"/><path d="M638.2 1969.5h1m75 0h3m27 0h2m17 0h1m3 0h4m190 0h1" stroke="#233068"/><path d="M639.2 1969.5h2m30 0h2m13 0h3m23 0h1m9 0h3m9 0h1m20 0h2m74 0h2m7 0h2m5 0h2m3 0h3m8 0h2m6 0h1m7 0h1m1 0h2m2 0h3m4 0h2m3 0h2m1 0h2m9 0h2m19 0h1m3 0h2m507 0h2m167 0h1m228 0h1m181 0h1" stroke="#404866"/><path d="M646.2 1969.5h1m7 0h3m4 0h2m10 0h2m5 0h6m3 0h1m16 0h2m9 0h2m6 0h2m3 0h2m5 0h3m6 0h3m5 0h1m5 0h2m63 0h5m4 0h3m1 0h2m2 0h2m18 0h1m2 0h6m5 0h1m1 0h1m1 0h1m2 0h2m3 0h4m2 0h2m3 0h1m3 0h1m3 0h1m5 0h2m6 0h2m2 0h7m6 0h2m23 0h4m1 0h2m3 0h1" stroke="#384266"/><path d="M783.2 1969.5h15" stroke="#1c2a68"/><path d="M985.2 1969.5h2m5 0h2m2 0h2m18 0h2m4 0h1m1 0h1m1 0h1m4 0h2m15 0h3m5 0h2m3 0h1m6 0h1m2 0h1m3 0h1m1 0h1m4 0h3m6 0h3m3 0h1m6 0h1m1 0h2m4 0h4m3 0h2m10 0h4m2 0h1m1 0h1m2 0h1m3 0h1m3 0h3m2 0h1m4 0h1m3 0h1m11 0h2m1 0h2m8 0h1m17 0h1m9 0h1m30 0h3m15 0h1m18 0h1m1 0h1m18 0h1m23 0h1m3 0h2m18 0h1m116 0h1m29 0h3m2 0h1m10 0h2m15 0h2m3 0h1m25 0h1m2 0h1m9 0h2m9 0h3m15 0h2m18 0h2m108 0h1m14 0h2m5 0h1m8 0h1m8 0h1m20 0h1m13 0h1m10 0h1m15 0h1m29 0h1m34 0h1m5 0h1m9 0h1m10 0h2m11 0h2m5 0h1m3 0h1m9 0h3m3 0h1m6 0h1m18 0h3m23 0h2" stroke="#94906d"/><path d="M991.2 1969.5h1m31 0h1m16 0h1m2 0h1m36 0h2m17 0h1m2 0h2m1 0h1m93 0h1m5 0h1" stroke="#e3ce50"/><path d="M995.2 1969.5h1m50 0h1m19 0h1m7 0h1m41 0h2m4 0h1m40 0h1m27 0h1m23 0h2m1 0h2m74 0h2m47 0h2m1 0h2m20 0h1m1 0h1m35 0h1m13 0h1m28 0h1m24 0h1m13 0h1m88 0h1m23 0h2m21 0h1m5 0h1m45 0h1m8 0h1m21 0h2m9 0h2m37 0h1m11 0h1m52 0h1m40 0h1m32 0h1m36 0h1m27 0h3m17 0h2m5 0h1m1 0h1m14 0h1m53 0h1m5 0h1" stroke="#c4b55d"/><path d="M1005.2 1969.5h2m52 0h2m3 0h1m33 0h1m9 0h1m85 0h1m25 0h1m428 0h2m53 0h1m104 0h2m38 0h2m19 0h2m123 0h1m21 0h1m57 0h1" stroke="#d4c256"/><path d="M278.2 1993.5h347M629.2 1993.5h46M680.2 1993.5h19M704.2 1993.5h74M783.2 1993.5h15M803.2 1993.5h17M825.2 1993.5h115M945.2 1993.5h34M984.2 1993.5h199M1188.2 1993.5h33M1226.2 1993.5h862" stroke="#595d6c"/><path d="M278.2 1993.5h1m3 0h2m32 0h1m2 0h1m8 0h2m2 0h1m2 0h3m8 0h4m15 0h1m12 0h2m18 0h1m7 0h2m8 0h4m11 0h1m1 0h5m10 0h2m16 0h2m15 0h3m4 0h3m18 0h1m4 0h2m42 0h5m5 0h1m12 0h2m20 0h2m6 0h2m14 0h1m2 0h1m15 0h3m4 0h4m12 0h1m20 0h1m16 0h1m26 0h2m1 0h1m8 0h2m14 0h5m6 0h1m39 0h2m82 0h1m84 0h7m4 0h2m1 0h3m2 0h3m2 0h5m3 0h1m1 0h3m3 0h1m4 0h3m2 0h8m1 0h3m3 0h6m5 0h2m2 0h2m3 0h2m2 0h5m2 0h6m1 0h11m3 0h2m6 0h2m4 0h2m2 0h2m2 0h2m1 0h1m3 0h1m2 0h2m3 0h2m3 0h7m13 0h9m16 0h10m2 0h4m2 0h2m6 0h1m3 0h2m10 0h2m2 0h1m20 0h2m18 0h2m4 0h1m2 0h1m7 0h2m48 0h1m9 0h2m2 0h2m5 0h1m2 0h2m8 0h1m11 0h3m8 0h1m4 0h3m1 0h1m7 0h1m8 0h1m4 0h3m24 0h3m2 0h1m15 0h3m13 0h1m10 0h2m3 0h1m7 0h3m16 0h2m12 0h2m4 0h1m15 0h1m16 0h2m3 0h3m9 0h2m2 0h3m14 0h1m8 0h6m17 0h3m6 0h2m10 0h2m15 0h1m4 0h1m6 0h1m43 0h1m2 0h3m7 0h3m1 0h4m8 0h3m4 0h2m3 0h7m3 0h3m3 0h2m17 0h2m3 0h4m17 0h1m20 0h1m58 0h3m4 0h3m1 0h2m9 0h1m10 0h3m3 0h4m2 0h1m6 0h2m5 0h1m20 0h2m20 0h2m6 0h1m5 0h1m4 0h1m21 0h3m5 0h1" stroke="#494f66"/><path d="M279.2 1993.5h3m10 0h3m1 0h2m54 0h2m14 0h2m25 0h2m2 0h1m10 0h6m16 0h1m12 0h3m16 0h2m16 0h1m23 0h1m25 0h3m2 0h3m8 0h2m2 0h1m5 0h1m6 0h1m15 0h1m27 0h1m8 0h1m14 0h1m7 0h2m19 0h1m1 0h3m14 0h1m4 0h2m2 0h2m1 0h3m1 0h2m5 0h3m5 0h2m3 0h3m3 0h2m28 0h2m6 0h3m7 0h3m3 0h1m7 0h2m7 0h2m7 0h4m3 0h1m3 0h1m2 0h3m14 0h1m5 0h1m8 0h3m5 0h1m6 0h2m2 0h1m3 0h1m24 0h1m15 0h1m1 0h1m6 0h1m6 0h1m16 0h1m22 0h1m4 0h1m136 0h4m57 0h2m64 0h1m1 0h2m5 0h2m4 0h1m3 0h4m2 0h5m12 0h1m4 0h1m4 0h2m2 0h3m1 0h7m3 0h2m3 0h1m5 0h2m1 0h3m1 0h1m3 0h1m15 0h1m4 0h1m2 0h2m2 0h1m2 0h1m2 0h2m4 0h2m6 0h4m11 0h1m13 0h1m1 0h2m1 0h3m11 0h1m25 0h5m3 0h2m4 0h7m9 0h3m3 0h2m13 0h2m2 0h2m13 0h1m4 0h1m5 0h4m2 0h3m3 0h1m2 0h2m3 0h2m4 0h5m1 0h3m11 0h3m2 0h2m7 0h2m5 0h1m13 0h2m3 0h2m4 0h3m1 0h2m12 0h2m4 0h2m4 0h3m1 0h1m6 0h1m8 0h1m1 0h1m5 0h3m9 0h2m4 0h2m4 0h3m11 0h2m2 0h2m1 0h2m4 0h3m23 0h1m1 0h1m2 0h2m8 0h4m34 0h2m1 0h2m7 0h3m4 0h1m11 0h4m5 0h2m2 0h1m10 0h1m5 0h3m1 0h5m11 0h1m1 0h4m10 0h2m3 0h3m3 0h3m2 0h2m2 0h3m17 0h2m3 0h3m1 0h3m28 0h2m1 0h2m1 0h2m6 0h3m1 0h1m12 0h1m4 0h5m4 0h3m2 0h4m3 0h3m3 0h1m4 0h1m11 0h8" stroke="#696b71"/><path d="M358.2 1993.5h2m283 0h1m182 0h1m4 0h1m4 0h2m10 0h1m12 0h1m17 0h1m9 0h1m8 0h1m4 0h1m5 0h1m39 0h1m8 0h2m11 0h2" stroke="#85836f"/><path d="M443.2 1993.5h1m383 0h1m25 0h1m31 0h1m7 0h2m26 0h1m4 0h1m23 0h1m12 0h2m765 0h1" stroke="#b4a864"/><path d="M667.2 1993.5h2m56 0h1m107 0h1m4 0h2m2 0h1m4 0h1m15 0h1m5 0h1m3 0h1m2 0h1m1 0h1m11 0h3m9 0h1m4 0h1m11 0h1m4 0h1m27 0h3m2 0h1m15 0h1m1 0h2m366 0h1m5 0h2m51 0h1m35 0h1m58 0h2m17 0h2m40 0h1m39 0h2m9 0h2m100 0h1m39 0h1m29 0h2m25 0h3m32 0h1m85 0h1m55 0h1m24 0h3" stroke="#777770"/><path d="M715.2 1993.5h1m53 0h1m110 0h1m1 0h1m4 0h2m15 0h1m1 0h1m3 0h2m18 0h2m4 0h2m1 0h1m195 0h2m108 0h2m831 0h1" stroke="#94906d"/><path d="M825.2 1993.5h1m2 0h3m4 0h1m22 0h2m2 0h1m3 0h2m16 0h1m1 0h1m9 0h1m8 0h1m2 0h1m5 0h1m5 0h1m7 0h1m6 0h1m15 0h1m3 0h2m4 0h1m4 0h2" stroke="#fde73b"/><path d="M832.2 1993.5h1m21 0h1m16 0h1m2 0h1m26 0h1m14 0h1m17 0h1m3 0h1m38 0h2m694 0h2m356 0h1" stroke="#e3ce50"/><path d="M841.2 1993.5h1m4 0h1m8 0h2m43 0h1m11 0h1m4 0h2m4 0h1m8 0h1m12 0h1m1 0h1m281 0h1m457 0h1" stroke="#f0da46"/><path d="M843.2 1993.5h1m31 0h1m1 0h1m5 0h1m11 0h1m37 0h1m31 0h1m543 0h1" stroke="#d4c256"/><path d="M844.2 1993.5h2m6 0h1m7 0h1m9 0h1m10 0h1m43 0h1m42 0h1m79 0h1m846 0h1m111 0h1" stroke="#c4b55d"/><path d="M1001.2 1993.5h2m39 0h1m23 0h3m2 0h2m13 0h1m30 0h2m2 0h2m8 0h2m17 0h2m1 0h1m6 0h1m15 0h7m28 0h3m517 0h2m253 0h2" stroke="#404866"/><path d="M1127.2 1993.5h2" stroke="#384266"/><path d="M1804.2 1993.5h1" stroke="#a39c6b"/><path d="M278.2 2017.5h347M629.2 2017.5h46M680.2 2017.5h19M704.2 2017.5h74M783.2 2017.5h15M803.2 2017.5h17M825.2 2017.5h115M945.2 2017.5h34M984.2 2017.5h199M1188.2 2017.5h33M1226.2 2017.5h862" stroke="#696b71"/><path d="M280.2 2017.5h3m5 0h2m4 0h2m2 0h2m4 0h1m2 0h2m22 0h3m12 0h2m19 0h1m3 0h1m13 0h1m3 0h1m16 0h2m7 0h2m3 0h3m1 0h1m15 0h1m12 0h2m3 0h2m6 0h1m20 0h1m8 0h3m11 0h2m5 0h2m2 0h5m17 0h3m5 0h7m7 0h3m11 0h1m3 0h2m5 0h2m4 0h2m7 0h2m13 0h1m16 0h2m1 0h2m11 0h1m9 0h1m7 0h3m12 0h3m21 0h2m26 0h7m1 0h1m16 0h2m1 0h3m8 0h1m5 0h1m13 0h1m28 0h1m1 0h1m11 0h5m1 0h2m7 0h1m11 0h1m1 0h1m9 0h3m18 0h2m9 0h1m10 0h1m26 0h3m1 0h1m16 0h1m7 0h1m6 0h1m1 0h5m3 0h2m2 0h1m4 0h1m5 0h3m3 0h2m2 0h2m2 0h2m2 0h1m4 0h1m1 0h1m2 0h4m1 0h2m1 0h1m5 0h2m19 0h4m1 0h1m11 0h2m2 0h2m5 0h3m1 0h1m4 0h1m2 0h5m4 0h4m4 0h9m1 0h3m18 0h2m2 0h1m3 0h2m2 0h1m6 0h3m5 0h1m8 0h3m3 0h3m11 0h1m8 0h1m4 0h1m3 0h3m3 0h5m6 0h2m13 0h3m6 0h3m4 0h2m1 0h3m7 0h2m6 0h2m1 0h6m3 0h1m2 0h3m5 0h3m2 0h1m2 0h2m7 0h6m11 0h1m3 0h3m9 0h5m2 0h7m2 0h1m7 0h1m6 0h2m3 0h4m10 0h4m9 0h1m1 0h3m8 0h1m13 0h3m1 0h2m2 0h4m3 0h1m2 0h6m4 0h2m3 0h3m6 0h6m4 0h8m3 0h1m2 0h1m3 0h3m6 0h5m6 0h3m3 0h3m2 0h8m4 0h2m2 0h5m1 0h4m3 0h1m3 0h1m1 0h2m2 0h4m3 0h2m3 0h2m4 0h2m2 0h2m2 0h5m5 0h1m1 0h2m1 0h1m12 0h6m13 0h2m5 0h1m2 0h6m6 0h2m3 0h2m3 0h1m2 0h4m2 0h7m7 0h3m3 0h2m3 0h2m8 0h1m4 0h1m3 0h3m4 0h3m4 0h3m4 0h2m2 0h4m2 0h4m2 0h3m6 0h8m5 0h2m3 0h1m5 0h2m14 0h4m9 0h6m5 0h1m7 0h2m1 0h1m5 0h2m2 0h12m2 0h2m4 0h2m4 0h2m1 0h3m2 0h7m3 0h2m3 0h1m2 0h1m2 0h3m6 0h1m11 0h1m1 0h2m4 0h3m6 0h2m2 0h8m3 0h1m1 0h3m8 0h2m6 0h2m12 0h3m5 0h2m3 0h2m1 0h4m6 0h4m3 0h1m5 0h8" stroke="#595d6c"/><path d="M455.2 2017.5h1m15 0h2m108 0h1m50 0h1m34 0h2m50 0h1m40 0h2m12 0h3m52 0h2m1 0h1m5 0h2m5 0h1m5 0h1m1 0h2m30 0h3m16 0h2m25 0h1m1 0h2m1 0h2m27 0h1m10 0h1m142 0h3m116 0h3m38 0h2m9 0h3m5 0h2m33 0h1m19 0h1m5 0h2m7 0h3m26 0h1m147 0h1m6 0h2m100 0h2m11 0h1m28 0h1m16 0h2m34 0h2m129 0h1m4 0h1m56 0h2m43 0h1" stroke="#777770"/><path d="M562.2 2017.5h1m173 0h1m96 0h2m1 0h2m14 0h1m4 0h1m33 0h1m6 0h2m32 0h1m2 0h1m38 0h1m82 0h1m388 0h1" stroke="#b4a864"/><path d="M706.2 2017.5h1m141 0h2m8 0h1m9 0h1m25 0h1m50 0h1m20 0h1m151 0h1m70 0h1m558 0h1m301 0h2" stroke="#c4b55d"/><path d="M757.2 2017.5h1m73 0h1m665 0h1m107 0h2m61 0h2m163 0h2" stroke="#85836f"/><path d="M772.2 2017.5h2m142 0h1m38 0h1m210 0h3m5 0h3m19 0h1m137 0h1m115 0h3m1 0h1m121 0h2m63 0h2m91 0h1m106 0h2m65 0h2m75 0h1m43 0h1m8 0h1" stroke="#494f66"/><path d="M825.2 2017.5h1m36 0h2m50 0h2m7 0h2" stroke="#e3ce50"/><path d="M835.2 2017.5h1m20 0h1m15 0h1m29 0h2m13 0h1m1 0h1m38 0h2m3 0h2m8 0h1m103 0h1m284 0h1m497 0h2m8 0h2" stroke="#d4c256"/><path d="M882.2 2017.5h2m26 0h1m43 0h1m471 0h1m259 0h1" stroke="#a39c6b"/><path d="M907.2 2017.5h1m31 0h1m12 0h1m173 0h2m819 0h1" stroke="#94906d"/><path d="M921.2 2017.5h1m3 0h2m29 0h2m195 0h1" stroke="#f0da46"/><path d="M278.2 2041.5h347M629.2 2041.5h46M680.2 2041.5h19M704.2 2041.5h74M783.2 2041.5h15M803.2 2041.5h17M825.2 2041.5h115M945.2 2041.5h34M984.2 2041.5h199M1188.2 2041.5h33M1226.2 2041.5h862" stroke="#494f66"/><path d="M278.2 2041.5h1m18 0h1m19 0h2m66 0h1m8 0h3m3 0h2m2 0h1m2 0h2m72 0h1m12 0h5m15 0h1m62 0h2m4 0h3m3 0h1m2 0h3m25 0h1m21 0h1m9 0h1m51 0h2m3 0h2m5 0h1m1 0h2m10 0h1m4 0h2m2 0h2m5 0h1m10 0h2m15 0h1m12 0h2m4 0h2m8 0h2m4 0h1m1 0h3m1 0h5m9 0h2m2 0h4m8 0h2m7 0h1m1 0h2m1 0h1m2 0h3m44 0h5m2 0h1m1 0h3m4 0h1m3 0h5m60 0h4m16 0h4m2 0h2m32 0h1m22 0h2m6 0h2m39 0h2m11 0h1m30 0h3m15 0h2m19 0h2m9 0h1m15 0h1m23 0h2m57 0h3m5 0h2m8 0h3m8 0h2m22 0h2m7 0h1m1 0h1m2 0h3m1 0h2m21 0h1m31 0h2m41 0h1m37 0h3m2 0h3m10 0h2m46 0h2m16 0h3m14 0h3m51 0h3m16 0h2m3 0h3m9 0h1m17 0h2m12 0h3m3 0h2m5 0h3m18 0h4m8 0h1m8 0h3m27 0h3m14 0h1m27 0h3m8 0h2m9 0h1m15 0h1m9 0h2m1 0h3m9 0h3m5 0h2m4 0h1m9 0h3m35 0h1m14 0h2m2 0h4m20 0h3m14 0h1m1 0h3" stroke="#696b71"/><path d="M282.2 2041.5h4m6 0h3m4 0h2m2 0h1m4 0h2m4 0h3m20 0h1m16 0h1m2 0h1m5 0h1m3 0h3m13 0h1m6 0h3m12 0h2m4 0h1m2 0h2m2 0h4m10 0h1m6 0h3m10 0h2m9 0h1m13 0h2m4 0h2m17 0h2m3 0h1m11 0h4m1 0h3m2 0h1m3 0h2m3 0h3m11 0h1m1 0h1m6 0h2m1 0h1m2 0h1m2 0h2m2 0h3m2 0h1m10 0h2m15 0h3m19 0h2m1 0h4m3 0h3m1 0h1m5 0h1m1 0h1m2 0h3m3 0h2m12 0h1m8 0h1m5 0h3m6 0h1m15 0h2m11 0h3m3 0h2m2 0h2m2 0h1m1 0h3m1 0h4m2 0h3m8 0h2m2 0h3m1 0h1m2 0h2m6 0h4m2 0h4m4 0h1m7 0h1m4 0h1m14 0h4m2 0h1m6 0h5m1 0h1m5 0h2m17 0h1m1 0h3m1 0h3m1 0h2m1 0h1m4 0h2m1 0h1m3 0h3m2 0h3m1 0h3m15 0h3m2 0h3m5 0h2m48 0h1m13 0h1m26 0h3m4 0h2m9 0h3m7 0h1m7 0h3m3 0h3m2 0h3m4 0h3m5 0h2m3 0h1m2 0h1m12 0h2m6 0h6m8 0h2m18 0h1m2 0h3m7 0h1m10 0h3m1 0h2m12 0h2m32 0h5m6 0h3m1 0h2m8 0h4m9 0h3m2 0h4m1 0h2m2 0h2m6 0h2m5 0h1m13 0h2m2 0h1m2 0h3m5 0h3m1 0h1m2 0h4m18 0h1m3 0h6m1 0h1m4 0h1m2 0h2m6 0h3m1 0h1m1 0h2m7 0h5m3 0h6m2 0h4m7 0h2m4 0h2m3 0h2m8 0h4m8 0h2m6 0h1m2 0h12m2 0h2m9 0h3m2 0h8m1 0h3m2 0h2m8 0h4m7 0h1m9 0h3m4 0h4m1 0h1m3 0h3m5 0h3m7 0h1m1 0h2m8 0h2m2 0h2m5 0h1m12 0h1m3 0h1m4 0h2m3 0h1m6 0h3m2 0h2m1 0h1m2 0h8m2 0h2m4 0h2m2 0h1m13 0h1m3 0h1m6 0h2m1 0h1m1 0h1m3 0h3m5 0h2m22 0h1m1 0h1m9 0h1m1 0h2m2 0h2m5 0h1m8 0h1m8 0h8m10 0h5m4 0h5m1 0h1m3 0h2m2 0h2m2 0h6m6 0h2m3 0h2m3 0h3m4 0h7m1 0h2m1 0h7m2 0h2m2 0h6m4 0h1m3 0h7m3 0h1m10 0h3m1 0h2m9 0h3m1 0h2m23 0h3m4 0h2m1 0h2m10 0h4m3 0h3m2 0h1m7 0h2m2 0h2m6 0h1m5 0h3m3 0h3m14 0h2m1 0h1m6 0h6m4 0h1m4 0h2m5 0h2m8 0h2m1 0h4m4 0h4" stroke="#595d6c"/><path d="M296.2 2041.5h1m22 0h2m2 0h3m4 0h1m7 0h2m9 0h5m6 0h1m3 0h3m14 0h2m26 0h2m1 0h2m2 0h2m4 0h2m5 0h3m1 0h2m2 0h2m6 0h2m7 0h1m9 0h2m19 0h3m16 0h2m6 0h2m3 0h1m27 0h3m7 0h2m6 0h1m1 0h2m29 0h3m11 0h1m4 0h1m41 0h2m6 0h2m6 0h1m14 0h1m22 0h2m19 0h1m252 0h7m1 0h1m9 0h1m34 0h1m9 0h1m6 0h1m9 0h2m16 0h1m5 0h3m5 0h2m4 0h2m31 0h3m27 0h1m6 0h1m6 0h3m7 0h2m11 0h2m1 0h3m46 0h5m7 0h2m13 0h1m5 0h3m3 0h3m12 0h2m23 0h1m39 0h2m13 0h1m34 0h1m3 0h2m4 0h3m10 0h3m12 0h2m21 0h3m24 0h1m1 0h2m6 0h2m26 0h1m1 0h3m5 0h3m6 0h2m30 0h2m17 0h3m1 0h3m45 0h3m45 0h2m32 0h1m10 0h3m167 0h5m42 0h3m6 0h1m13 0h2m9 0h3m38 0h5m12 0h1" stroke="#404866"/><path d="M306.2 2041.5h2m118 0h1m82 0h3m6 0h1m34 0h1m33 0h1m79 0h3m15 0h1m424 0h1m311 0h1m171 0h2m213 0h1m30 0h3m68 0h1" stroke="#384266"/><path d="M329.2 2041.5h1m436 0h1m76 0h1m8 0h2m152 0h1m51 0h1m12 0h1m487 0h1m27 0h1m49 0h1m325 0h1m24 0h1m50 0h1" stroke="#c4b55d"/><path d="M334.2 2041.5h2m37 0h1m87 0h2m43 0h1m363 0h1m14 0h2m162 0h1m1 0h2m40 0h1m38 0h1m31 0h2m233 0h2m22 0h1m32 0h1m120 0h1m5 0h1" stroke="#d4c256"/><path d="M457.2 2041.5h1m65 0h1m89 0h2m98 0h1m141 0h1m27 0h1m40 0h1m157 0h1m32 0h1m41 0h1m115 0h1m159 0h1m5 0h2m150 0h1m22 0h1m125 0h1m310 0h2m12 0h1" stroke="#b4a864"/><path d="M602.2 2041.5h1m114 0h1m171 0h1m27 0h1m47 0h8m183 0h1m120 0h1m69 0h1m50 0h1m52 0h2m71 0h2m62 0h1m19 0h1m119 0h1m15 0h1m129 0h1m112 0h1" stroke="#f0da46"/><path d="M648.2 2041.5h1m114 0h1m9 0h1m63 0h1m20 0h1m15 0h1m3 0h1m2 0h1m33 0h1m20 0h1m127 0h1m86 0h2m123 0h1m305 0h1m127 0h1m143 0h1m137 0h1" stroke="#e3ce50"/><path d="M742.2 2041.5h1" stroke="#94906d"/><path d="M756.2 2041.5h1m14 0h1m121 0h1m3 0h2m3 0h1m4 0h2m309 0h1m134 0h1m14 0h2m37 0h2m225 0h1m189 0h1m1 0h1m75 0h1m26 0h1m70 0h1" stroke="#a39c6b"/><path d="M806.2 2041.5h3m5 0h1m17 0h1m27 0h2m177 0h2m70 0h2m55 0h2m113 0h3m39 0h1m40 0h1m309 0h3m117 0h1m5 0h1m64 0h1" stroke="#777770"/><path d="M906.2 2041.5h1m38 0h20m8 0h6m71 0h1m455 0h1m183 0h1m119 0h1m32 0h1m225 0h1" stroke="#fde73b"/><path d="M278.2 2065.6h347M629.2 2065.6h46M680.2 2065.6h19M704.2 2065.6h74M783.2 2065.6h15M803.2 2065.6h17M825.2 2065.6h115M945.2 2065.6h34M984.2 2065.6h199M1188.2 2065.6h33M1226.2 2065.6h862" stroke="#696b71"/><path d="M282.2 2065.6h2m10 0h3m15 0h3m20 0h3m13 0h2m9 0h1m1 0h1m2 0h4m4 0h1m19 0h3m4 0h2m10 0h2m1 0h3m12 0h2m1 0h1m1 0h1m5 0h2m3 0h6m9 0h2m10 0h1m4 0h1m3 0h5m2 0h1m2 0h2m3 0h2m1 0h1m15 0h2m11 0h2m9 0h1m9 0h1m2 0h1m1 0h1m8 0h5m10 0h1m8 0h2m8 0h2m2 0h3m12 0h2m2 0h2m4 0h3m15 0h2m1 0h1m5 0h1m24 0h2m2 0h2m3 0h1m23 0h6m7 0h4m1 0h1m1 0h1m1 0h3m11 0h2m1 0h1m1 0h2m37 0h2m18 0h2m1 0h2m7 0h5m11 0h1m16 0h1m5 0h1m10 0h2m3 0h1m22 0h2m4 0h1m7 0h1m6 0h1m11 0h1m28 0h1m1 0h3m3 0h1m20 0h1m2 0h1m5 0h3m3 0h7m1 0h1m5 0h4m3 0h3m12 0h5m19 0h4m3 0h2m1 0h2m10 0h2m1 0h3m7 0h2m11 0h2m7 0h2m2 0h1m3 0h5m3 0h3m2 0h1m3 0h2m2 0h2m2 0h2m3 0h4m5 0h2m14 0h1m1 0h4m8 0h3m4 0h7m21 0h2m1 0h2m2 0h2m5 0h3m30 0h2m3 0h2m5 0h1m18 0h2m1 0h2m1 0h4m3 0h1m8 0h2m8 0h3m9 0h3m2 0h2m12 0h1m4 0h1m13 0h3m19 0h5m6 0h3m1 0h2m3 0h2m2 0h1m1 0h2m3 0h2m14 0h1m5 0h4m2 0h6m1 0h2m1 0h2m2 0h1m2 0h3m3 0h3m4 0h2m7 0h3m13 0h2m8 0h2m3 0h1m26 0h2m6 0h3m6 0h3m1 0h2m1 0h1m4 0h3m20 0h2m15 0h2m1 0h2m7 0h2m2 0h2m4 0h1m2 0h1m2 0h3m4 0h1m3 0h3m1 0h4m1 0h1m3 0h2m4 0h1m2 0h3m1 0h3m8 0h3m9 0h2m5 0h2m3 0h7m6 0h2m26 0h3m2 0h2m2 0h2m9 0h3m3 0h1m20 0h1m3 0h3m8 0h2m5 0h1m18 0h1m1 0h1m7 0h1m2 0h1m33 0h2m3 0h3m3 0h2m7 0h5m46 0h3m6 0h1m7 0h5m1 0h2m7 0h2m13 0h1m3 0h1m10 0h4m14 0h1m8 0h3m2 0h1" stroke="#595d6c"/><path d="M285.2 2065.6h1m425 0h1m19 0h1m35 0h1m92 0h1m36 0h1m162 0h2m186 0h1m164 0h2m325 0h1m137 0h1m111 0h1" stroke="#94906d"/><path d="M288.2 2065.6h2m30 0h3m2 0h1m45 0h2m12 0h2m29 0h1m17 0h1m42 0h3m59 0h1m21 0h1m9 0h4m39 0h1m17 0h1m1 0h2m33 0h1m35 0h4m35 0h2m18 0h3m37 0h1m7 0h2m2 0h1m8 0h1m5 0h2m3 0h3m4 0h1m5 0h1m1 0h1m30 0h1m4 0h3m3 0h4m32 0h2m5 0h1m14 0h3m7 0h2m33 0h2m4 0h2m3 0h2m58 0h2m172 0h1m24 0h2m13 0h2m5 0h1m19 0h2m18 0h1m5 0h2m1 0h2m33 0h1m21 0h1m31 0h1m29 0h2m44 0h1m13 0h2m33 0h2m2 0h2m5 0h2m6 0h3m38 0h2m2 0h2m3 0h2m50 0h1m4 0h1m17 0h2m28 0h3m37 0h6m1 0h2m27 0h1m24 0h2m1 0h1m6 0h2m5 0h2m35 0h3m42 0h2m47 0h1m12 0h2m53 0h2" stroke="#777770"/><path d="M306.2 2065.6h1m42 0h1m237 0h2m47 0h1m17 0h1m66 0h1m168 0h3m298 0h1m45 0h1" stroke="#85836f"/><path d="M316.2 2065.6h2m11 0h2m60 0h1m12 0h1m3 0h1m33 0h1m31 0h1m81 0h1m183 0h1m6 0h1m102 0h1m50 0h1m201 0h1m158 0h1m105 0h1m74 0h2" stroke="#b4a864"/><path d="M409.2 2065.6h1m152 0h1m121 0h1m67 0h1m1 0h1m143 0h2m307 0h1m705 0h1m151 0h2" stroke="#a39c6b"/><path d="M436.2 2065.6h1m55 0h1m3 0h1m20 0h1m42 0h1m119 0h1m158 0h1m22 0h1m56 0h1m11 0h2m337 0h1m58 0h1m137 0h1" stroke="#d4c256"/><path d="M438.2 2065.6h1m26 0h1m23 0h1m243 0h1m141 0h1m9 0h2m15 0h2m4 0h1m890 0h1m17 0h1m28 0h1m85 0h1" stroke="#c4b55d"/><path d="M633.2 2065.6h1m15 0h1m214 0h1m41 0h1m7 0h1m174 0h1m178 0h1m559 0h1m58 0h1m10 0h1m13 0h1" stroke="#e3ce50"/><path d="M806.2 2065.6h1m108 0h1m76 0h2m62 0h3m87 0h2m682 0h2" stroke="#494f66"/><path d="M1377.2 2065.6h2" stroke="#f0da46"/><path d="M278.2 2089.6h347M629.2 2089.6h46M680.2 2089.6h19M704.2 2089.6h74M783.2 2089.6h15M803.2 2089.6h17M825.2 2089.6h115M945.2 2089.6h34M984.2 2089.6h199M1188.2 2089.6h33M1226.2 2089.6h862" stroke="#384266"/><path d="M278.2 2089.6h2m18 0h3m1 0h5m10 0h2m1 0h5m7 0h3m16 0h2m5 0h1m3 0h4m13 0h3m2 0h1m2 0h4m6 0h9m7 0h3m10 0h4m3 0h2m3 0h2m2 0h2m4 0h3m6 0h2m2 0h2m5 0h1m5 0h1m1 0h2m3 0h2m6 0h2m2 0h1m9 0h5m4 0h2m4 0h2m1 0h3m1 0h1m5 0h1m6 0h1m4 0h2m4 0h1m25 0h7m3 0h3m4 0h5m22 0h6m6 0h1m9 0h3m4 0h3m5 0h2m8 0h1m5 0h3m108 0h3m2 0h8m7 0h3m6 0h2m2 0h2m1 0h1m76 0h2m33 0h2m444 0h1m111 0h1m114 0h2m23 0h1m178 0h1m106 0h1m52 0h3m34 0h1m33 0h3" stroke="#2a3668"/><path d="M280.2 2089.6h3m280 0h2m5 0h2m72 0h2m12 0h2m70 0h2m54 0h1m9 0h2m11 0h2m3 0h2m2 0h1m16 0h1m390 0h1m26 0h3m1 0h1m11 0h1m5 0h3m33 0h1m2 0h2m10 0h2m5 0h2m23 0h3m11 0h4m2 0h4m10 0h2m13 0h1m16 0h3m8 0h1m1 0h1m4 0h3m1 0h1m10 0h1m16 0h1m12 0h2m12 0h1m8 0h3m1 0h2m28 0h6m5 0h4m4 0h3m31 0h1m1 0h1m22 0h1m9 0h3m2 0h3m2 0h3m4 0h1m16 0h3m10 0h3m3 0h1m17 0h3m18 0h2m42 0h2m13 0h2m28 0h1m3 0h1m14 0h3m13 0h1m6 0h3m23 0h2m22 0h1m5 0h1m4 0h2m7 0h2m5 0h1m3 0h1m41 0h1m1 0h2m1 0h2m29 0h3m27 0h1m20 0h3m6 0h3" stroke="#313c67"/><path d="M283.2 2089.6h1m2 0h12m3 0h1m10 0h5m2 0h1m5 0h7m3 0h4m2 0h10m2 0h5m1 0h3m4 0h3m2 0h1m2 0h5m3 0h2m1 0h2m6 0h4m12 0h4m3 0h10m4 0h3m7 0h2m4 0h2m3 0h3m5 0h2m2 0h5m1 0h5m1 0h1m2 0h3m2 0h6m2 0h2m1 0h9m5 0h4m2 0h3m3 0h1m3 0h1m3 0h2m2 0h6m4 0h1m2 0h4m1 0h12m3 0h5m3 0h2m7 0h3m3 0h4m5 0h22m15 0h7m5 0h2m3 0h3m6 0h1m3 0h2m1 0h5m115 0h1m18 0h1m4 0h1" stroke="#233068"/><path d="M284.2 2089.6h2m21 0h5m27 0h2m28 0h2m1 0h2m17 0h2m13 0h3m26 0h3m6 0h2m8 0h3m60 0h1m8 0h2m2 0h1m8 0h3m20 0h1m9 0h1m56 0h2m1 0h2m20 0h2m5 0h3" stroke="#1c2a68"/><path d="M680.2 2089.6h2m4 0h3m8 0h1m19 0h1m25 0h2m6 0h3m82 0h3m40 0h2m34 0h3m15 0h2m10 0h1m1 0h2m4 0h6m7 0h3m2 0h1m1 0h1m2 0h2m462 0h2" stroke="#696b71"/><path d="M682.2 2089.6h4m4 0h1m3 0h2m13 0h1m13 0h2m4 0h1m3 0h3m13 0h2m5 0h4m1 0h1m4 0h1m8 0h3m53 0h1m7 0h1m2 0h8m7 0h4m1 0h4m8 0h1m6 0h1m2 0h2m3 0h3m1 0h1m4 0h1m1 0h1m2 0h5m5 0h2m5 0h2m4 0h1m2 0h2m18 0h2m277 0h2m13 0h3m3 0h1m8 0h1m21 0h4m18 0h3m11 0h1m4 0h5m2 0h3m16 0h1m15 0h1m88 0h3m7 0h2m8 0h2m8 0h3m5 0h2m3 0h1m6 0h1m1 0h3m19 0h3m2 0h1m6 0h1m2 0h1m89 0h1m60 0h1m13 0h2m14 0h2m2 0h3m6 0h3m4 0h1m10 0h3m14 0h1m14 0h3m9 0h2m3 0h2m5 0h2m11 0h1m3 0h1m31 0h2m4 0h3m10 0h4m4 0h2m4 0h2m20 0h2m3 0h2m13 0h3m17 0h2m8 0h1m21 0h2m4 0h1m4 0h1m3 0h1m7 0h1m33 0h2m1 0h3m7 0h2m3 0h5" stroke="#494f66"/><path d="M689.2 2089.6h1m2 0h2m4 0h1m5 0h1m8 0h2m3 0h1m1 0h3m2 0h1m1 0h2m3 0h1m14 0h2m5 0h1m13 0h3m54 0h2m13 0h2m11 0h4m10 0h2m2 0h1m5 0h2m3 0h2m8 0h1m8 0h1m6 0h2m28 0h1m7 0h1m4 0h2m7 0h6m3 0h2m3 0h2m310 0h2m554 0h3m55 0h1m5 0h2m123 0h1m49 0h1" stroke="#595d6c"/><path d="M691.2 2089.6h1m267 0h1m12 0h1" stroke="#85836f"/><path d="M696.2 2089.6h1m169 0h1m8 0h1m49 0h1m684 0h1m4 0h1m331 0h1m8 0h1" stroke="#c4b55d"/><path d="M705.2 2089.6h2m33 0h1m120 0h1m116 0h1m281 0h1m78 0h1" stroke="#a39c6b"/><path d="M710.2 2089.6h3m25 0h2m5 0h1m16 0h2m1 0h1m5 0h4m52 0h2m3 0h3m15 0h1m1 0h1m16 0h2m15 0h1m7 0h1m23 0h2m2 0h2m3 0h2m7 0h2m1 0h1m294 0h2m6 0h1m18 0h1m5 0h2m1 0h1m18 0h1m2 0h5m12 0h2m1 0h2m4 0h2m18 0h1m1 0h4m4 0h2m3 0h3m5 0h2m4 0h3m6 0h1m10 0h2m5 0h2m7 0h2m3 0h2m6 0h7m4 0h5m16 0h2m5 0h2m7 0h2m32 0h1m8 0h3m6 0h5m8 0h2m4 0h3m4 0h2m6 0h2m7 0h4m12 0h6m1 0h1m6 0h7m2 0h1m1 0h4m2 0h1m1 0h2m1 0h1m4 0h3m16 0h2m8 0h4m1 0h4m5 0h1m3 0h1m1 0h1m3 0h1m3 0h6m7 0h1m3 0h1m2 0h1m3 0h3m15 0h4m2 0h1m10 0h3m3 0h2m3 0h7m1 0h2m10 0h2m2 0h1m6 0h5m10 0h2m1 0h5m2 0h3m4 0h2m6 0h3m1 0h4m1 0h3m1 0h1m7 0h3m2 0h2m7 0h6m5 0h4m5 0h1m2 0h4m7 0h2m5 0h1m7 0h2m10 0h1m9 0h5m3 0h1m8 0h4m2 0h2m4 0h4m2 0h1m1 0h3m4 0h3m4 0h7m1 0h1m7 0h1m4 0h4m5 0h1m8 0h4m4 0h1m3 0h4m2 0h1m9 0h1m10 0h3m16 0h4m7 0h2m4 0h2" stroke="#404866"/><path d="M715.2 2089.6h2m20 0h1m92 0h1m41 0h1m491 0h1m96 0h1m109 0h2m91 0h1m244 0h1" stroke="#e3ce50"/><path d="M719.2 2089.6h1m131 0h1m21 0h1m2 0h1m10 0h2m6 0h1m3 0h1m12 0h1m404 0h1m378 0h1m65 0h1m226 0h2" stroke="#b4a864"/><path d="M741.2 2089.6h2m17 0h1m6 0h1m134 0h1m353 0h1m242 0h2m31 0h1m226 0h1m1 0h1" stroke="#94906d"/><path d="M764.2 2089.6h1m268 0h12" stroke="#f0da46"/><path d="M910.2 2089.6h2m23 0h1" stroke="#777770"/><path d="M984.2 2089.6h49m12 0h138m5 0h33" stroke="#fde73b"/><path d="M1445.2 2089.6h1m33 0h2m140 0h1m8 0h1m70 0h1" stroke="#d4c256"/><path d="M278.2 2113.6h347M629.2 2113.6h46M680.2 2113.6h19M704.2 2113.6h74M783.2 2113.6h15M803.2 2113.6h17M825.2 2113.6h115M945.2 2113.6h34M984.2 2113.6h199M1188.2 2113.6h33M1226.2 2113.6h862" stroke="#595d6c"/><path d="M278.2 2113.6h4m38 0h1m14 0h3m32 0h2m2 0h1m50 0h1m1 0h1m10 0h2m1 0h1m17 0h1m4 0h1m31 0h3m14 0h2m5 0h4m1 0h4m7 0h4m4 0h1m24 0h2m4 0h1m3 0h1m21 0h2m406 0h1m2 0h1m11 0h2m67 0h1m18 0h1m1 0h3m37 0h1m1 0h1m13 0h2m28 0h1m9 0h3" stroke="#404866"/><path d="M285.2 2113.6h2m9 0h1m10 0h1m34 0h2m79 0h1m12 0h1m19 0h1m93 0h1m23 0h1m86 0h1m60 0h1m102 0h1m67 0h1m78 0h1m70 0h1m23 0h2m96 0h1m98 0h1m18 0h2m4 0h1m1 0h1m7 0h1m3 0h1m56 0h1m8 0h2m17 0h1m8 0h2m38 0h2m27 0h2m18 0h2m40 0h2m13 0h1m32 0h1m45 0h2m24 0h2m19 0h2m14 0h1m18 0h1m4 0h1m27 0h1m33 0h1m4 0h2m1 0h2m12 0h1m13 0h1m21 0h2m25 0h1m2 0h1m50 0h1m42 0h3m24 0h2m11 0h1m11 0h1m16 0h1m17 0h2m8 0h2m34 0h1" stroke="#a39c6b"/><path d="M287.2 2113.6h1m3 0h1m3 0h1m4 0h2m9 0h2m8 0h3m1 0h1m1 0h1m16 0h3m1 0h3m2 0h2m7 0h2m1 0h1m3 0h1m3 0h1m2 0h2m7 0h1m5 0h1m1 0h1m4 0h2m4 0h1m1 0h5m2 0h4m4 0h1m2 0h1m7 0h3m12 0h1m1 0h1m2 0h1m12 0h9m3 0h5m2 0h1m5 0h3m10 0h1m1 0h3m7 0h1m2 0h1m13 0h4m4 0h3m13 0h2m3 0h1m3 0h4m7 0h1m4 0h2m3 0h1m2 0h5m1 0h4m4 0h1m7 0h7m1 0h3m2 0h1m14 0h1m3 0h3m1 0h2m31 0h3m13 0h3m55 0h1m36 0h3m11 0h2m10 0h3m34 0h3m23 0h2m19 0h1m5 0h1m19 0h3m18 0h2m41 0h6m4 0h2m1 0h1m1 0h3m1 0h2m7 0h1m6 0h2m6 0h2m3 0h3m2 0h4m1 0h1m7 0h3m2 0h2m6 0h1m3 0h1m1 0h2m1 0h2m8 0h3m2 0h1m1 0h2m2 0h1m1 0h3m18 0h1m5 0h4m4 0h3m3 0h1m1 0h3m9 0h3m1 0h2m11 0h3m3 0h3m5 0h4m5 0h3m6 0h4m219 0h1m21 0h2m61 0h1m72 0h2m10 0h1m72 0h2m33 0h1m14 0h1m44 0h1m10 0h1m7 0h1m33 0h2m1 0h1m27 0h2m25 0h3m28 0h1m11 0h2m16 0h1m43 0h1m48 0h1m13 0h1" stroke="#494f66"/><path d="M288.2 2113.6h3m7 0h2m8 0h2m3 0h1m10 0h1m34 0h3m28 0h1m60 0h1m9 0h2m20 0h1m5 0h1m5 0h1m14 0h2m5 0h1m33 0h2m34 0h2m20 0h1m8 0h1m15 0h2m1 0h2m13 0h1m1 0h1m8 0h2m7 0h3m15 0h6m12 0h2m9 0h1m3 0h5m7 0h5m22 0h1m2 0h6m18 0h2m3 0h1m18 0h1m1 0h2m9 0h2m3 0h1m1 0h1m7 0h2m2 0h5m8 0h1m17 0h3m15 0h3m7 0h3m1 0h1m9 0h1m1 0h1m2 0h1m12 0h1m15 0h1m2 0h2m5 0h2m1 0h1m7 0h2m11 0h1m31 0h1m13 0h2m4 0h1m13 0h2m6 0h2m33 0h1m12 0h1m9 0h2m14 0h1m9 0h1m3 0h6m6 0h1m2 0h2m27 0h2m20 0h5m8 0h4m5 0h3m4 0h6m5 0h1m3 0h1m6 0h1m28 0h2m2 0h1m1 0h1m8 0h1m2 0h7m1 0h1m2 0h3m8 0h2m8 0h4m5 0h3m1 0h3m5 0h1m10 0h3m13 0h3m4 0h2m6 0h7m3 0h1m2 0h1m1 0h2m1 0h4m1 0h1m1 0h1m3 0h1m5 0h1m7 0h1m7 0h3m1 0h4m3 0h4m1 0h4m13 0h2m8 0h1m5 0h3m1 0h1m9 0h2m1 0h3m6 0h1m2 0h1m2 0h1m13 0h1m19 0h2m5 0h2m7 0h2m2 0h6m14 0h2m2 0h2m18 0h1m2 0h1m11 0h3m19 0h1m22 0h2m3 0h2m1 0h1m6 0h1m2 0h3m1 0h1m6 0h1m6 0h3m2 0h1m16 0h1m10 0h1m5 0h2m10 0h2m2 0h1m2 0h2m1 0h3m3 0h1m4 0h2m1 0h3m7 0h2m15 0h1m2 0h2m4 0h5m5 0h2m4 0h2m9 0h3m11 0h3m6 0h3m8 0h1m5 0h3m2 0h1m18 0h1m7 0h1m1 0h1m3 0h4m6 0h1m2 0h1m5 0h1m2 0h2m1 0h2m1 0h3m6 0h2m6 0h3m1 0h3m6 0h3m9 0h3m5 0h1m6 0h5m8 0h1m6 0h2m1 0h1m2 0h1m2 0h8m3 0h3m2 0h1m2 0h1m1 0h1" stroke="#696b71"/><path d="M297.2 2113.6h1m19 0h1m8 0h1m69 0h1m4 0h1m16 0h2m33 0h1m20 0h1m49 0h1m230 0h1m101 0h1m26 0h1m26 0h2m51 0h1m33 0h1m4 0h1m17 0h1m120 0h1m12 0h1m57 0h1m65 0h1m1 0h1m45 0h1m39 0h1m4 0h2m13 0h1m33 0h1m39 0h1m16 0h1m3 0h1m1 0h1m8 0h1m16 0h1m47 0h1m13 0h1m2 0h1m3 0h1m29 0h1m21 0h1m24 0h2m18 0h1m2 0h1m15 0h1m43 0h1m3 0h1m9 0h1m10 0h2m49 0h1m6 0h1m8 0h1m26 0h1m31 0h1m10 0h4m1 0h1m37 0h1m12 0h2m83 0h1m29 0h2" stroke="#c4b55d"/><path d="M318.2 2113.6h2m27 0h1m78 0h1m77 0h1m100 0h1m47 0h1m94 0h1m256 0h1m7 0h1m8 0h1m143 0h2m109 0h1m8 0h2m22 0h1m15 0h1m14 0h3m30 0h1m4 0h2m3 0h1m30 0h2m18 0h1m3 0h2m42 0h1m18 0h3m8 0h1m33 0h1m6 0h1m14 0h1m68 0h2m1 0h1m22 0h1m36 0h1m16 0h1m9 0h2m19 0h1m7 0h1m16 0h1m51 0h1m14 0h1m1 0h1m74 0h2m46 0h2m20 0h2m24 0h3" stroke="#85836f"/><path d="M328.2 2113.6h2m124 0h2m148 0h1m66 0h1m11 0h1m21 0h3m24 0h3m36 0h1m23 0h3m84 0h2m1 0h1m186 0h2m43 0h1m115 0h1m7 0h1m17 0h5m4 0h4m3 0h2m11 0h1m1 0h1m1 0h2m2 0h2m8 0h3m20 0h1m1 0h1m4 0h3m22 0h2m5 0h1m45 0h1m39 0h3m16 0h1m14 0h2m4 0h1m2 0h1m1 0h2m14 0h1m1 0h1m1 0h2m2 0h1m6 0h3m8 0h2m2 0h2m2 0h2m5 0h2m12 0h2m6 0h1m6 0h1m16 0h2m4 0h1m11 0h1m3 0h1m3 0h3m1 0h5m8 0h2m8 0h1m9 0h1m2 0h1m2 0h1m8 0h2m5 0h2m4 0h2m25 0h2m14 0h1m11 0h1m9 0h1m16 0h1m36 0h1m14 0h2m21 0h1m2 0h1m3 0h1m5 0h4m3 0h1m10 0h2m37 0h1m6 0h1m8 0h3m8 0h2m11 0h1m3 0h2m19 0h1m11 0h1m12 0h3m4 0h2m4 0h1m2 0h1m1 0h1m1 0h1m2 0h1m9 0h2m4 0h1m11 0h2m8 0h1m13 0h1m1 0h1" stroke="#777770"/><path d="M330.2 2113.6h1m91 0h1m25 0h1m39 0h1m12 0h1m17 0h1m135 0h1m121 0h1m58 0h1m82 0h1m17 0h1m15 0h2m82 0h1m12 0h1m89 0h2m52 0h2m86 0h1m47 0h1m65 0h1m8 0h1m89 0h2m69 0h2m43 0h2m3 0h1m49 0h2m32 0h1m49 0h1m8 0h1m51 0h1m55 0h2m65 0h1m5 0h2m111 0h1" stroke="#e3ce50"/><path d="M351.2 2113.6h2m2 0h1m74 0h1m9 0h1m9 0h1m179 0h2m54 0h1m77 0h1m7 0h2m38 0h1m62 0h1m22 0h1m26 0h1m45 0h1m28 0h1m112 0h1m120 0h1m7 0h1m58 0h1m54 0h1m18 0h1m19 0h1m5 0h1m1 0h1m2 0h1m109 0h1m1 0h1m36 0h1m48 0h1m14 0h1m72 0h1m17 0h1m51 0h1m18 0h1m8 0h1m25 0h2m6 0h2m16 0h1m33 0h2m13 0h1m22 0h2m1 0h1m7 0h2m5 0h1m40 0h1m8 0h1m7 0h1m22 0h1m69 0h1" stroke="#b4a864"/><path d="M364.2 2113.6h1m15 0h1m22 0h1m59 0h1m29 0h2m21 0h1m116 0h1m8 0h1m132 0h2m55 0h1m7 0h1m22 0h1m172 0h1m5 0h1m49 0h1m34 0h1m104 0h1m41 0h1m29 0h1m6 0h1m20 0h1m19 0h1m13 0h1m64 0h1m9 0h1m11 0h1m36 0h1m7 0h1m52 0h2m9 0h1m21 0h1m30 0h1m26 0h1m53 0h1m2 0h1m6 0h1m20 0h1m16 0h2m8 0h1m1 0h1m32 0h1m23 0h1m22 0h2m2 0h1m34 0h1m7 0h2m4 0h1m2 0h1m14 0h2m14 0h1m37 0h1m22 0h1m7 0h1m38 0h1m7 0h1m5 0h1m12 0h2m20 0h2" stroke="#d4c256"/><path d="M386.2 2113.6h2m47 0h1m124 0h1m22 0h3m430 0h2m11 0h3m54 0h3m12 0h1m7 0h1m788 0h3" stroke="#384266"/><path d="M402.2 2113.6h1m128 0h1m32 0h1m12 0h2m31 0h1m40 0h1m16 0h1m59 0h2m11 0h2m91 0h1m62 0h1m12 0h1m27 0h1m51 0h1m63 0h1m146 0h2m23 0h1m8 0h1m21 0h1m8 0h2m34 0h1m25 0h1m10 0h1m23 0h2m81 0h1m21 0h1m65 0h2m8 0h1m3 0h1m14 0h3m55 0h1m60 0h2m27 0h1m11 0h3m4 0h2m14 0h2m12 0h1m22 0h1m49 0h2m34 0h1m61 0h1m1 0h1m8 0h1m3 0h1m16 0h1m27 0h1m60 0h1" stroke="#94906d"/></g><defs><linearGradient id="civ" x1="0" x2="1" y1="0" y2="0"><stop offset="0" stop-color="#1a2850"/><stop offset="0.222" stop-color="#33477a"/><stop offset="0.444" stop-color="#6f7075"/><stop offset="0.667" stop-color="#a39c70"/><stop offset="0.889" stop-color="#e2cd53"/><stop offset="1" stop-color="#fde73b"/></linearGradient></defs><rect x="1433.2" y="2138.2" width="656.7" height="19.2" fill="url(#civ)" stroke="#39425a" stroke-width="0.6"/><text x="1237.6" y="2159" font-size="23.8" >Expression</text><path d="M1446.4 2157.4v-3.5" stroke="#e8e8e8" stroke-width="0.8"/><text x="1431.5" y="2183.5" font-size="22.2" text-anchor="middle" >−2</text><path d="M1588.8 2157.4v-3.5" stroke="#e8e8e8" stroke-width="0.8"/><text x="1572.6" y="2183.5" font-size="22.2" text-anchor="middle" >−1</text><path d="M1731.2 2157.4v-3.5" stroke="#e8e8e8" stroke-width="0.8"/><text x="1728.5" y="2183.5" font-size="22.2" text-anchor="middle" >0</text><path d="M1873.6 2157.4v-3.5" stroke="#e8e8e8" stroke-width="0.8"/><text x="1870.9" y="2183.5" font-size="22.2" text-anchor="middle" >1</text><path d="M2016.0 2157.4v-3.5" stroke="#e8e8e8" stroke-width="0.8"/><text x="2014.3" y="2183.5" font-size="22.2" text-anchor="middle" >2</text></svg></body></html>
